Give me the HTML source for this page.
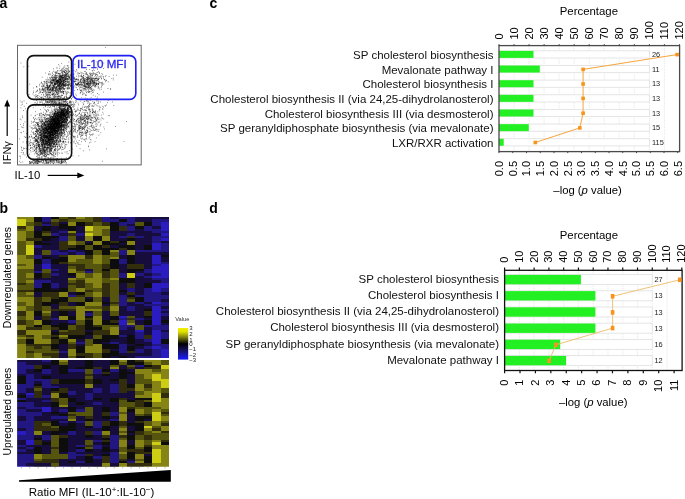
<!DOCTYPE html>
<html><head><meta charset="utf-8"><style>
html,body{margin:0;padding:0;background:#fff;width:685px;height:499px;overflow:hidden}
svg{display:block;font-family:"Liberation Sans",sans-serif;will-change:transform}
</style></head><body><svg width="685" height="499" viewBox="0 0 685 499" font-family="'Liberation Sans', sans-serif"><rect width="685" height="499" fill="#fff"/><text x="-0.60" y="7.70" font-size="14" text-anchor="start" font-weight="bold" fill="#000" >a</text><text x="-0.60" y="213.00" font-size="14" text-anchor="start" font-weight="bold" fill="#000" >b</text><text x="209.40" y="7.80" font-size="14" text-anchor="start" font-weight="bold" fill="#000" >c</text><text x="209.30" y="213.00" font-size="14" text-anchor="start" font-weight="bold" fill="#000" >d</text><path d="M53.4 119.5h.7M60.2 121.2h.7M47.7 118.3h.7M57.5 131.6h.7M52.9 123.8h.7M49.1 126.7h.7M58.6 122.5h.7M67.6 115.5h.7M55.9 126.4h.7M58.1 129.2h.7M59.9 119.0h.7M63.6 122.9h.7M62.4 124.7h.7M52.1 128.2h.7M62.5 126.2h.7M61.0 117.6h.7M50.8 131.6h.7M51.1 122.6h.7M46.6 134.4h.7M53.8 133.1h.7M42.9 131.2h.7M58.4 125.4h.7M52.2 131.8h.7M59.4 120.9h.7M49.1 114.8h.7M55.7 123.0h.7M47.3 141.3h.7M51.4 123.7h.7M57.1 122.6h.7M48.2 114.7h.7M52.2 134.5h.7M52.1 123.5h.7M55.7 131.2h.7M45.8 122.6h.7M64.9 116.5h.7M52.1 127.0h.7M60.0 124.4h.7M57.7 113.3h.7M51.7 124.4h.7M65.3 129.0h.7M54.3 118.9h.7M54.5 119.6h.7M49.9 129.8h.7M53.4 118.7h.7M68.3 115.8h.7M56.2 137.5h.7M58.4 114.1h.7M50.8 116.4h.7M58.5 129.7h.7M71.1 111.1h.7M63.9 119.0h.7M55.7 133.5h.7M54.0 119.1h.7M59.1 117.5h.7M50.6 119.5h.7M54.8 113.3h.7M60.5 125.2h.7M57.6 115.5h.7M73.0 118.3h.7M54.0 126.9h.7M55.5 118.8h.7M57.9 127.4h.7M64.7 126.1h.7M53.1 131.6h.7M49.4 122.7h.7M57.5 124.4h.7M66.8 119.5h.7M60.6 112.7h.7M47.5 129.1h.7M57.1 130.3h.7M60.7 117.9h.7M43.0 132.8h.7M53.2 124.2h.7M53.6 120.6h.7M64.3 114.1h.7M60.8 117.5h.7M59.9 127.4h.7M58.0 126.5h.7M49.6 119.4h.7M66.0 112.5h.7M58.4 127.4h.7M57.3 125.4h.7M62.8 122.4h.7M54.3 121.3h.7M52.3 120.8h.7M55.2 132.3h.7M52.8 119.1h.7M46.3 119.1h.7M66.7 116.7h.7M57.3 115.5h.7M55.7 121.3h.7M54.8 113.5h.7M50.1 120.7h.7M57.6 111.5h.7M55.6 121.0h.7M61.3 119.0h.7M41.7 124.7h.7M61.6 121.7h.7M44.1 130.5h.7M42.9 133.2h.7M58.2 126.0h.7M52.3 128.1h.7M51.8 116.6h.7M75.2 111.4h.7M49.6 125.4h.7M54.9 127.0h.7M58.8 121.1h.7M65.0 122.5h.7M54.3 122.0h.7M60.0 126.2h.7M57.5 115.1h.7M63.9 121.5h.7M49.0 127.1h.7M55.2 121.6h.7M64.6 127.0h.7M53.1 130.2h.7M58.7 120.5h.7M61.6 134.1h.7M63.2 116.2h.7M54.7 118.4h.7M60.3 123.4h.7M49.5 122.9h.7M60.9 125.9h.7M52.0 139.2h.7M49.2 128.3h.7M56.3 117.7h.7M47.3 137.3h.7M61.2 116.1h.7M44.6 131.5h.7M62.9 118.3h.7M44.8 122.3h.7M59.1 115.4h.7M56.1 120.0h.7M48.4 131.9h.7M64.3 114.1h.7M59.2 108.6h.7M59.0 124.1h.7M55.0 123.4h.7M53.7 121.3h.7M46.9 125.0h.7M57.7 111.1h.7M55.8 126.8h.7M53.0 119.7h.7M53.4 127.7h.7M58.1 129.3h.7M54.8 133.7h.7M69.3 117.5h.7M55.1 122.3h.7M57.4 112.3h.7M61.1 124.7h.7M54.8 127.7h.7M59.8 127.4h.7M54.3 125.9h.7M61.7 125.2h.7M58.5 126.9h.7M58.4 126.1h.7M52.3 133.0h.7M54.6 128.7h.7M66.0 111.1h.7M54.6 127.3h.7M55.8 132.1h.7M56.6 118.2h.7M70.7 117.0h.7M49.5 131.8h.7M59.9 126.2h.7M53.6 126.2h.7M47.4 133.6h.7M68.6 122.5h.7M55.7 121.3h.7M52.3 118.0h.7M50.5 125.3h.7M58.0 118.0h.7M62.8 131.7h.7M57.1 123.6h.7M55.3 132.3h.7M47.1 127.7h.7M64.9 113.7h.7M57.2 127.4h.7M65.5 124.9h.7M54.1 120.3h.7M57.2 126.7h.7M55.7 126.4h.7M56.1 114.8h.7M55.5 124.0h.7M55.2 122.3h.7M48.0 115.4h.7M65.1 115.5h.7M62.4 118.7h.7M57.1 118.1h.7M49.0 122.2h.7M56.1 135.7h.7M62.7 116.1h.7M65.7 118.1h.7M61.9 126.9h.7M57.6 116.8h.7M64.0 118.8h.7M60.1 115.5h.7M61.2 115.4h.7M54.4 124.9h.7M64.4 111.4h.7M55.3 133.7h.7M61.7 116.3h.7M58.8 118.1h.7M60.2 115.2h.7M67.5 109.9h.7M60.7 109.2h.7M49.4 128.6h.7M48.6 133.6h.7M58.8 114.8h.7M51.6 128.7h.7M54.5 120.4h.7M69.0 121.7h.7M54.2 137.1h.7M48.5 137.9h.7M58.1 120.0h.7M65.8 127.7h.7M57.1 124.6h.7M56.8 121.5h.7M54.0 128.8h.7M50.8 133.4h.7M61.7 127.0h.7M52.2 128.7h.7M57.2 139.2h.7M56.0 116.1h.7M59.4 124.3h.7M55.0 116.4h.7M59.3 133.9h.7M52.5 125.7h.7M51.9 128.8h.7M56.3 130.7h.7M62.9 124.1h.7M48.8 124.4h.7M57.4 118.6h.7M53.2 115.8h.7M67.4 108.3h.7M49.8 131.4h.7M60.0 114.9h.7M53.9 120.7h.7M55.4 121.0h.7M47.0 130.0h.7M56.8 126.7h.7M66.6 121.0h.7M49.0 117.3h.7M56.9 121.1h.7M53.9 122.9h.7M64.6 115.3h.7M53.2 119.5h.7M45.7 136.9h.7M49.5 124.0h.7M50.1 137.6h.7M41.5 144.9h.7M53.8 125.2h.7M65.0 113.7h.7M56.3 121.0h.7M45.2 125.9h.7M54.8 130.2h.7M63.6 114.9h.7M57.2 120.5h.7M61.1 124.4h.7M61.5 125.7h.7M52.9 118.7h.7M57.9 114.2h.7M65.8 122.4h.7M63.6 124.4h.7M49.0 127.2h.7M54.8 115.2h.7M51.2 125.0h.7M60.4 113.0h.7M44.6 126.5h.7M56.5 123.0h.7M51.9 118.5h.7M45.8 127.9h.7M69.0 112.5h.7M61.4 110.0h.7M54.5 125.0h.7M63.2 118.4h.7M62.0 121.6h.7M42.9 139.3h.7M58.4 120.4h.7M53.5 120.2h.7M64.3 126.2h.7M54.3 131.3h.7M51.3 120.8h.7M56.1 123.3h.7M65.6 115.7h.7M60.5 121.0h.7M64.2 127.1h.7M69.9 115.1h.7M52.2 124.4h.7M54.8 124.5h.7M43.1 131.1h.7M65.6 111.8h.7M62.3 115.7h.7M72.1 123.1h.7M60.6 117.6h.7M49.3 115.5h.7M55.4 118.6h.7M56.2 124.1h.7M51.1 120.0h.7M53.9 119.2h.7M62.9 110.5h.7M61.1 119.1h.7M56.1 122.0h.7M50.7 123.6h.7M57.0 128.6h.7M62.7 109.4h.7M57.5 117.1h.7M51.9 117.7h.7M52.2 122.2h.7M54.2 131.5h.7M50.3 118.0h.7M61.0 115.7h.7M57.9 126.7h.7M54.4 122.5h.7M56.9 124.2h.7M53.1 118.2h.7M54.4 136.7h.7M60.2 126.7h.7M53.8 128.6h.7M54.4 111.0h.7M49.1 124.5h.7M63.7 120.7h.7M71.2 116.1h.7M56.6 125.0h.7M59.0 129.6h.7M55.5 119.0h.7M56.2 121.5h.7M52.2 128.9h.7M60.9 120.0h.7M60.8 103.8h.7M59.4 126.4h.7M61.2 127.1h.7M47.4 126.1h.7M53.2 116.0h.7M52.3 131.6h.7M49.0 127.9h.7M53.9 106.6h.7M55.8 130.5h.7M62.9 114.9h.7M62.6 110.1h.7M66.6 126.0h.7M60.2 118.5h.7M63.6 106.3h.7M56.4 123.6h.7M50.0 123.3h.7M47.4 129.3h.7M58.7 122.8h.7M62.0 110.2h.7M59.9 114.1h.7M59.0 133.2h.7M56.2 130.3h.7M57.7 127.7h.7M60.5 121.4h.7M57.9 124.8h.7M63.8 124.5h.7M58.4 119.9h.7M62.8 129.2h.7M53.1 119.7h.7M57.0 119.9h.7M51.2 118.8h.7M58.1 117.5h.7M68.2 110.4h.7M65.6 121.9h.7M54.7 119.8h.7M48.8 133.8h.7M57.5 118.3h.7M44.6 133.5h.7M45.5 128.5h.7M61.4 116.2h.7M53.6 112.3h.7M56.7 123.3h.7M48.7 134.0h.7M52.6 122.8h.7M49.7 123.9h.7M54.7 113.8h.7M75.4 111.4h.7M52.8 116.8h.7M59.3 131.7h.7M53.7 131.8h.7M55.3 121.4h.7M51.6 120.0h.7M55.5 132.9h.7M64.4 126.0h.7M47.7 127.4h.7M61.2 113.4h.7M66.3 117.5h.7M63.6 115.4h.7M62.6 130.8h.7M57.3 116.8h.7M58.5 124.4h.7M50.2 121.3h.7M63.6 130.1h.7M47.8 129.0h.7M41.3 126.0h.7M60.4 116.1h.7M55.5 122.9h.7M65.6 125.8h.7M60.6 114.1h.7M48.5 134.0h.7M55.5 129.1h.7M64.1 125.1h.7M58.7 119.1h.7M59.2 127.5h.7M64.1 116.3h.7M56.9 119.7h.7M51.4 130.7h.7M52.6 128.6h.7M57.3 113.9h.7M64.0 122.1h.7M42.3 131.4h.7M68.2 115.8h.7M63.7 120.5h.7M63.2 112.4h.7M52.1 122.6h.7M54.7 123.4h.7M53.4 131.1h.7M72.3 106.4h.7M57.3 124.0h.7M68.6 113.7h.7M51.7 125.0h.7M58.7 121.5h.7M42.7 129.3h.7M58.1 126.8h.7M62.4 115.6h.7M49.3 129.6h.7M66.8 117.7h.7M61.4 121.6h.7M40.8 121.5h.7M54.7 125.6h.7M49.0 121.2h.7M61.0 125.3h.7M64.2 132.6h.7M50.9 126.3h.7M55.8 124.3h.7M51.0 128.5h.7M52.1 131.9h.7M59.3 124.1h.7M66.4 119.4h.7M45.7 129.9h.7M63.2 126.3h.7M50.2 124.0h.7M53.3 129.6h.7M65.7 119.2h.7M57.3 127.6h.7M60.6 109.0h.7M50.4 125.5h.7M57.1 118.0h.7M55.7 123.4h.7M57.8 130.4h.7M54.8 114.4h.7M58.1 124.4h.7M62.3 119.5h.7M59.0 123.9h.7M53.5 130.8h.7M62.5 126.9h.7M59.2 123.0h.7M65.0 117.7h.7M54.8 129.9h.7M63.9 127.2h.7M41.1 128.8h.7M65.2 121.0h.7M50.7 128.8h.7M47.1 133.8h.7M52.9 119.7h.7M55.0 109.2h.7M48.1 131.6h.7M49.0 127.7h.7M55.3 128.5h.7M45.7 125.8h.7M64.5 123.3h.7M54.1 128.4h.7M52.5 126.3h.7M57.1 116.0h.7M50.2 125.1h.7M54.7 115.9h.7M50.1 127.3h.7M51.1 130.5h.7M47.4 134.3h.7M60.5 105.1h.7M54.4 123.5h.7M54.7 117.8h.7M57.5 122.7h.7M65.1 126.0h.7M59.7 123.4h.7M65.1 107.9h.7M45.5 124.8h.7M43.8 128.9h.7M45.4 124.4h.7M53.3 133.3h.7M57.6 114.7h.7M61.2 116.5h.7M49.9 127.0h.7M50.6 131.9h.7M60.8 128.3h.7M61.1 110.4h.7M41.9 140.7h.7M56.4 116.1h.7M55.2 131.9h.7M58.0 111.9h.7M47.3 126.4h.7M50.2 120.2h.7M44.1 128.6h.7M54.1 130.1h.7M73.9 119.4h.7M57.1 113.5h.7M58.8 127.4h.7M53.7 128.8h.7M43.4 132.2h.7M54.0 124.0h.7M55.9 121.6h.7M53.9 120.7h.7M64.1 128.0h.7M44.0 124.6h.7M58.2 123.5h.7M58.1 123.2h.7M61.0 111.4h.7M66.7 109.4h.7M59.8 125.4h.7M53.9 127.8h.7M58.3 123.6h.7M56.8 128.1h.7M45.4 121.6h.7M62.5 126.5h.7M60.9 135.5h.7M63.8 120.5h.7M60.5 125.5h.7M52.7 116.4h.7M55.6 122.9h.7M50.3 124.8h.7M50.1 127.0h.7M59.6 126.3h.7M51.2 123.6h.7M57.6 120.0h.7M49.5 116.8h.7M49.7 131.0h.7M57.7 121.8h.7M47.7 129.4h.7M51.2 124.3h.7M63.0 129.2h.7M42.1 133.1h.7M53.3 118.5h.7M54.6 118.7h.7M60.9 126.4h.7M63.2 130.7h.7M56.5 125.5h.7M49.4 126.8h.7M54.0 122.7h.7M58.5 128.8h.7M53.9 118.9h.7M56.8 134.4h.7M63.7 124.3h.7M58.0 121.2h.7M58.9 124.8h.7M57.8 127.1h.7M65.8 122.4h.7M44.8 130.7h.7M63.9 122.0h.7M56.7 119.3h.7M55.4 117.9h.7M59.3 119.6h.7M53.0 126.0h.7M51.9 121.1h.7M53.8 113.2h.7M55.4 116.4h.7M63.7 124.6h.7M57.3 137.9h.7M62.2 120.0h.7M67.4 117.1h.7M59.9 113.5h.7M57.8 120.2h.7M50.5 133.6h.7M57.3 112.5h.7M52.4 120.3h.7M45.0 139.9h.7M57.6 118.5h.7M45.5 129.5h.7M52.2 132.1h.7M52.9 125.7h.7M67.2 116.0h.7M55.2 124.6h.7M57.1 119.3h.7M66.0 110.2h.7M64.1 110.4h.7M53.9 120.9h.7M54.2 122.6h.7M53.8 132.8h.7M56.2 128.6h.7M64.1 122.6h.7M52.3 114.6h.7M56.0 120.2h.7M60.2 113.9h.7M53.9 127.9h.7M54.9 121.1h.7M58.5 115.5h.7M62.9 120.1h.7M62.9 115.0h.7M54.3 116.0h.7M60.7 127.8h.7M62.7 122.2h.7M49.9 127.4h.7M52.3 135.7h.7M56.9 115.9h.7M61.2 125.5h.7M57.6 119.3h.7M45.6 131.6h.7M53.8 123.5h.7M51.1 124.1h.7M53.5 128.5h.7M46.7 138.2h.7M55.5 124.4h.7M59.2 114.2h.7M44.5 109.3h.7M54.4 126.4h.7M49.5 116.9h.7M61.6 117.4h.7M48.0 144.3h.7M57.5 123.6h.7M58.1 117.1h.7M59.6 116.8h.7M64.8 109.8h.7M60.4 112.6h.7M56.2 118.2h.7M54.8 117.4h.7M65.5 119.8h.7M54.3 125.7h.7M60.6 124.9h.7M60.4 115.0h.7M66.8 108.6h.7M55.6 122.6h.7M58.6 123.6h.7M61.2 122.9h.7M64.5 113.3h.7M54.2 120.4h.7M61.1 109.6h.7M58.8 133.3h.7M55.0 122.5h.7M54.9 122.6h.7M66.6 120.6h.7M66.4 117.7h.7M51.7 134.0h.7M51.0 127.3h.7M67.9 126.1h.7M55.3 127.7h.7M51.7 134.1h.7M61.4 114.3h.7M53.8 114.7h.7M54.2 114.9h.7M56.3 126.4h.7M63.6 115.9h.7M54.9 123.0h.7M57.7 111.1h.7M46.9 124.4h.7M51.5 127.0h.7M52.3 116.6h.7M57.1 129.4h.7M64.8 120.5h.7M69.4 128.0h.7M56.0 130.8h.7M55.0 119.9h.7M51.9 122.0h.7M47.9 106.1h.7M51.6 124.8h.7M54.2 124.6h.7M66.7 116.2h.7M70.3 108.1h.7M69.1 109.7h.7M58.1 122.1h.7M60.7 122.3h.7M70.2 115.3h.7M52.2 119.9h.7M50.4 127.5h.7M52.1 117.4h.7M65.6 123.3h.7M58.1 131.3h.7M51.9 135.5h.7M45.3 128.7h.7M60.9 117.8h.7M52.4 126.6h.7M56.6 123.2h.7M57.3 120.0h.7M62.1 119.1h.7M53.8 123.2h.7M62.8 120.9h.7M53.6 128.9h.7M54.1 123.7h.7M51.6 128.8h.7M60.8 112.9h.7M60.1 124.4h.7M52.3 126.4h.7M56.4 125.3h.7M54.4 122.5h.7M54.6 113.0h.7M52.8 135.6h.7M47.8 126.3h.7M57.8 126.5h.7M71.0 105.5h.7M55.1 110.8h.7M52.7 120.2h.7M58.4 115.6h.7M63.8 105.4h.7M51.2 120.4h.7M58.1 126.6h.7M62.0 112.9h.7M60.9 119.6h.7M58.6 116.1h.7M55.7 126.4h.7M63.4 106.5h.7M65.2 110.0h.7M62.0 119.7h.7M60.5 117.4h.7M45.3 134.9h.7M55.8 114.6h.7M56.7 123.8h.7M60.5 119.9h.7M59.3 116.5h.7M52.3 122.3h.7M50.9 135.3h.7M68.6 126.3h.7M52.2 126.3h.7M56.7 125.2h.7M55.5 127.2h.7M45.2 117.3h.7M46.2 138.4h.7M60.2 111.6h.7M63.7 124.0h.7M61.4 113.6h.7M63.6 106.1h.7M56.3 121.2h.7M48.9 135.0h.7M50.4 126.7h.7M50.9 130.3h.7M49.2 121.8h.7M56.5 120.8h.7M50.3 138.1h.7M66.4 125.0h.7M52.4 134.5h.7M59.5 120.7h.7M61.1 126.0h.7M59.5 127.0h.7M63.2 127.1h.7M58.6 128.7h.7M53.6 125.9h.7M49.8 134.4h.7M57.6 122.7h.7M67.2 110.0h.7M67.4 108.8h.7M60.4 110.6h.7M52.2 111.3h.7M51.1 124.9h.7M56.1 106.4h.7M57.0 122.6h.7M56.7 122.5h.7M49.0 119.4h.7M60.2 123.3h.7M58.3 127.4h.7M57.0 122.8h.7M58.3 134.1h.7M62.5 129.8h.7M63.4 102.8h.7M60.7 125.3h.7M57.6 124.9h.7M61.2 119.4h.7M64.1 119.6h.7M48.7 127.8h.7M53.7 121.8h.7M58.2 113.3h.7M55.3 118.0h.7M57.2 120.9h.7M58.9 107.2h.7M49.6 123.8h.7M59.7 123.0h.7M54.2 125.4h.7M65.8 112.7h.7M40.1 130.4h.7M50.7 124.5h.7M52.2 124.2h.7M60.4 117.5h.7M57.7 116.2h.7M67.5 114.9h.7M49.1 132.8h.7M60.7 116.8h.7M55.6 124.1h.7M56.5 128.6h.7M57.8 116.9h.7M56.9 131.5h.7M48.7 137.7h.7M55.8 125.0h.7M49.9 132.5h.7M55.9 128.0h.7M62.8 122.2h.7M62.2 122.4h.7M66.2 112.0h.7M59.5 125.8h.7M50.0 133.0h.7M58.2 130.7h.7M52.4 128.3h.7M42.9 124.8h.7M64.4 122.7h.7M54.3 126.8h.7M42.8 132.5h.7M59.6 116.6h.7M53.0 120.3h.7M67.0 125.3h.7M59.5 122.6h.7M53.9 113.3h.7M59.3 123.2h.7M61.5 112.3h.7M66.6 124.3h.7M54.8 116.4h.7M50.2 113.0h.7M50.2 132.3h.7M54.8 122.2h.7M54.1 122.7h.7M49.6 114.7h.7M52.1 132.6h.7M71.5 115.2h.7M50.0 116.0h.7M55.7 133.7h.7M46.4 132.3h.7M64.9 130.4h.7M58.3 123.8h.7M52.8 126.5h.7M61.8 124.4h.7M55.9 127.9h.7M57.4 116.5h.7M56.3 129.0h.7M54.8 120.9h.7M54.7 110.3h.7M77.5 109.7h.7M50.7 128.1h.7M52.3 123.6h.7M54.2 128.8h.7M54.7 112.2h.7M46.1 126.3h.7M52.7 124.0h.7M54.8 120.8h.7M52.5 129.0h.7M56.7 131.8h.7M52.8 124.0h.7M48.7 138.0h.7M52.3 133.7h.7M50.7 121.9h.7M58.6 121.6h.7M52.4 120.7h.7M52.5 137.3h.7M56.5 126.5h.7M61.0 116.5h.7M54.4 114.4h.7M57.1 122.9h.7M49.7 126.1h.7M62.9 119.5h.7M53.7 125.7h.7M48.1 127.9h.7M56.7 130.1h.7M66.9 113.9h.7M55.7 118.8h.7M67.2 117.1h.7M53.5 124.5h.7M60.4 114.6h.7M54.6 126.5h.7M53.3 121.0h.7M67.4 103.5h.7M60.1 116.2h.7M60.6 129.7h.7M62.5 126.7h.7M57.6 119.0h.7M69.2 118.0h.7M54.4 125.3h.7M50.0 135.2h.7M59.1 126.4h.7M58.2 122.7h.7M67.0 127.9h.7M64.4 113.5h.7M53.8 116.5h.7M66.1 119.9h.7M50.0 128.5h.7M60.0 115.1h.7M55.5 99.2h.7M64.7 119.4h.7M61.5 122.5h.7M60.9 123.1h.7M69.6 112.3h.7M59.1 133.1h.7M56.3 122.6h.7M62.9 121.4h.7M57.7 114.8h.7M53.5 124.1h.7M62.7 122.8h.7M57.2 125.0h.7M52.3 117.5h.7M57.8 123.9h.7M50.7 129.4h.7M53.7 119.9h.7M63.0 117.1h.7M50.7 127.6h.7M49.6 119.4h.7M55.9 114.3h.7M58.7 134.3h.7M51.9 116.6h.7M52.7 130.0h.7M64.9 115.8h.7M70.8 107.7h.7M62.0 104.5h.7M54.7 122.6h.7M61.2 117.2h.7M60.7 123.4h.7M55.0 119.5h.7M60.0 108.0h.7M54.5 133.9h.7M66.5 117.7h.7M58.2 123.4h.7M61.5 110.5h.7M59.5 121.8h.7M54.2 127.0h.7M61.6 122.4h.7M55.7 113.4h.7M57.6 122.1h.7M58.8 118.2h.7M50.1 122.6h.7M47.4 137.5h.7M61.5 115.8h.7M58.8 116.0h.7M59.3 122.1h.7M51.8 117.6h.7M61.8 114.6h.7M56.5 126.4h.7M54.7 127.7h.7M60.3 126.3h.7M58.1 110.4h.7M44.3 127.5h.7M63.8 114.4h.7M55.7 127.7h.7M60.0 135.5h.7M65.6 114.9h.7M53.1 120.3h.7M53.8 133.3h.7M51.9 122.2h.7M55.7 111.4h.7M73.1 120.9h.7M56.2 125.9h.7M61.8 121.1h.7M62.7 118.6h.7M61.0 131.5h.7M59.8 120.3h.7M61.6 125.6h.7M50.3 122.9h.7M49.1 121.6h.7M62.9 125.5h.7M62.9 125.9h.7M56.3 127.3h.7M55.8 125.6h.7M63.1 114.7h.7M55.3 118.6h.7M67.4 120.1h.7M65.5 115.4h.7M61.9 119.3h.7M69.6 107.2h.7M57.1 130.6h.7M62.9 117.8h.7M58.4 126.3h.7M61.5 105.9h.7M67.3 111.6h.7M56.1 141.6h.7M50.2 127.3h.7M59.7 117.0h.7M64.4 119.0h.7M64.4 119.5h.7M59.1 124.2h.7M52.9 114.4h.7M62.2 118.8h.7M52.0 119.3h.7M58.8 112.6h.7M48.1 139.2h.7M58.9 116.8h.7M55.1 131.4h.7M74.1 124.0h.7M58.9 125.7h.7M55.5 130.2h.7M55.3 116.9h.7M50.0 126.6h.7M48.4 125.4h.7M47.3 131.4h.7M52.6 119.2h.7M56.8 116.7h.7M61.2 114.3h.7M52.4 120.2h.7M56.5 110.8h.7M51.7 118.1h.7M58.3 123.9h.7M60.0 118.2h.7M66.2 117.5h.7M59.4 127.3h.7M54.5 122.8h.7M58.9 125.0h.7M51.7 117.5h.7M61.6 134.6h.7M66.7 118.1h.7M54.2 124.2h.7M54.7 115.6h.7M54.5 128.8h.7M51.4 114.4h.7M55.8 117.1h.7M57.9 127.0h.7M67.1 108.1h.7M56.9 118.1h.7M69.4 112.2h.7M57.6 112.5h.7M54.9 127.4h.7M53.2 123.3h.7M55.8 116.6h.7M59.1 122.8h.7M53.3 118.9h.7M63.1 129.2h.7M45.9 133.0h.7M63.7 129.0h.7M41.9 134.4h.7M61.2 121.1h.7M48.7 123.8h.7M48.2 123.3h.7M56.6 124.0h.7M61.0 122.0h.7M45.0 128.5h.7M53.1 137.4h.7M48.7 127.2h.7M47.6 136.6h.7M53.8 129.8h.7M67.1 112.6h.7M44.8 124.4h.7M66.5 121.9h.7M52.5 133.1h.7M56.8 118.7h.7M51.4 121.4h.7M50.0 117.8h.7M54.4 114.3h.7M67.7 111.3h.7M56.6 119.7h.7M53.2 118.0h.7M50.2 127.3h.7M66.0 122.2h.7M54.5 122.8h.7M58.8 114.6h.7M62.1 126.0h.7M67.3 111.2h.7M47.5 135.9h.7M53.2 122.4h.7M55.2 111.6h.7M50.7 121.2h.7M51.2 126.2h.7M54.8 123.2h.7M51.7 132.6h.7M59.7 122.7h.7M69.8 105.6h.7M63.4 114.6h.7M47.6 126.9h.7M44.3 122.1h.7M53.0 123.4h.7M58.1 112.4h.7M50.4 125.9h.7M52.6 126.1h.7M56.4 112.4h.7M56.8 112.9h.7M54.8 124.3h.7M52.0 130.1h.7M46.9 131.0h.7M55.6 128.2h.7M45.3 136.9h.7M56.6 114.0h.7M54.1 126.5h.7M66.7 123.8h.7M63.5 107.1h.7M67.3 117.0h.7M56.8 133.8h.7M67.1 120.1h.7M59.4 111.7h.7M61.3 132.7h.7M52.8 129.0h.7M55.5 122.1h.7M48.3 132.5h.7M66.5 113.4h.7M45.5 138.9h.7M50.9 129.2h.7M60.7 127.4h.7M53.1 121.6h.7M53.7 118.0h.7M61.4 122.3h.7M58.7 125.4h.7M66.8 117.1h.7M42.4 133.9h.7M61.3 125.0h.7M55.4 128.3h.7M64.6 125.9h.7M53.2 117.0h.7M53.4 128.9h.7M52.8 125.7h.7M54.6 112.1h.7M55.9 117.6h.7M58.1 129.8h.7M65.1 106.5h.7M65.4 103.9h.7M53.3 134.6h.7M62.4 122.6h.7M73.1 107.2h.7M57.7 114.4h.7M57.8 120.3h.7M60.0 126.3h.7M51.8 124.0h.7M53.0 121.4h.7M57.6 128.1h.7M66.8 121.1h.7M50.5 121.6h.7M44.6 117.9h.7M45.4 126.4h.7M52.8 119.6h.7M52.1 127.8h.7M58.5 125.0h.7M61.5 114.3h.7M56.0 117.5h.7M60.1 118.9h.7M55.0 116.9h.7M57.1 121.5h.7M53.9 121.1h.7M66.0 131.5h.7M63.9 119.0h.7M48.4 127.3h.7M59.6 109.9h.7M55.4 120.6h.7M46.9 122.7h.7M51.7 123.4h.7M50.8 124.7h.7M61.3 123.3h.7M51.8 125.8h.7M59.5 111.9h.7M47.9 123.8h.7M41.3 134.6h.7M53.2 126.9h.7M46.4 135.4h.7M61.3 125.4h.7M59.7 112.9h.7M64.3 120.4h.7M51.5 132.0h.7M53.3 127.3h.7M57.8 104.1h.7M53.5 116.2h.7M59.9 124.0h.7M67.6 118.5h.7M69.8 105.5h.7M66.3 115.1h.7M56.1 119.9h.7M57.3 118.5h.7M57.4 115.9h.7M57.8 128.9h.7M53.2 130.3h.7M56.3 121.0h.7M51.1 127.7h.7M58.9 124.0h.7M58.7 122.2h.7M65.1 103.4h.7M59.6 132.7h.7M57.4 123.6h.7M56.2 123.2h.7M64.9 123.0h.7M66.1 117.5h.7M54.3 125.2h.7M55.1 129.2h.7M44.8 130.5h.7M50.0 126.7h.7M50.7 112.0h.7M62.0 125.0h.7M44.6 123.8h.7M57.9 126.5h.7M53.9 119.5h.7M55.6 115.8h.7M53.3 125.6h.7M56.8 124.5h.7M50.5 136.3h.7M58.4 134.9h.7M66.3 111.7h.7M49.8 139.7h.7M53.0 122.7h.7M60.9 122.4h.7M55.8 125.0h.7M51.2 126.4h.7M56.3 122.2h.7M56.7 121.9h.7M57.4 123.1h.7M49.4 136.2h.7M54.3 121.6h.7M49.9 125.9h.7M57.3 127.9h.7M51.4 115.7h.7M57.7 115.8h.7M67.5 120.0h.7M43.9 118.0h.7M58.8 113.7h.7M65.4 115.7h.7M56.1 109.5h.7M74.0 119.5h.7M46.1 115.9h.7M61.8 127.2h.7M67.1 120.5h.7M53.9 134.0h.7M57.1 119.9h.7M55.8 126.7h.7M51.7 122.1h.7M51.7 136.4h.7M48.3 125.1h.7M55.8 121.4h.7M65.2 118.6h.7M57.4 112.0h.7M55.2 121.6h.7M56.7 123.8h.7M47.7 124.1h.7M63.5 122.4h.7M57.1 124.7h.7M54.0 113.6h.7M65.4 109.7h.7M53.8 120.1h.7M47.1 130.6h.7M53.1 128.2h.7M47.1 130.2h.7M55.0 133.0h.7M60.6 111.0h.7M62.0 123.1h.7M49.4 132.5h.7M63.6 119.8h.7M61.0 111.7h.7M53.3 123.1h.7M49.2 123.5h.7M57.6 125.9h.7M62.1 122.6h.7M68.5 123.4h.7M67.8 117.3h.7M63.9 114.2h.7M61.9 113.2h.7M65.2 113.6h.7M60.1 117.3h.7M55.3 136.7h.7M60.1 125.5h.7M55.2 117.5h.7M52.4 122.8h.7M66.8 119.4h.7M56.5 125.4h.7M51.6 127.8h.7M68.7 115.2h.7M58.7 116.3h.7M57.0 119.7h.7M59.7 114.3h.7M54.5 109.2h.7M62.1 122.0h.7M40.3 135.8h.7M51.5 125.1h.7M51.8 123.1h.7M55.1 130.9h.7M57.7 120.4h.7M62.9 113.7h.7M48.0 120.8h.7M51.1 129.7h.7M61.1 103.8h.7M56.0 126.0h.7M52.4 131.6h.7M58.1 120.3h.7M67.1 124.7h.7M55.6 128.4h.7M63.2 118.1h.7M55.2 125.8h.7M51.7 127.9h.7M61.7 123.4h.7M65.1 119.7h.7M48.8 122.8h.7M62.8 122.6h.7M58.6 124.1h.7M74.5 105.0h.7M55.4 128.2h.7M58.9 108.9h.7M52.1 119.1h.7M63.6 127.9h.7M61.5 117.7h.7M55.8 111.9h.7M64.5 114.1h.7M57.2 118.7h.7M46.8 121.1h.7M45.4 119.4h.7M53.2 114.0h.7M60.9 118.7h.7M63.6 112.1h.7M58.1 118.4h.7M63.3 115.4h.7M66.8 113.1h.7M49.5 115.1h.7M48.6 131.5h.7M48.0 127.9h.7M45.1 128.6h.7M62.6 109.4h.7M52.4 127.6h.7M62.0 112.7h.7M54.1 113.9h.7M63.5 108.7h.7M69.8 120.6h.7M52.4 119.8h.7M49.4 118.7h.7M58.5 122.2h.7M60.2 122.4h.7M56.2 127.0h.7M52.4 119.1h.7M68.8 113.5h.7M45.6 131.7h.7M53.8 117.1h.7M50.2 126.6h.7M57.5 120.4h.7M63.9 118.1h.7M59.2 124.1h.7M60.7 116.6h.7M52.9 135.6h.7M62.7 114.5h.7M57.6 128.7h.7M54.5 113.8h.7M51.7 116.4h.7M47.4 142.1h.7M47.8 123.4h.7M56.9 119.6h.7M64.2 110.9h.7M56.5 118.7h.7M56.5 119.0h.7M55.6 135.7h.7M54.0 105.1h.7M69.3 111.9h.7M66.2 128.1h.7M56.0 123.6h.7M49.0 133.2h.7M64.2 117.8h.7M77.4 108.2h.7M55.8 113.7h.7M63.5 113.4h.7M58.9 117.7h.7M54.4 130.4h.7M64.1 113.1h.7M53.6 132.4h.7M54.3 122.3h.7M58.6 120.2h.7M58.7 114.0h.7M56.4 117.3h.7M58.3 118.9h.7M52.7 126.9h.7M46.1 127.7h.7M63.5 125.9h.7M53.0 126.6h.7M45.2 127.3h.7M55.2 133.8h.7M51.7 123.4h.7M50.0 136.3h.7M50.4 131.3h.7M50.0 134.1h.7M58.6 121.2h.7M56.7 117.6h.7M66.9 108.1h.7M57.7 138.0h.7M44.9 120.6h.7M61.7 115.8h.7M57.7 124.7h.7M51.3 121.4h.7M59.9 106.3h.7M63.8 130.3h.7M49.9 129.0h.7M58.8 136.9h.7M60.7 121.1h.7M58.8 120.1h.7M52.2 132.9h.7M54.7 130.6h.7M64.2 121.5h.7M61.5 119.2h.7M54.4 126.9h.7M60.7 118.2h.7M65.1 121.7h.7M51.5 136.7h.7M51.5 121.4h.7M56.5 117.4h.7M55.5 126.9h.7M44.1 135.2h.7M54.1 122.9h.7M56.9 114.1h.7M63.7 110.3h.7M48.0 138.4h.7M73.7 106.5h.7M51.5 129.9h.7M69.8 121.0h.7M62.7 113.2h.7M74.3 123.9h.7M61.7 123.7h.7M53.3 131.5h.7M58.1 116.3h.7M42.4 119.2h.7M44.1 139.1h.7M71.5 102.8h.7M68.0 122.4h.7M60.4 105.5h.7M60.0 133.6h.7M63.2 111.1h.7M67.6 112.9h.7M54.6 104.2h.7M57.4 122.5h.7M49.8 129.4h.7M58.8 125.1h.7M46.6 137.6h.7M44.2 130.7h.7M61.2 124.0h.7M54.9 130.8h.7M58.5 124.8h.7M60.4 125.5h.7M70.7 111.6h.7M63.2 112.9h.7M51.4 118.6h.7M57.4 109.8h.7M58.5 131.1h.7M58.2 126.3h.7M61.8 115.9h.7M49.2 129.4h.7M55.8 124.0h.7M50.7 131.3h.7M56.2 120.3h.7M62.2 108.7h.7M61.8 133.2h.7M59.0 121.1h.7M50.2 126.6h.7M46.3 126.4h.7M48.1 128.6h.7M66.9 113.9h.7M71.5 107.6h.7M58.5 118.0h.7M53.7 127.1h.7M59.2 116.3h.7M51.0 121.3h.7M66.0 120.0h.7M59.9 121.0h.7M68.1 126.9h.7M57.0 115.7h.7M53.6 125.7h.7M58.5 127.2h.7M47.6 133.3h.7M49.4 121.3h.7M46.3 129.3h.7M56.7 123.3h.7M53.7 129.6h.7M57.1 121.0h.7M63.2 121.6h.7M54.0 134.6h.7M54.3 128.6h.7M52.5 128.6h.7M59.6 116.1h.7M67.5 111.6h.7M64.8 118.6h.7M55.5 124.6h.7M65.9 113.0h.7M48.3 131.6h.7M58.8 107.7h.7M49.9 123.8h.7M46.5 143.5h.7M71.7 104.8h.7M70.9 115.4h.7M52.2 129.3h.7M61.2 123.2h.7M61.2 127.1h.7M61.4 124.0h.7M47.4 130.7h.7M53.0 126.2h.7M59.8 119.1h.7M54.2 117.7h.7M64.7 115.0h.7M61.4 124.3h.7M66.6 104.3h.7M61.3 132.4h.7M57.1 119.4h.7M46.9 134.8h.7M50.0 130.1h.7M60.7 110.8h.7M54.0 129.7h.7M59.7 118.4h.7M63.2 127.0h.7M54.3 130.9h.7M57.4 125.9h.7M53.6 125.0h.7M49.1 121.5h.7M60.3 116.5h.7M56.8 115.1h.7M57.9 128.6h.7M52.5 128.2h.7M64.9 124.6h.7M59.4 124.7h.7M65.3 117.1h.7M70.9 104.1h.7M61.9 116.7h.7M59.4 124.0h.7M59.8 125.7h.7M50.0 126.0h.7M54.5 129.7h.7M62.4 136.2h.7M54.7 124.5h.7M53.9 124.3h.7M57.9 114.9h.7M49.4 120.8h.7M60.7 126.6h.7M51.3 130.7h.7M66.2 111.4h.7M66.7 123.5h.7M75.6 116.5h.7M57.4 114.0h.7M68.4 114.5h.7M58.2 125.4h.7M62.1 118.1h.7M72.1 104.5h.7M51.0 130.5h.7M69.0 118.2h.7M67.7 111.9h.7M60.4 120.0h.7M65.6 120.1h.7M66.8 115.6h.7M55.6 127.9h.7M60.3 120.0h.7M59.6 133.0h.7M55.6 128.2h.7M53.6 126.2h.7M52.9 120.7h.7M56.4 120.0h.7M55.1 115.9h.7M50.4 132.4h.7M67.9 108.6h.7M54.7 108.1h.7M60.7 116.9h.7M57.8 126.3h.7M57.2 123.1h.7M56.0 115.5h.7M64.1 122.6h.7M45.9 132.1h.7M55.9 113.3h.7M67.3 98.2h.7M47.7 135.1h.7M65.8 117.6h.7M63.4 122.6h.7M57.3 123.4h.7M59.2 108.9h.7M48.5 128.6h.7M54.3 118.4h.7M63.6 111.1h.7M49.0 118.5h.7M55.4 125.3h.7M60.1 123.0h.7M54.2 124.8h.7M66.6 112.2h.7M48.8 125.9h.7M55.7 111.8h.7M48.2 129.2h.7M64.9 120.4h.7M60.5 125.6h.7M42.3 139.2h.7M61.7 125.4h.7M50.4 128.7h.7M60.7 129.3h.7M66.6 112.3h.7M49.6 128.8h.7M54.8 131.8h.7M61.2 109.6h.7M53.9 118.6h.7M59.0 107.0h.7M59.6 120.4h.7M52.4 128.2h.7M56.4 122.3h.7M61.6 112.1h.7M67.4 119.2h.7M55.3 120.8h.7M54.4 119.7h.7M61.3 126.2h.7M59.7 130.1h.7M68.0 109.1h.7M50.2 117.2h.7M49.0 128.4h.7M57.0 127.1h.7M60.7 116.8h.7M66.3 121.7h.7M50.9 119.2h.7M56.3 128.7h.7M54.7 120.1h.7M53.8 137.6h.7M50.2 131.1h.7M65.1 119.1h.7M52.1 123.6h.7M53.3 115.4h.7M58.7 110.2h.7M57.9 115.7h.7M53.1 119.0h.7M72.4 110.1h.7M65.6 120.9h.7M56.3 125.3h.7M56.6 113.9h.7M58.6 118.8h.7M50.0 126.2h.7M63.1 125.5h.7M57.4 124.1h.7M49.1 137.4h.7M54.6 122.1h.7M47.7 118.5h.7M51.8 123.0h.7M44.4 130.7h.7M56.7 125.6h.7M57.2 122.5h.7M54.4 119.1h.7M49.8 129.1h.7M66.3 121.8h.7M47.1 128.1h.7M52.3 121.1h.7M62.6 112.0h.7M50.8 125.0h.7M52.8 124.5h.7M64.5 115.8h.7M61.9 129.5h.7M48.5 119.2h.7M58.0 120.4h.7M62.4 114.6h.7M45.6 137.5h.7M52.1 127.4h.7M50.6 128.3h.7M55.5 132.5h.7M50.9 126.8h.7M52.3 127.6h.7M58.5 119.8h.7M53.0 128.6h.7M56.9 120.7h.7M62.9 121.9h.7M53.3 127.2h.7M58.3 121.5h.7M65.0 110.2h.7M54.7 116.9h.7M50.6 124.3h.7M52.5 119.6h.7M53.2 129.1h.7M55.5 118.1h.7M57.1 112.9h.7M53.9 128.5h.7M58.0 124.9h.7M55.6 109.2h.7M61.2 130.2h.7M58.1 120.8h.7M51.5 129.0h.7M57.1 130.8h.7M54.7 125.8h.7M65.2 105.2h.7M63.6 130.9h.7M50.2 122.7h.7M53.9 125.7h.7M59.5 125.5h.7M56.0 114.5h.7M57.5 120.4h.7M68.6 108.7h.7M67.5 127.1h.7M60.5 109.5h.7M58.2 119.9h.7M62.5 119.6h.7M50.3 132.3h.7M51.7 119.6h.7M58.3 123.6h.7M56.2 124.0h.7M48.3 138.2h.7M65.7 119.0h.7M59.1 127.5h.7M56.5 126.2h.7M57.0 124.6h.7M51.6 120.6h.7M58.5 118.8h.7M51.7 131.5h.7M50.9 127.4h.7M58.8 120.2h.7M54.5 118.7h.7M61.2 128.8h.7M62.7 131.9h.7M51.4 126.7h.7M58.3 123.5h.7M61.8 113.1h.7M56.8 132.8h.7M66.1 112.6h.7M61.4 116.3h.7M53.9 124.5h.7M61.3 116.9h.7M45.9 129.5h.7M51.2 135.9h.7M47.9 129.0h.7M57.1 126.3h.7M55.9 124.6h.7M58.8 128.6h.7M57.4 121.3h.7M50.6 139.7h.7M55.8 116.0h.7M52.5 133.6h.7M52.9 126.0h.7M55.8 125.4h.7M51.6 130.2h.7M54.0 134.1h.7M44.2 123.4h.7M58.2 123.0h.7M54.0 113.8h.7M64.5 121.4h.7M44.4 123.5h.7M49.2 124.7h.7M50.4 151.4h.7M43.8 115.5h.7M44.5 145.4h.7M64.4 138.5h.7M57.8 142.6h.7M47.5 151.6h.7M27.0 129.4h.7M50.1 127.7h.7M51.5 136.8h.7M49.6 124.7h.7M47.3 137.0h.7M73.7 142.9h.7M46.0 136.8h.7M42.4 128.1h.7M57.1 117.8h.7M47.7 129.8h.7M47.2 131.4h.7M46.3 139.3h.7M52.7 143.0h.7M55.7 121.6h.7M35.8 140.4h.7M45.0 141.8h.7M52.5 136.2h.7M43.9 136.4h.7M64.5 119.9h.7M47.5 157.4h.7M42.3 127.9h.7M53.9 128.6h.7M61.2 149.8h.7M59.4 144.3h.7M50.0 130.0h.7M61.5 122.1h.7M40.6 140.3h.7M32.3 143.9h.7M56.6 126.9h.7M55.9 121.1h.7M52.0 138.5h.7M41.6 153.7h.7M56.3 122.0h.7M44.3 134.3h.7M56.4 125.3h.7M55.5 136.8h.7M47.3 137.2h.7M54.0 140.4h.7M39.6 115.7h.7M47.4 118.9h.7M53.6 157.3h.7M60.0 147.5h.7M56.8 118.9h.7M47.0 137.0h.7M34.5 142.5h.7M51.9 135.0h.7M54.9 137.2h.7M36.8 130.6h.7M51.9 139.9h.7M51.9 138.2h.7M51.0 139.4h.7M41.1 127.7h.7M50.7 142.8h.7M36.1 132.2h.7M60.4 139.6h.7M54.3 122.7h.7M40.9 127.3h.7M59.4 138.9h.7M60.0 132.6h.7M45.1 128.5h.7M70.1 130.7h.7M42.6 126.6h.7M57.3 118.9h.7M62.8 125.4h.7M30.7 127.8h.7M55.7 140.6h.7M51.4 125.9h.7M50.6 129.3h.7M40.1 131.7h.7M46.8 148.1h.7M34.2 147.1h.7M42.4 128.1h.7M47.9 125.8h.7M41.8 123.3h.7M57.4 150.1h.7M41.8 120.9h.7M41.2 136.6h.7M47.7 129.6h.7M50.4 130.3h.7M52.7 143.5h.7M53.6 141.7h.7M39.8 151.6h.7M43.0 141.1h.7M43.4 150.2h.7M57.0 132.5h.7M54.8 135.5h.7M47.8 124.3h.7M33.7 124.8h.7M64.1 145.9h.7M57.7 133.7h.7M49.8 138.3h.7M53.7 129.6h.7M45.9 129.7h.7M37.8 139.9h.7M46.4 133.0h.7M47.4 132.9h.7M43.0 134.9h.7M40.3 121.8h.7M52.1 117.8h.7M52.4 139.0h.7M43.9 135.7h.7M41.9 154.1h.7M32.0 129.1h.7M45.9 137.3h.7M41.0 152.9h.7M40.1 127.9h.7M37.1 123.7h.7M49.9 141.8h.7M41.3 135.0h.7M49.8 144.0h.7M48.1 126.0h.7M49.0 149.4h.7M45.3 135.8h.7M43.3 112.2h.7M48.5 133.3h.7M47.9 128.9h.7M53.8 137.2h.7M41.6 143.2h.7M45.8 133.1h.7M57.2 132.9h.7M55.0 146.5h.7M56.2 133.2h.7M61.3 125.9h.7M56.1 125.8h.7M50.0 150.4h.7M52.8 145.3h.7M47.0 149.6h.7M53.0 124.6h.7M52.1 129.0h.7M70.5 134.7h.7M46.3 141.9h.7M43.3 143.7h.7M46.3 132.3h.7M49.1 133.0h.7M48.2 142.3h.7M40.4 129.4h.7M35.3 122.5h.7M52.1 132.8h.7M32.8 138.6h.7M44.2 153.6h.7M49.3 136.7h.7M58.7 135.9h.7M61.5 141.2h.7M50.5 138.9h.7M42.3 138.6h.7M41.9 124.2h.7M42.5 132.2h.7M49.7 133.0h.7M29.3 136.7h.7M47.6 139.8h.7M49.4 132.5h.7M50.9 144.8h.7M42.2 144.3h.7M48.7 137.2h.7M47.0 121.1h.7M45.9 130.9h.7M39.6 115.8h.7M49.6 135.5h.7M60.4 141.3h.7M45.8 146.9h.7M50.0 140.2h.7M45.8 118.3h.7M61.5 135.2h.7M45.3 125.2h.7M57.7 130.0h.7M49.8 134.4h.7M40.7 133.0h.7M57.6 135.9h.7M51.3 128.1h.7M51.9 130.4h.7M54.2 130.9h.7M49.3 132.6h.7M43.5 139.8h.7M51.9 137.7h.7M42.7 141.2h.7M52.8 125.2h.7M36.8 150.8h.7M36.4 131.6h.7M51.4 110.7h.7M43.9 135.6h.7M45.4 144.2h.7M58.4 137.6h.7M39.7 117.6h.7M49.5 135.8h.7M33.3 122.1h.7M41.0 130.1h.7M43.7 135.9h.7M41.2 99.3h.7M34.4 128.0h.7M48.5 139.2h.7M48.0 138.6h.7M49.3 130.3h.7M43.9 128.0h.7M68.7 133.4h.7M48.2 132.3h.7M37.5 144.3h.7M64.1 134.1h.7M52.9 138.5h.7M45.1 135.5h.7M53.7 150.7h.7M48.4 139.6h.7M51.8 142.4h.7M50.8 135.0h.7M36.1 144.0h.7M56.9 136.4h.7M50.7 133.4h.7M37.3 141.1h.7M40.9 137.4h.7M53.8 144.4h.7M49.0 124.8h.7M41.2 156.7h.7M53.1 139.0h.7M44.6 149.2h.7M35.4 133.4h.7M56.8 128.3h.7M54.4 142.4h.7M56.4 135.3h.7M59.2 146.2h.7M58.2 117.7h.7M58.2 128.1h.7M65.4 128.6h.7M42.4 145.0h.7M59.3 148.9h.7M66.4 129.4h.7M54.6 138.0h.7M62.9 141.7h.7M56.9 133.5h.7M37.9 142.6h.7M60.6 130.4h.7M51.7 134.8h.7M53.9 130.9h.7M48.1 140.4h.7M61.5 133.4h.7M51.1 141.9h.7M46.5 123.5h.7M56.6 125.3h.7M57.8 128.0h.7M44.9 127.3h.7M47.6 127.1h.7M37.1 157.0h.7M46.9 124.8h.7M50.9 137.5h.7M57.4 136.1h.7M63.2 142.0h.7M54.0 149.9h.7M55.4 141.8h.7M60.3 131.4h.7M64.3 125.2h.7M44.0 138.5h.7M51.6 144.1h.7M56.3 122.0h.7M45.1 141.5h.7M52.1 114.2h.7M45.1 132.1h.7M44.0 141.1h.7M42.3 121.6h.7M58.7 120.4h.7M44.2 146.7h.7M54.9 120.4h.7M50.8 137.5h.7M59.6 122.8h.7M43.0 135.7h.7M43.0 147.8h.7M37.8 124.8h.7M34.3 119.3h.7M40.3 109.6h.7M66.9 123.1h.7M36.7 122.5h.7M52.0 137.5h.7M59.1 142.9h.7M44.4 135.3h.7M59.3 146.2h.7M62.9 141.8h.7M48.3 159.5h.7M68.5 139.3h.7M53.9 136.1h.7M51.5 109.0h.7M55.7 128.8h.7M43.9 137.0h.7M40.5 125.2h.7M34.9 141.2h.7M65.5 146.1h.7M38.6 149.1h.7M53.5 121.1h.7M45.7 126.8h.7M46.3 144.9h.7M47.0 133.9h.7M48.9 124.4h.7M41.0 126.1h.7M39.0 126.5h.7M40.4 139.5h.7M49.4 140.6h.7M66.0 139.2h.7M60.5 128.9h.7M61.0 146.7h.7M49.3 145.5h.7M52.1 123.6h.7M35.5 138.5h.7M52.6 124.4h.7M32.8 125.6h.7M49.6 125.3h.7M67.8 123.2h.7M54.0 128.9h.7M60.7 130.4h.7M43.1 141.1h.7M35.9 136.3h.7M47.4 126.9h.7M51.0 119.2h.7M63.3 125.1h.7M72.5 119.1h.7M44.3 129.1h.7M47.0 131.2h.7M51.3 124.7h.7M46.5 132.9h.7M39.0 131.0h.7M46.5 143.7h.7M55.3 126.3h.7M48.8 144.8h.7M41.2 126.0h.7M43.7 146.4h.7M38.9 119.2h.7M53.2 145.9h.7M43.8 123.6h.7M41.9 147.5h.7M44.2 136.7h.7M48.4 121.9h.7M38.1 138.2h.7M35.3 128.3h.7M61.5 143.4h.7M43.8 155.4h.7M52.4 132.1h.7M67.4 136.3h.7M44.8 143.7h.7M55.5 130.6h.7M46.8 141.3h.7M55.5 146.5h.7M53.3 135.5h.7M49.5 141.1h.7M54.7 112.9h.7M46.4 148.8h.7M60.9 130.9h.7M35.9 119.2h.7M41.8 151.4h.7M40.3 148.3h.7M48.7 128.2h.7M31.9 132.6h.7M56.3 132.8h.7M46.2 121.5h.7M46.2 136.8h.7M41.8 142.1h.7M27.1 153.6h.7M46.4 131.0h.7M31.5 137.0h.7M42.8 128.6h.7M47.5 131.1h.7M44.7 146.4h.7M55.3 118.9h.7M51.7 124.0h.7M69.1 132.7h.7M48.9 145.9h.7M38.2 134.2h.7M42.6 137.2h.7M42.7 135.9h.7M44.2 143.6h.7M45.9 128.5h.7M43.2 129.6h.7M63.6 135.6h.7M48.0 138.7h.7M50.8 121.6h.7M47.9 131.7h.7M38.6 157.9h.7M58.3 143.9h.7M52.9 136.0h.7M61.4 128.7h.7M23.4 127.7h.7M51.1 137.3h.7M55.6 143.1h.7M67.2 133.9h.7M48.1 138.2h.7M33.6 134.5h.7M51.6 142.4h.7M46.3 127.4h.7M33.2 133.7h.7M38.9 147.3h.7M59.7 131.6h.7M56.6 143.9h.7M56.2 133.0h.7M42.1 127.7h.7M73.3 130.7h.7M43.3 121.4h.7M46.8 139.0h.7M37.2 131.4h.7M55.6 149.5h.7M58.3 120.4h.7M57.8 132.7h.7M54.6 121.9h.7M47.7 136.8h.7M44.0 152.9h.7M39.2 114.9h.7M57.6 136.2h.7M57.0 135.6h.7M46.4 132.5h.7M51.3 128.3h.7M53.4 130.2h.7M56.7 152.9h.7M56.3 125.7h.7M47.9 139.0h.7M43.7 136.8h.7M42.9 114.3h.7M47.6 124.2h.7M48.8 137.3h.7M41.3 150.0h.7M50.5 132.9h.7M57.1 131.5h.7M52.6 136.1h.7M47.5 146.1h.7M52.0 143.1h.7M46.8 145.9h.7M49.8 132.1h.7M55.8 128.2h.7M38.9 120.0h.7M57.0 144.3h.7M39.8 128.3h.7M57.9 131.6h.7M47.8 138.7h.7M57.7 138.7h.7M56.6 115.3h.7M42.5 129.6h.7M60.8 129.4h.7M49.5 138.6h.7M50.5 134.1h.7M44.5 149.7h.7M57.3 137.3h.7M59.8 125.9h.7M58.1 116.1h.7M40.9 119.0h.7M48.4 126.8h.7M50.4 134.0h.7M61.8 144.7h.7M52.0 136.7h.7M50.7 128.4h.7M56.4 144.6h.7M51.6 125.5h.7M46.0 142.9h.7M44.9 150.5h.7M34.2 138.8h.7M51.7 151.8h.7M48.4 147.6h.7M50.9 123.2h.7M39.7 132.6h.7M51.9 132.8h.7M64.4 127.9h.7M48.4 121.1h.7M39.3 135.6h.7M57.1 123.5h.7M37.9 126.1h.7M31.7 127.7h.7M47.3 128.9h.7M39.3 144.9h.7M44.7 140.4h.7M44.7 133.5h.7M54.1 129.7h.7M46.5 136.8h.7M44.3 133.6h.7M48.9 124.2h.7M59.1 123.4h.7M59.6 130.1h.7M60.8 125.5h.7M53.7 139.8h.7M22.1 127.3h.7M42.5 128.4h.7M46.0 135.9h.7M49.5 139.3h.7M41.9 114.7h.7M60.2 140.1h.7M48.8 143.7h.7M46.1 128.0h.7M56.7 118.3h.7M47.0 132.4h.7M47.4 121.0h.7M52.1 139.6h.7M44.3 137.2h.7M36.0 136.2h.7M43.9 133.6h.7M54.5 117.4h.7M37.1 141.4h.7M64.9 123.2h.7M37.5 140.0h.7M62.8 141.4h.7M59.4 129.3h.7M44.0 125.8h.7M51.5 132.0h.7M53.6 152.3h.7M49.2 130.4h.7M36.7 139.8h.7M58.7 111.6h.7M64.7 141.9h.7M38.2 128.2h.7M50.2 146.0h.7M48.0 138.5h.7M44.4 145.4h.7M49.6 124.3h.7M46.1 135.6h.7M59.6 132.2h.7M52.1 142.0h.7M39.9 135.8h.7M66.2 127.2h.7M36.0 139.1h.7M49.0 152.2h.7M52.3 131.1h.7M55.4 147.9h.7M51.0 139.2h.7M61.0 129.1h.7M46.7 141.4h.7M60.2 129.2h.7M50.1 141.3h.7M71.6 127.1h.7M48.3 120.4h.7M57.6 141.9h.7M52.6 137.5h.7M48.3 142.1h.7M45.7 130.8h.7M56.9 125.3h.7M33.1 142.8h.7M41.6 122.0h.7M51.0 148.1h.7M34.4 137.4h.7M55.3 154.3h.7M54.2 114.6h.7M51.8 134.4h.7M51.0 132.2h.7M50.8 141.5h.7M50.8 123.9h.7M39.8 151.9h.7M48.7 133.6h.7M65.1 117.6h.7M57.4 140.9h.7M59.8 137.8h.7M54.7 129.3h.7M45.4 140.9h.7M36.3 129.1h.7M57.9 127.5h.7M57.0 134.9h.7M47.6 129.7h.7M54.9 139.7h.7M60.9 135.2h.7M50.5 134.0h.7M62.8 124.3h.7M54.4 128.6h.7M35.0 131.4h.7M37.9 154.7h.7M48.7 126.6h.7M56.3 129.0h.7M39.7 139.9h.7M39.6 150.8h.7M38.2 141.6h.7M52.3 125.8h.7M46.7 143.9h.7M55.9 141.2h.7M56.7 134.6h.7M54.9 123.8h.7M51.5 135.1h.7M50.2 135.4h.7M48.7 139.5h.7M67.3 124.2h.7M33.2 117.5h.7M47.9 134.6h.7M47.6 147.6h.7M56.1 144.6h.7M42.8 125.9h.7M50.0 141.7h.7M59.4 128.8h.7M47.2 129.7h.7M35.3 126.1h.7M48.9 127.3h.7M41.6 126.3h.7M52.0 143.8h.7M41.8 134.7h.7M71.4 118.5h.7M46.8 145.4h.7M41.6 136.1h.7M49.0 123.2h.7M40.4 132.5h.7M50.1 142.6h.7M57.2 150.4h.7M49.6 128.8h.7M60.3 127.8h.7M46.6 119.0h.7M52.3 134.6h.7M71.4 131.6h.7M35.0 139.4h.7M60.0 136.3h.7M56.8 143.7h.7M35.2 127.2h.7M40.6 123.4h.7M45.3 121.8h.7M54.1 145.9h.7M50.3 121.7h.7M46.7 138.0h.7M51.9 145.4h.7M50.0 136.1h.7M46.7 147.9h.7M47.1 133.2h.7M59.5 134.9h.7M42.7 133.7h.7M64.7 134.3h.7M45.9 136.0h.7M43.2 131.9h.7M50.1 149.0h.7M53.3 135.2h.7M31.0 136.1h.7M49.9 138.9h.7M38.5 131.1h.7M43.6 130.1h.7M50.5 151.2h.7M37.6 145.7h.7M51.4 137.9h.7M48.1 128.9h.7M66.2 136.6h.7M51.7 126.0h.7M44.4 119.2h.7M42.4 126.6h.7M42.3 131.8h.7M47.2 143.8h.7M46.5 142.6h.7M55.8 141.2h.7M51.8 132.3h.7M51.3 132.6h.7M52.1 135.1h.7M48.0 135.2h.7M53.9 129.4h.7M56.5 134.6h.7M56.8 133.8h.7M46.2 129.9h.7M33.6 133.9h.7M39.7 141.0h.7M53.4 130.6h.7M31.0 123.2h.7M45.0 134.8h.7M51.7 139.2h.7M52.4 112.2h.7M38.1 137.7h.7M62.8 141.2h.7M61.4 135.8h.7M43.7 143.7h.7M60.4 137.0h.7M65.7 121.9h.7M43.5 122.6h.7M72.9 136.3h.7M43.9 126.2h.7M47.7 132.4h.7M43.8 122.4h.7M49.6 135.8h.7M37.6 134.1h.7M49.7 133.2h.7M61.0 129.2h.7M52.2 131.8h.7M49.5 127.4h.7M55.2 156.7h.7M46.2 120.9h.7M64.8 116.1h.7M51.4 121.4h.7M50.1 137.6h.7M46.9 141.8h.7M51.3 132.0h.7M45.8 142.8h.7M45.5 125.4h.7M43.2 137.2h.7M56.0 126.9h.7M53.0 121.7h.7M33.5 148.9h.7M44.7 129.5h.7M41.6 138.4h.7M44.4 146.6h.7M48.8 140.2h.7M49.4 136.3h.7M47.5 123.0h.7M44.5 147.8h.7M41.8 120.8h.7M32.9 107.7h.7M50.8 128.6h.7M37.9 124.4h.7M41.7 131.5h.7M35.9 141.1h.7M56.1 131.2h.7M40.9 127.2h.7M53.9 128.4h.7M53.7 109.7h.7M41.8 124.0h.7M38.1 125.7h.7M58.0 121.5h.7M47.9 147.2h.7M51.7 146.5h.7M62.6 142.8h.7M49.3 140.7h.7M53.7 128.7h.7M47.2 136.5h.7M55.7 118.8h.7M51.3 119.5h.7M44.5 124.6h.7M63.8 143.3h.7M36.3 123.1h.7M53.8 127.6h.7M49.2 144.9h.7M51.5 131.4h.7M43.7 124.9h.7M48.3 131.6h.7M50.5 118.7h.7M44.5 120.1h.7M46.0 141.3h.7M46.2 131.7h.7M41.9 139.9h.7M56.4 130.8h.7M37.8 138.7h.7M55.6 127.1h.7M45.4 128.8h.7M55.6 126.6h.7M49.1 135.5h.7M46.2 147.7h.7M46.9 115.4h.7M42.3 133.3h.7M46.6 119.2h.7M51.8 130.7h.7M57.1 130.1h.7M63.5 120.8h.7M46.1 129.5h.7M54.2 121.7h.7M31.2 142.5h.7M34.1 119.8h.7M41.3 133.6h.7M43.2 133.2h.7M36.6 129.4h.7M35.9 125.7h.7M58.6 120.7h.7M36.5 148.2h.7M35.7 128.7h.7M65.1 147.1h.7M54.1 124.1h.7M45.0 136.8h.7M55.8 131.8h.7M41.5 135.3h.7M63.7 132.6h.7M39.9 120.4h.7M37.2 133.7h.7M47.9 133.1h.7M38.1 144.4h.7M61.1 135.3h.7M38.8 121.6h.7M41.2 136.8h.7M54.3 124.6h.7M46.5 154.1h.7M50.8 153.4h.7M47.0 147.3h.7M64.8 144.6h.7M45.1 132.4h.7M49.9 135.1h.7M55.4 137.0h.7M48.6 126.5h.7M44.9 137.3h.7M40.9 143.8h.7M39.6 143.1h.7M46.6 111.8h.7M36.7 153.3h.7M35.8 131.0h.7M56.5 122.0h.7M37.6 125.0h.7M62.4 147.3h.7M62.2 138.8h.7M60.3 129.4h.7M50.9 122.5h.7M41.1 140.2h.7M60.9 130.6h.7M50.9 132.1h.7M56.7 125.6h.7M47.4 119.4h.7M56.0 140.0h.7M37.6 144.5h.7M50.8 130.6h.7M40.6 113.0h.7M45.6 125.8h.7M53.4 133.3h.7M52.8 111.1h.7M41.7 141.9h.7M57.8 128.1h.7M46.2 138.7h.7M58.7 137.0h.7M29.7 126.1h.7M58.0 122.0h.7M49.6 143.7h.7M34.6 134.2h.7M33.1 144.3h.7M57.2 132.0h.7M38.6 134.9h.7M44.9 128.2h.7M49.9 145.2h.7M44.8 136.1h.7M55.8 126.0h.7M41.1 132.9h.7M53.0 129.1h.7M58.9 132.3h.7M50.0 137.9h.7M26.1 141.4h.7M57.0 126.9h.7M49.6 132.5h.7M44.6 122.4h.7M53.1 155.8h.7M29.3 143.6h.7M56.5 158.4h.7M40.7 139.8h.7M64.5 129.1h.7M50.1 128.7h.7M37.9 130.3h.7M49.8 132.9h.7M53.7 128.0h.7M51.9 138.1h.7M58.3 133.4h.7M41.9 130.0h.7M45.4 154.8h.7M53.2 139.4h.7M50.8 120.9h.7M39.8 134.7h.7M40.5 132.4h.7M52.6 141.4h.7M53.3 140.5h.7M45.6 121.4h.7M37.0 132.4h.7M55.1 146.6h.7M26.1 157.1h.7M48.0 139.4h.7M35.8 149.1h.7M28.7 145.0h.7M52.1 127.1h.7M49.3 127.0h.7M53.8 155.1h.7M69.4 132.8h.7M48.6 129.2h.7M54.2 143.8h.7M59.2 130.3h.7M39.1 146.8h.7M37.7 142.1h.7M56.7 151.4h.7M42.0 142.7h.7M51.2 125.9h.7M41.9 144.9h.7M43.8 143.7h.7M40.7 140.6h.7M55.1 134.3h.7M57.4 140.5h.7M48.4 125.1h.7M35.3 136.2h.7M44.8 145.5h.7M35.1 134.0h.7M43.6 131.7h.7M55.3 145.7h.7M67.9 138.1h.7M57.4 118.8h.7M38.2 136.0h.7M54.9 135.8h.7M35.1 115.3h.7M40.9 137.7h.7M57.9 145.9h.7M50.9 145.9h.7M38.8 126.4h.7M37.0 124.6h.7M54.8 137.8h.7M48.3 133.5h.7M47.9 120.9h.7M54.6 127.4h.7M39.4 144.9h.7M33.2 128.5h.7M55.3 135.4h.7M45.7 125.7h.7M39.8 133.1h.7M35.8 136.0h.7M49.0 138.9h.7M36.3 147.6h.7M53.3 136.1h.7M44.4 138.6h.7M58.6 133.1h.7M42.1 142.1h.7M41.8 136.1h.7M29.6 137.1h.7M36.3 140.5h.7M56.4 130.0h.7M71.2 147.1h.7M39.9 126.6h.7M36.6 141.1h.7M51.4 134.3h.7M46.7 150.6h.7M41.5 136.5h.7M47.4 138.9h.7M37.5 124.3h.7M46.6 131.7h.7M55.0 138.4h.7M64.1 131.5h.7M47.7 132.0h.7M48.1 128.7h.7M54.5 128.7h.7M57.0 138.0h.7M51.3 138.3h.7M43.5 129.1h.7M49.9 139.0h.7M57.4 133.6h.7M46.4 122.3h.7M40.6 122.8h.7M51.2 139.1h.7M47.2 146.8h.7M55.9 137.5h.7M48.7 135.6h.7M46.9 122.5h.7M43.7 136.4h.7M39.6 133.1h.7M43.3 125.0h.7M42.4 136.9h.7M44.1 134.3h.7M62.8 122.2h.7M43.5 117.4h.7M50.1 128.5h.7M44.6 130.2h.7M57.1 147.2h.7M52.3 130.1h.7M45.7 132.7h.7M55.6 134.7h.7M47.3 139.1h.7M44.6 133.0h.7M60.0 140.4h.7M55.1 133.5h.7M66.8 126.6h.7M58.8 134.4h.7M49.2 151.3h.7M46.4 143.3h.7M34.7 145.3h.7M51.5 143.4h.7M50.9 129.5h.7M55.1 132.7h.7M46.5 139.6h.7M43.9 129.9h.7M38.0 138.1h.7M49.4 149.0h.7M54.2 150.6h.7M43.4 141.1h.7M56.7 123.0h.7M55.1 150.2h.7M45.9 120.8h.7M50.1 121.5h.7M39.0 132.7h.7M57.7 138.2h.7M48.6 140.5h.7M44.8 133.2h.7M37.5 123.7h.7M47.1 133.7h.7M59.7 128.3h.7M50.0 122.9h.7M46.3 130.0h.7M54.7 133.3h.7M38.5 131.3h.7M50.0 131.4h.7M49.6 146.0h.7M43.6 128.5h.7M42.6 130.1h.7M47.7 142.7h.7M54.7 114.9h.7M43.5 142.3h.7M47.3 142.7h.7M51.2 132.5h.7M34.9 148.9h.7M40.7 139.5h.7M47.1 149.2h.7M54.3 146.2h.7M58.8 139.5h.7M42.9 129.1h.7M60.8 127.7h.7M57.2 129.4h.7M52.1 123.7h.7M54.3 130.5h.7M53.6 140.9h.7M66.3 129.6h.7M38.6 135.7h.7M51.3 141.6h.7M52.4 120.4h.7M49.5 126.8h.7M58.3 135.7h.7M57.5 130.0h.7M43.4 123.6h.7M41.9 145.7h.7M50.1 135.9h.7M33.5 140.8h.7M55.8 135.8h.7M45.8 140.2h.7M54.3 122.8h.7M52.9 130.7h.7M60.2 146.8h.7M48.8 134.7h.7M41.8 144.2h.7M62.5 139.0h.7M46.4 128.1h.7M45.3 130.5h.7M31.3 147.6h.7M56.0 140.5h.7M52.4 130.7h.7M53.3 133.0h.7M53.7 124.6h.7M43.3 145.5h.7M44.1 127.5h.7M40.3 138.0h.7M52.6 133.9h.7M50.9 131.2h.7M63.7 133.0h.7M40.7 137.4h.7M45.3 131.4h.7M36.7 141.9h.7M54.9 151.0h.7M40.6 125.9h.7M54.5 137.1h.7M54.7 153.0h.7M44.7 141.6h.7M54.4 136.3h.7M36.8 114.4h.7M48.9 124.0h.7M38.1 122.5h.7M44.2 150.9h.7M48.3 135.3h.7M44.1 128.0h.7M57.3 133.6h.7M52.8 131.8h.7M43.7 135.0h.7M50.3 117.3h.7M41.8 117.0h.7M46.8 134.7h.7M62.2 149.3h.7M49.7 114.1h.7M50.1 140.6h.7M48.2 122.2h.7M61.2 119.7h.7M49.0 144.1h.7M47.7 131.2h.7M33.4 132.4h.7M46.2 128.4h.7M59.1 135.0h.7M53.0 116.4h.7M55.5 131.0h.7M44.8 133.1h.7M37.5 119.0h.7M51.1 138.1h.7M50.0 138.6h.7M51.3 112.8h.7M43.0 140.7h.7M49.3 139.6h.7M44.1 132.4h.7M47.9 144.9h.7M40.2 152.7h.7M33.4 118.3h.7M44.9 141.0h.7M42.1 137.6h.7M40.8 135.4h.7M48.6 144.4h.7M41.3 142.6h.7M53.4 134.6h.7M65.0 116.2h.7M52.1 128.3h.7M38.8 123.3h.7M38.0 145.8h.7M55.8 137.3h.7M42.7 144.3h.7M44.8 125.2h.7M47.2 136.2h.7M52.7 135.6h.7M50.4 136.0h.7M51.8 141.5h.7M37.2 145.7h.7M48.4 128.5h.7M42.2 146.1h.7M44.6 144.9h.7M31.1 131.1h.7M44.5 140.1h.7M38.9 128.3h.7M62.9 129.4h.7M61.7 136.7h.7M62.6 137.5h.7M55.1 136.6h.7M47.6 125.4h.7M50.2 153.7h.7M48.3 130.6h.7M50.5 144.6h.7M37.5 142.9h.7M44.0 132.7h.7M51.1 139.3h.7M64.5 134.4h.7M52.0 124.6h.7M58.9 161.7h.7M70.2 143.0h.7M44.9 113.3h.7M51.3 126.7h.7M45.9 118.8h.7M47.9 133.2h.7M39.8 145.8h.7M44.5 144.3h.7M58.6 130.9h.7M59.2 128.6h.7M48.4 141.8h.7M47.8 136.9h.7M50.5 132.5h.7M44.0 150.5h.7M52.1 139.3h.7M54.0 120.0h.7M59.8 116.4h.7M38.0 131.7h.7M60.9 120.4h.7M60.8 144.2h.7M47.5 142.2h.7M30.3 150.4h.7M62.5 129.8h.7M44.9 136.9h.7M32.7 105.0h.7M48.0 130.9h.7M54.1 134.5h.7M45.9 151.7h.7M63.4 124.7h.7M52.4 139.5h.7M49.2 136.3h.7M25.9 148.5h.7M42.9 123.0h.7M53.3 126.2h.7M52.1 141.8h.7M40.9 130.7h.7M45.1 129.2h.7M55.6 127.2h.7M34.0 128.0h.7M38.9 113.5h.7M46.1 136.0h.7M48.7 140.6h.7M43.4 137.3h.7M22.3 150.5h.7M46.3 141.7h.7M41.5 121.7h.7M54.7 134.0h.7M45.3 141.5h.7M51.9 132.1h.7M47.2 154.3h.7M43.6 135.5h.7M57.0 132.1h.7M60.8 131.8h.7M49.3 142.5h.7M62.2 130.1h.7M49.8 116.0h.7M54.6 140.9h.7M53.3 128.6h.7M35.9 145.5h.7M41.7 151.7h.7M46.5 127.5h.7M44.5 132.5h.7M50.1 132.9h.7M55.2 142.7h.7M45.3 136.1h.7M52.4 127.6h.7M42.7 114.9h.7M48.9 136.7h.7M52.5 152.5h.7M59.3 125.4h.7M54.5 130.4h.7M46.8 126.8h.7M41.6 130.0h.7M55.6 113.4h.7M38.4 129.9h.7M40.7 126.3h.7M50.2 153.7h.7M39.6 137.0h.7M60.7 145.7h.7M37.3 130.6h.7M53.3 132.6h.7M37.0 137.7h.7M55.8 119.5h.7M37.1 140.9h.7M47.6 138.6h.7M48.3 131.8h.7M41.1 144.3h.7M54.6 130.8h.7M62.7 133.1h.7M43.1 135.3h.7M61.9 119.9h.7M49.7 133.9h.7M49.4 131.8h.7M63.0 149.3h.7M26.1 143.1h.7M41.3 138.1h.7M33.4 132.1h.7M44.8 137.6h.7M49.4 126.9h.7M47.8 145.6h.7M57.0 155.9h.7M63.4 126.2h.7M43.4 138.2h.7M50.9 140.4h.7M58.4 149.1h.7M53.0 126.9h.7M49.1 138.7h.7M53.4 133.9h.7M30.2 148.3h.7M46.1 121.6h.7M52.7 131.9h.7M54.9 131.1h.7M45.5 120.7h.7M45.6 135.2h.7M47.2 135.6h.7M49.9 127.6h.7M55.6 132.6h.7M48.8 136.9h.7M50.2 134.5h.7M35.9 134.8h.7M42.7 125.0h.7M54.3 127.0h.7M36.1 129.8h.7M57.0 118.4h.7M38.5 146.2h.7M41.5 134.1h.7M59.4 121.0h.7M42.0 136.2h.7M36.7 146.2h.7M47.9 120.0h.7M51.0 129.7h.7M66.6 153.0h.7M34.4 121.3h.7M45.2 143.5h.7M42.4 145.7h.7M55.8 138.5h.7M44.2 137.6h.7M25.5 137.1h.7M58.0 141.5h.7M36.8 140.2h.7M48.4 133.7h.7M37.8 130.6h.7M42.4 124.5h.7M43.3 137.0h.7M51.1 148.8h.7M51.1 148.6h.7M43.1 134.8h.7M57.7 122.1h.7M48.5 125.7h.7M47.5 140.4h.7M53.0 126.4h.7M49.8 146.5h.7M47.1 123.5h.7M46.4 137.4h.7M52.9 128.1h.7M51.4 129.0h.7M41.4 134.5h.7M63.4 136.4h.7M41.5 142.6h.7M54.4 137.2h.7M53.8 125.2h.7M71.7 101.2h.7M33.6 121.7h.7M65.2 139.5h.7M43.6 142.8h.7M42.3 121.3h.7M44.3 149.5h.7M63.9 148.0h.7M53.8 132.6h.7M34.9 141.6h.7M50.0 119.2h.7M62.8 128.4h.7M35.6 135.4h.7M45.4 138.8h.7M42.0 145.3h.7M61.2 153.1h.7M47.7 129.5h.7M61.1 132.5h.7M44.4 129.2h.7M43.1 129.6h.7M54.8 142.2h.7M54.7 132.9h.7M30.1 142.5h.7M53.7 136.1h.7M58.5 123.0h.7M48.0 120.7h.7M48.8 139.1h.7M49.7 138.1h.7M49.2 120.6h.7M49.8 116.6h.7M38.4 145.8h.7M45.1 137.4h.7M38.8 128.4h.7M52.2 123.3h.7M34.0 137.5h.7M51.3 128.8h.7M46.9 136.8h.7M48.1 110.0h.7M56.8 132.9h.7M63.5 141.1h.7M58.0 141.1h.7M41.2 120.9h.7M60.9 131.9h.7M46.8 144.6h.7M48.9 132.2h.7M39.5 144.6h.7M46.1 141.1h.7M55.4 149.9h.7M48.6 147.8h.7M43.1 139.3h.7M40.1 141.2h.7M47.0 128.4h.7M55.8 128.9h.7M62.6 141.8h.7M36.5 141.3h.7M51.2 127.1h.7M38.9 151.3h.7M36.3 149.4h.7M54.1 128.9h.7M55.1 130.0h.7M40.5 121.5h.7M39.7 133.2h.7M53.9 149.1h.7M49.4 139.8h.7M54.6 130.7h.7M42.1 139.7h.7M43.3 139.5h.7M47.7 148.1h.7M40.8 143.3h.7M42.5 123.5h.7M50.1 130.2h.7M52.0 147.3h.7M36.9 141.0h.7M55.1 142.4h.7M55.9 131.4h.7M37.9 142.3h.7M48.1 135.8h.7M41.3 153.4h.7M49.5 147.4h.7M55.2 132.4h.7M41.2 122.5h.7M34.1 140.8h.7M54.2 144.2h.7M52.1 127.5h.7M50.6 139.0h.7M49.5 140.1h.7M62.4 134.1h.7M39.7 129.1h.7M60.8 127.5h.7M44.7 124.8h.7M52.5 141.6h.7M58.8 139.2h.7M37.5 130.9h.7M47.3 147.6h.7M43.2 142.2h.7M49.5 124.7h.7M43.7 148.6h.7M43.5 122.3h.7M41.9 129.0h.7M53.3 137.4h.7M57.0 131.9h.7M45.7 128.4h.7M41.0 119.3h.7M65.6 144.5h.7M56.5 139.5h.7M50.6 137.5h.7M46.6 114.5h.7M47.1 124.1h.7M47.5 143.3h.7M39.9 134.5h.7M58.9 145.2h.7M49.7 134.5h.7M52.4 133.5h.7M48.0 110.8h.7M35.5 148.0h.7M45.7 122.8h.7M52.2 131.1h.7M44.2 139.8h.7M45.8 134.8h.7M49.5 139.6h.7M50.5 134.5h.7M63.6 129.5h.7M42.1 147.3h.7M44.9 119.6h.7M47.3 137.6h.7M65.0 125.0h.7M45.6 129.0h.7M53.0 123.3h.7M47.6 128.1h.7M55.3 125.7h.7M50.8 134.5h.7M39.5 139.4h.7M49.0 127.6h.7M58.3 130.6h.7M64.1 118.6h.7M49.3 154.8h.7M54.8 138.5h.7M49.5 123.8h.7M41.7 144.4h.7M55.2 138.9h.7M46.3 111.9h.7M52.8 121.4h.7M31.2 136.8h.7M50.3 120.4h.7M46.9 121.6h.7M41.7 123.8h.7M54.4 132.4h.7M43.6 130.0h.7M42.9 140.9h.7M44.9 138.1h.7M45.2 125.5h.7M60.3 137.0h.7M50.8 116.2h.7M49.1 137.7h.7M30.6 151.9h.7M43.8 135.8h.7M47.0 130.8h.7M47.5 129.9h.7M44.3 131.9h.7M47.1 141.9h.7M65.7 125.2h.7M45.4 139.7h.7M49.9 127.4h.7M44.7 135.6h.7M64.7 152.1h.7M65.9 126.1h.7M44.9 158.2h.7M51.4 143.8h.7M44.5 128.3h.7M46.3 136.9h.7M52.8 128.0h.7M49.3 135.4h.7M40.5 135.7h.7M49.6 112.6h.7M52.0 137.6h.7M50.6 136.4h.7M28.6 137.8h.7M47.0 141.1h.7M60.8 131.9h.7M45.5 127.2h.7M50.6 134.8h.7M35.0 136.2h.7M57.4 130.3h.7M34.4 146.1h.7M37.8 133.6h.7M45.4 135.4h.7M64.5 148.4h.7M44.4 131.0h.7M36.6 136.4h.7M49.7 142.6h.7M56.4 118.6h.7M64.1 132.2h.7M42.7 119.7h.7M36.4 129.0h.7M49.4 124.5h.7M54.2 128.1h.7M55.5 124.2h.7M64.9 116.0h.7M36.3 131.8h.7M43.1 129.4h.7M47.5 134.1h.7M47.9 147.8h.7M45.5 132.6h.7M42.8 125.4h.7M53.8 141.6h.7M59.9 126.6h.7M74.2 130.2h.7M46.0 137.2h.7M66.1 125.9h.7M45.0 114.9h.7M46.0 128.3h.7M40.3 140.8h.7M49.9 119.5h.7M41.4 132.9h.7M43.3 135.8h.7M48.7 132.7h.7M43.5 137.5h.7M57.4 126.2h.7M50.6 126.8h.7M52.7 123.0h.7M62.2 132.9h.7M48.6 141.9h.7M49.5 135.8h.7M51.5 126.0h.7M47.9 137.7h.7M62.7 109.5h.7M41.7 133.8h.7M55.8 142.4h.7M64.8 128.1h.7M60.2 130.5h.7M44.8 132.8h.7M35.6 131.4h.7M46.7 128.9h.7M52.7 126.9h.7M57.7 129.5h.7M46.4 136.1h.7M47.8 129.2h.7M63.4 130.7h.7M46.0 125.2h.7M53.0 144.4h.7M35.8 137.1h.7M50.2 136.8h.7M45.0 130.7h.7M44.3 123.0h.7M36.3 123.1h.7M36.1 130.6h.7M52.1 134.9h.7M51.4 117.1h.7M48.9 140.2h.7M41.4 128.2h.7M51.3 119.0h.7M47.8 130.1h.7M30.0 147.8h.7M37.0 125.8h.7M51.0 138.6h.7M49.6 135.3h.7M44.9 121.9h.7M49.5 129.4h.7M53.1 138.2h.7M66.0 131.2h.7M43.2 127.5h.7M53.9 134.7h.7M66.3 137.3h.7M50.1 131.8h.7M59.1 141.1h.7M27.0 130.6h.7M60.2 137.8h.7M45.6 142.4h.7M30.0 139.8h.7M59.1 124.5h.7M56.2 139.0h.7M58.1 137.6h.7M57.7 138.5h.7M48.6 133.6h.7M43.0 131.6h.7M45.4 132.0h.7M45.9 141.0h.7M55.0 126.8h.7M42.8 138.7h.7M52.5 124.8h.7M49.4 153.5h.7M47.9 144.3h.7M70.0 131.6h.7M65.2 141.4h.7M37.6 136.6h.7M45.5 128.9h.7M35.1 139.5h.7M39.9 129.9h.7M45.8 155.2h.7M39.5 135.1h.7M38.4 136.7h.7M48.4 128.3h.7M57.9 128.4h.7M43.2 140.5h.7M51.2 118.5h.7M54.0 141.8h.7M45.8 153.6h.7M44.6 156.5h.7M61.2 122.9h.7M40.5 131.8h.7M48.4 140.3h.7M41.4 138.8h.7M53.3 146.6h.7M59.6 124.2h.7M40.3 131.7h.7M65.1 121.8h.7M39.0 132.4h.7M50.3 158.2h.7M53.1 127.0h.7M40.7 134.7h.7M39.2 132.8h.7M51.5 119.1h.7M47.7 136.2h.7M47.0 121.5h.7M53.2 135.6h.7M35.3 136.6h.7M50.4 129.4h.7M46.8 139.3h.7M38.1 117.6h.7M54.3 126.2h.7M39.0 129.7h.7M31.1 121.3h.7M45.8 127.1h.7M46.1 135.7h.7M58.8 128.5h.7M44.2 134.6h.7M62.3 132.6h.7M57.0 146.5h.7M57.7 136.1h.7M60.5 134.0h.7M49.0 142.0h.7M43.0 136.0h.7M52.1 140.5h.7M58.7 130.2h.7M48.3 141.0h.7M48.3 129.3h.7M41.4 115.8h.7M55.3 132.6h.7M46.3 149.3h.7M38.9 129.0h.7M52.9 124.9h.7M53.5 138.5h.7M51.5 123.6h.7M57.0 130.6h.7M56.1 132.3h.7M36.3 131.9h.7M44.7 137.6h.7M51.8 137.5h.7M56.2 135.9h.7M61.6 133.2h.7M35.0 124.6h.7M47.3 136.3h.7M54.6 135.3h.7M59.7 133.9h.7M56.8 153.2h.7M38.9 138.0h.7M43.3 139.9h.7M39.8 132.6h.7M54.4 138.6h.7M37.5 132.3h.7M55.3 145.0h.7M58.4 130.5h.7M53.5 132.7h.7M26.3 142.2h.7M43.5 131.7h.7M51.1 146.0h.7M43.2 114.5h.7M45.4 137.2h.7M46.7 137.0h.7M56.1 135.6h.7M50.4 136.4h.7M50.8 135.1h.7M50.4 118.7h.7M49.6 131.8h.7M50.5 125.9h.7M58.2 125.8h.7M44.2 141.9h.7M62.5 121.6h.7M37.6 122.7h.7M61.4 128.7h.7M44.7 141.0h.7M60.4 129.7h.7M50.8 130.3h.7M53.8 141.0h.7M68.0 117.7h.7M46.3 127.1h.7M48.7 136.1h.7M48.1 131.5h.7M53.4 126.2h.7M39.7 119.0h.7M49.3 128.1h.7M50.8 122.2h.7M47.4 118.4h.7M43.3 144.2h.7M35.1 133.6h.7M56.8 146.1h.7M52.6 134.1h.7M68.4 126.3h.7M44.0 125.4h.7M36.2 139.7h.7M50.1 137.2h.7M39.0 119.8h.7M48.9 139.1h.7M42.9 132.6h.7M47.2 130.0h.7M44.9 150.7h.7M51.7 126.9h.7M64.6 136.0h.7M55.6 130.5h.7M35.4 138.7h.7M54.0 143.4h.7M36.3 135.2h.7M50.3 131.7h.7M39.2 129.5h.7M42.7 130.2h.7M65.0 121.5h.7M48.6 120.5h.7M41.4 138.3h.7M42.2 137.9h.7M51.9 117.5h.7M59.1 140.7h.7M44.0 118.0h.7M44.2 115.9h.7M51.6 140.2h.7M35.3 131.5h.7M46.1 131.9h.7M54.9 144.7h.7M45.6 142.4h.7M43.7 135.9h.7M45.9 124.1h.7M40.1 135.1h.7M43.4 133.9h.7M48.3 138.2h.7M54.1 149.5h.7M61.2 123.2h.7M36.7 153.0h.7M40.8 137.4h.7M56.0 130.7h.7M29.9 140.9h.7M47.2 127.0h.7M50.2 121.6h.7M37.1 138.2h.7M41.5 129.0h.7M47.8 144.6h.7M37.3 124.4h.7M41.7 130.3h.7M44.3 129.9h.7M53.7 121.7h.7M39.4 125.5h.7M61.6 124.8h.7M48.3 127.1h.7M42.7 143.6h.7M46.6 130.3h.7M44.9 127.4h.7M36.2 143.8h.7M62.0 125.0h.7M50.4 133.6h.7M48.9 130.1h.7M53.5 144.5h.7M43.2 131.0h.7M54.5 132.8h.7M47.7 136.6h.7M41.8 130.4h.7M47.6 154.7h.7M41.2 117.2h.7M50.0 145.5h.7M34.5 150.6h.7M48.6 143.4h.7M56.7 145.0h.7M54.8 130.4h.7M40.8 140.1h.7M49.2 131.0h.7M42.5 141.1h.7M46.4 110.6h.7M41.5 125.6h.7M55.2 116.3h.7M49.4 144.2h.7M36.7 122.6h.7M44.8 141.9h.7M54.3 129.9h.7M51.5 127.9h.7M35.4 145.0h.7M52.9 146.7h.7M35.1 140.5h.7M48.6 148.9h.7M58.6 144.7h.7M29.2 136.4h.7M45.7 147.3h.7M51.2 133.6h.7M51.9 129.4h.7M38.1 143.2h.7M44.1 137.7h.7M37.4 129.6h.7M48.6 136.1h.7M50.3 141.4h.7M45.7 124.5h.7M43.8 123.4h.7M46.8 126.2h.7M47.6 135.5h.7M55.2 116.1h.7M53.2 117.8h.7M47.5 137.4h.7M37.6 131.0h.7M30.7 115.2h.7M50.5 142.5h.7M60.7 134.1h.7M37.3 129.2h.7M40.8 138.0h.7M49.9 136.6h.7M50.6 150.4h.7M51.6 140.3h.7M51.8 155.1h.7M55.3 113.1h.7M56.4 121.4h.7M55.5 123.8h.7M45.9 129.7h.7M60.9 128.2h.7M57.3 124.1h.7M59.2 127.4h.7M48.2 124.3h.7M53.4 144.7h.7M41.4 126.8h.7M49.6 139.5h.7M23.9 136.7h.7M36.6 141.0h.7M55.4 131.9h.7M48.1 123.0h.7M45.1 146.4h.7M41.2 113.5h.7M65.1 125.0h.7M51.7 138.8h.7M46.5 137.7h.7M51.2 135.5h.7M54.0 125.9h.7M58.0 141.1h.7M46.3 144.2h.7M37.8 126.4h.7M39.5 151.4h.7M58.7 136.1h.7M56.4 125.0h.7M45.9 129.8h.7M55.5 128.5h.7M50.7 129.6h.7M55.3 128.9h.7M36.3 127.9h.7M38.5 138.6h.7M52.7 137.6h.7M46.2 133.7h.7M55.0 123.5h.7M68.8 124.8h.7M47.1 129.1h.7M47.6 141.1h.7M41.5 138.6h.7M42.7 133.6h.7M52.1 121.1h.7M37.9 126.6h.7M31.6 128.2h.7M56.4 144.4h.7M50.3 125.5h.7M57.9 134.3h.7M49.0 134.5h.7M49.7 133.2h.7M58.9 120.6h.7M53.3 137.2h.7M44.3 115.2h.7M61.7 126.1h.7M40.8 130.5h.7M52.7 126.4h.7M67.8 142.1h.7M46.1 141.3h.7M60.3 140.8h.7M42.5 140.8h.7M54.7 130.9h.7M48.7 133.7h.7M53.3 129.8h.7M44.2 123.9h.7M30.9 159.0h.7M51.8 131.9h.7M30.2 145.4h.7M42.2 129.8h.7M50.4 143.4h.7M43.8 131.0h.7M45.7 119.0h.7M34.0 145.8h.7M50.0 132.4h.7M45.1 133.4h.7M43.2 151.0h.7M48.9 127.4h.7M62.8 138.7h.7M43.2 137.0h.7M30.6 134.6h.7M59.6 105.4h.7M47.0 137.2h.7M43.6 150.2h.7M32.7 137.5h.7M55.8 140.2h.7M46.7 137.1h.7M47.6 134.3h.7M32.5 138.6h.7M53.7 130.2h.7M46.1 137.8h.7M54.3 149.7h.7M42.3 139.8h.7M37.3 133.6h.7M52.0 126.5h.7M42.7 126.8h.7M50.4 137.9h.7M39.9 130.5h.7M47.9 131.4h.7M53.1 114.9h.7M45.9 139.1h.7M45.7 128.1h.7M44.3 124.9h.7M44.7 142.1h.7M44.3 130.4h.7M49.9 132.7h.7M44.6 137.1h.7M32.6 122.3h.7M51.1 124.4h.7M62.7 127.6h.7M49.9 136.3h.7M53.5 133.7h.7M59.4 114.0h.7M41.0 142.2h.7M38.6 128.0h.7M57.4 128.1h.7M56.9 135.3h.7M54.7 129.5h.7M52.1 133.4h.7M53.7 128.1h.7M52.2 122.2h.7M49.6 136.5h.7M49.0 132.0h.7M50.6 135.1h.7M39.6 134.7h.7M43.3 132.1h.7M48.9 145.4h.7M48.0 126.1h.7M35.1 111.7h.7M54.7 118.9h.7M34.7 115.9h.7M59.8 147.7h.7M58.7 122.2h.7M51.1 142.0h.7M42.9 132.3h.7M45.5 114.1h.7M43.1 142.7h.7M51.1 126.3h.7M43.2 129.1h.7M49.0 135.5h.7M50.7 143.5h.7M54.2 131.6h.7M38.8 135.0h.7M35.0 118.3h.7M52.3 122.8h.7M38.7 144.2h.7M50.0 139.5h.7M59.8 141.2h.7M57.0 148.9h.7M46.8 144.5h.7M57.1 136.0h.7M60.2 140.2h.7M43.3 148.6h.7M48.6 139.3h.7M56.5 131.5h.7M44.1 144.4h.7M41.5 140.6h.7M47.7 117.5h.7M52.6 122.0h.7M38.3 146.5h.7M50.0 148.0h.7M47.0 129.5h.7M55.6 148.5h.7M56.8 139.4h.7M37.4 134.3h.7M58.4 131.8h.7M37.0 155.2h.7M51.7 157.2h.7M48.3 146.1h.7M51.3 124.6h.7M53.0 137.0h.7M38.6 147.5h.7M52.5 130.3h.7M53.6 128.5h.7M46.5 135.6h.7M50.3 137.8h.7M42.2 127.1h.7M56.6 124.5h.7M39.7 129.1h.7M54.9 130.8h.7M51.9 135.5h.7M52.6 139.2h.7M41.2 140.4h.7M72.4 139.9h.7M45.7 135.9h.7M48.8 136.4h.7M45.7 123.4h.7M60.9 133.4h.7M47.7 124.7h.7M50.9 150.6h.7M43.1 126.2h.7M48.9 139.9h.7M43.1 140.0h.7M52.8 144.0h.7M50.2 122.2h.7M44.7 124.1h.7M49.6 141.5h.7M35.8 140.7h.7M41.3 131.1h.7M52.9 140.1h.7M39.8 113.9h.7M49.6 149.0h.7M39.6 149.1h.7M40.8 133.6h.7M50.5 134.4h.7M53.8 134.4h.7M46.6 125.5h.7M54.0 114.9h.7M53.6 139.1h.7M52.5 140.8h.7M42.5 149.4h.7M43.6 129.6h.7M44.2 123.6h.7M43.3 134.6h.7M57.6 125.2h.7M53.1 135.2h.7M55.9 121.2h.7M60.3 134.7h.7M43.0 142.5h.7M43.7 138.5h.7M40.8 146.5h.7M57.5 154.6h.7M34.0 125.9h.7M53.7 126.9h.7M58.4 117.7h.7M49.0 134.6h.7M65.6 142.4h.7M54.0 147.0h.7M57.8 127.2h.7M43.2 128.0h.7M50.6 140.6h.7M48.2 126.7h.7M50.9 129.0h.7M44.2 151.2h.7M47.6 126.0h.7M54.0 134.4h.7M59.8 141.9h.7M55.2 140.5h.7M56.1 118.9h.7M39.3 114.9h.7M62.9 120.6h.7M53.2 147.1h.7M45.3 139.3h.7M48.2 124.6h.7M49.9 146.5h.7M40.4 138.2h.7M49.0 152.2h.7M46.8 114.5h.7M45.4 121.9h.7M50.5 129.9h.7M38.6 128.0h.7M47.5 137.7h.7M51.6 139.0h.7M41.0 124.9h.7M53.5 142.8h.7M48.7 121.5h.7M51.4 139.9h.7M47.7 142.3h.7M49.7 121.1h.7M44.5 133.8h.7M37.9 124.4h.7M42.3 135.8h.7M35.8 152.0h.7M63.0 133.6h.7M52.2 148.8h.7M42.2 120.6h.7M49.9 150.0h.7M44.5 151.2h.7M47.1 130.2h.7M53.8 131.4h.7M55.2 135.2h.7M40.7 143.3h.7M49.8 125.3h.7M45.4 147.5h.7M40.1 135.4h.7M47.8 141.5h.7M47.1 137.1h.7M46.6 124.5h.7M40.6 137.4h.7M53.1 129.8h.7M57.8 130.2h.7M45.9 150.2h.7M38.8 142.1h.7M53.3 139.4h.7M48.3 139.7h.7M54.4 132.9h.7M51.4 154.4h.7M44.6 125.1h.7M50.3 127.0h.7M44.0 133.9h.7M37.9 144.0h.7M64.0 139.4h.7M54.2 141.3h.7M37.6 124.1h.7M51.9 135.9h.7M47.2 126.0h.7M56.2 141.0h.7M54.3 121.3h.7M40.2 154.1h.7M46.7 143.5h.7M53.4 130.7h.7M44.3 147.6h.7M49.7 126.8h.7M44.0 144.5h.7M53.1 134.6h.7M37.6 139.1h.7M47.5 137.9h.7M48.7 132.1h.7M45.0 133.6h.7M53.2 139.4h.7M46.4 111.3h.7M46.3 132.9h.7M39.5 140.3h.7M56.1 127.2h.7M48.2 125.4h.7M53.3 123.2h.7M57.7 119.1h.7M34.0 138.0h.7M55.8 125.8h.7M47.1 121.8h.7M47.1 133.3h.7M49.0 131.5h.7M45.3 163.0h.7M52.6 141.1h.7M68.0 122.8h.7M44.5 150.4h.7M43.7 137.5h.7M46.2 130.1h.7M55.7 130.6h.7M66.3 123.8h.7M45.8 150.7h.7M44.8 132.1h.7M38.8 146.0h.7M53.4 147.4h.7M36.3 147.1h.7M43.4 152.1h.7M38.3 161.8h.7M34.5 150.2h.7M56.2 143.1h.7M29.9 145.6h.7M53.1 161.2h.7M34.6 147.1h.7M44.0 158.4h.7M60.7 138.3h.7M29.8 145.7h.7M34.3 153.9h.7M53.6 144.4h.7M45.0 152.5h.7M40.8 144.6h.7M44.0 147.9h.7M37.1 154.0h.7M45.4 144.4h.7M53.8 156.4h.7M42.3 140.3h.7M45.2 147.8h.7M52.0 154.5h.7M57.0 159.3h.7M41.0 138.6h.7M47.0 140.1h.7M39.8 154.7h.7M40.6 138.4h.7M41.6 146.8h.7M39.8 148.9h.7M32.4 147.5h.7M30.5 148.3h.7M40.0 139.6h.7M45.2 147.3h.7M51.6 159.0h.7M41.6 136.0h.7M43.5 143.0h.7M48.2 154.5h.7M49.1 150.5h.7M43.0 153.0h.7M43.9 147.7h.7M57.2 146.9h.7M42.1 146.5h.7M40.6 151.1h.7M32.7 151.5h.7M47.6 143.6h.7M42.4 148.4h.7M58.4 136.6h.7M41.6 152.3h.7M50.2 144.1h.7M50.6 148.3h.7M55.1 153.2h.7M36.0 139.6h.7M55.0 148.3h.7M43.9 153.0h.7M43.4 149.7h.7M42.6 142.2h.7M41.0 154.6h.7M42.6 140.1h.7M28.7 142.8h.7M47.6 149.9h.7M45.3 140.5h.7M38.6 137.7h.7M44.1 144.6h.7M60.0 148.4h.7M47.7 137.9h.7M42.3 139.4h.7M55.5 154.2h.7M38.7 148.7h.7M43.1 149.1h.7M40.3 150.0h.7M41.9 156.3h.7M49.7 143.4h.7M48.2 147.9h.7M39.3 147.0h.7M44.0 140.1h.7M44.5 151.2h.7M41.4 148.1h.7M44.1 146.5h.7M39.1 150.0h.7M39.2 148.2h.7M44.9 143.8h.7M37.2 147.5h.7M47.7 140.8h.7M42.5 152.1h.7M38.1 146.3h.7M39.4 155.7h.7M40.9 148.4h.7M42.8 151.9h.7M45.7 140.4h.7M43.2 143.7h.7M38.6 144.6h.7M54.8 138.5h.7M51.1 140.4h.7M45.3 144.0h.7M50.3 152.5h.7M45.7 156.3h.7M42.4 148.0h.7M44.6 150.1h.7M62.0 153.2h.7M50.8 150.2h.7M50.5 157.9h.7M42.3 139.4h.7M47.7 154.8h.7M59.2 153.1h.7M47.4 145.1h.7M50.7 157.8h.7M53.2 143.6h.7M49.0 143.1h.7M54.7 150.7h.7M45.2 154.2h.7M47.3 151.0h.7M39.0 158.1h.7M62.7 141.8h.7M46.3 147.9h.7M44.6 152.2h.7M53.2 154.0h.7M41.2 144.5h.7M44.9 139.5h.7M38.3 154.7h.7M44.1 151.3h.7M40.7 157.7h.7M48.2 144.5h.7M43.4 147.1h.7M41.3 134.9h.7M42.1 148.5h.7M43.2 150.4h.7M40.4 151.7h.7M50.9 143.7h.7M47.9 157.6h.7M45.5 143.9h.7M36.3 145.9h.7M47.4 151.2h.7M35.1 152.4h.7M46.0 142.2h.7M45.4 137.5h.7M40.0 150.2h.7M38.9 144.5h.7M40.4 137.7h.7M57.7 152.7h.7M42.3 149.3h.7M42.2 154.8h.7M50.6 149.4h.7M47.0 148.7h.7M51.1 151.0h.7M35.6 151.5h.7M36.1 156.4h.7M65.9 157.6h.7M43.4 153.5h.7M42.6 144.2h.7M45.0 151.0h.7M50.4 153.4h.7M36.5 143.6h.7M46.4 145.0h.7M43.6 152.3h.7M48.4 152.0h.7M45.7 144.4h.7M40.8 145.6h.7M37.9 152.3h.7M27.9 145.2h.7M50.8 148.8h.7M34.9 140.8h.7M41.0 152.7h.7M55.8 144.0h.7M41.6 145.3h.7M47.8 154.1h.7M43.3 141.9h.7M49.3 143.3h.7M43.7 155.5h.7M41.8 136.4h.7M52.7 155.3h.7M41.9 153.1h.7M35.0 149.1h.7M42.4 143.4h.7M48.1 145.0h.7M36.7 147.9h.7M50.1 140.7h.7M49.5 146.2h.7M59.1 141.3h.7M41.3 131.5h.7M48.7 147.3h.7M31.7 161.8h.7M41.1 150.4h.7M44.3 154.2h.7M47.0 147.7h.7M43.9 147.4h.7M43.0 155.0h.7M39.5 154.3h.7M41.1 149.3h.7M46.1 149.3h.7M46.6 163.3h.7M49.0 142.8h.7M50.9 148.4h.7M52.1 148.8h.7M32.3 145.3h.7M40.2 153.6h.7M43.1 148.2h.7M40.4 141.7h.7M51.7 142.4h.7M49.4 145.8h.7M43.3 149.6h.7M44.6 152.8h.7M53.3 141.1h.7M42.1 144.8h.7M41.9 150.3h.7M49.1 161.1h.7M46.9 153.3h.7M52.7 160.0h.7M47.3 141.0h.7M49.3 147.4h.7M40.2 152.0h.7M37.8 149.1h.7M45.4 132.9h.7M27.1 139.4h.7M46.2 156.1h.7M50.6 149.3h.7M44.1 155.2h.7M41.8 157.9h.7M51.5 147.6h.7M45.1 133.9h.7M51.5 139.5h.7M58.9 149.0h.7M48.8 150.6h.7M50.6 147.4h.7M48.0 142.3h.7M45.1 156.7h.7M45.1 159.1h.7M45.6 137.0h.7M51.6 147.0h.7M34.2 137.7h.7M42.5 146.5h.7M49.3 139.7h.7M38.2 151.1h.7M43.7 145.0h.7M40.4 138.5h.7M47.6 142.3h.7M49.7 151.2h.7M54.3 143.6h.7M47.2 152.2h.7M38.7 156.0h.7M46.1 145.1h.7M48.7 140.1h.7M54.0 143.8h.7M29.2 154.2h.7M47.1 143.1h.7M32.4 142.9h.7M48.7 151.2h.7M45.9 163.0h.7M48.0 142.3h.7M50.5 143.3h.7M47.0 145.3h.7M39.0 157.9h.7M45.8 157.0h.7M52.7 142.7h.7M43.8 143.2h.7M44.6 145.1h.7M36.0 148.8h.7M52.1 146.4h.7M40.5 150.9h.7M39.1 149.4h.7M40.8 152.9h.7M38.6 146.0h.7M42.3 150.4h.7M53.2 143.1h.7M49.8 144.2h.7M53.3 153.7h.7M55.0 138.0h.7M37.6 154.2h.7M47.6 145.6h.7M54.7 142.4h.7M60.1 141.7h.7M33.6 160.3h.7M35.2 141.2h.7M47.9 141.0h.7M42.7 139.3h.7M36.4 160.7h.7M46.4 152.3h.7M38.9 148.1h.7M28.8 149.4h.7M44.7 140.0h.7M44.7 152.1h.7M49.1 141.1h.7M50.7 145.2h.7M44.6 156.8h.7M42.1 153.8h.7M39.5 150.4h.7M33.2 146.5h.7M41.8 141.8h.7M50.7 149.7h.7M49.0 143.0h.7M57.0 158.6h.7M32.1 149.0h.7M49.9 145.8h.7M50.9 150.8h.7M35.8 153.4h.7M33.6 144.5h.7M46.2 136.5h.7M48.8 149.0h.7M36.3 151.7h.7M41.4 152.9h.7M40.0 135.8h.7M36.3 147.6h.7M35.7 143.6h.7M45.7 140.8h.7M42.2 141.4h.7M39.2 153.1h.7M27.3 140.8h.7M56.2 144.0h.7M38.1 144.5h.7M43.7 141.9h.7M36.3 150.7h.7M46.6 148.7h.7M33.8 150.3h.7M45.1 143.5h.7M42.5 151.8h.7M50.4 146.2h.7M36.2 153.9h.7M39.7 148.4h.7M42.4 150.0h.7M58.0 149.9h.7M34.4 146.4h.7M45.9 149.3h.7M39.6 148.9h.7M45.1 160.6h.7M49.0 141.8h.7M44.7 151.8h.7M45.7 149.6h.7M45.5 153.1h.7M40.7 141.7h.7M42.2 153.3h.7M33.3 144.0h.7M42.3 140.8h.7M39.8 137.7h.7M43.0 140.8h.7M49.3 144.7h.7M46.0 155.4h.7M47.9 140.6h.7M52.0 141.5h.7M28.6 141.6h.7M47.3 143.4h.7M43.9 147.5h.7M43.1 151.0h.7M35.9 140.8h.7M48.4 140.7h.7M51.2 154.8h.7M51.4 143.1h.7M43.6 146.4h.7M48.8 143.0h.7M50.3 146.9h.7M56.8 142.4h.7M52.7 142.6h.7M45.5 142.7h.7M44.0 156.2h.7M45.6 143.1h.7M45.6 147.8h.7M40.2 154.3h.7M49.5 144.2h.7M38.7 155.7h.7M39.2 142.1h.7M47.3 138.0h.7M40.0 150.6h.7M42.9 142.3h.7M30.5 144.0h.7M49.7 144.5h.7M43.3 155.9h.7M43.5 144.2h.7M47.2 147.4h.7M45.8 143.6h.7M39.4 147.4h.7M57.9 142.5h.7M41.2 146.0h.7M50.9 144.4h.7M56.9 140.8h.7M40.0 146.4h.7M45.2 142.0h.7M38.7 146.0h.7M51.3 145.4h.7M41.5 150.8h.7M37.1 142.6h.7M53.4 141.3h.7M50.1 148.9h.7M38.5 142.6h.7M52.1 146.0h.7M44.8 154.5h.7M62.3 147.3h.7M56.1 141.0h.7M40.1 150.4h.7M41.3 158.2h.7M38.3 146.1h.7M44.6 151.7h.7M45.3 136.6h.7M48.9 148.5h.7M44.6 147.9h.7M33.9 150.7h.7M38.8 145.9h.7M53.1 151.9h.7M51.2 153.8h.7M42.9 148.1h.7M62.8 113.7h.7M60.7 111.8h.7M71.1 120.9h.7M56.6 117.9h.7M67.5 111.5h.7M64.5 119.0h.7M59.5 108.5h.7M52.0 119.1h.7M62.6 111.0h.7M64.6 105.6h.7M51.8 116.9h.7M66.6 106.3h.7M68.2 115.0h.7M62.5 117.4h.7M57.7 118.4h.7M66.9 109.1h.7M59.1 107.3h.7M66.9 112.9h.7M63.2 115.0h.7M57.2 112.5h.7M66.4 110.6h.7M59.1 115.6h.7M64.5 108.4h.7M54.5 115.8h.7M57.9 114.1h.7M55.3 115.1h.7M68.6 109.8h.7M58.0 119.9h.7M60.0 117.7h.7M64.6 110.2h.7M62.5 111.0h.7M76.1 111.3h.7M63.9 101.4h.7M68.4 114.2h.7M66.2 111.6h.7M56.9 119.3h.7M58.5 114.5h.7M61.2 113.4h.7M59.0 110.2h.7M54.3 113.6h.7M59.5 115.7h.7M55.4 111.1h.7M68.9 111.7h.7M67.5 114.6h.7M52.1 104.3h.7M57.6 109.5h.7M64.7 112.7h.7M61.2 115.9h.7M62.3 114.1h.7M58.3 119.9h.7M67.3 112.8h.7M68.6 112.1h.7M69.2 116.8h.7M64.6 111.4h.7M66.6 114.1h.7M65.2 101.4h.7M63.2 111.9h.7M55.0 113.9h.7M63.3 120.4h.7M71.9 117.1h.7M68.1 110.9h.7M61.9 106.6h.7M65.4 109.8h.7M63.6 112.4h.7M58.4 118.5h.7M63.6 118.4h.7M59.5 121.8h.7M54.1 106.8h.7M62.2 121.4h.7M61.8 111.2h.7M60.8 111.9h.7M60.3 123.5h.7M64.6 109.7h.7M61.6 106.5h.7M54.5 113.9h.7M63.6 112.6h.7M67.9 113.1h.7M66.2 118.2h.7M65.3 109.6h.7M62.2 111.0h.7M71.1 113.9h.7M62.2 111.0h.7M66.5 117.6h.7M65.3 111.9h.7M66.2 111.0h.7M63.1 111.4h.7M62.2 115.3h.7M58.9 114.3h.7M59.7 112.3h.7M60.6 114.5h.7M61.8 110.4h.7M64.3 113.3h.7M62.8 113.5h.7M62.1 112.2h.7M62.9 111.8h.7M67.6 107.0h.7M71.9 113.8h.7M60.9 114.9h.7M62.6 109.9h.7M60.9 113.3h.7M64.4 115.2h.7M61.5 113.2h.7M60.3 114.7h.7M57.5 116.9h.7M55.0 121.8h.7M64.7 113.4h.7M68.2 110.2h.7M55.2 111.4h.7M61.6 108.2h.7M54.1 106.9h.7M66.1 114.3h.7M63.3 118.9h.7M65.8 117.5h.7M62.9 113.8h.7M58.0 124.3h.7M63.5 112.2h.7M62.1 113.1h.7M50.1 117.1h.7M62.9 108.6h.7M61.1 111.4h.7M66.2 114.9h.7M68.8 116.5h.7M60.1 113.1h.7M60.2 117.7h.7M62.1 115.3h.7M59.2 112.3h.7M65.6 100.6h.7M67.0 104.6h.7M57.1 110.6h.7M60.5 113.5h.7M63.6 111.5h.7M64.3 110.6h.7M60.0 114.9h.7M60.8 117.8h.7M66.8 103.8h.7M69.0 111.9h.7M52.8 113.6h.7M57.0 119.2h.7M61.1 116.9h.7M61.4 110.0h.7M60.2 106.6h.7M63.5 116.0h.7M55.4 116.6h.7M65.8 114.5h.7M67.1 113.1h.7M62.8 113.0h.7M61.1 114.7h.7M67.6 113.8h.7M63.7 114.3h.7M56.3 114.2h.7M63.6 113.2h.7M59.9 119.0h.7M66.7 110.3h.7M65.0 112.0h.7M59.0 116.0h.7M63.2 112.0h.7M64.5 106.1h.7M51.4 116.4h.7M65.5 116.7h.7M66.7 105.6h.7M58.1 119.0h.7M58.0 109.4h.7M58.4 118.4h.7M60.3 110.9h.7M62.9 129.7h.7M54.4 115.7h.7M58.2 112.2h.7M65.9 115.2h.7M67.3 114.9h.7M58.4 105.6h.7M67.5 109.8h.7M67.7 113.1h.7M61.9 107.0h.7M61.4 118.3h.7M60.8 112.1h.7M71.0 99.2h.7M69.7 104.2h.7M64.4 108.9h.7M61.5 106.6h.7M72.5 115.9h.7M60.1 113.1h.7M67.5 104.1h.7M63.9 116.7h.7M62.3 113.1h.7M74.1 109.2h.7M54.9 119.5h.7M65.1 112.8h.7M57.1 119.3h.7M61.0 115.8h.7M61.9 112.8h.7M61.3 114.0h.7M68.1 117.1h.7M58.2 113.8h.7M60.9 111.8h.7M57.7 116.2h.7M63.1 116.0h.7M59.1 119.0h.7M67.7 113.4h.7M54.5 113.8h.7M66.0 111.3h.7M60.9 114.0h.7M61.0 113.3h.7M67.4 109.4h.7M57.7 107.1h.7M57.0 120.4h.7M65.0 111.7h.7M48.7 119.1h.7M63.5 111.8h.7M65.8 118.8h.7M56.8 116.8h.7M64.8 114.4h.7M61.1 113.5h.7M67.5 103.7h.7M58.7 112.0h.7M68.5 105.1h.7M71.3 111.8h.7M63.0 117.4h.7M58.0 113.9h.7M70.2 111.2h.7M62.0 113.1h.7M61.4 110.5h.7M63.1 115.1h.7M56.0 114.7h.7M57.1 109.9h.7M63.1 120.0h.7M52.3 113.3h.7M63.3 115.6h.7M64.8 102.5h.7M68.4 107.3h.7M62.0 112.7h.7M62.1 111.3h.7M58.5 105.1h.7M67.3 108.0h.7M63.8 111.8h.7M58.6 112.2h.7M61.3 114.2h.7M69.6 111.8h.7M70.0 101.9h.7M61.3 115.9h.7M52.4 117.0h.7M66.7 111.2h.7M64.3 115.1h.7M70.2 119.5h.7M69.7 111.2h.7M64.3 114.0h.7M62.1 121.6h.7M53.1 117.2h.7M65.7 116.2h.7M57.2 115.6h.7M62.1 110.3h.7M61.4 120.6h.7M62.2 114.9h.7M61.4 121.9h.7M57.5 110.3h.7M62.0 115.4h.7M63.5 109.5h.7M66.8 107.6h.7M56.9 108.4h.7M62.4 118.7h.7M70.3 106.7h.7M61.4 109.0h.7M61.2 107.1h.7M62.6 108.5h.7M71.9 111.8h.7M66.1 109.2h.7M64.3 109.7h.7M66.9 111.7h.7M59.9 116.1h.7M61.4 115.8h.7M64.5 115.5h.7M64.1 113.6h.7M65.4 115.4h.7M60.6 108.6h.7M63.1 113.1h.7M60.4 113.6h.7M57.4 119.1h.7M65.7 110.0h.7M63.2 109.2h.7M58.8 115.2h.7M67.3 113.9h.7M62.7 110.1h.7M59.7 109.3h.7M58.0 121.2h.7M61.3 120.0h.7M60.0 114.4h.7M68.9 107.7h.7M57.5 113.8h.7M61.1 113.7h.7M62.0 120.1h.7M63.4 117.0h.7M64.5 112.3h.7M54.8 119.6h.7M48.4 118.6h.7M66.1 111.6h.7M64.3 114.2h.7M63.7 118.1h.7M71.9 115.2h.7M67.4 110.7h.7M58.2 123.1h.7M59.2 110.6h.7M70.2 112.5h.7M62.9 117.9h.7M65.6 118.0h.7M68.1 111.6h.7M63.2 115.3h.7M62.8 121.4h.7M58.6 113.7h.7M60.0 119.6h.7M67.9 114.1h.7M54.7 117.0h.7M63.3 106.4h.7M58.3 120.1h.7M63.4 113.3h.7M59.4 120.0h.7M63.6 116.0h.7M64.4 107.4h.7M67.8 110.1h.7M70.6 111.6h.7M61.6 112.4h.7M62.5 112.0h.7M60.6 109.2h.7M67.4 113.2h.7M66.9 119.9h.7M63.0 105.5h.7M66.2 114.1h.7M69.5 111.6h.7M63.1 109.9h.7M64.3 109.7h.7M57.5 112.8h.7M59.3 112.4h.7M58.8 118.2h.7M63.7 116.0h.7M62.6 114.1h.7M68.3 112.5h.7M59.1 118.1h.7M71.2 98.5h.7M66.5 117.6h.7M70.7 112.0h.7M64.7 107.5h.7M58.9 126.9h.7M63.3 115.4h.7M68.5 108.3h.7M59.7 127.0h.7M58.8 103.5h.7M55.3 112.0h.7M63.3 116.8h.7M63.1 111.7h.7M53.8 117.1h.7M67.8 116.6h.7M62.0 116.8h.7M56.8 112.3h.7M63.6 108.9h.7M77.7 103.1h.7M69.1 116.9h.7M59.4 105.7h.7M63.5 114.0h.7M59.4 114.7h.7M59.1 107.4h.7M67.9 107.3h.7M59.2 108.1h.7M64.6 108.5h.7M66.6 118.4h.7M73.3 105.7h.7M59.3 121.2h.7M66.7 112.8h.7M65.9 112.2h.7M66.6 114.9h.7M55.8 113.9h.7M58.0 116.2h.7M64.5 116.4h.7M61.3 110.8h.7M57.5 116.3h.7M62.5 120.3h.7M69.2 115.5h.7M65.0 107.9h.7M58.7 112.9h.7M62.1 117.3h.7M61.2 116.5h.7M69.9 102.6h.7M66.4 113.1h.7M64.3 115.0h.7M66.8 109.9h.7M79.2 113.2h.7M70.9 112.8h.7M60.2 120.5h.7M65.5 116.4h.7M69.7 122.8h.7M64.8 117.5h.7M56.7 115.6h.7M62.5 115.5h.7M59.3 117.3h.7M62.6 110.5h.7M63.9 113.8h.7M58.7 118.9h.7M56.8 119.1h.7M59.9 113.6h.7M67.6 113.2h.7M60.3 107.1h.7M65.0 115.8h.7M51.3 125.0h.7M62.0 115.8h.7M53.8 109.3h.7M66.4 119.1h.7M53.9 112.8h.7M59.1 112.4h.7M62.4 117.4h.7M70.9 102.0h.7M64.3 109.6h.7M56.1 107.8h.7M61.6 112.2h.7M63.1 114.3h.7M65.5 114.5h.7M60.7 113.9h.7M63.5 113.9h.7M67.8 110.8h.7M64.1 108.5h.7M62.0 110.1h.7M73.1 114.0h.7M61.4 110.1h.7M62.9 120.2h.7M57.0 119.7h.7M64.6 119.8h.7M61.0 111.7h.7M65.8 113.3h.7M67.7 110.4h.7M60.3 114.7h.7M61.0 117.0h.7M63.6 108.4h.7M66.9 108.9h.7M60.2 113.9h.7M66.3 114.2h.7M67.6 108.1h.7M60.3 108.3h.7M61.8 112.4h.7M55.3 120.4h.7M65.2 106.1h.7M69.0 114.7h.7M64.6 113.9h.7M63.7 117.3h.7M56.4 115.6h.7M61.5 112.5h.7M65.4 116.4h.7M62.9 105.4h.7M59.7 118.6h.7M68.3 108.4h.7M61.7 111.8h.7M67.4 109.3h.7M56.6 113.7h.7M64.8 112.7h.7M63.9 105.6h.7M59.9 109.3h.7M61.7 122.4h.7M59.9 112.5h.7M59.0 105.5h.7M60.7 120.9h.7M55.7 116.2h.7M54.0 102.7h.7M59.5 116.5h.7M68.0 113.4h.7M59.8 118.4h.7M61.3 124.6h.7M59.9 115.7h.7M69.9 109.6h.7M57.1 113.5h.7M63.4 113.7h.7M68.1 116.7h.7M61.0 118.0h.7M67.3 109.9h.7M58.1 107.1h.7M63.5 110.6h.7M53.4 115.6h.7M59.0 121.6h.7M51.2 121.0h.7M63.3 114.9h.7M59.4 111.3h.7M70.8 116.0h.7M65.0 104.7h.7M62.5 114.5h.7M69.4 121.5h.7M65.2 112.3h.7M66.0 105.4h.7M61.8 117.9h.7M68.0 113.8h.7M64.5 116.6h.7M56.3 109.0h.7M66.5 111.0h.7M54.3 110.1h.7M64.5 122.3h.7M65.6 111.1h.7M61.6 112.1h.7M63.9 116.1h.7M63.9 115.1h.7M61.5 108.2h.7M66.2 119.1h.7M65.0 109.9h.7M59.6 106.9h.7M72.2 111.9h.7M71.8 113.1h.7M69.5 113.7h.7M63.8 115.5h.7M37.2 161.9h.7M31.6 162.7h.7M61.2 162.1h.7M50.3 160.8h.7M58.3 161.6h.7M32.5 160.0h.7M32.6 160.9h.7M55.4 159.3h.7M60.3 161.7h.7M35.7 163.3h.7M61.8 159.7h.7M30.0 163.3h.7M52.2 162.2h.7M43.2 159.9h.7M43.1 160.4h.7M40.4 161.1h.7M46.6 159.7h.7M47.5 159.8h.7M35.1 161.3h.7M29.5 161.4h.7M48.5 162.6h.7M36.0 159.8h.7M38.3 163.2h.7M34.3 163.0h.7M61.0 160.7h.7M53.0 161.1h.7M53.5 163.3h.7M64.3 160.3h.7M56.9 161.0h.7M44.5 163.1h.7M46.7 161.4h.7M62.4 161.9h.7M37.8 161.9h.7M47.7 160.5h.7M56.0 161.3h.7M41.5 160.7h.7M46.5 161.0h.7M30.3 162.3h.7M54.2 160.2h.7M35.2 162.7h.7M38.6 161.8h.7M37.3 162.8h.7M55.6 163.0h.7M43.8 163.5h.7M65.8 162.6h.7M58.6 162.7h.7M63.2 161.4h.7M54.4 162.5h.7M37.5 160.3h.7M41.0 161.3h.7M42.5 162.8h.7M36.5 161.6h.7M46.3 162.3h.7M58.3 160.1h.7M48.3 163.7h.7M35.2 160.8h.7M56.1 162.2h.7M64.7 161.6h.7M46.6 163.0h.7M34.2 161.1h.7M56.0 160.1h.7M48.9 158.8h.7M58.9 161.2h.7M51.4 159.8h.7M61.3 162.4h.7M29.5 163.8h.7M53.1 158.3h.7M51.3 159.7h.7M57.8 162.1h.7M37.1 163.5h.7M50.7 162.1h.7M38.9 162.1h.7M56.9 162.4h.7M31.9 162.5h.7M64.0 162.6h.7M56.3 159.8h.7M38.3 160.9h.7M40.6 162.0h.7M45.1 160.4h.7M37.6 161.2h.7M34.2 160.9h.7M64.9 160.6h.7M36.8 162.7h.7M56.7 161.1h.7M55.6 160.0h.7M56.2 160.6h.7M40.2 161.7h.7M51.8 162.0h.7M65.8 163.9h.7M43.4 162.4h.7M37.1 158.4h.7M47.8 162.2h.7M36.0 160.4h.7M41.8 159.6h.7M56.2 160.0h.7M45.6 159.3h.7M52.8 160.7h.7M34.9 163.4h.7M34.3 162.6h.7M64.7 159.1h.7M61.1 161.5h.7M61.7 160.9h.7M50.2 161.3h.7M47.7 162.8h.7M33.0 160.8h.7M37.9 161.2h.7M33.2 163.8h.7M48.7 158.9h.7M45.1 161.1h.7M35.4 162.3h.7M32.7 159.8h.7M50.3 160.7h.7M34.2 159.7h.7M29.5 161.9h.7M37.3 160.7h.7M58.7 162.8h.7M53.3 163.2h.7M48.1 161.7h.7M37.3 161.1h.7M46.3 162.0h.7M29.4 161.7h.7M41.0 159.8h.7M46.7 163.3h.7M32.4 162.0h.7M50.5 162.8h.7M45.4 159.6h.7M31.0 163.0h.7M47.1 162.6h.7M62.2 159.4h.7M31.1 161.7h.7M49.8 161.5h.7M39.5 162.0h.7M43.4 161.3h.7M63.1 162.4h.7M52.3 160.9h.7M39.5 162.0h.7M45.7 160.6h.7M65.3 161.8h.7M61.1 163.1h.7M44.8 160.9h.7M48.6 162.6h.7M46.0 160.3h.7M34.6 161.1h.7M64.8 161.3h.7M37.5 163.5h.7M37.1 160.5h.7M33.1 163.5h.7M63.8 159.4h.7M62.8 161.4h.7M52.6 163.0h.7M48.6 162.7h.7M50.5 160.1h.7M42.7 159.8h.7M61.9 163.0h.7M49.6 159.7h.7M60.7 162.5h.7M54.7 160.8h.7M54.1 161.6h.7M57.7 164.0h.7M59.1 162.9h.7M54.3 159.5h.7M40.9 162.1h.7M38.7 161.7h.7M36.2 161.5h.7M60.7 163.7h.7M47.0 159.0h.7M29.0 162.1h.7M51.2 161.8h.7M61.0 160.5h.7M63.7 159.7h.7M61.1 161.7h.7M35.5 161.7h.7M48.1 158.3h.7M55.2 159.5h.7M52.8 160.2h.7M42.3 162.8h.7M30.4 163.1h.7M62.0 162.5h.7M57.8 162.0h.7M61.0 158.3h.7M43.3 161.9h.7M38.2 160.8h.7M60.2 163.4h.7M53.2 163.7h.7M30.3 162.7h.7M33.0 162.9h.7M57.5 160.1h.7M61.7 161.7h.7M42.1 159.7h.7M61.3 163.0h.7M35.6 159.8h.7M50.5 161.3h.7M41.9 160.4h.7M48.8 160.9h.7M36.3 162.3h.7M43.2 160.8h.7M46.1 162.0h.7M50.4 160.1h.7M36.6 163.7h.7M51.4 160.6h.7M36.8 163.2h.7M37.9 157.9h.7M33.1 160.1h.7M39.0 161.3h.7M50.0 163.4h.7M45.5 160.9h.7M22.7 154.3h.7M19.8 100.8h.7M23.1 131.4h.7M18.6 129.5h.7M23.8 106.3h.7M26.3 103.3h.7M22.1 116.0h.7M19.4 138.9h.7M27.3 134.8h.7M24.4 148.6h.7M24.6 121.9h.7M20.6 107.9h.7M23.3 123.7h.7M23.0 153.1h.7M23.2 125.4h.7M21.2 150.0h.7M25.0 137.5h.7M25.0 108.8h.7M20.0 124.4h.7M20.1 158.2h.7M22.2 101.9h.7M23.3 148.8h.7M20.6 119.7h.7M21.4 147.9h.7M23.2 110.5h.7M22.8 142.0h.7M24.6 155.0h.7M22.3 104.2h.7M19.4 161.3h.7M23.7 100.9h.7M20.8 152.6h.7M20.8 132.8h.7M20.9 102.2h.7M20.7 132.5h.7M20.6 162.5h.7M19.4 156.2h.7M26.4 133.5h.7M22.8 152.4h.7M21.1 147.1h.7M22.1 117.4h.7M23.5 147.9h.7M19.7 118.9h.7M21.1 126.9h.7M20.8 105.1h.7M59.9 84.1h.7M62.7 85.4h.7M42.0 87.8h.7M65.0 79.2h.7M63.5 80.3h.7M60.2 78.7h.7M55.0 88.2h.7M51.0 79.2h.7M59.8 88.8h.7M67.8 84.8h.7M50.0 81.3h.7M69.6 75.1h.7M68.1 86.4h.7M48.9 94.5h.7M66.8 69.1h.7M57.9 76.9h.7M60.1 88.2h.7M67.4 89.0h.7M45.7 86.4h.7M61.6 81.0h.7M43.0 90.9h.7M53.3 85.8h.7M69.5 76.4h.7M67.7 75.4h.7M55.9 80.7h.7M62.0 95.5h.7M65.4 76.5h.7M59.4 81.3h.7M65.5 85.4h.7M64.1 78.8h.7M53.2 86.4h.7M68.4 81.9h.7M44.1 88.1h.7M71.7 77.7h.7M54.6 94.0h.7M58.9 87.8h.7M55.7 84.5h.7M64.7 78.2h.7M58.8 70.9h.7M62.0 79.5h.7M64.6 80.4h.7M66.2 83.1h.7M60.4 82.8h.7M47.5 89.8h.7M43.6 89.9h.7M46.4 93.2h.7M60.5 82.7h.7M63.2 88.1h.7M59.5 82.6h.7M59.9 78.7h.7M58.5 82.6h.7M52.6 84.9h.7M50.5 88.5h.7M41.2 82.2h.7M62.0 69.1h.7M61.5 72.3h.7M53.8 90.6h.7M58.4 82.9h.7M63.4 80.3h.7M73.9 78.7h.7M53.0 80.6h.7M65.3 85.8h.7M68.6 77.7h.7M47.4 87.7h.7M61.1 91.8h.7M55.0 76.2h.7M52.0 80.8h.7M72.2 70.4h.7M66.9 79.2h.7M60.8 80.1h.7M47.0 77.9h.7M64.4 76.3h.7M63.8 78.4h.7M66.1 95.1h.7M62.4 89.8h.7M51.9 89.8h.7M56.0 77.8h.7M66.6 79.0h.7M62.2 72.0h.7M64.4 79.8h.7M66.5 79.3h.7M55.3 83.2h.7M58.3 85.3h.7M66.3 74.5h.7M60.9 77.3h.7M60.8 92.3h.7M65.3 81.8h.7M64.1 76.5h.7M61.8 75.2h.7M61.5 82.1h.7M59.1 86.9h.7M65.6 83.5h.7M75.5 79.5h.7M62.7 83.1h.7M52.3 80.6h.7M69.3 88.7h.7M56.9 93.0h.7M64.5 84.2h.7M63.1 89.0h.7M60.8 70.9h.7M59.5 79.9h.7M64.7 74.5h.7M78.1 75.3h.7M54.8 78.1h.7M54.1 84.8h.7M68.2 85.9h.7M61.9 85.1h.7M59.7 79.6h.7M63.1 92.8h.7M58.9 73.6h.7M62.2 83.5h.7M46.5 91.8h.7M60.6 85.3h.7M61.2 79.1h.7M64.3 72.6h.7M57.5 85.7h.7M50.8 80.5h.7M68.9 78.4h.7M55.4 83.7h.7M64.0 85.3h.7M61.4 77.7h.7M62.2 75.5h.7M61.6 83.6h.7M57.8 92.7h.7M59.0 68.3h.7M58.0 84.6h.7M59.2 87.2h.7M67.2 66.0h.7M62.3 73.9h.7M56.1 89.9h.7M54.4 80.9h.7M56.5 80.5h.7M61.7 92.8h.7M45.4 87.6h.7M61.9 74.3h.7M56.7 68.4h.7M57.8 76.2h.7M53.5 78.8h.7M67.4 88.0h.7M68.2 83.8h.7M49.5 81.9h.7M65.0 91.8h.7M59.5 87.9h.7M63.7 77.7h.7M64.5 84.0h.7M53.7 90.0h.7M53.8 81.9h.7M64.5 65.8h.7M51.2 83.0h.7M61.0 81.2h.7M55.1 83.6h.7M65.0 72.6h.7M63.2 86.3h.7M53.8 79.7h.7M56.2 91.5h.7M57.0 81.2h.7M65.4 78.3h.7M60.2 73.9h.7M52.2 88.5h.7M66.7 70.9h.7M52.6 75.9h.7M53.8 87.1h.7M60.7 81.1h.7M59.3 88.5h.7M57.7 86.0h.7M52.8 80.9h.7M57.4 79.9h.7M48.5 74.1h.7M46.0 85.8h.7M67.7 84.7h.7M62.3 90.9h.7M69.9 79.2h.7M64.3 80.6h.7M65.8 81.3h.7M62.9 83.1h.7M61.8 68.3h.7M55.1 80.0h.7M58.3 91.8h.7M66.3 85.2h.7M44.8 96.5h.7M56.8 82.5h.7M60.0 79.3h.7M55.7 81.8h.7M64.3 71.9h.7M57.5 70.5h.7M61.3 82.0h.7M56.1 82.1h.7M65.8 75.6h.7M62.0 92.5h.7M59.7 86.5h.7M62.1 75.3h.7M65.6 81.4h.7M66.9 65.6h.7M62.5 87.4h.7M49.8 92.4h.7M63.3 77.9h.7M69.5 78.1h.7M64.2 88.9h.7M67.7 72.3h.7M67.2 69.0h.7M63.5 94.1h.7M57.3 84.4h.7M57.8 94.4h.7M60.9 76.5h.7M65.6 80.0h.7M61.4 76.3h.7M55.0 90.8h.7M54.6 84.6h.7M49.2 86.3h.7M55.9 96.5h.7M53.2 90.1h.7M43.6 81.4h.7M58.1 81.9h.7M59.3 76.1h.7M59.5 73.8h.7M57.9 79.7h.7M54.4 83.3h.7M60.1 82.2h.7M60.6 75.9h.7M51.8 75.7h.7M58.5 79.5h.7M61.3 87.2h.7M52.1 78.9h.7M62.4 84.4h.7M55.0 89.5h.7M64.7 74.9h.7M51.9 91.1h.7M60.1 76.6h.7M50.5 87.1h.7M65.4 70.2h.7M66.8 79.6h.7M60.0 91.8h.7M55.0 81.4h.7M57.5 92.6h.7M52.2 73.4h.7M59.3 76.3h.7M71.6 65.1h.7M58.0 96.0h.7M65.3 73.4h.7M59.3 88.2h.7M54.4 72.1h.7M65.6 78.1h.7M65.2 81.7h.7M62.4 79.8h.7M49.3 71.6h.7M60.6 82.8h.7M63.8 84.6h.7M71.7 81.6h.7M52.7 91.0h.7M51.2 77.4h.7M51.9 87.3h.7M57.5 90.6h.7M52.4 82.5h.7M68.5 78.9h.7M71.0 69.4h.7M68.3 75.7h.7M55.7 91.1h.7M57.9 78.7h.7M63.4 99.7h.7M63.2 80.4h.7M68.7 77.1h.7M60.9 76.0h.7M65.4 77.9h.7M58.2 81.6h.7M43.2 85.6h.7M42.9 85.4h.7M60.4 83.7h.7M63.1 78.8h.7M58.2 64.6h.7M50.4 74.7h.7M59.4 80.3h.7M61.3 80.4h.7M68.4 79.3h.7M55.2 77.1h.7M55.6 89.9h.7M65.3 75.3h.7M60.6 77.8h.7M61.8 79.5h.7M56.0 92.5h.7M61.9 84.4h.7M53.0 94.3h.7M45.7 89.0h.7M57.6 82.0h.7M53.3 79.3h.7M61.4 76.9h.7M67.1 73.2h.7M58.1 80.2h.7M73.1 76.2h.7M58.0 86.7h.7M67.2 81.4h.7M53.0 88.8h.7M64.5 85.9h.7M58.5 84.0h.7M62.2 87.1h.7M65.3 81.2h.7M51.5 94.4h.7M60.4 81.1h.7M50.8 80.8h.7M55.6 75.3h.7M69.2 88.3h.7M59.2 85.5h.7M59.4 85.7h.7M52.6 87.0h.7M61.6 77.4h.7M66.2 97.4h.7M58.7 75.1h.7M51.4 88.8h.7M67.9 75.0h.7M50.0 82.3h.7M62.3 70.9h.7M54.9 81.3h.7M62.0 77.9h.7M57.4 80.7h.7M66.9 82.1h.7M55.9 77.0h.7M68.9 77.4h.7M69.2 84.9h.7M67.2 82.4h.7M65.8 68.9h.7M45.4 73.0h.7M70.7 79.1h.7M62.2 83.7h.7M49.2 86.8h.7M67.3 85.0h.7M57.4 81.3h.7M70.3 74.1h.7M53.4 80.1h.7M61.4 83.1h.7M59.9 79.0h.7M47.0 89.3h.7M66.8 84.0h.7M54.9 87.8h.7M63.0 68.7h.7M72.3 76.7h.7M62.9 85.6h.7M47.7 86.3h.7M59.7 79.4h.7M61.2 81.4h.7M63.4 77.4h.7M58.7 84.0h.7M55.3 90.6h.7M57.4 80.6h.7M61.9 95.3h.7M67.9 70.2h.7M53.9 83.2h.7M63.1 93.5h.7M68.2 92.3h.7M52.8 88.3h.7M56.7 83.4h.7M55.4 78.1h.7M61.2 89.2h.7M59.1 84.0h.7M64.3 72.3h.7M64.0 81.6h.7M57.0 94.4h.7M59.9 87.0h.7M72.2 87.6h.7M60.3 90.1h.7M62.0 83.5h.7M59.7 82.0h.7M65.1 81.7h.7M63.2 88.0h.7M62.2 86.3h.7M58.7 90.7h.7M62.9 81.2h.7M57.2 89.8h.7M74.5 78.6h.7M59.3 81.4h.7M54.1 77.6h.7M70.7 85.4h.7M61.6 84.9h.7M59.0 79.7h.7M60.5 83.2h.7M54.9 84.5h.7M48.5 79.4h.7M55.2 84.7h.7M61.6 70.4h.7M57.0 86.0h.7M57.2 83.5h.7M61.4 89.0h.7M63.7 78.0h.7M73.0 73.8h.7M53.5 85.3h.7M61.9 77.7h.7M55.8 75.5h.7M61.7 87.7h.7M63.6 80.2h.7M50.5 85.8h.7M65.6 78.8h.7M59.8 79.2h.7M51.6 83.9h.7M70.3 75.2h.7M69.3 82.9h.7M65.9 75.1h.7M46.4 83.2h.7M56.2 80.8h.7M63.3 92.2h.7M60.8 75.5h.7M72.2 80.3h.7M47.9 90.4h.7M62.7 85.0h.7M58.9 82.2h.7M60.3 70.4h.7M58.3 80.5h.7M60.0 97.2h.7M58.4 82.4h.7M55.9 89.5h.7M54.2 84.4h.7M59.8 81.2h.7M58.3 85.7h.7M63.3 82.6h.7M58.9 98.8h.7M73.6 70.5h.7M66.8 75.0h.7M61.9 75.7h.7M47.8 82.8h.7M41.6 85.9h.7M57.3 89.1h.7M52.1 75.3h.7M78.1 76.9h.7M70.7 79.2h.7M55.9 83.4h.7M63.0 71.2h.7M67.3 76.1h.7M60.2 82.0h.7M71.1 80.8h.7M59.3 77.3h.7M54.8 83.6h.7M52.9 87.6h.7M58.3 81.4h.7M63.7 74.5h.7M46.0 81.5h.7M44.7 83.0h.7M60.9 76.5h.7M43.3 94.5h.7M74.2 77.2h.7M65.6 93.9h.7M70.4 85.6h.7M72.3 74.5h.7M58.1 97.1h.7M53.4 86.7h.7M71.3 68.7h.7M66.5 93.2h.7M55.5 78.1h.7M59.9 79.1h.7M65.3 75.7h.7M73.0 81.6h.7M58.6 79.0h.7M60.8 87.0h.7M58.4 80.5h.7M57.5 75.4h.7M68.5 76.6h.7M61.4 82.1h.7M66.6 68.2h.7M51.9 82.6h.7M60.3 76.1h.7M73.7 77.4h.7M69.2 77.6h.7M62.8 81.4h.7M56.6 88.4h.7M54.1 83.5h.7M60.8 84.8h.7M59.7 77.9h.7M53.8 77.6h.7M49.0 86.2h.7M56.4 86.5h.7M63.4 79.8h.7M68.7 82.4h.7M45.8 81.8h.7M57.1 82.9h.7M51.6 91.9h.7M53.3 80.8h.7M81.7 65.6h.7M58.9 80.0h.7M54.0 79.0h.7M60.5 89.7h.7M48.0 82.1h.7M52.6 95.4h.7M58.3 80.5h.7M55.1 79.4h.7M65.6 71.0h.7M47.8 87.0h.7M59.6 76.3h.7M68.9 76.6h.7M41.9 83.8h.7M68.3 84.0h.7M53.5 93.5h.7M68.0 85.3h.7M65.2 70.6h.7M51.8 72.3h.7M59.5 78.0h.7M55.4 84.7h.7M62.8 81.9h.7M64.8 74.3h.7M58.7 82.6h.7M59.7 83.4h.7M56.8 73.6h.7M71.2 85.6h.7M46.5 85.4h.7M61.3 82.8h.7M59.8 90.0h.7M60.2 76.3h.7M66.1 76.9h.7M67.6 87.4h.7M66.6 74.5h.7M57.9 91.3h.7M58.7 85.3h.7M55.0 87.9h.7M62.9 84.8h.7M59.8 80.6h.7M58.1 82.1h.7M56.3 92.1h.7M60.5 83.5h.7M59.2 86.3h.7M59.4 74.0h.7M58.5 83.4h.7M71.2 81.4h.7M64.6 84.7h.7M50.3 92.7h.7M57.2 80.7h.7M49.5 86.5h.7M67.3 79.1h.7M73.5 81.0h.7M60.1 82.4h.7M67.3 85.4h.7M50.5 87.9h.7M51.1 98.2h.7M53.3 80.6h.7M59.2 84.1h.7M47.4 85.0h.7M62.9 84.4h.7M63.9 82.9h.7M60.5 74.9h.7M66.5 71.3h.7M63.3 76.2h.7M52.7 77.6h.7M57.4 77.6h.7M60.5 75.5h.7M56.7 90.5h.7M72.8 81.3h.7M63.8 75.7h.7M57.7 82.0h.7M57.1 86.1h.7M80.6 61.1h.7M64.0 76.7h.7M68.6 80.9h.7M71.5 74.1h.7M65.5 76.9h.7M59.3 78.6h.7M69.4 84.8h.7M52.5 84.0h.7M64.7 79.0h.7M47.4 85.3h.7M60.5 77.5h.7M63.7 79.7h.7M49.5 88.1h.7M73.3 74.8h.7M53.6 88.0h.7M61.4 71.1h.7M48.8 74.9h.7M65.4 84.7h.7M54.2 82.8h.7M80.0 75.9h.7M66.2 77.0h.7M68.1 69.9h.7M66.7 80.5h.7M63.3 77.4h.7M61.1 81.3h.7M55.4 79.3h.7M66.0 81.7h.7M65.0 85.8h.7M57.4 80.5h.7M58.3 96.3h.7M56.3 81.1h.7M64.6 80.0h.7M51.6 77.4h.7M55.4 72.2h.7M66.7 91.5h.7M59.1 93.0h.7M58.9 91.3h.7M49.8 78.5h.7M59.3 84.3h.7M60.1 85.0h.7M67.0 76.8h.7M54.8 88.6h.7M44.9 88.2h.7M63.7 77.9h.7M53.5 79.4h.7M58.2 81.1h.7M76.5 70.9h.7M66.0 71.4h.7M62.7 77.9h.7M64.2 75.4h.7M60.9 81.4h.7M69.1 81.1h.7M57.4 85.9h.7M57.4 87.1h.7M52.4 78.2h.7M68.2 72.6h.7M72.3 77.7h.7M53.6 81.3h.7M65.5 74.3h.7M55.8 78.6h.7M71.2 82.2h.7M56.7 81.6h.7M63.3 74.1h.7M61.7 85.0h.7M62.4 87.9h.7M61.8 84.1h.7M64.6 85.2h.7M57.5 85.7h.7M51.7 88.1h.7M68.7 71.6h.7M56.1 81.7h.7M47.4 88.4h.7M48.1 94.6h.7M43.3 95.3h.7M56.9 85.3h.7M70.4 77.7h.7M50.4 89.7h.7M53.5 77.7h.7M46.6 87.6h.7M62.8 71.7h.7M55.7 72.0h.7M62.5 80.7h.7M64.0 70.1h.7M65.4 68.3h.7M62.5 72.2h.7M59.9 88.4h.7M51.3 87.1h.7M57.6 91.2h.7M49.6 90.1h.7M69.4 71.1h.7M61.1 85.2h.7M63.1 83.7h.7M61.8 81.3h.7M68.5 67.5h.7M55.3 82.7h.7M63.1 71.0h.7M61.1 79.2h.7M59.7 83.0h.7M54.2 97.6h.7M70.7 83.2h.7M58.2 88.4h.7M60.9 88.1h.7M62.4 81.7h.7M70.6 93.0h.7M72.3 82.7h.7M65.6 96.3h.7M62.6 82.6h.7M63.4 82.2h.7M64.1 86.1h.7M64.9 79.2h.7M59.8 84.4h.7M63.9 71.7h.7M59.4 89.3h.7M52.2 89.5h.7M62.9 85.4h.7M66.5 75.0h.7M50.9 76.9h.7M58.3 87.0h.7M62.3 88.4h.7M56.7 75.6h.7M55.8 78.6h.7M61.0 79.0h.7M49.2 89.3h.7M63.1 67.2h.7M69.9 86.3h.7M58.7 90.3h.7M66.2 72.4h.7M56.5 71.9h.7M70.2 76.0h.7M60.3 96.0h.7M73.0 77.1h.7M64.6 86.4h.7M44.8 88.0h.7M65.5 79.0h.7M53.2 77.0h.7M61.2 95.2h.7M61.0 85.3h.7M41.3 82.6h.7M57.2 71.1h.7M60.7 84.9h.7M59.1 83.7h.7M67.5 73.5h.7M62.6 84.2h.7M63.4 93.5h.7M55.9 88.1h.7M53.5 74.5h.7M66.0 75.8h.7M52.2 79.2h.7M51.3 83.6h.7M66.9 78.6h.7M60.0 80.8h.7M56.3 77.4h.7M72.5 71.3h.7M50.2 84.4h.7M63.3 83.0h.7M48.9 89.6h.7M59.8 84.9h.7M62.8 77.7h.7M69.5 79.3h.7M52.2 87.5h.7M65.1 77.6h.7M62.9 75.5h.7M60.0 83.0h.7M68.5 62.1h.7M69.6 93.0h.7M52.6 83.3h.7M63.1 80.1h.7M47.5 89.0h.7M67.7 72.0h.7M67.5 78.5h.7M56.0 81.6h.7M62.3 76.9h.7M58.5 73.3h.7M68.4 68.3h.7M52.4 79.9h.7M58.9 95.7h.7M43.4 86.2h.7M54.7 78.7h.7M51.6 90.3h.7M64.2 88.6h.7M56.6 72.6h.7M52.1 77.4h.7M55.0 87.0h.7M68.4 77.2h.7M54.0 76.8h.7M55.2 73.0h.7M62.4 73.0h.7M55.1 91.4h.7M54.6 86.1h.7M77.6 72.5h.7M58.9 82.1h.7M53.9 86.8h.7M60.8 85.6h.7M56.4 84.1h.7M53.7 88.8h.7M54.5 79.9h.7M57.9 79.3h.7M61.7 83.8h.7M62.5 78.0h.7M47.3 87.2h.7M53.6 91.9h.7M66.8 80.1h.7M57.5 83.9h.7M64.7 72.5h.7M65.1 84.0h.7M60.7 99.2h.7M60.4 75.6h.7M48.7 80.2h.7M58.9 77.1h.7M64.1 71.7h.7M68.2 65.9h.7M55.6 77.1h.7M67.3 81.8h.7M65.0 83.8h.7M70.1 84.0h.7M47.7 97.5h.7M56.2 81.6h.7M65.7 84.8h.7M60.8 76.8h.7M54.5 84.0h.7M60.9 72.7h.7M71.0 81.4h.7M64.1 85.6h.7M57.2 80.9h.7M56.9 82.2h.7M61.1 81.2h.7M67.8 76.7h.7M72.0 77.8h.7M57.6 84.3h.7M56.1 88.0h.7M50.2 79.3h.7M64.9 75.5h.7M55.1 73.0h.7M68.2 87.7h.7M67.9 85.2h.7M64.9 82.8h.7M63.3 87.0h.7M61.1 95.3h.7M59.8 88.7h.7M55.2 74.4h.7M61.7 78.9h.7M49.6 73.6h.7M54.8 80.3h.7M63.8 69.7h.7M57.4 83.9h.7M62.8 82.2h.7M55.0 79.3h.7M54.1 84.7h.7M52.2 90.3h.7M56.4 83.7h.7M54.7 85.0h.7M56.6 67.3h.7M51.8 85.5h.7M60.5 87.0h.7M64.9 79.5h.7M54.2 76.0h.7M62.1 78.1h.7M66.0 78.7h.7M46.9 85.7h.7M60.1 86.5h.7M51.6 83.0h.7M66.9 73.6h.7M59.0 81.8h.7M70.9 88.6h.7M69.0 71.9h.7M56.0 81.0h.7M63.1 84.3h.7M60.8 77.7h.7M59.2 83.8h.7M59.5 66.0h.7M66.0 78.9h.7M65.9 76.6h.7M55.8 76.0h.7M62.9 89.0h.7M57.2 82.4h.7M57.3 82.6h.7M45.8 84.2h.7M56.5 73.0h.7M62.9 75.3h.7M54.7 75.3h.7M58.9 86.1h.7M63.4 85.1h.7M59.2 77.9h.7M56.3 73.3h.7M69.2 71.2h.7M51.3 81.4h.7M62.8 80.6h.7M64.8 79.0h.7M59.0 79.5h.7M59.0 83.1h.7M57.8 91.1h.7M62.6 91.7h.7M62.4 76.0h.7M71.1 77.6h.7M55.4 83.9h.7M59.1 74.9h.7M67.6 84.5h.7M67.4 78.4h.7M62.0 81.0h.7M63.9 81.0h.7M64.7 76.6h.7M49.6 82.9h.7M66.6 88.9h.7M53.0 94.1h.7M49.5 92.4h.7M58.7 89.7h.7M55.7 94.6h.7M62.3 78.3h.7M67.9 79.3h.7M57.1 81.8h.7M61.5 85.0h.7M57.8 81.7h.7M67.2 93.2h.7M59.6 79.5h.7M63.9 82.1h.7M59.0 85.9h.7M54.3 84.1h.7M60.4 88.1h.7M64.4 77.4h.7M56.2 82.0h.7M68.5 74.6h.7M56.0 79.7h.7M72.2 80.0h.7M55.3 90.1h.7M59.5 89.2h.7M58.1 73.6h.7M63.8 80.4h.7M56.4 79.2h.7M72.2 72.1h.7M65.0 86.7h.7M62.6 81.3h.7M56.1 83.7h.7M73.6 78.3h.7M68.6 81.8h.7M69.0 87.4h.7M44.0 81.8h.7M63.3 81.3h.7M55.9 82.2h.7M59.2 76.1h.7M65.7 77.7h.7M51.6 80.4h.7M53.4 71.2h.7M61.9 73.6h.7M60.1 79.8h.7M64.7 91.1h.7M51.4 83.8h.7M52.1 80.0h.7M45.7 79.5h.7M64.5 75.4h.7M59.8 80.1h.7M53.6 88.2h.7M54.9 75.6h.7M49.9 84.7h.7M33.1 88.0h.7M67.6 76.5h.7M61.3 69.4h.7M41.8 77.2h.7M60.0 90.0h.7M63.0 82.8h.7M59.1 85.0h.7M56.3 87.3h.7M53.4 79.8h.7M62.4 87.4h.7M53.1 79.9h.7M68.0 88.7h.7M59.5 83.7h.7M49.1 77.6h.7M63.2 85.2h.7M57.4 98.0h.7M67.5 73.6h.7M53.8 94.6h.7M58.8 81.2h.7M59.8 77.4h.7M53.3 68.8h.7M65.9 85.6h.7M65.7 73.7h.7M54.9 88.7h.7M55.6 77.2h.7M57.7 77.2h.7M61.1 88.8h.7M55.2 82.9h.7M66.0 73.8h.7M51.5 79.8h.7M58.0 84.9h.7M61.2 86.3h.7M57.2 80.8h.7M60.3 80.1h.7M54.5 77.6h.7M67.1 85.8h.7M58.6 78.4h.7M62.2 78.7h.7M73.9 82.2h.7M54.4 84.8h.7M64.0 67.2h.7M54.2 80.0h.7M62.6 77.0h.7M67.3 88.5h.7M59.1 84.1h.7M48.0 90.2h.7M72.2 77.5h.7M60.3 90.9h.7M52.8 82.3h.7M71.2 82.7h.7M63.5 85.0h.7M72.5 74.5h.7M61.3 63.6h.7M64.8 79.2h.7M59.0 88.8h.7M45.5 87.5h.7M64.5 85.3h.7M47.8 86.7h.7M40.5 89.2h.7M52.8 88.8h.7M50.8 89.5h.7M57.3 94.5h.7M43.9 83.2h.7M58.2 88.6h.7M48.8 99.2h.7M52.6 96.0h.7M40.0 92.0h.7M42.2 89.3h.7M49.1 87.2h.7M45.3 93.4h.7M46.4 92.3h.7M48.3 92.3h.7M51.8 92.1h.7M51.4 82.8h.7M51.3 82.5h.7M52.7 81.3h.7M47.2 83.2h.7M45.1 91.2h.7M39.4 96.3h.7M52.1 102.9h.7M44.9 94.9h.7M37.3 95.6h.7M62.5 91.7h.7M35.5 92.1h.7M51.9 90.6h.7M54.5 92.9h.7M49.1 94.4h.7M66.3 84.2h.7M48.2 88.4h.7M41.3 86.6h.7M59.8 84.1h.7M42.4 89.7h.7M41.1 97.6h.7M42.1 92.4h.7M46.0 94.6h.7M45.7 82.5h.7M53.1 93.6h.7M37.2 90.7h.7M47.7 81.8h.7M60.2 77.0h.7M42.9 89.3h.7M50.4 95.7h.7M54.9 91.3h.7M54.1 81.0h.7M44.8 92.5h.7M42.4 92.5h.7M39.0 85.8h.7M53.8 82.2h.7M50.2 77.9h.7M33.1 92.5h.7M29.4 84.2h.7M39.2 90.1h.7M37.2 90.2h.7M49.8 85.1h.7M48.5 85.6h.7M64.0 89.6h.7M53.2 86.1h.7M50.2 90.8h.7M58.1 90.0h.7M45.1 96.9h.7M41.3 97.4h.7M47.9 87.4h.7M52.5 82.2h.7M36.7 91.3h.7M53.6 85.2h.7M54.4 87.5h.7M45.4 91.2h.7M52.3 94.6h.7M46.9 90.4h.7M53.3 98.1h.7M56.3 92.4h.7M42.6 90.2h.7M57.4 90.9h.7M48.2 74.1h.7M57.7 93.7h.7M37.1 97.9h.7M37.7 97.5h.7M49.7 80.2h.7M50.5 103.5h.7M43.9 91.0h.7M43.6 91.7h.7M42.6 99.3h.7M46.6 90.0h.7M42.4 88.3h.7M46.1 95.1h.7M49.8 83.9h.7M42.8 97.1h.7M56.4 87.3h.7M37.0 102.0h.7M62.4 76.9h.7M42.8 99.9h.7M53.3 89.7h.7M59.0 96.5h.7M47.4 87.1h.7M57.7 96.4h.7M49.7 93.7h.7M39.2 99.0h.7M49.5 85.7h.7M57.4 89.2h.7M46.7 94.8h.7M36.1 91.3h.7M42.5 86.5h.7M49.3 85.5h.7M54.0 95.9h.7M56.3 87.5h.7M54.5 92.7h.7M52.8 89.9h.7M36.2 96.6h.7M63.7 84.4h.7M48.3 88.0h.7M57.1 93.1h.7M47.0 91.9h.7M48.4 91.6h.7M46.3 83.5h.7M59.7 86.8h.7M57.2 82.4h.7M51.8 85.9h.7M63.9 88.9h.7M44.0 86.2h.7M51.8 87.6h.7M47.3 94.3h.7M59.7 91.5h.7M48.0 87.5h.7M55.9 88.6h.7M60.7 86.2h.7M33.0 91.1h.7M58.3 73.6h.7M46.8 80.2h.7M48.1 93.8h.7M36.7 96.3h.7M44.0 84.8h.7M32.6 94.0h.7M48.6 87.9h.7M47.0 88.9h.7M60.7 84.4h.7M51.6 101.3h.7M54.2 83.2h.7M56.8 87.2h.7M60.6 80.2h.7M46.0 87.9h.7M52.0 83.7h.7M38.6 93.6h.7M40.5 90.8h.7M47.9 92.5h.7M49.2 91.1h.7M39.1 89.6h.7M50.4 100.2h.7M51.0 82.5h.7M46.7 93.1h.7M52.6 100.5h.7M41.6 89.4h.7M60.8 92.0h.7M63.6 91.2h.7M51.0 91.0h.7M44.2 81.8h.7M62.8 91.6h.7M52.3 89.0h.7M43.4 89.5h.7M42.9 100.0h.7M43.6 88.4h.7M65.5 88.3h.7M43.9 89.3h.7M68.9 83.7h.7M46.6 85.0h.7M46.7 88.8h.7M55.6 81.8h.7M45.8 87.5h.7M51.8 89.7h.7M41.8 92.4h.7M41.3 94.7h.7M46.9 98.2h.7M50.2 88.8h.7M40.6 83.4h.7M35.6 94.6h.7M52.2 88.9h.7M50.1 95.2h.7M49.4 95.6h.7M47.0 96.3h.7M33.8 95.8h.7M60.7 88.2h.7M42.7 84.8h.7M55.2 94.4h.7M59.0 87.8h.7M57.4 88.9h.7M49.5 87.6h.7M49.2 90.2h.7M49.5 86.0h.7M56.1 89.9h.7M49.9 82.1h.7M48.2 95.9h.7M53.1 91.2h.7M55.8 98.2h.7M53.4 87.7h.7M50.1 89.0h.7M58.3 86.7h.7M50.4 89.6h.7M54.5 86.8h.7M46.9 84.8h.7M42.9 86.6h.7M41.6 90.3h.7M47.3 89.1h.7M49.9 82.9h.7M54.7 80.8h.7M47.8 89.0h.7M47.2 95.0h.7M45.3 90.7h.7M58.9 89.2h.7M51.8 94.2h.7M47.4 95.1h.7M52.9 85.8h.7M39.5 92.1h.7M45.7 81.0h.7M47.2 87.0h.7M49.1 92.6h.7M39.1 88.5h.7M58.3 93.3h.7M63.0 91.5h.7M39.6 92.3h.7M51.8 93.9h.7M50.1 81.5h.7M61.4 78.3h.7M45.5 89.5h.7M42.8 92.9h.7M48.6 89.2h.7M60.2 79.9h.7M53.7 98.9h.7M51.3 90.5h.7M61.2 85.9h.7M36.6 99.6h.7M35.3 97.4h.7M54.4 86.2h.7M52.8 85.1h.7M36.4 86.6h.7M55.6 95.3h.7M47.3 85.6h.7M46.8 81.6h.7M42.0 88.7h.7M42.6 84.0h.7M47.6 101.9h.7M50.1 91.5h.7M50.5 97.2h.7M63.1 91.6h.7M54.3 90.7h.7M40.0 97.4h.7M50.1 85.4h.7M58.1 85.3h.7M49.5 86.4h.7M56.2 86.9h.7M47.3 86.9h.7M56.3 93.7h.7M44.6 96.4h.7M53.9 87.1h.7M36.4 86.5h.7M58.9 89.2h.7M41.1 98.7h.7M35.1 96.1h.7M49.7 82.6h.7M48.8 92.5h.7M52.0 94.5h.7M47.6 79.8h.7M50.0 92.7h.7M39.3 84.3h.7M50.5 89.7h.7M55.0 97.0h.7M52.4 88.9h.7M63.0 86.2h.7M43.5 90.7h.7M49.4 89.8h.7M57.7 99.2h.7M49.0 97.5h.7M40.5 92.2h.7M44.5 90.0h.7M56.0 86.9h.7M52.0 101.0h.7M57.4 104.1h.7M66.5 101.8h.7M51.2 100.7h.7M42.2 103.7h.7M68.7 103.0h.7M54.3 102.3h.7M47.5 107.3h.7M48.1 102.9h.7M47.9 98.5h.7M48.6 99.2h.7M39.3 102.0h.7M67.1 99.3h.7M59.0 102.6h.7M65.0 101.2h.7M52.0 106.5h.7M58.7 103.2h.7M57.1 105.3h.7M66.7 97.7h.7M63.2 99.0h.7M58.8 102.8h.7M48.4 101.9h.7M43.0 104.0h.7M47.0 102.5h.7M48.4 99.7h.7M50.0 106.6h.7M42.8 105.6h.7M71.4 94.9h.7M57.6 99.0h.7M34.6 102.9h.7M44.1 104.0h.7M41.4 102.0h.7M57.1 96.8h.7M66.0 102.6h.7M45.0 101.3h.7M61.6 104.1h.7M52.3 102.2h.7M66.9 103.0h.7M69.1 102.3h.7M58.4 103.4h.7M62.1 98.9h.7M55.2 104.1h.7M51.3 102.0h.7M42.9 98.4h.7M58.2 99.6h.7M54.2 100.1h.7M51.2 102.8h.7M54.4 103.2h.7M52.8 97.9h.7M44.7 104.1h.7M49.6 101.3h.7M66.3 96.9h.7M52.9 103.8h.7M68.9 97.6h.7M43.0 98.5h.7M41.5 104.5h.7M56.5 103.6h.7M62.7 98.4h.7M48.7 104.8h.7M61.6 103.5h.7M64.3 98.7h.7M66.4 106.1h.7M53.9 101.0h.7M54.5 101.8h.7M37.7 95.4h.7M55.4 103.0h.7M57.7 99.0h.7M69.4 101.1h.7M41.7 97.1h.7M46.8 105.3h.7M45.3 106.3h.7M64.6 105.9h.7M28.7 94.5h.7M44.2 103.8h.7M75.9 100.3h.7M60.8 91.5h.7M41.4 100.1h.7M54.4 100.9h.7M63.9 104.6h.7M60.3 98.1h.7M52.8 101.9h.7M47.0 101.6h.7M63.5 101.5h.7M54.8 99.9h.7M63.4 103.1h.7M59.3 103.7h.7M50.0 97.5h.7M69.8 103.2h.7M49.8 99.3h.7M59.3 99.9h.7M48.9 105.0h.7M52.7 101.6h.7M52.6 103.1h.7M48.6 104.1h.7M57.6 102.7h.7M68.1 98.4h.7M73.5 96.6h.7M69.6 101.9h.7M53.5 103.5h.7M69.8 100.9h.7M59.2 100.2h.7M73.3 102.1h.7M42.3 102.2h.7M69.6 95.8h.7M49.1 102.5h.7M66.8 101.6h.7M50.5 103.9h.7M64.0 97.7h.7M52.0 99.2h.7M36.2 103.8h.7M45.2 100.7h.7M52.6 101.2h.7M55.5 103.9h.7M32.6 104.3h.7M43.5 107.7h.7M47.7 102.7h.7M53.3 106.5h.7M57.5 104.2h.7M47.4 109.5h.7M39.8 102.6h.7M58.0 100.7h.7M52.0 105.4h.7M63.8 98.9h.7M49.6 100.3h.7M61.6 101.4h.7M46.2 103.1h.7M57.3 96.8h.7M56.0 101.9h.7M59.5 99.9h.7M45.6 102.0h.7M53.8 101.9h.7M46.5 101.4h.7M53.7 104.6h.7M61.4 102.1h.7M84.9 98.1h.7M55.4 101.4h.7M62.5 103.7h.7M56.4 103.5h.7M66.7 104.0h.7M59.6 100.5h.7M65.5 100.8h.7M59.1 106.9h.7M79.1 99.1h.7M69.3 105.1h.7M38.2 105.3h.7M57.9 99.7h.7M55.5 97.1h.7M33.1 105.1h.7M46.2 100.0h.7M50.2 99.6h.7M47.2 96.8h.7M56.7 104.7h.7M37.1 103.2h.7M62.5 100.7h.7M62.9 101.8h.7M58.7 101.7h.7M51.8 101.9h.7M55.2 102.8h.7M50.3 100.9h.7M65.9 92.6h.7M60.3 103.1h.7M75.1 100.8h.7M51.4 101.7h.7M70.0 104.8h.7M48.9 97.7h.7M52.6 92.9h.7M45.0 106.6h.7M60.4 102.1h.7M54.1 96.5h.7M61.2 99.6h.7M70.2 101.8h.7M54.2 97.8h.7M59.0 102.6h.7M64.6 106.8h.7M54.9 105.5h.7M49.6 101.7h.7M58.7 102.0h.7M59.9 98.1h.7M62.9 101.0h.7M63.3 99.6h.7M48.1 98.9h.7M59.2 96.9h.7M67.9 106.0h.7M50.5 102.0h.7M58.5 98.0h.7M48.8 100.6h.7M57.2 105.6h.7M72.9 104.6h.7M56.7 99.3h.7M45.5 102.7h.7M58.8 103.6h.7M57.2 100.1h.7M65.9 96.8h.7M41.1 99.6h.7M45.9 102.1h.7M54.1 99.1h.7M39.2 98.8h.7M66.4 99.6h.7M35.1 105.8h.7M47.0 104.1h.7M40.3 101.9h.7M49.0 107.5h.7M62.9 98.3h.7M61.1 100.5h.7M64.0 96.4h.7M61.3 103.1h.7M34.8 102.7h.7M57.7 96.0h.7M36.4 100.5h.7M50.5 107.1h.7M51.4 103.8h.7M49.7 102.1h.7M60.2 103.4h.7M46.6 97.3h.7M72.2 97.3h.7M60.7 96.8h.7M66.7 97.8h.7M62.6 99.5h.7M64.2 102.1h.7M54.9 104.3h.7M75.0 102.5h.7M45.3 110.2h.7M59.6 99.4h.7M55.1 101.2h.7M53.0 103.0h.7M58.1 98.5h.7M47.5 101.1h.7M63.9 101.7h.7M62.7 98.0h.7M56.2 102.6h.7M62.8 104.3h.7M44.4 98.9h.7M36.5 96.1h.7M49.3 102.0h.7M52.5 98.4h.7M80.0 99.6h.7M52.7 100.1h.7M65.5 101.3h.7M63.8 103.9h.7M76.4 101.8h.7M56.2 100.1h.7M61.3 97.2h.7M52.5 94.1h.7M45.9 95.6h.7M44.9 99.8h.7M47.3 102.2h.7M69.2 98.0h.7M57.8 99.2h.7M53.2 96.6h.7M54.9 96.3h.7M49.0 96.6h.7M54.9 103.1h.7M54.2 95.3h.7M61.8 102.6h.7M64.0 97.7h.7M38.9 104.2h.7M57.5 101.7h.7M69.0 102.2h.7M45.2 105.5h.7M52.4 99.0h.7M56.5 98.1h.7M84.0 81.0h.7M80.4 79.1h.7M95.2 85.0h.7M87.5 83.1h.7M88.4 82.7h.7M92.4 83.4h.7M85.0 86.6h.7M97.6 79.2h.7M71.1 82.0h.7M92.5 90.3h.7M92.5 81.1h.7M80.4 79.8h.7M82.4 84.5h.7M97.5 86.0h.7M83.4 75.5h.7M73.3 93.1h.7M76.2 84.4h.7M99.5 89.8h.7M81.3 87.4h.7M99.2 78.4h.7M101.6 85.2h.7M88.0 88.9h.7M92.2 79.0h.7M81.2 85.1h.7M83.8 80.3h.7M83.2 88.3h.7M91.2 73.5h.7M76.7 84.1h.7M84.0 71.5h.7M89.2 84.9h.7M89.4 69.5h.7M68.2 81.6h.7M72.9 87.5h.7M79.9 82.3h.7M85.4 80.3h.7M87.9 76.8h.7M89.0 79.2h.7M103.0 68.5h.7M94.0 82.2h.7M94.1 84.8h.7M84.8 87.0h.7M94.7 80.0h.7M95.6 86.6h.7M94.3 82.8h.7M88.2 87.2h.7M93.8 82.6h.7M101.1 78.7h.7M80.0 80.0h.7M65.7 73.7h.7M95.9 83.4h.7M94.1 79.8h.7M88.6 92.6h.7M81.4 73.0h.7M112.9 79.9h.7M82.6 78.3h.7M77.4 84.9h.7M82.6 78.7h.7M92.7 82.7h.7M82.6 83.3h.7M85.7 87.4h.7M90.7 82.1h.7M84.8 85.5h.7M90.7 88.2h.7M88.2 84.8h.7M78.5 83.8h.7M90.2 88.2h.7M77.7 84.2h.7M96.5 82.0h.7M79.4 82.6h.7M84.9 79.3h.7M68.1 71.1h.7M84.9 86.6h.7M75.5 79.1h.7M101.7 82.3h.7M89.3 91.5h.7M90.6 74.2h.7M73.9 90.6h.7M77.0 84.5h.7M87.0 84.8h.7M74.5 79.2h.7M97.7 79.6h.7M84.6 83.8h.7M91.1 89.0h.7M93.3 92.2h.7M87.0 84.0h.7M94.0 78.5h.7M85.0 94.9h.7M90.8 80.7h.7M98.1 79.1h.7M89.8 82.1h.7M89.5 84.2h.7M85.9 86.5h.7M87.5 79.1h.7M93.5 80.0h.7M88.2 92.2h.7M75.5 94.1h.7M89.8 84.0h.7M86.9 83.8h.7M91.5 79.9h.7M89.5 87.2h.7M100.6 75.9h.7M77.6 85.5h.7M78.9 82.1h.7M92.6 77.5h.7M79.0 84.7h.7M90.6 81.4h.7M86.9 79.2h.7M70.9 86.3h.7M93.6 81.0h.7M98.9 76.6h.7M88.7 78.4h.7M75.6 84.7h.7M95.5 83.9h.7M80.4 90.1h.7M87.0 83.4h.7M91.0 79.8h.7M81.1 83.8h.7M75.9 95.7h.7M87.8 87.1h.7M86.1 77.4h.7M80.4 83.8h.7M80.4 81.3h.7M93.6 78.6h.7M84.7 73.9h.7M83.8 83.4h.7M80.8 76.7h.7M88.4 78.8h.7M90.6 89.6h.7M87.6 87.6h.7M74.7 80.9h.7M83.2 77.8h.7M81.2 79.0h.7M85.8 72.5h.7M96.2 74.6h.7M95.5 78.6h.7M91.8 75.4h.7M89.7 85.7h.7M84.9 82.6h.7M89.9 78.7h.7M86.1 92.1h.7M85.8 86.5h.7M80.7 84.4h.7M89.8 91.6h.7M88.9 89.0h.7M102.4 74.4h.7M92.9 82.6h.7M83.9 80.8h.7M92.3 73.2h.7M86.3 92.9h.7M98.3 87.5h.7M92.6 74.0h.7M112.9 78.1h.7M76.3 76.3h.7M88.6 87.8h.7M86.7 82.2h.7M89.8 80.0h.7M95.4 86.9h.7M79.5 84.4h.7M81.3 82.5h.7M91.5 86.1h.7M95.5 78.5h.7M79.4 89.1h.7M74.6 85.7h.7M98.5 83.8h.7M95.7 83.5h.7M98.0 83.7h.7M78.2 79.3h.7M88.6 92.2h.7M89.4 80.8h.7M93.8 90.1h.7M85.9 79.4h.7M86.9 80.9h.7M95.9 78.6h.7M85.7 89.0h.7M82.5 81.2h.7M84.7 85.3h.7M81.3 75.4h.7M88.2 79.4h.7M86.3 83.8h.7M83.9 82.6h.7M97.1 69.4h.7M90.9 84.1h.7M83.6 78.0h.7M101.0 89.2h.7M82.9 82.4h.7M90.8 93.7h.7M87.9 85.8h.7M83.6 85.8h.7M83.9 80.6h.7M88.3 81.4h.7M76.4 87.7h.7M81.8 73.1h.7M91.2 86.7h.7M88.4 75.6h.7M89.9 80.2h.7M103.5 63.0h.7M93.9 83.0h.7M87.6 86.3h.7M87.1 83.9h.7M88.1 83.8h.7M90.8 79.3h.7M85.5 83.6h.7M101.9 85.0h.7M78.0 82.5h.7M93.7 83.3h.7M92.9 84.8h.7M77.9 83.5h.7M93.3 82.0h.7M92.6 82.1h.7M81.7 81.1h.7M110.3 89.5h.7M93.0 78.4h.7M87.3 91.7h.7M85.2 88.7h.7M78.8 73.4h.7M90.2 82.9h.7M89.6 87.3h.7M77.1 89.5h.7M77.9 79.8h.7M82.2 85.1h.7M82.7 76.9h.7M83.3 77.6h.7M81.9 82.4h.7M93.3 81.7h.7M97.8 88.3h.7M88.8 83.9h.7M71.0 92.5h.7M84.8 76.4h.7M90.7 75.0h.7M86.4 79.9h.7M92.4 90.6h.7M86.7 75.1h.7M73.2 77.3h.7M66.7 87.4h.7M94.5 86.9h.7M81.1 74.9h.7M90.8 80.0h.7M83.3 75.9h.7M88.3 90.0h.7M100.0 82.7h.7M78.2 86.2h.7M87.5 81.9h.7M78.3 83.4h.7M88.5 82.7h.7M90.7 77.8h.7M91.8 76.2h.7M87.4 76.1h.7M76.3 85.3h.7M88.6 77.5h.7M96.3 84.7h.7M93.0 69.1h.7M106.1 80.4h.7M93.1 83.7h.7M81.0 90.7h.7M83.0 82.0h.7M86.3 74.2h.7M95.0 75.1h.7M79.8 90.5h.7M94.8 78.6h.7M92.5 78.6h.7M79.7 81.1h.7M92.6 80.5h.7M81.1 82.7h.7M85.5 74.1h.7M84.4 79.7h.7M91.0 86.8h.7M80.0 92.2h.7M91.9 80.4h.7M69.0 84.3h.7M86.2 90.1h.7M82.8 82.5h.7M99.1 72.6h.7M91.9 80.3h.7M84.6 86.8h.7M82.5 92.2h.7M87.3 79.6h.7M83.2 86.3h.7M105.7 75.5h.7M66.4 94.2h.7M88.6 83.3h.7M67.8 88.9h.7M94.9 74.8h.7M80.6 82.3h.7M100.5 76.9h.7M78.2 64.7h.7M97.8 84.2h.7M89.3 81.6h.7M97.1 78.4h.7M87.4 80.2h.7M63.2 88.8h.7M82.0 85.0h.7M73.0 78.8h.7M95.7 80.7h.7M92.3 81.5h.7M87.8 82.3h.7M89.4 73.4h.7M89.1 81.0h.7M81.2 76.8h.7M104.3 79.6h.7M91.5 88.4h.7M87.3 87.1h.7M75.1 83.6h.7M81.8 80.7h.7M87.0 79.2h.7M86.7 84.3h.7M82.8 79.7h.7M86.5 79.5h.7M74.9 71.7h.7M86.6 77.7h.7M73.8 81.5h.7M79.8 81.2h.7M83.3 90.0h.7M93.0 73.2h.7M89.9 74.2h.7M89.1 85.1h.7M76.8 79.6h.7M84.2 82.2h.7M94.5 81.3h.7M98.1 79.4h.7M74.4 81.4h.7M85.4 87.8h.7M90.7 89.6h.7M89.2 76.2h.7M87.4 80.7h.7M94.5 85.5h.7M75.5 84.2h.7M99.2 73.5h.7M77.6 82.4h.7M89.3 86.3h.7M90.6 75.8h.7M97.7 80.8h.7M95.7 82.1h.7M94.0 76.8h.7M99.1 82.2h.7M87.4 85.9h.7M95.3 85.6h.7M101.8 83.5h.7M79.4 76.1h.7M77.4 89.8h.7M80.2 87.3h.7M100.8 84.0h.7M96.9 75.0h.7M86.1 87.6h.7M90.3 83.5h.7M90.1 75.1h.7M98.2 86.3h.7M71.1 82.2h.7M81.8 78.1h.7M86.2 84.7h.7M89.6 78.3h.7M88.9 83.8h.7M84.8 81.5h.7M90.6 82.9h.7M67.6 92.0h.7M113.2 75.1h.7M95.8 84.7h.7M96.3 84.5h.7M81.2 79.2h.7M92.4 85.6h.7M105.7 80.7h.7M103.1 78.7h.7M90.0 87.7h.7M79.8 93.4h.7M90.2 85.7h.7M83.3 75.2h.7M95.5 82.5h.7M77.0 84.3h.7M85.9 81.1h.7M90.6 83.3h.7M83.5 81.5h.7M98.9 88.2h.7M78.8 86.1h.7M77.6 85.0h.7M86.0 86.9h.7M95.9 84.4h.7M87.0 88.9h.7M83.8 86.7h.7M94.5 80.1h.7M89.9 82.3h.7M80.5 72.2h.7M86.9 74.3h.7M87.3 88.0h.7M92.5 79.1h.7M91.6 91.1h.7M83.7 93.2h.7M82.2 76.7h.7M84.9 84.6h.7M94.9 96.2h.7M89.9 77.2h.7M81.5 86.0h.7M86.0 81.4h.7M90.1 80.2h.7M96.6 78.2h.7M89.9 81.5h.7M105.2 81.7h.7M87.0 77.9h.7M94.7 83.1h.7M84.2 79.2h.7M80.3 87.0h.7M89.2 83.5h.7M90.8 77.0h.7M90.8 82.1h.7M88.1 78.0h.7M83.9 78.5h.7M82.7 90.0h.7M82.9 73.4h.7M92.5 84.0h.7M96.8 83.6h.7M59.7 86.4h.7M94.4 86.4h.7M98.1 84.4h.7M96.6 72.6h.7M91.8 84.0h.7M94.1 83.0h.7M83.1 79.3h.7M87.9 85.3h.7M93.3 84.8h.7M77.7 80.9h.7M78.5 73.6h.7M90.1 83.8h.7M75.7 81.3h.7M85.9 73.2h.7M75.0 83.5h.7M86.2 69.4h.7M87.6 80.3h.7M85.3 91.1h.7M76.1 69.5h.7M84.3 85.6h.7M67.9 82.4h.7M84.0 80.9h.7M87.6 77.2h.7M98.8 82.7h.7M83.6 83.2h.7M85.3 78.5h.7M97.6 72.3h.7M101.7 76.1h.7M85.4 89.2h.7M94.9 73.5h.7M98.2 81.7h.7M92.6 82.7h.7M76.9 74.0h.7M81.5 89.9h.7M92.6 80.6h.7M110.4 88.5h.7M88.8 91.5h.7M100.6 77.3h.7M103.4 77.1h.7M76.1 79.7h.7M81.0 76.4h.7M101.6 82.9h.7M95.6 78.7h.7M91.9 78.8h.7M87.5 81.3h.7M94.1 84.3h.7M83.9 88.4h.7M108.7 76.5h.7M78.0 83.7h.7M73.0 86.7h.7M92.0 92.5h.7M97.0 68.1h.7M82.1 77.2h.7M88.1 84.7h.7M79.5 85.2h.7M89.0 88.7h.7M81.2 91.2h.7M82.2 94.7h.7M74.5 81.3h.7M84.1 86.6h.7M103.1 76.8h.7M88.7 87.3h.7M89.7 82.7h.7M107.8 81.8h.7M81.5 79.7h.7M79.8 85.2h.7M91.5 78.3h.7M77.2 83.6h.7M90.0 79.1h.7M96.1 74.2h.7M80.4 90.4h.7M83.9 84.9h.7M103.6 84.0h.7M77.6 79.4h.7M79.5 73.5h.7M89.0 78.3h.7M85.0 82.1h.7M81.8 88.2h.7M102.7 84.1h.7M84.7 89.8h.7M92.8 89.4h.7M85.4 86.9h.7M86.1 83.3h.7M75.3 81.3h.7M96.6 83.7h.7M83.6 80.5h.7M97.4 75.1h.7M79.0 87.8h.7M84.1 84.4h.7M93.1 85.6h.7M87.8 78.2h.7M84.0 89.8h.7M87.2 84.4h.7M76.8 84.2h.7M87.3 78.1h.7M64.2 82.5h.7M87.4 74.7h.7M101.2 86.4h.7M93.4 72.8h.7M95.9 83.6h.7M84.0 81.8h.7M91.2 78.1h.7M83.8 80.6h.7M87.0 81.9h.7M88.3 87.1h.7M60.5 92.7h.7M95.6 80.1h.7M89.8 74.0h.7M92.4 71.0h.7M82.5 94.0h.7M92.3 75.4h.7M89.7 72.9h.7M70.7 93.0h.7M71.0 78.3h.7M89.3 85.9h.7M83.6 88.5h.7M88.1 83.5h.7M83.9 88.6h.7M98.4 71.6h.7M70.3 80.1h.7M76.2 84.2h.7M79.7 84.3h.7M76.3 84.8h.7M83.7 85.9h.7M86.6 78.4h.7M73.7 74.1h.7M91.5 83.5h.7M98.5 78.0h.7M98.2 84.0h.7M107.6 88.5h.7M97.5 80.0h.7M88.4 85.3h.7M101.5 73.5h.7M95.1 85.3h.7M104.1 79.7h.7M86.6 83.9h.7M71.6 91.6h.7M76.5 78.9h.7M90.2 84.7h.7M93.1 83.3h.7M88.4 90.9h.7M93.8 70.5h.7M78.2 84.3h.7M85.1 95.2h.7M95.6 77.8h.7M87.8 79.7h.7M91.2 91.2h.7M103.2 92.1h.7M97.3 80.3h.7M80.3 80.2h.7M88.8 78.6h.7M73.2 83.9h.7M86.7 77.8h.7M90.1 77.0h.7M73.7 86.9h.7M101.1 78.8h.7M105.4 80.1h.7M92.2 81.1h.7M94.0 73.7h.7M101.6 82.6h.7M86.9 83.8h.7M95.9 76.7h.7M90.8 79.8h.7M75.6 87.2h.7M80.6 84.5h.7M83.1 82.7h.7M98.1 83.7h.7M90.3 87.4h.7M95.8 78.3h.7M84.0 83.1h.7M75.8 79.2h.7M105.1 76.6h.7M111.5 78.5h.7M92.5 85.8h.7M86.6 83.4h.7M97.9 79.0h.7M77.8 80.8h.7M86.6 83.7h.7M74.5 79.6h.7M92.3 81.7h.7M90.1 81.6h.7M83.4 78.3h.7M83.1 85.3h.7M75.0 84.4h.7M82.0 87.1h.7M97.7 76.8h.7M85.8 85.4h.7M100.8 87.4h.7M81.0 85.0h.7M88.5 86.4h.7M83.3 79.8h.7M85.4 80.8h.7M91.9 70.5h.7M70.6 85.9h.7M92.7 74.5h.7M94.0 81.1h.7M85.2 71.3h.7M87.5 77.4h.7M86.3 83.0h.7M94.4 82.6h.7M86.2 73.3h.7M80.4 81.8h.7M92.9 95.1h.7M97.1 84.0h.7M91.4 82.1h.7M84.4 67.7h.7M88.5 76.8h.7M84.6 85.9h.7M84.5 84.3h.7M72.9 88.7h.7M87.8 87.5h.7M96.4 80.4h.7M82.0 107.8h.7M67.4 135.3h.7M112.1 101.9h.7M78.4 121.3h.7M89.4 131.7h.7M88.6 102.8h.7M97.0 119.1h.7M95.0 113.2h.7M80.3 126.5h.7M99.9 125.0h.7M82.8 110.2h.7M77.2 131.8h.7M78.2 120.1h.7M78.6 120.7h.7M81.1 122.6h.7M74.9 124.8h.7M76.0 132.8h.7M97.8 121.9h.7M75.0 112.2h.7M83.2 104.5h.7M78.4 118.2h.7M78.3 126.2h.7M83.7 139.4h.7M90.3 122.5h.7M86.5 125.8h.7M97.5 100.7h.7M113.5 105.5h.7M86.3 100.6h.7M72.5 126.2h.7M77.2 135.3h.7M85.1 124.0h.7M78.6 129.3h.7M87.4 103.2h.7M77.1 115.1h.7M81.0 124.1h.7M80.3 118.6h.7M88.8 106.2h.7M72.7 126.9h.7M96.5 120.5h.7M80.7 136.2h.7M96.1 129.5h.7M78.0 125.9h.7M87.2 117.8h.7M84.3 118.4h.7M91.8 108.5h.7M87.1 112.9h.7M80.6 126.6h.7M64.8 127.7h.7M78.8 128.4h.7M87.2 127.8h.7M71.0 116.5h.7M78.6 127.6h.7M94.8 111.7h.7M98.5 115.7h.7M83.0 123.4h.7M85.3 127.7h.7M95.3 129.5h.7M93.3 125.9h.7M81.9 119.6h.7M72.1 135.6h.7M89.4 128.9h.7M76.2 141.1h.7M81.7 118.7h.7M87.2 113.1h.7M81.3 133.1h.7M84.6 118.5h.7M80.0 126.4h.7M79.6 127.3h.7M86.0 95.4h.7M101.4 117.8h.7M95.7 120.2h.7M92.6 130.7h.7M86.4 116.2h.7M84.8 123.4h.7M91.3 118.2h.7M85.5 133.1h.7M72.6 115.3h.7M85.2 126.3h.7M70.7 132.1h.7M93.9 103.2h.7M85.2 110.2h.7M91.9 135.1h.7M80.5 138.1h.7M80.8 128.4h.7M89.6 134.5h.7M81.2 127.0h.7M71.9 134.1h.7M79.2 128.9h.7M83.0 119.0h.7M87.6 116.8h.7M79.6 144.4h.7M84.2 120.6h.7M79.1 131.0h.7M85.9 135.3h.7M85.1 125.3h.7M87.5 131.4h.7M89.8 114.2h.7M80.3 109.1h.7M76.0 120.2h.7M70.6 121.9h.7M102.4 106.3h.7M98.1 103.0h.7M84.0 115.3h.7M77.7 119.1h.7M93.0 111.7h.7M92.2 105.4h.7M84.2 127.6h.7M89.5 99.2h.7M76.9 118.7h.7M101.4 115.1h.7M75.9 123.0h.7M85.2 120.2h.7M91.3 130.4h.7M73.1 114.3h.7M95.3 112.8h.7M80.5 130.6h.7M82.4 123.6h.7M89.8 116.2h.7M74.6 121.7h.7M81.7 92.0h.7M89.3 142.8h.7M97.2 93.5h.7M87.2 131.0h.7M97.7 114.7h.7M95.9 105.1h.7M91.0 117.0h.7M81.9 138.2h.7M93.5 130.0h.7M88.6 122.0h.7M96.4 119.5h.7M88.6 109.7h.7M88.5 107.7h.7M93.8 105.8h.7M82.3 132.3h.7M94.1 112.5h.7M88.1 146.0h.7M91.3 122.3h.7M79.5 132.4h.7M88.1 146.6h.7M92.3 112.5h.7M87.2 122.5h.7M93.8 112.3h.7M74.0 136.4h.7M71.1 130.0h.7M85.3 122.5h.7M79.3 126.9h.7M79.8 117.2h.7M82.3 127.9h.7M81.8 123.9h.7M74.8 130.9h.7M80.5 101.3h.7M82.1 123.8h.7M89.9 139.5h.7M94.6 116.9h.7M94.8 119.7h.7M86.1 118.6h.7M93.2 122.3h.7M78.4 122.8h.7M81.3 120.8h.7M76.1 146.1h.7M67.0 132.4h.7M78.5 134.1h.7M88.6 119.0h.7M102.9 114.0h.7M79.5 120.3h.7M86.3 125.3h.7M87.1 106.9h.7M79.4 122.9h.7M71.0 104.7h.7M81.3 113.2h.7M85.1 139.0h.7M90.2 119.5h.7M87.2 119.4h.7M94.7 141.7h.7M82.8 133.8h.7M69.8 130.1h.7M91.4 105.9h.7M96.5 98.6h.7M99.5 119.1h.7M87.9 101.3h.7M80.3 136.7h.7M99.3 109.6h.7M90.8 97.4h.7M94.7 104.3h.7M66.6 123.9h.7M91.8 109.9h.7M70.0 114.5h.7M88.5 108.3h.7M92.7 133.7h.7M87.8 122.3h.7M82.2 127.2h.7M88.7 116.5h.7M98.6 129.6h.7M94.9 111.2h.7M96.5 115.9h.7M84.5 115.1h.7M82.0 119.9h.7M76.5 120.5h.7M83.9 120.3h.7M84.7 110.6h.7M92.2 123.1h.7M90.9 120.2h.7M84.1 121.0h.7M81.1 119.9h.7M62.4 117.9h.7M70.6 138.7h.7M90.3 116.0h.7M92.5 117.4h.7M59.4 120.5h.7M80.1 92.5h.7M79.5 133.9h.7M83.9 106.9h.7M85.0 117.6h.7M83.7 116.0h.7M95.3 111.0h.7M78.1 104.8h.7M81.5 118.7h.7M85.3 135.4h.7M79.6 134.6h.7M80.7 116.1h.7M96.9 105.9h.7M91.9 112.7h.7M79.1 118.2h.7M91.4 119.9h.7M93.3 116.1h.7M93.8 102.4h.7M86.9 132.3h.7M81.5 109.2h.7M91.6 120.7h.7M79.5 128.3h.7M73.2 128.5h.7M88.3 105.5h.7M94.6 121.5h.7M80.2 121.3h.7M83.4 118.7h.7M86.3 108.3h.7M80.4 117.2h.7M100.4 107.3h.7M98.1 131.4h.7M89.4 133.9h.7M87.8 123.9h.7M84.7 133.5h.7M80.8 123.5h.7M88.7 106.3h.7M87.0 98.8h.7M98.0 119.3h.7M84.0 117.7h.7M75.3 128.1h.7M75.3 129.3h.7M88.4 117.7h.7M82.4 117.3h.7M81.9 127.2h.7M83.7 126.3h.7M102.6 109.1h.7M82.5 106.2h.7M87.3 121.4h.7M81.8 116.1h.7M89.4 106.0h.7M97.7 122.8h.7M90.5 120.6h.7M73.7 136.3h.7M78.8 140.5h.7M74.2 141.1h.7M79.7 148.7h.7M81.8 119.4h.7M90.1 119.2h.7M78.8 129.5h.7M87.6 116.3h.7M86.6 115.8h.7M80.6 119.6h.7M77.5 136.9h.7M99.6 109.1h.7M88.9 104.3h.7M79.3 125.7h.7M98.4 101.7h.7M80.4 117.9h.7M86.4 132.3h.7M87.4 127.8h.7M59.6 132.6h.7M78.8 122.4h.7M69.0 134.2h.7M96.9 111.9h.7M93.0 120.9h.7M69.4 131.5h.7M83.8 112.5h.7M74.9 138.9h.7M83.6 118.0h.7M92.5 118.4h.7M91.9 123.7h.7M82.6 134.9h.7M91.6 125.9h.7M90.2 126.2h.7M85.0 120.1h.7M90.6 103.7h.7M89.8 100.5h.7M99.3 107.1h.7M87.3 130.8h.7M87.5 132.4h.7M83.1 119.6h.7M85.0 115.0h.7M75.2 143.7h.7M89.8 131.8h.7M97.5 103.3h.7M79.6 134.9h.7M75.6 126.0h.7M84.0 130.0h.7M91.4 117.7h.7M78.5 118.4h.7M94.7 130.5h.7M70.5 133.9h.7M94.6 117.8h.7M83.8 120.3h.7M82.4 128.6h.7M80.1 118.0h.7M85.9 110.7h.7M81.4 139.1h.7M75.1 136.8h.7M77.1 130.7h.7M86.0 133.4h.7M72.6 155.8h.7M82.8 128.0h.7M92.9 110.0h.7M94.5 130.5h.7M89.7 109.7h.7M71.4 152.9h.7M87.2 123.7h.7M83.8 101.5h.7M81.4 97.7h.7M83.1 126.8h.7M86.1 132.8h.7M88.6 117.7h.7M74.8 132.1h.7M78.8 122.6h.7M81.0 141.6h.7M83.6 119.1h.7M74.6 115.4h.7M98.7 106.1h.7M88.7 118.1h.7M83.9 129.4h.7M91.4 125.6h.7M86.5 139.3h.7M88.9 122.6h.7M82.8 122.7h.7M73.7 109.2h.7M92.3 112.2h.7M72.8 141.8h.7M95.5 122.1h.7M97.6 117.6h.7M81.4 135.4h.7M104.7 105.6h.7M80.5 128.4h.7M98.7 94.8h.7M84.0 109.8h.7M88.5 109.7h.7M88.0 118.9h.7M97.7 114.0h.7M74.5 129.5h.7M85.8 132.4h.7M89.3 150.0h.7M79.4 110.6h.7M79.4 127.7h.7M89.5 113.1h.7M95.0 118.2h.7M90.5 142.2h.7M97.1 117.9h.7M86.3 118.2h.7M80.7 116.0h.7M87.3 116.0h.7M84.7 121.2h.7M86.7 121.8h.7M85.2 106.7h.7M89.4 136.9h.7M73.6 131.3h.7M85.2 131.5h.7M92.3 110.8h.7M76.1 120.7h.7M96.3 100.9h.7M67.8 153.8h.7M79.8 128.0h.7M87.8 128.6h.7M83.5 116.5h.7M109.2 115.7h.7M91.4 126.9h.7M73.4 128.7h.7M73.6 103.5h.7M102.0 108.9h.7M72.3 149.1h.7M88.9 115.2h.7M80.4 114.5h.7M71.0 124.9h.7M70.2 119.6h.7M103.5 126.9h.7M95.7 126.3h.7M80.1 121.8h.7M90.7 140.0h.7M74.6 111.6h.7M85.9 130.5h.7M90.2 122.6h.7M76.1 124.3h.7M83.2 117.3h.7M82.4 109.5h.7M86.7 118.7h.7M97.4 118.6h.7M83.7 139.2h.7M90.4 117.6h.7M94.0 121.8h.7M69.8 121.5h.7M97.4 129.8h.7M68.9 150.6h.7M76.9 115.6h.7M80.2 124.1h.7M68.0 142.8h.7M88.5 116.0h.7M83.5 128.9h.7M71.3 110.0h.7M91.9 128.0h.7M99.1 122.0h.7M78.7 116.5h.7M93.1 129.3h.7M96.1 120.2h.7M96.4 115.8h.7M82.9 150.8h.7M76.0 115.9h.7M86.4 129.9h.7M72.1 129.3h.7M107.9 115.5h.7M84.0 107.5h.7M71.1 127.8h.7M86.1 136.8h.7M93.7 114.6h.7M81.6 127.8h.7M84.1 125.0h.7M77.9 144.1h.7M95.6 128.6h.7M86.7 106.5h.7M78.7 124.0h.7M80.5 120.3h.7M94.3 102.3h.7M90.0 111.8h.7M84.5 101.5h.7M90.5 115.5h.7M83.4 103.9h.7M73.5 137.6h.7M78.7 128.9h.7M74.0 137.8h.7M107.3 102.7h.7M96.8 124.9h.7M91.4 126.2h.7M91.2 134.6h.7M77.4 130.8h.7M78.5 155.8h.7M97.3 97.1h.7M86.0 122.8h.7M87.1 121.4h.7M68.2 131.3h.7M80.6 119.6h.7M86.0 116.5h.7M86.9 123.2h.7M87.6 114.1h.7M74.6 127.0h.7M79.1 113.6h.7M90.1 111.6h.7M80.3 111.0h.7M79.3 112.9h.7M83.7 121.8h.7M80.6 132.2h.7M82.6 112.3h.7M71.0 119.0h.7M81.5 132.1h.7M94.7 115.9h.7M73.2 136.7h.7M79.3 125.7h.7M74.0 104.7h.7M96.3 114.2h.7M75.6 121.2h.7M90.1 122.9h.7M84.1 113.3h.7M83.6 121.3h.7M79.4 128.6h.7M75.5 110.2h.7M104.1 129.0h.7M75.2 114.5h.7M92.0 109.7h.7M81.3 115.0h.7M80.8 125.1h.7M95.0 124.2h.7M83.6 94.0h.7M80.0 128.2h.7M86.7 125.6h.7M81.2 130.0h.7M89.6 118.7h.7M72.9 131.8h.7M76.6 110.6h.7M80.6 108.4h.7M77.9 127.8h.7M85.1 132.7h.7M77.1 137.1h.7M95.8 126.3h.7M79.3 133.3h.7M82.7 128.4h.7M83.9 126.2h.7M69.6 122.3h.7M93.5 114.3h.7M86.6 100.3h.7M70.4 142.3h.7M95.9 137.9h.7M78.2 114.1h.7M79.8 132.6h.7M83.9 127.8h.7M87.0 119.3h.7M92.8 106.3h.7M87.9 106.7h.7M96.5 131.2h.7M72.4 112.6h.7M76.1 121.3h.7M93.8 128.2h.7M82.0 135.4h.7M69.9 137.1h.7M76.9 121.8h.7M88.8 109.8h.7M106.7 122.3h.7M77.7 142.6h.7M77.1 119.5h.7M83.0 128.6h.7M82.4 115.8h.7M88.7 138.0h.7M92.1 112.4h.7M92.2 127.7h.7M89.3 115.5h.7M103.4 119.0h.7M76.8 143.1h.7M85.6 124.4h.7M86.7 101.4h.7M82.3 119.4h.7M93.4 111.4h.7M84.1 114.8h.7M98.6 135.1h.7M86.5 118.0h.7M85.9 107.2h.7M98.8 110.9h.7M89.6 103.8h.7M81.4 134.2h.7M89.0 111.9h.7M72.5 133.1h.7M93.4 127.3h.7M84.4 123.6h.7M95.7 118.2h.7M84.5 116.5h.7M82.6 102.8h.7M73.3 123.2h.7M86.3 110.3h.7M86.0 116.3h.7M85.4 121.2h.7M81.6 135.5h.7M80.0 110.6h.7M88.3 118.5h.7M81.3 108.4h.7M80.2 119.0h.7M100.5 132.8h.7M95.6 121.4h.7M85.2 114.9h.7M100.7 120.1h.7M105.0 106.0h.7M87.4 130.7h.7M106.0 105.0h.7M66.7 151.5h.7M89.5 110.4h.7M74.7 126.7h.7M100.1 101.9h.7M71.7 126.0h.7M87.6 108.0h.7M82.5 133.1h.7M75.3 131.2h.7M91.8 113.8h.7M102.0 118.3h.7M74.5 125.0h.7M107.8 100.6h.7M78.7 122.0h.7M87.6 101.2h.7M80.8 132.5h.7M86.4 134.8h.7M80.8 117.6h.7M74.5 129.2h.7M84.6 114.7h.7M68.1 141.2h.7M87.2 119.8h.7M77.1 124.5h.7M77.9 130.3h.7M88.5 120.0h.7M81.0 121.9h.7M90.1 129.8h.7M85.1 110.1h.7M81.5 115.2h.7M100.6 124.2h.7M102.4 112.3h.7M85.0 122.0h.7M95.2 115.1h.7M84.9 126.6h.7M85.0 112.8h.7M92.4 117.8h.7M83.9 127.9h.7M85.0 141.5h.7M65.6 128.1h.7M85.0 133.8h.7M89.2 115.8h.7M79.7 120.0h.7M80.5 122.7h.7M85.0 114.6h.7M80.3 108.7h.7M89.0 104.3h.7M86.8 130.1h.7M78.0 109.9h.7M86.5 112.2h.7M64.0 122.7h.7M81.9 117.7h.7M82.4 132.1h.7M83.4 123.2h.7M87.6 116.7h.7M68.0 135.0h.7M83.9 132.2h.7M74.5 126.4h.7M91.5 123.2h.7M82.3 129.5h.7M84.5 115.7h.7M90.0 135.3h.7M79.5 125.1h.7M95.2 118.3h.7M87.5 118.0h.7M85.8 119.4h.7M91.4 125.0h.7M93.5 112.0h.7M92.6 106.5h.7M82.1 124.5h.7M82.3 129.4h.7M79.7 132.3h.7M92.5 101.6h.7M73.1 126.8h.7M60.4 125.8h.7M85.7 117.8h.7M89.3 109.1h.7M86.1 138.3h.7M87.3 123.9h.7M84.5 140.2h.7M92.6 134.5h.7M93.4 103.5h.7M80.4 116.3h.7M88.9 126.6h.7M81.4 118.2h.7M84.9 117.2h.7M93.9 127.2h.7M23.5 66.8h.7M73.5 120.0h.7M58.0 82.3h.7M95.1 75.2h.7M106.0 148.9h.7M105.2 47.6h.7M37.5 142.9h.7M36.5 87.3h.7M123.7 141.4h.7M56.5 80.4h.7M103.3 107.1h.7M20.6 63.0h.7M91.2 79.0h.7M46.8 122.3h.7M99.8 126.1h.7M28.5 66.3h.7M126.0 121.5h.7M102.1 161.3h.7M94.3 117.4h.7M76.1 79.2h.7M115.2 126.5h.7M71.9 115.1h.7M96.3 123.8h.7M66.5 144.7h.7M20.1 156.3h.7M74.6 64.3h.7M116.1 75.2h.7M96.6 61.9h.7M29.2 163.4h.7M22.5 161.9h.7" stroke="#000" stroke-width="0.65" fill="none" opacity="0.9"/><rect x="17.5" y="45.3" width="123.7" height="119.6" fill="none" stroke="#666" stroke-width="1"/><rect x="27.4" y="55.6" width="44.2" height="43.8" rx="6" fill="none" stroke="#111" stroke-width="1.6"/><rect x="27.4" y="104.9" width="44.2" height="54.5" rx="6" fill="none" stroke="#111" stroke-width="1.6"/><rect x="72.9" y="55.6" width="62.9" height="43.8" rx="6" fill="none" stroke="#1f1ff2" stroke-width="1.6"/><text x="77.00" y="68.10" font-size="11.6" text-anchor="start" font-weight="normal" fill="#2626ee" stroke="#2626ee" stroke-width="0.3">IL-10 MFI</text><text transform="translate(10.60,164.40) rotate(-90)" font-size="11" text-anchor="start" fill="#000">IFNγ</text><line x1="7.2" y1="136" x2="7.2" y2="104" stroke="#000" stroke-width="1.2"/><path d="M7.2 99.5 L4.3 106.5 L10.1 106.5 Z" fill="#000"/><text x="14.50" y="178.60" font-size="11.3" text-anchor="start" font-weight="normal" fill="#000" >IL-10</text><line x1="47.7" y1="175.4" x2="79" y2="175.4" stroke="#000" stroke-width="1.2"/><path d="M84.3 175.4 L77.3 172.5 L77.3 178.3 Z" fill="#000"/><defs><filter id="hb" x="-2%" y="-2%" width="104%" height="104%"><feGaussianBlur stdDeviation="0.45"/></filter><clipPath id="hc"><rect x="17.1" y="217" width="152.1" height="141"/><rect x="17.1" y="360" width="152.1" height="106.8"/></clipPath></defs><g clip-path="url(#hc)"><g filter="url(#hb)" shape-rendering="crispEdges"><rect x="17.10" y="217.00" width="8.50" height="2.40" fill="rgb(135,132,22)"/><rect x="17.10" y="219.35" width="8.50" height="2.40" fill="rgb(205,205,22)"/><rect x="17.10" y="221.70" width="8.50" height="2.40" fill="rgb(205,205,22)"/><rect x="17.10" y="224.05" width="8.50" height="2.40" fill="rgb(205,205,22)"/><rect x="17.10" y="226.40" width="8.50" height="2.40" fill="rgb(48,46,9)"/><rect x="17.10" y="228.75" width="8.50" height="2.40" fill="rgb(86,84,13)"/><rect x="17.10" y="231.10" width="8.50" height="2.40" fill="rgb(135,132,22)"/><rect x="17.10" y="233.45" width="8.50" height="2.40" fill="rgb(135,132,22)"/><rect x="17.10" y="235.80" width="8.50" height="2.40" fill="rgb(135,132,22)"/><rect x="17.10" y="238.15" width="8.50" height="2.40" fill="rgb(135,132,22)"/><rect x="17.10" y="240.50" width="8.50" height="2.40" fill="rgb(86,84,13)"/><rect x="17.10" y="242.85" width="8.50" height="2.40" fill="rgb(86,84,13)"/><rect x="17.10" y="245.20" width="8.50" height="2.40" fill="rgb(86,84,13)"/><rect x="17.10" y="247.55" width="8.50" height="2.40" fill="rgb(86,84,13)"/><rect x="17.10" y="249.90" width="8.50" height="2.40" fill="rgb(86,84,13)"/><rect x="17.10" y="252.25" width="8.50" height="2.40" fill="rgb(86,84,13)"/><rect x="17.10" y="254.60" width="8.50" height="2.40" fill="rgb(135,132,22)"/><rect x="17.10" y="256.95" width="8.50" height="2.40" fill="rgb(135,132,22)"/><rect x="17.10" y="259.30" width="8.50" height="2.40" fill="rgb(135,132,22)"/><rect x="17.10" y="261.65" width="8.50" height="2.40" fill="rgb(135,132,22)"/><rect x="17.10" y="264.00" width="8.50" height="2.40" fill="rgb(86,84,13)"/><rect x="17.10" y="266.35" width="8.50" height="2.40" fill="rgb(135,132,22)"/><rect x="17.10" y="268.70" width="8.50" height="2.40" fill="rgb(86,84,13)"/><rect x="17.10" y="271.05" width="8.50" height="2.40" fill="rgb(86,84,13)"/><rect x="17.10" y="273.40" width="8.50" height="2.40" fill="rgb(86,84,13)"/><rect x="17.10" y="275.75" width="8.50" height="2.40" fill="rgb(86,84,13)"/><rect x="17.10" y="278.10" width="8.50" height="2.40" fill="rgb(86,84,13)"/><rect x="17.10" y="280.45" width="8.50" height="2.40" fill="rgb(86,84,13)"/><rect x="17.10" y="282.80" width="8.50" height="2.40" fill="rgb(48,46,9)"/><rect x="17.10" y="285.15" width="8.50" height="2.40" fill="rgb(86,84,13)"/><rect x="17.10" y="287.50" width="8.50" height="2.40" fill="rgb(86,84,13)"/><rect x="17.10" y="289.85" width="8.50" height="2.40" fill="rgb(48,46,9)"/><rect x="17.10" y="292.20" width="8.50" height="2.40" fill="rgb(86,84,13)"/><rect x="17.10" y="294.55" width="8.50" height="2.40" fill="rgb(86,84,13)"/><rect x="17.10" y="296.90" width="8.50" height="2.40" fill="rgb(135,132,22)"/><rect x="17.10" y="299.25" width="8.50" height="2.40" fill="rgb(135,132,22)"/><rect x="17.10" y="301.60" width="8.50" height="2.40" fill="rgb(86,84,13)"/><rect x="17.10" y="303.95" width="8.50" height="2.40" fill="rgb(86,84,13)"/><rect x="17.10" y="306.30" width="8.50" height="2.40" fill="rgb(135,132,22)"/><rect x="17.10" y="308.65" width="8.50" height="2.40" fill="rgb(135,132,22)"/><rect x="17.10" y="311.00" width="8.50" height="2.40" fill="rgb(48,46,9)"/><rect x="17.10" y="313.35" width="8.50" height="2.40" fill="rgb(48,46,9)"/><rect x="17.10" y="315.70" width="8.50" height="2.40" fill="rgb(86,84,13)"/><rect x="17.10" y="318.05" width="8.50" height="2.40" fill="rgb(86,84,13)"/><rect x="17.10" y="320.40" width="8.50" height="2.40" fill="rgb(48,46,9)"/><rect x="17.10" y="322.75" width="8.50" height="2.40" fill="rgb(48,46,9)"/><rect x="17.10" y="325.10" width="8.50" height="2.40" fill="rgb(135,132,22)"/><rect x="17.10" y="327.45" width="8.50" height="2.40" fill="rgb(135,132,22)"/><rect x="17.10" y="329.80" width="8.50" height="2.40" fill="rgb(48,46,9)"/><rect x="17.10" y="332.15" width="8.50" height="2.40" fill="rgb(48,46,9)"/><rect x="17.10" y="334.50" width="8.50" height="2.40" fill="rgb(86,84,13)"/><rect x="17.10" y="336.85" width="8.50" height="2.40" fill="rgb(135,132,22)"/><rect x="17.10" y="339.20" width="8.50" height="2.40" fill="rgb(86,84,13)"/><rect x="17.10" y="341.55" width="8.50" height="2.40" fill="rgb(86,84,13)"/><rect x="17.10" y="343.90" width="8.50" height="2.40" fill="rgb(135,132,22)"/><rect x="17.10" y="346.25" width="8.50" height="2.40" fill="rgb(135,132,22)"/><rect x="17.10" y="348.60" width="8.50" height="2.40" fill="rgb(135,132,22)"/><rect x="17.10" y="350.95" width="8.50" height="2.40" fill="rgb(135,132,22)"/><rect x="17.10" y="353.30" width="8.50" height="2.40" fill="rgb(135,132,22)"/><rect x="17.10" y="355.65" width="8.50" height="2.40" fill="rgb(135,132,22)"/><rect x="17.10" y="360.00" width="8.50" height="2.40" fill="rgb(24,14,60)"/><rect x="17.10" y="362.35" width="8.50" height="2.40" fill="rgb(35,23,128)"/><rect x="17.10" y="364.70" width="8.50" height="2.40" fill="rgb(35,23,128)"/><rect x="17.10" y="367.05" width="8.50" height="2.40" fill="rgb(35,23,128)"/><rect x="17.10" y="369.40" width="8.50" height="2.40" fill="rgb(35,23,128)"/><rect x="17.10" y="371.75" width="8.50" height="2.40" fill="rgb(35,23,128)"/><rect x="17.10" y="374.10" width="8.50" height="2.40" fill="rgb(24,14,60)"/><rect x="17.10" y="376.45" width="8.50" height="2.40" fill="rgb(10,8,12)"/><rect x="17.10" y="378.80" width="8.50" height="2.40" fill="rgb(10,8,12)"/><rect x="17.10" y="381.15" width="8.50" height="2.40" fill="rgb(10,8,12)"/><rect x="17.10" y="383.50" width="8.50" height="2.40" fill="rgb(35,23,128)"/><rect x="17.10" y="385.85" width="8.50" height="2.40" fill="rgb(35,23,128)"/><rect x="17.10" y="388.20" width="8.50" height="2.40" fill="rgb(35,23,128)"/><rect x="17.10" y="390.55" width="8.50" height="2.40" fill="rgb(35,23,128)"/><rect x="17.10" y="392.90" width="8.50" height="2.40" fill="rgb(24,14,60)"/><rect x="17.10" y="395.25" width="8.50" height="2.40" fill="rgb(10,8,12)"/><rect x="17.10" y="397.60" width="8.50" height="2.40" fill="rgb(35,23,128)"/><rect x="17.10" y="399.95" width="8.50" height="2.40" fill="rgb(10,8,12)"/><rect x="17.10" y="402.30" width="8.50" height="2.40" fill="rgb(35,23,128)"/><rect x="17.10" y="404.65" width="8.50" height="2.40" fill="rgb(35,23,128)"/><rect x="17.10" y="407.00" width="8.50" height="2.40" fill="rgb(24,14,60)"/><rect x="17.10" y="409.35" width="8.50" height="2.40" fill="rgb(35,23,128)"/><rect x="17.10" y="411.70" width="8.50" height="2.40" fill="rgb(35,23,128)"/><rect x="17.10" y="414.05" width="8.50" height="2.40" fill="rgb(35,23,128)"/><rect x="17.10" y="416.40" width="8.50" height="2.40" fill="rgb(24,14,60)"/><rect x="17.10" y="418.75" width="8.50" height="2.40" fill="rgb(24,14,60)"/><rect x="17.10" y="421.10" width="8.50" height="2.40" fill="rgb(35,23,128)"/><rect x="17.10" y="423.45" width="8.50" height="2.40" fill="rgb(35,23,128)"/><rect x="17.10" y="425.80" width="8.50" height="2.40" fill="rgb(35,23,128)"/><rect x="17.10" y="428.15" width="8.50" height="2.40" fill="rgb(24,14,60)"/><rect x="17.10" y="430.50" width="8.50" height="2.40" fill="rgb(42,30,192)"/><rect x="17.10" y="432.85" width="8.50" height="2.40" fill="rgb(42,30,192)"/><rect x="17.10" y="435.20" width="8.50" height="2.40" fill="rgb(35,23,128)"/><rect x="17.10" y="437.55" width="8.50" height="2.40" fill="rgb(35,23,128)"/><rect x="17.10" y="439.90" width="8.50" height="2.40" fill="rgb(24,14,60)"/><rect x="17.10" y="442.25" width="8.50" height="2.40" fill="rgb(24,14,60)"/><rect x="17.10" y="444.60" width="8.50" height="2.40" fill="rgb(35,23,128)"/><rect x="17.10" y="446.95" width="8.50" height="2.40" fill="rgb(24,14,60)"/><rect x="17.10" y="449.30" width="8.50" height="2.40" fill="rgb(35,23,128)"/><rect x="17.10" y="451.65" width="8.50" height="2.40" fill="rgb(24,14,60)"/><rect x="17.10" y="454.00" width="8.50" height="2.40" fill="rgb(35,23,128)"/><rect x="17.10" y="456.35" width="8.50" height="2.40" fill="rgb(35,23,128)"/><rect x="17.10" y="458.70" width="8.50" height="2.40" fill="rgb(35,23,128)"/><rect x="17.10" y="461.05" width="8.50" height="2.40" fill="rgb(35,23,128)"/><rect x="17.10" y="463.40" width="8.50" height="2.40" fill="rgb(35,23,128)"/><rect x="17.10" y="465.75" width="8.50" height="1.10" fill="rgb(42,30,192)"/><rect x="25.55" y="217.00" width="8.50" height="2.40" fill="rgb(135,132,22)"/><rect x="25.55" y="219.35" width="8.50" height="2.40" fill="rgb(135,132,22)"/><rect x="25.55" y="221.70" width="8.50" height="2.40" fill="rgb(86,84,13)"/><rect x="25.55" y="224.05" width="8.50" height="2.40" fill="rgb(86,84,13)"/><rect x="25.55" y="226.40" width="8.50" height="2.40" fill="rgb(135,132,22)"/><rect x="25.55" y="228.75" width="8.50" height="2.40" fill="rgb(135,132,22)"/><rect x="25.55" y="231.10" width="8.50" height="2.40" fill="rgb(86,84,13)"/><rect x="25.55" y="233.45" width="8.50" height="2.40" fill="rgb(86,84,13)"/><rect x="25.55" y="235.80" width="8.50" height="2.40" fill="rgb(86,84,13)"/><rect x="25.55" y="238.15" width="8.50" height="2.40" fill="rgb(48,46,9)"/><rect x="25.55" y="240.50" width="8.50" height="2.40" fill="rgb(135,132,22)"/><rect x="25.55" y="242.85" width="8.50" height="2.40" fill="rgb(135,132,22)"/><rect x="25.55" y="245.20" width="8.50" height="2.40" fill="rgb(205,205,22)"/><rect x="25.55" y="247.55" width="8.50" height="2.40" fill="rgb(205,205,22)"/><rect x="25.55" y="249.90" width="8.50" height="2.40" fill="rgb(205,205,22)"/><rect x="25.55" y="252.25" width="8.50" height="2.40" fill="rgb(205,205,22)"/><rect x="25.55" y="254.60" width="8.50" height="2.40" fill="rgb(86,84,13)"/><rect x="25.55" y="256.95" width="8.50" height="2.40" fill="rgb(86,84,13)"/><rect x="25.55" y="259.30" width="8.50" height="2.40" fill="rgb(135,132,22)"/><rect x="25.55" y="261.65" width="8.50" height="2.40" fill="rgb(135,132,22)"/><rect x="25.55" y="264.00" width="8.50" height="2.40" fill="rgb(135,132,22)"/><rect x="25.55" y="266.35" width="8.50" height="2.40" fill="rgb(135,132,22)"/><rect x="25.55" y="268.70" width="8.50" height="2.40" fill="rgb(86,84,13)"/><rect x="25.55" y="271.05" width="8.50" height="2.40" fill="rgb(86,84,13)"/><rect x="25.55" y="273.40" width="8.50" height="2.40" fill="rgb(135,132,22)"/><rect x="25.55" y="275.75" width="8.50" height="2.40" fill="rgb(135,132,22)"/><rect x="25.55" y="278.10" width="8.50" height="2.40" fill="rgb(86,84,13)"/><rect x="25.55" y="280.45" width="8.50" height="2.40" fill="rgb(135,132,22)"/><rect x="25.55" y="282.80" width="8.50" height="2.40" fill="rgb(86,84,13)"/><rect x="25.55" y="285.15" width="8.50" height="2.40" fill="rgb(86,84,13)"/><rect x="25.55" y="287.50" width="8.50" height="2.40" fill="rgb(86,84,13)"/><rect x="25.55" y="289.85" width="8.50" height="2.40" fill="rgb(48,46,9)"/><rect x="25.55" y="292.20" width="8.50" height="2.40" fill="rgb(135,132,22)"/><rect x="25.55" y="294.55" width="8.50" height="2.40" fill="rgb(86,84,13)"/><rect x="25.55" y="296.90" width="8.50" height="2.40" fill="rgb(135,132,22)"/><rect x="25.55" y="299.25" width="8.50" height="2.40" fill="rgb(135,132,22)"/><rect x="25.55" y="301.60" width="8.50" height="2.40" fill="rgb(135,132,22)"/><rect x="25.55" y="303.95" width="8.50" height="2.40" fill="rgb(135,132,22)"/><rect x="25.55" y="306.30" width="8.50" height="2.40" fill="rgb(86,84,13)"/><rect x="25.55" y="308.65" width="8.50" height="2.40" fill="rgb(86,84,13)"/><rect x="25.55" y="311.00" width="8.50" height="2.40" fill="rgb(135,132,22)"/><rect x="25.55" y="313.35" width="8.50" height="2.40" fill="rgb(135,132,22)"/><rect x="25.55" y="315.70" width="8.50" height="2.40" fill="rgb(135,132,22)"/><rect x="25.55" y="318.05" width="8.50" height="2.40" fill="rgb(135,132,22)"/><rect x="25.55" y="320.40" width="8.50" height="2.40" fill="rgb(86,84,13)"/><rect x="25.55" y="322.75" width="8.50" height="2.40" fill="rgb(86,84,13)"/><rect x="25.55" y="325.10" width="8.50" height="2.40" fill="rgb(86,84,13)"/><rect x="25.55" y="327.45" width="8.50" height="2.40" fill="rgb(48,46,9)"/><rect x="25.55" y="329.80" width="8.50" height="2.40" fill="rgb(135,132,22)"/><rect x="25.55" y="332.15" width="8.50" height="2.40" fill="rgb(135,132,22)"/><rect x="25.55" y="334.50" width="8.50" height="2.40" fill="rgb(48,46,9)"/><rect x="25.55" y="336.85" width="8.50" height="2.40" fill="rgb(86,84,13)"/><rect x="25.55" y="339.20" width="8.50" height="2.40" fill="rgb(10,8,12)"/><rect x="25.55" y="341.55" width="8.50" height="2.40" fill="rgb(10,8,12)"/><rect x="25.55" y="343.90" width="8.50" height="2.40" fill="rgb(48,46,9)"/><rect x="25.55" y="346.25" width="8.50" height="2.40" fill="rgb(86,84,13)"/><rect x="25.55" y="348.60" width="8.50" height="2.40" fill="rgb(86,84,13)"/><rect x="25.55" y="350.95" width="8.50" height="2.40" fill="rgb(48,46,9)"/><rect x="25.55" y="353.30" width="8.50" height="2.40" fill="rgb(86,84,13)"/><rect x="25.55" y="355.65" width="8.50" height="2.40" fill="rgb(86,84,13)"/><rect x="25.55" y="360.00" width="8.50" height="2.40" fill="rgb(24,14,60)"/><rect x="25.55" y="362.35" width="8.50" height="2.40" fill="rgb(24,14,60)"/><rect x="25.55" y="364.70" width="8.50" height="2.40" fill="rgb(35,23,128)"/><rect x="25.55" y="367.05" width="8.50" height="2.40" fill="rgb(35,23,128)"/><rect x="25.55" y="369.40" width="8.50" height="2.40" fill="rgb(24,14,60)"/><rect x="25.55" y="371.75" width="8.50" height="2.40" fill="rgb(24,14,60)"/><rect x="25.55" y="374.10" width="8.50" height="2.40" fill="rgb(35,23,128)"/><rect x="25.55" y="376.45" width="8.50" height="2.40" fill="rgb(35,23,128)"/><rect x="25.55" y="378.80" width="8.50" height="2.40" fill="rgb(35,23,128)"/><rect x="25.55" y="381.15" width="8.50" height="2.40" fill="rgb(35,23,128)"/><rect x="25.55" y="383.50" width="8.50" height="2.40" fill="rgb(35,23,128)"/><rect x="25.55" y="385.85" width="8.50" height="2.40" fill="rgb(35,23,128)"/><rect x="25.55" y="388.20" width="8.50" height="2.40" fill="rgb(24,14,60)"/><rect x="25.55" y="390.55" width="8.50" height="2.40" fill="rgb(24,14,60)"/><rect x="25.55" y="392.90" width="8.50" height="2.40" fill="rgb(42,30,192)"/><rect x="25.55" y="395.25" width="8.50" height="2.40" fill="rgb(35,23,128)"/><rect x="25.55" y="397.60" width="8.50" height="2.40" fill="rgb(24,14,60)"/><rect x="25.55" y="399.95" width="8.50" height="2.40" fill="rgb(24,14,60)"/><rect x="25.55" y="402.30" width="8.50" height="2.40" fill="rgb(35,23,128)"/><rect x="25.55" y="404.65" width="8.50" height="2.40" fill="rgb(35,23,128)"/><rect x="25.55" y="407.00" width="8.50" height="2.40" fill="rgb(35,23,128)"/><rect x="25.55" y="409.35" width="8.50" height="2.40" fill="rgb(24,14,60)"/><rect x="25.55" y="411.70" width="8.50" height="2.40" fill="rgb(35,23,128)"/><rect x="25.55" y="414.05" width="8.50" height="2.40" fill="rgb(35,23,128)"/><rect x="25.55" y="416.40" width="8.50" height="2.40" fill="rgb(35,23,128)"/><rect x="25.55" y="418.75" width="8.50" height="2.40" fill="rgb(35,23,128)"/><rect x="25.55" y="421.10" width="8.50" height="2.40" fill="rgb(35,23,128)"/><rect x="25.55" y="423.45" width="8.50" height="2.40" fill="rgb(35,23,128)"/><rect x="25.55" y="425.80" width="8.50" height="2.40" fill="rgb(35,23,128)"/><rect x="25.55" y="428.15" width="8.50" height="2.40" fill="rgb(35,23,128)"/><rect x="25.55" y="430.50" width="8.50" height="2.40" fill="rgb(35,23,128)"/><rect x="25.55" y="432.85" width="8.50" height="2.40" fill="rgb(35,23,128)"/><rect x="25.55" y="435.20" width="8.50" height="2.40" fill="rgb(35,23,128)"/><rect x="25.55" y="437.55" width="8.50" height="2.40" fill="rgb(35,23,128)"/><rect x="25.55" y="439.90" width="8.50" height="2.40" fill="rgb(42,30,192)"/><rect x="25.55" y="442.25" width="8.50" height="2.40" fill="rgb(42,30,192)"/><rect x="25.55" y="444.60" width="8.50" height="2.40" fill="rgb(24,14,60)"/><rect x="25.55" y="446.95" width="8.50" height="2.40" fill="rgb(35,23,128)"/><rect x="25.55" y="449.30" width="8.50" height="2.40" fill="rgb(24,14,60)"/><rect x="25.55" y="451.65" width="8.50" height="2.40" fill="rgb(24,14,60)"/><rect x="25.55" y="454.00" width="8.50" height="2.40" fill="rgb(35,23,128)"/><rect x="25.55" y="456.35" width="8.50" height="2.40" fill="rgb(35,23,128)"/><rect x="25.55" y="458.70" width="8.50" height="2.40" fill="rgb(35,23,128)"/><rect x="25.55" y="461.05" width="8.50" height="2.40" fill="rgb(35,23,128)"/><rect x="25.55" y="463.40" width="8.50" height="2.40" fill="rgb(24,14,60)"/><rect x="25.55" y="465.75" width="8.50" height="1.10" fill="rgb(35,23,128)"/><rect x="34.00" y="217.00" width="8.50" height="2.40" fill="rgb(10,8,12)"/><rect x="34.00" y="219.35" width="8.50" height="2.40" fill="rgb(10,8,12)"/><rect x="34.00" y="221.70" width="8.50" height="2.40" fill="rgb(48,46,9)"/><rect x="34.00" y="224.05" width="8.50" height="2.40" fill="rgb(48,46,9)"/><rect x="34.00" y="226.40" width="8.50" height="2.40" fill="rgb(24,14,60)"/><rect x="34.00" y="228.75" width="8.50" height="2.40" fill="rgb(24,14,60)"/><rect x="34.00" y="231.10" width="8.50" height="2.40" fill="rgb(10,8,12)"/><rect x="34.00" y="233.45" width="8.50" height="2.40" fill="rgb(10,8,12)"/><rect x="34.00" y="235.80" width="8.50" height="2.40" fill="rgb(10,8,12)"/><rect x="34.00" y="238.15" width="8.50" height="2.40" fill="rgb(48,46,9)"/><rect x="34.00" y="240.50" width="8.50" height="2.40" fill="rgb(10,8,12)"/><rect x="34.00" y="242.85" width="8.50" height="2.40" fill="rgb(10,8,12)"/><rect x="34.00" y="245.20" width="8.50" height="2.40" fill="rgb(35,23,128)"/><rect x="34.00" y="247.55" width="8.50" height="2.40" fill="rgb(24,14,60)"/><rect x="34.00" y="249.90" width="8.50" height="2.40" fill="rgb(24,14,60)"/><rect x="34.00" y="252.25" width="8.50" height="2.40" fill="rgb(24,14,60)"/><rect x="34.00" y="254.60" width="8.50" height="2.40" fill="rgb(35,23,128)"/><rect x="34.00" y="256.95" width="8.50" height="2.40" fill="rgb(35,23,128)"/><rect x="34.00" y="259.30" width="8.50" height="2.40" fill="rgb(10,8,12)"/><rect x="34.00" y="261.65" width="8.50" height="2.40" fill="rgb(10,8,12)"/><rect x="34.00" y="264.00" width="8.50" height="2.40" fill="rgb(24,14,60)"/><rect x="34.00" y="266.35" width="8.50" height="2.40" fill="rgb(24,14,60)"/><rect x="34.00" y="268.70" width="8.50" height="2.40" fill="rgb(24,14,60)"/><rect x="34.00" y="271.05" width="8.50" height="2.40" fill="rgb(35,23,128)"/><rect x="34.00" y="273.40" width="8.50" height="2.40" fill="rgb(10,8,12)"/><rect x="34.00" y="275.75" width="8.50" height="2.40" fill="rgb(10,8,12)"/><rect x="34.00" y="278.10" width="8.50" height="2.40" fill="rgb(24,14,60)"/><rect x="34.00" y="280.45" width="8.50" height="2.40" fill="rgb(35,23,128)"/><rect x="34.00" y="282.80" width="8.50" height="2.40" fill="rgb(35,23,128)"/><rect x="34.00" y="285.15" width="8.50" height="2.40" fill="rgb(35,23,128)"/><rect x="34.00" y="287.50" width="8.50" height="2.40" fill="rgb(10,8,12)"/><rect x="34.00" y="289.85" width="8.50" height="2.40" fill="rgb(10,8,12)"/><rect x="34.00" y="292.20" width="8.50" height="2.40" fill="rgb(24,14,60)"/><rect x="34.00" y="294.55" width="8.50" height="2.40" fill="rgb(24,14,60)"/><rect x="34.00" y="296.90" width="8.50" height="2.40" fill="rgb(48,46,9)"/><rect x="34.00" y="299.25" width="8.50" height="2.40" fill="rgb(48,46,9)"/><rect x="34.00" y="301.60" width="8.50" height="2.40" fill="rgb(48,46,9)"/><rect x="34.00" y="303.95" width="8.50" height="2.40" fill="rgb(48,46,9)"/><rect x="34.00" y="306.30" width="8.50" height="2.40" fill="rgb(48,46,9)"/><rect x="34.00" y="308.65" width="8.50" height="2.40" fill="rgb(48,46,9)"/><rect x="34.00" y="311.00" width="8.50" height="2.40" fill="rgb(10,8,12)"/><rect x="34.00" y="313.35" width="8.50" height="2.40" fill="rgb(10,8,12)"/><rect x="34.00" y="315.70" width="8.50" height="2.40" fill="rgb(24,14,60)"/><rect x="34.00" y="318.05" width="8.50" height="2.40" fill="rgb(24,14,60)"/><rect x="34.00" y="320.40" width="8.50" height="2.40" fill="rgb(135,132,22)"/><rect x="34.00" y="322.75" width="8.50" height="2.40" fill="rgb(135,132,22)"/><rect x="34.00" y="325.10" width="8.50" height="2.40" fill="rgb(10,8,12)"/><rect x="34.00" y="327.45" width="8.50" height="2.40" fill="rgb(48,46,9)"/><rect x="34.00" y="329.80" width="8.50" height="2.40" fill="rgb(135,132,22)"/><rect x="34.00" y="332.15" width="8.50" height="2.40" fill="rgb(135,132,22)"/><rect x="34.00" y="334.50" width="8.50" height="2.40" fill="rgb(135,132,22)"/><rect x="34.00" y="336.85" width="8.50" height="2.40" fill="rgb(135,132,22)"/><rect x="34.00" y="339.20" width="8.50" height="2.40" fill="rgb(135,132,22)"/><rect x="34.00" y="341.55" width="8.50" height="2.40" fill="rgb(135,132,22)"/><rect x="34.00" y="343.90" width="8.50" height="2.40" fill="rgb(48,46,9)"/><rect x="34.00" y="346.25" width="8.50" height="2.40" fill="rgb(48,46,9)"/><rect x="34.00" y="348.60" width="8.50" height="2.40" fill="rgb(86,84,13)"/><rect x="34.00" y="350.95" width="8.50" height="2.40" fill="rgb(86,84,13)"/><rect x="34.00" y="353.30" width="8.50" height="2.40" fill="rgb(135,132,22)"/><rect x="34.00" y="355.65" width="8.50" height="2.40" fill="rgb(135,132,22)"/><rect x="34.00" y="360.00" width="8.50" height="2.40" fill="rgb(24,14,60)"/><rect x="34.00" y="362.35" width="8.50" height="2.40" fill="rgb(24,14,60)"/><rect x="34.00" y="364.70" width="8.50" height="2.40" fill="rgb(48,46,9)"/><rect x="34.00" y="367.05" width="8.50" height="2.40" fill="rgb(48,46,9)"/><rect x="34.00" y="369.40" width="8.50" height="2.40" fill="rgb(10,8,12)"/><rect x="34.00" y="371.75" width="8.50" height="2.40" fill="rgb(24,14,60)"/><rect x="34.00" y="374.10" width="8.50" height="2.40" fill="rgb(24,14,60)"/><rect x="34.00" y="376.45" width="8.50" height="2.40" fill="rgb(24,14,60)"/><rect x="34.00" y="378.80" width="8.50" height="2.40" fill="rgb(35,23,128)"/><rect x="34.00" y="381.15" width="8.50" height="2.40" fill="rgb(24,14,60)"/><rect x="34.00" y="383.50" width="8.50" height="2.40" fill="rgb(10,8,12)"/><rect x="34.00" y="385.85" width="8.50" height="2.40" fill="rgb(48,46,9)"/><rect x="34.00" y="388.20" width="8.50" height="2.40" fill="rgb(86,84,13)"/><rect x="34.00" y="390.55" width="8.50" height="2.40" fill="rgb(48,46,9)"/><rect x="34.00" y="392.90" width="8.50" height="2.40" fill="rgb(48,46,9)"/><rect x="34.00" y="395.25" width="8.50" height="2.40" fill="rgb(48,46,9)"/><rect x="34.00" y="397.60" width="8.50" height="2.40" fill="rgb(24,14,60)"/><rect x="34.00" y="399.95" width="8.50" height="2.40" fill="rgb(24,14,60)"/><rect x="34.00" y="402.30" width="8.50" height="2.40" fill="rgb(24,14,60)"/><rect x="34.00" y="404.65" width="8.50" height="2.40" fill="rgb(24,14,60)"/><rect x="34.00" y="407.00" width="8.50" height="2.40" fill="rgb(35,23,128)"/><rect x="34.00" y="409.35" width="8.50" height="2.40" fill="rgb(24,14,60)"/><rect x="34.00" y="411.70" width="8.50" height="2.40" fill="rgb(35,23,128)"/><rect x="34.00" y="414.05" width="8.50" height="2.40" fill="rgb(35,23,128)"/><rect x="34.00" y="416.40" width="8.50" height="2.40" fill="rgb(24,14,60)"/><rect x="34.00" y="418.75" width="8.50" height="2.40" fill="rgb(24,14,60)"/><rect x="34.00" y="421.10" width="8.50" height="2.40" fill="rgb(48,46,9)"/><rect x="34.00" y="423.45" width="8.50" height="2.40" fill="rgb(48,46,9)"/><rect x="34.00" y="425.80" width="8.50" height="2.40" fill="rgb(48,46,9)"/><rect x="34.00" y="428.15" width="8.50" height="2.40" fill="rgb(48,46,9)"/><rect x="34.00" y="430.50" width="8.50" height="2.40" fill="rgb(135,132,22)"/><rect x="34.00" y="432.85" width="8.50" height="2.40" fill="rgb(135,132,22)"/><rect x="34.00" y="435.20" width="8.50" height="2.40" fill="rgb(24,14,60)"/><rect x="34.00" y="437.55" width="8.50" height="2.40" fill="rgb(10,8,12)"/><rect x="34.00" y="439.90" width="8.50" height="2.40" fill="rgb(48,46,9)"/><rect x="34.00" y="442.25" width="8.50" height="2.40" fill="rgb(48,46,9)"/><rect x="34.00" y="444.60" width="8.50" height="2.40" fill="rgb(24,14,60)"/><rect x="34.00" y="446.95" width="8.50" height="2.40" fill="rgb(10,8,12)"/><rect x="34.00" y="449.30" width="8.50" height="2.40" fill="rgb(10,8,12)"/><rect x="34.00" y="451.65" width="8.50" height="2.40" fill="rgb(10,8,12)"/><rect x="34.00" y="454.00" width="8.50" height="2.40" fill="rgb(135,132,22)"/><rect x="34.00" y="456.35" width="8.50" height="2.40" fill="rgb(135,132,22)"/><rect x="34.00" y="458.70" width="8.50" height="2.40" fill="rgb(86,84,13)"/><rect x="34.00" y="461.05" width="8.50" height="2.40" fill="rgb(48,46,9)"/><rect x="34.00" y="463.40" width="8.50" height="2.40" fill="rgb(24,14,60)"/><rect x="34.00" y="465.75" width="8.50" height="1.10" fill="rgb(10,8,12)"/><rect x="42.45" y="217.00" width="8.50" height="2.40" fill="rgb(35,23,128)"/><rect x="42.45" y="219.35" width="8.50" height="2.40" fill="rgb(35,23,128)"/><rect x="42.45" y="221.70" width="8.50" height="2.40" fill="rgb(24,14,60)"/><rect x="42.45" y="224.05" width="8.50" height="2.40" fill="rgb(35,23,128)"/><rect x="42.45" y="226.40" width="8.50" height="2.40" fill="rgb(10,8,12)"/><rect x="42.45" y="228.75" width="8.50" height="2.40" fill="rgb(10,8,12)"/><rect x="42.45" y="231.10" width="8.50" height="2.40" fill="rgb(48,46,9)"/><rect x="42.45" y="233.45" width="8.50" height="2.40" fill="rgb(86,84,13)"/><rect x="42.45" y="235.80" width="8.50" height="2.40" fill="rgb(10,8,12)"/><rect x="42.45" y="238.15" width="8.50" height="2.40" fill="rgb(10,8,12)"/><rect x="42.45" y="240.50" width="8.50" height="2.40" fill="rgb(24,14,60)"/><rect x="42.45" y="242.85" width="8.50" height="2.40" fill="rgb(10,8,12)"/><rect x="42.45" y="245.20" width="8.50" height="2.40" fill="rgb(24,14,60)"/><rect x="42.45" y="247.55" width="8.50" height="2.40" fill="rgb(24,14,60)"/><rect x="42.45" y="249.90" width="8.50" height="2.40" fill="rgb(86,84,13)"/><rect x="42.45" y="252.25" width="8.50" height="2.40" fill="rgb(86,84,13)"/><rect x="42.45" y="254.60" width="8.50" height="2.40" fill="rgb(24,14,60)"/><rect x="42.45" y="256.95" width="8.50" height="2.40" fill="rgb(10,8,12)"/><rect x="42.45" y="259.30" width="8.50" height="2.40" fill="rgb(35,23,128)"/><rect x="42.45" y="261.65" width="8.50" height="2.40" fill="rgb(35,23,128)"/><rect x="42.45" y="264.00" width="8.50" height="2.40" fill="rgb(42,30,192)"/><rect x="42.45" y="266.35" width="8.50" height="2.40" fill="rgb(42,30,192)"/><rect x="42.45" y="268.70" width="8.50" height="2.40" fill="rgb(86,84,13)"/><rect x="42.45" y="271.05" width="8.50" height="2.40" fill="rgb(86,84,13)"/><rect x="42.45" y="273.40" width="8.50" height="2.40" fill="rgb(48,46,9)"/><rect x="42.45" y="275.75" width="8.50" height="2.40" fill="rgb(48,46,9)"/><rect x="42.45" y="278.10" width="8.50" height="2.40" fill="rgb(24,14,60)"/><rect x="42.45" y="280.45" width="8.50" height="2.40" fill="rgb(35,23,128)"/><rect x="42.45" y="282.80" width="8.50" height="2.40" fill="rgb(10,8,12)"/><rect x="42.45" y="285.15" width="8.50" height="2.40" fill="rgb(10,8,12)"/><rect x="42.45" y="287.50" width="8.50" height="2.40" fill="rgb(10,8,12)"/><rect x="42.45" y="289.85" width="8.50" height="2.40" fill="rgb(10,8,12)"/><rect x="42.45" y="292.20" width="8.50" height="2.40" fill="rgb(48,46,9)"/><rect x="42.45" y="294.55" width="8.50" height="2.40" fill="rgb(48,46,9)"/><rect x="42.45" y="296.90" width="8.50" height="2.40" fill="rgb(86,84,13)"/><rect x="42.45" y="299.25" width="8.50" height="2.40" fill="rgb(86,84,13)"/><rect x="42.45" y="301.60" width="8.50" height="2.40" fill="rgb(10,8,12)"/><rect x="42.45" y="303.95" width="8.50" height="2.40" fill="rgb(10,8,12)"/><rect x="42.45" y="306.30" width="8.50" height="2.40" fill="rgb(86,84,13)"/><rect x="42.45" y="308.65" width="8.50" height="2.40" fill="rgb(86,84,13)"/><rect x="42.45" y="311.00" width="8.50" height="2.40" fill="rgb(135,132,22)"/><rect x="42.45" y="313.35" width="8.50" height="2.40" fill="rgb(86,84,13)"/><rect x="42.45" y="315.70" width="8.50" height="2.40" fill="rgb(48,46,9)"/><rect x="42.45" y="318.05" width="8.50" height="2.40" fill="rgb(48,46,9)"/><rect x="42.45" y="320.40" width="8.50" height="2.40" fill="rgb(10,8,12)"/><rect x="42.45" y="322.75" width="8.50" height="2.40" fill="rgb(10,8,12)"/><rect x="42.45" y="325.10" width="8.50" height="2.40" fill="rgb(86,84,13)"/><rect x="42.45" y="327.45" width="8.50" height="2.40" fill="rgb(86,84,13)"/><rect x="42.45" y="329.80" width="8.50" height="2.40" fill="rgb(135,132,22)"/><rect x="42.45" y="332.15" width="8.50" height="2.40" fill="rgb(135,132,22)"/><rect x="42.45" y="334.50" width="8.50" height="2.40" fill="rgb(86,84,13)"/><rect x="42.45" y="336.85" width="8.50" height="2.40" fill="rgb(86,84,13)"/><rect x="42.45" y="339.20" width="8.50" height="2.40" fill="rgb(135,132,22)"/><rect x="42.45" y="341.55" width="8.50" height="2.40" fill="rgb(135,132,22)"/><rect x="42.45" y="343.90" width="8.50" height="2.40" fill="rgb(48,46,9)"/><rect x="42.45" y="346.25" width="8.50" height="2.40" fill="rgb(86,84,13)"/><rect x="42.45" y="348.60" width="8.50" height="2.40" fill="rgb(86,84,13)"/><rect x="42.45" y="350.95" width="8.50" height="2.40" fill="rgb(86,84,13)"/><rect x="42.45" y="353.30" width="8.50" height="2.40" fill="rgb(48,46,9)"/><rect x="42.45" y="355.65" width="8.50" height="2.40" fill="rgb(86,84,13)"/><rect x="42.45" y="360.00" width="8.50" height="2.40" fill="rgb(35,23,128)"/><rect x="42.45" y="362.35" width="8.50" height="2.40" fill="rgb(24,14,60)"/><rect x="42.45" y="364.70" width="8.50" height="2.40" fill="rgb(10,8,12)"/><rect x="42.45" y="367.05" width="8.50" height="2.40" fill="rgb(10,8,12)"/><rect x="42.45" y="369.40" width="8.50" height="2.40" fill="rgb(35,23,128)"/><rect x="42.45" y="371.75" width="8.50" height="2.40" fill="rgb(35,23,128)"/><rect x="42.45" y="374.10" width="8.50" height="2.40" fill="rgb(24,14,60)"/><rect x="42.45" y="376.45" width="8.50" height="2.40" fill="rgb(10,8,12)"/><rect x="42.45" y="378.80" width="8.50" height="2.40" fill="rgb(35,23,128)"/><rect x="42.45" y="381.15" width="8.50" height="2.40" fill="rgb(35,23,128)"/><rect x="42.45" y="383.50" width="8.50" height="2.40" fill="rgb(35,23,128)"/><rect x="42.45" y="385.85" width="8.50" height="2.40" fill="rgb(35,23,128)"/><rect x="42.45" y="388.20" width="8.50" height="2.40" fill="rgb(24,14,60)"/><rect x="42.45" y="390.55" width="8.50" height="2.40" fill="rgb(24,14,60)"/><rect x="42.45" y="392.90" width="8.50" height="2.40" fill="rgb(24,14,60)"/><rect x="42.45" y="395.25" width="8.50" height="2.40" fill="rgb(35,23,128)"/><rect x="42.45" y="397.60" width="8.50" height="2.40" fill="rgb(24,14,60)"/><rect x="42.45" y="399.95" width="8.50" height="2.40" fill="rgb(35,23,128)"/><rect x="42.45" y="402.30" width="8.50" height="2.40" fill="rgb(24,14,60)"/><rect x="42.45" y="404.65" width="8.50" height="2.40" fill="rgb(24,14,60)"/><rect x="42.45" y="407.00" width="8.50" height="2.40" fill="rgb(42,30,192)"/><rect x="42.45" y="409.35" width="8.50" height="2.40" fill="rgb(42,30,192)"/><rect x="42.45" y="411.70" width="8.50" height="2.40" fill="rgb(24,14,60)"/><rect x="42.45" y="414.05" width="8.50" height="2.40" fill="rgb(24,14,60)"/><rect x="42.45" y="416.40" width="8.50" height="2.40" fill="rgb(24,14,60)"/><rect x="42.45" y="418.75" width="8.50" height="2.40" fill="rgb(24,14,60)"/><rect x="42.45" y="421.10" width="8.50" height="2.40" fill="rgb(48,46,9)"/><rect x="42.45" y="423.45" width="8.50" height="2.40" fill="rgb(86,84,13)"/><rect x="42.45" y="425.80" width="8.50" height="2.40" fill="rgb(48,46,9)"/><rect x="42.45" y="428.15" width="8.50" height="2.40" fill="rgb(48,46,9)"/><rect x="42.45" y="430.50" width="8.50" height="2.40" fill="rgb(24,14,60)"/><rect x="42.45" y="432.85" width="8.50" height="2.40" fill="rgb(24,14,60)"/><rect x="42.45" y="435.20" width="8.50" height="2.40" fill="rgb(35,23,128)"/><rect x="42.45" y="437.55" width="8.50" height="2.40" fill="rgb(35,23,128)"/><rect x="42.45" y="439.90" width="8.50" height="2.40" fill="rgb(24,14,60)"/><rect x="42.45" y="442.25" width="8.50" height="2.40" fill="rgb(10,8,12)"/><rect x="42.45" y="444.60" width="8.50" height="2.40" fill="rgb(24,14,60)"/><rect x="42.45" y="446.95" width="8.50" height="2.40" fill="rgb(24,14,60)"/><rect x="42.45" y="449.30" width="8.50" height="2.40" fill="rgb(24,14,60)"/><rect x="42.45" y="451.65" width="8.50" height="2.40" fill="rgb(24,14,60)"/><rect x="42.45" y="454.00" width="8.50" height="2.40" fill="rgb(86,84,13)"/><rect x="42.45" y="456.35" width="8.50" height="2.40" fill="rgb(86,84,13)"/><rect x="42.45" y="458.70" width="8.50" height="2.40" fill="rgb(48,46,9)"/><rect x="42.45" y="461.05" width="8.50" height="2.40" fill="rgb(48,46,9)"/><rect x="42.45" y="463.40" width="8.50" height="2.40" fill="rgb(24,14,60)"/><rect x="42.45" y="465.75" width="8.50" height="1.10" fill="rgb(24,14,60)"/><rect x="50.90" y="217.00" width="8.50" height="2.40" fill="rgb(10,8,12)"/><rect x="50.90" y="219.35" width="8.50" height="2.40" fill="rgb(86,84,13)"/><rect x="50.90" y="221.70" width="8.50" height="2.40" fill="rgb(48,46,9)"/><rect x="50.90" y="224.05" width="8.50" height="2.40" fill="rgb(48,46,9)"/><rect x="50.90" y="226.40" width="8.50" height="2.40" fill="rgb(24,14,60)"/><rect x="50.90" y="228.75" width="8.50" height="2.40" fill="rgb(24,14,60)"/><rect x="50.90" y="231.10" width="8.50" height="2.40" fill="rgb(24,14,60)"/><rect x="50.90" y="233.45" width="8.50" height="2.40" fill="rgb(35,23,128)"/><rect x="50.90" y="235.80" width="8.50" height="2.40" fill="rgb(10,8,12)"/><rect x="50.90" y="238.15" width="8.50" height="2.40" fill="rgb(24,14,60)"/><rect x="50.90" y="240.50" width="8.50" height="2.40" fill="rgb(24,14,60)"/><rect x="50.90" y="242.85" width="8.50" height="2.40" fill="rgb(24,14,60)"/><rect x="50.90" y="245.20" width="8.50" height="2.40" fill="rgb(24,14,60)"/><rect x="50.90" y="247.55" width="8.50" height="2.40" fill="rgb(24,14,60)"/><rect x="50.90" y="249.90" width="8.50" height="2.40" fill="rgb(35,23,128)"/><rect x="50.90" y="252.25" width="8.50" height="2.40" fill="rgb(35,23,128)"/><rect x="50.90" y="254.60" width="8.50" height="2.40" fill="rgb(24,14,60)"/><rect x="50.90" y="256.95" width="8.50" height="2.40" fill="rgb(24,14,60)"/><rect x="50.90" y="259.30" width="8.50" height="2.40" fill="rgb(10,8,12)"/><rect x="50.90" y="261.65" width="8.50" height="2.40" fill="rgb(10,8,12)"/><rect x="50.90" y="264.00" width="8.50" height="2.40" fill="rgb(24,14,60)"/><rect x="50.90" y="266.35" width="8.50" height="2.40" fill="rgb(24,14,60)"/><rect x="50.90" y="268.70" width="8.50" height="2.40" fill="rgb(35,23,128)"/><rect x="50.90" y="271.05" width="8.50" height="2.40" fill="rgb(24,14,60)"/><rect x="50.90" y="273.40" width="8.50" height="2.40" fill="rgb(35,23,128)"/><rect x="50.90" y="275.75" width="8.50" height="2.40" fill="rgb(24,14,60)"/><rect x="50.90" y="278.10" width="8.50" height="2.40" fill="rgb(24,14,60)"/><rect x="50.90" y="280.45" width="8.50" height="2.40" fill="rgb(24,14,60)"/><rect x="50.90" y="282.80" width="8.50" height="2.40" fill="rgb(35,23,128)"/><rect x="50.90" y="285.15" width="8.50" height="2.40" fill="rgb(35,23,128)"/><rect x="50.90" y="287.50" width="8.50" height="2.40" fill="rgb(24,14,60)"/><rect x="50.90" y="289.85" width="8.50" height="2.40" fill="rgb(10,8,12)"/><rect x="50.90" y="292.20" width="8.50" height="2.40" fill="rgb(48,46,9)"/><rect x="50.90" y="294.55" width="8.50" height="2.40" fill="rgb(48,46,9)"/><rect x="50.90" y="296.90" width="8.50" height="2.40" fill="rgb(48,46,9)"/><rect x="50.90" y="299.25" width="8.50" height="2.40" fill="rgb(10,8,12)"/><rect x="50.90" y="301.60" width="8.50" height="2.40" fill="rgb(10,8,12)"/><rect x="50.90" y="303.95" width="8.50" height="2.40" fill="rgb(24,14,60)"/><rect x="50.90" y="306.30" width="8.50" height="2.40" fill="rgb(24,14,60)"/><rect x="50.90" y="308.65" width="8.50" height="2.40" fill="rgb(48,46,9)"/><rect x="50.90" y="311.00" width="8.50" height="2.40" fill="rgb(24,14,60)"/><rect x="50.90" y="313.35" width="8.50" height="2.40" fill="rgb(24,14,60)"/><rect x="50.90" y="315.70" width="8.50" height="2.40" fill="rgb(24,14,60)"/><rect x="50.90" y="318.05" width="8.50" height="2.40" fill="rgb(35,23,128)"/><rect x="50.90" y="320.40" width="8.50" height="2.40" fill="rgb(24,14,60)"/><rect x="50.90" y="322.75" width="8.50" height="2.40" fill="rgb(24,14,60)"/><rect x="50.90" y="325.10" width="8.50" height="2.40" fill="rgb(10,8,12)"/><rect x="50.90" y="327.45" width="8.50" height="2.40" fill="rgb(48,46,9)"/><rect x="50.90" y="329.80" width="8.50" height="2.40" fill="rgb(24,14,60)"/><rect x="50.90" y="332.15" width="8.50" height="2.40" fill="rgb(10,8,12)"/><rect x="50.90" y="334.50" width="8.50" height="2.40" fill="rgb(48,46,9)"/><rect x="50.90" y="336.85" width="8.50" height="2.40" fill="rgb(10,8,12)"/><rect x="50.90" y="339.20" width="8.50" height="2.40" fill="rgb(48,46,9)"/><rect x="50.90" y="341.55" width="8.50" height="2.40" fill="rgb(48,46,9)"/><rect x="50.90" y="343.90" width="8.50" height="2.40" fill="rgb(10,8,12)"/><rect x="50.90" y="346.25" width="8.50" height="2.40" fill="rgb(10,8,12)"/><rect x="50.90" y="348.60" width="8.50" height="2.40" fill="rgb(48,46,9)"/><rect x="50.90" y="350.95" width="8.50" height="2.40" fill="rgb(86,84,13)"/><rect x="50.90" y="353.30" width="8.50" height="2.40" fill="rgb(48,46,9)"/><rect x="50.90" y="355.65" width="8.50" height="2.40" fill="rgb(48,46,9)"/><rect x="50.90" y="360.00" width="8.50" height="2.40" fill="rgb(10,8,12)"/><rect x="50.90" y="362.35" width="8.50" height="2.40" fill="rgb(10,8,12)"/><rect x="50.90" y="364.70" width="8.50" height="2.40" fill="rgb(24,14,60)"/><rect x="50.90" y="367.05" width="8.50" height="2.40" fill="rgb(24,14,60)"/><rect x="50.90" y="369.40" width="8.50" height="2.40" fill="rgb(24,14,60)"/><rect x="50.90" y="371.75" width="8.50" height="2.40" fill="rgb(24,14,60)"/><rect x="50.90" y="374.10" width="8.50" height="2.40" fill="rgb(24,14,60)"/><rect x="50.90" y="376.45" width="8.50" height="2.40" fill="rgb(24,14,60)"/><rect x="50.90" y="378.80" width="8.50" height="2.40" fill="rgb(48,46,9)"/><rect x="50.90" y="381.15" width="8.50" height="2.40" fill="rgb(48,46,9)"/><rect x="50.90" y="383.50" width="8.50" height="2.40" fill="rgb(24,14,60)"/><rect x="50.90" y="385.85" width="8.50" height="2.40" fill="rgb(35,23,128)"/><rect x="50.90" y="388.20" width="8.50" height="2.40" fill="rgb(10,8,12)"/><rect x="50.90" y="390.55" width="8.50" height="2.40" fill="rgb(48,46,9)"/><rect x="50.90" y="392.90" width="8.50" height="2.40" fill="rgb(135,132,22)"/><rect x="50.90" y="395.25" width="8.50" height="2.40" fill="rgb(135,132,22)"/><rect x="50.90" y="397.60" width="8.50" height="2.40" fill="rgb(48,46,9)"/><rect x="50.90" y="399.95" width="8.50" height="2.40" fill="rgb(48,46,9)"/><rect x="50.90" y="402.30" width="8.50" height="2.40" fill="rgb(10,8,12)"/><rect x="50.90" y="404.65" width="8.50" height="2.40" fill="rgb(10,8,12)"/><rect x="50.90" y="407.00" width="8.50" height="2.40" fill="rgb(24,14,60)"/><rect x="50.90" y="409.35" width="8.50" height="2.40" fill="rgb(24,14,60)"/><rect x="50.90" y="411.70" width="8.50" height="2.40" fill="rgb(10,8,12)"/><rect x="50.90" y="414.05" width="8.50" height="2.40" fill="rgb(24,14,60)"/><rect x="50.90" y="416.40" width="8.50" height="2.40" fill="rgb(35,23,128)"/><rect x="50.90" y="418.75" width="8.50" height="2.40" fill="rgb(24,14,60)"/><rect x="50.90" y="421.10" width="8.50" height="2.40" fill="rgb(10,8,12)"/><rect x="50.90" y="423.45" width="8.50" height="2.40" fill="rgb(10,8,12)"/><rect x="50.90" y="425.80" width="8.50" height="2.40" fill="rgb(86,84,13)"/><rect x="50.90" y="428.15" width="8.50" height="2.40" fill="rgb(48,46,9)"/><rect x="50.90" y="430.50" width="8.50" height="2.40" fill="rgb(10,8,12)"/><rect x="50.90" y="432.85" width="8.50" height="2.40" fill="rgb(10,8,12)"/><rect x="50.90" y="435.20" width="8.50" height="2.40" fill="rgb(86,84,13)"/><rect x="50.90" y="437.55" width="8.50" height="2.40" fill="rgb(86,84,13)"/><rect x="50.90" y="439.90" width="8.50" height="2.40" fill="rgb(86,84,13)"/><rect x="50.90" y="442.25" width="8.50" height="2.40" fill="rgb(86,84,13)"/><rect x="50.90" y="444.60" width="8.50" height="2.40" fill="rgb(86,84,13)"/><rect x="50.90" y="446.95" width="8.50" height="2.40" fill="rgb(48,46,9)"/><rect x="50.90" y="449.30" width="8.50" height="2.40" fill="rgb(86,84,13)"/><rect x="50.90" y="451.65" width="8.50" height="2.40" fill="rgb(86,84,13)"/><rect x="50.90" y="454.00" width="8.50" height="2.40" fill="rgb(86,84,13)"/><rect x="50.90" y="456.35" width="8.50" height="2.40" fill="rgb(86,84,13)"/><rect x="50.90" y="458.70" width="8.50" height="2.40" fill="rgb(48,46,9)"/><rect x="50.90" y="461.05" width="8.50" height="2.40" fill="rgb(48,46,9)"/><rect x="50.90" y="463.40" width="8.50" height="2.40" fill="rgb(86,84,13)"/><rect x="50.90" y="465.75" width="8.50" height="1.10" fill="rgb(48,46,9)"/><rect x="59.35" y="217.00" width="8.50" height="2.40" fill="rgb(86,84,13)"/><rect x="59.35" y="219.35" width="8.50" height="2.40" fill="rgb(48,46,9)"/><rect x="59.35" y="221.70" width="8.50" height="2.40" fill="rgb(24,14,60)"/><rect x="59.35" y="224.05" width="8.50" height="2.40" fill="rgb(10,8,12)"/><rect x="59.35" y="226.40" width="8.50" height="2.40" fill="rgb(10,8,12)"/><rect x="59.35" y="228.75" width="8.50" height="2.40" fill="rgb(24,14,60)"/><rect x="59.35" y="231.10" width="8.50" height="2.40" fill="rgb(35,23,128)"/><rect x="59.35" y="233.45" width="8.50" height="2.40" fill="rgb(24,14,60)"/><rect x="59.35" y="235.80" width="8.50" height="2.40" fill="rgb(35,23,128)"/><rect x="59.35" y="238.15" width="8.50" height="2.40" fill="rgb(35,23,128)"/><rect x="59.35" y="240.50" width="8.50" height="2.40" fill="rgb(48,46,9)"/><rect x="59.35" y="242.85" width="8.50" height="2.40" fill="rgb(48,46,9)"/><rect x="59.35" y="245.20" width="8.50" height="2.40" fill="rgb(48,46,9)"/><rect x="59.35" y="247.55" width="8.50" height="2.40" fill="rgb(48,46,9)"/><rect x="59.35" y="249.90" width="8.50" height="2.40" fill="rgb(24,14,60)"/><rect x="59.35" y="252.25" width="8.50" height="2.40" fill="rgb(35,23,128)"/><rect x="59.35" y="254.60" width="8.50" height="2.40" fill="rgb(48,46,9)"/><rect x="59.35" y="256.95" width="8.50" height="2.40" fill="rgb(10,8,12)"/><rect x="59.35" y="259.30" width="8.50" height="2.40" fill="rgb(10,8,12)"/><rect x="59.35" y="261.65" width="8.50" height="2.40" fill="rgb(48,46,9)"/><rect x="59.35" y="264.00" width="8.50" height="2.40" fill="rgb(24,14,60)"/><rect x="59.35" y="266.35" width="8.50" height="2.40" fill="rgb(24,14,60)"/><rect x="59.35" y="268.70" width="8.50" height="2.40" fill="rgb(24,14,60)"/><rect x="59.35" y="271.05" width="8.50" height="2.40" fill="rgb(24,14,60)"/><rect x="59.35" y="273.40" width="8.50" height="2.40" fill="rgb(24,14,60)"/><rect x="59.35" y="275.75" width="8.50" height="2.40" fill="rgb(24,14,60)"/><rect x="59.35" y="278.10" width="8.50" height="2.40" fill="rgb(24,14,60)"/><rect x="59.35" y="280.45" width="8.50" height="2.40" fill="rgb(24,14,60)"/><rect x="59.35" y="282.80" width="8.50" height="2.40" fill="rgb(24,14,60)"/><rect x="59.35" y="285.15" width="8.50" height="2.40" fill="rgb(24,14,60)"/><rect x="59.35" y="287.50" width="8.50" height="2.40" fill="rgb(10,8,12)"/><rect x="59.35" y="289.85" width="8.50" height="2.40" fill="rgb(10,8,12)"/><rect x="59.35" y="292.20" width="8.50" height="2.40" fill="rgb(135,132,22)"/><rect x="59.35" y="294.55" width="8.50" height="2.40" fill="rgb(135,132,22)"/><rect x="59.35" y="296.90" width="8.50" height="2.40" fill="rgb(10,8,12)"/><rect x="59.35" y="299.25" width="8.50" height="2.40" fill="rgb(10,8,12)"/><rect x="59.35" y="301.60" width="8.50" height="2.40" fill="rgb(48,46,9)"/><rect x="59.35" y="303.95" width="8.50" height="2.40" fill="rgb(48,46,9)"/><rect x="59.35" y="306.30" width="8.50" height="2.40" fill="rgb(86,84,13)"/><rect x="59.35" y="308.65" width="8.50" height="2.40" fill="rgb(48,46,9)"/><rect x="59.35" y="311.00" width="8.50" height="2.40" fill="rgb(10,8,12)"/><rect x="59.35" y="313.35" width="8.50" height="2.40" fill="rgb(10,8,12)"/><rect x="59.35" y="315.70" width="8.50" height="2.40" fill="rgb(135,132,22)"/><rect x="59.35" y="318.05" width="8.50" height="2.40" fill="rgb(135,132,22)"/><rect x="59.35" y="320.40" width="8.50" height="2.40" fill="rgb(24,14,60)"/><rect x="59.35" y="322.75" width="8.50" height="2.40" fill="rgb(10,8,12)"/><rect x="59.35" y="325.10" width="8.50" height="2.40" fill="rgb(10,8,12)"/><rect x="59.35" y="327.45" width="8.50" height="2.40" fill="rgb(10,8,12)"/><rect x="59.35" y="329.80" width="8.50" height="2.40" fill="rgb(86,84,13)"/><rect x="59.35" y="332.15" width="8.50" height="2.40" fill="rgb(48,46,9)"/><rect x="59.35" y="334.50" width="8.50" height="2.40" fill="rgb(135,132,22)"/><rect x="59.35" y="336.85" width="8.50" height="2.40" fill="rgb(86,84,13)"/><rect x="59.35" y="339.20" width="8.50" height="2.40" fill="rgb(10,8,12)"/><rect x="59.35" y="341.55" width="8.50" height="2.40" fill="rgb(10,8,12)"/><rect x="59.35" y="343.90" width="8.50" height="2.40" fill="rgb(24,14,60)"/><rect x="59.35" y="346.25" width="8.50" height="2.40" fill="rgb(24,14,60)"/><rect x="59.35" y="348.60" width="8.50" height="2.40" fill="rgb(24,14,60)"/><rect x="59.35" y="350.95" width="8.50" height="2.40" fill="rgb(35,23,128)"/><rect x="59.35" y="353.30" width="8.50" height="2.40" fill="rgb(24,14,60)"/><rect x="59.35" y="355.65" width="8.50" height="2.40" fill="rgb(24,14,60)"/><rect x="59.35" y="360.00" width="8.50" height="2.40" fill="rgb(135,132,22)"/><rect x="59.35" y="362.35" width="8.50" height="2.40" fill="rgb(86,84,13)"/><rect x="59.35" y="364.70" width="8.50" height="2.40" fill="rgb(10,8,12)"/><rect x="59.35" y="367.05" width="8.50" height="2.40" fill="rgb(10,8,12)"/><rect x="59.35" y="369.40" width="8.50" height="2.40" fill="rgb(10,8,12)"/><rect x="59.35" y="371.75" width="8.50" height="2.40" fill="rgb(10,8,12)"/><rect x="59.35" y="374.10" width="8.50" height="2.40" fill="rgb(24,14,60)"/><rect x="59.35" y="376.45" width="8.50" height="2.40" fill="rgb(24,14,60)"/><rect x="59.35" y="378.80" width="8.50" height="2.40" fill="rgb(10,8,12)"/><rect x="59.35" y="381.15" width="8.50" height="2.40" fill="rgb(10,8,12)"/><rect x="59.35" y="383.50" width="8.50" height="2.40" fill="rgb(24,14,60)"/><rect x="59.35" y="385.85" width="8.50" height="2.40" fill="rgb(24,14,60)"/><rect x="59.35" y="388.20" width="8.50" height="2.40" fill="rgb(48,46,9)"/><rect x="59.35" y="390.55" width="8.50" height="2.40" fill="rgb(48,46,9)"/><rect x="59.35" y="392.90" width="8.50" height="2.40" fill="rgb(10,8,12)"/><rect x="59.35" y="395.25" width="8.50" height="2.40" fill="rgb(10,8,12)"/><rect x="59.35" y="397.60" width="8.50" height="2.40" fill="rgb(86,84,13)"/><rect x="59.35" y="399.95" width="8.50" height="2.40" fill="rgb(86,84,13)"/><rect x="59.35" y="402.30" width="8.50" height="2.40" fill="rgb(86,84,13)"/><rect x="59.35" y="404.65" width="8.50" height="2.40" fill="rgb(135,132,22)"/><rect x="59.35" y="407.00" width="8.50" height="2.40" fill="rgb(24,14,60)"/><rect x="59.35" y="409.35" width="8.50" height="2.40" fill="rgb(35,23,128)"/><rect x="59.35" y="411.70" width="8.50" height="2.40" fill="rgb(24,14,60)"/><rect x="59.35" y="414.05" width="8.50" height="2.40" fill="rgb(10,8,12)"/><rect x="59.35" y="416.40" width="8.50" height="2.40" fill="rgb(35,23,128)"/><rect x="59.35" y="418.75" width="8.50" height="2.40" fill="rgb(24,14,60)"/><rect x="59.35" y="421.10" width="8.50" height="2.40" fill="rgb(35,23,128)"/><rect x="59.35" y="423.45" width="8.50" height="2.40" fill="rgb(24,14,60)"/><rect x="59.35" y="425.80" width="8.50" height="2.40" fill="rgb(10,8,12)"/><rect x="59.35" y="428.15" width="8.50" height="2.40" fill="rgb(10,8,12)"/><rect x="59.35" y="430.50" width="8.50" height="2.40" fill="rgb(10,8,12)"/><rect x="59.35" y="432.85" width="8.50" height="2.40" fill="rgb(24,14,60)"/><rect x="59.35" y="435.20" width="8.50" height="2.40" fill="rgb(48,46,9)"/><rect x="59.35" y="437.55" width="8.50" height="2.40" fill="rgb(10,8,12)"/><rect x="59.35" y="439.90" width="8.50" height="2.40" fill="rgb(10,8,12)"/><rect x="59.35" y="442.25" width="8.50" height="2.40" fill="rgb(10,8,12)"/><rect x="59.35" y="444.60" width="8.50" height="2.40" fill="rgb(10,8,12)"/><rect x="59.35" y="446.95" width="8.50" height="2.40" fill="rgb(10,8,12)"/><rect x="59.35" y="449.30" width="8.50" height="2.40" fill="rgb(10,8,12)"/><rect x="59.35" y="451.65" width="8.50" height="2.40" fill="rgb(24,14,60)"/><rect x="59.35" y="454.00" width="8.50" height="2.40" fill="rgb(86,84,13)"/><rect x="59.35" y="456.35" width="8.50" height="2.40" fill="rgb(86,84,13)"/><rect x="59.35" y="458.70" width="8.50" height="2.40" fill="rgb(24,14,60)"/><rect x="59.35" y="461.05" width="8.50" height="2.40" fill="rgb(24,14,60)"/><rect x="59.35" y="463.40" width="8.50" height="2.40" fill="rgb(24,14,60)"/><rect x="59.35" y="465.75" width="8.50" height="1.10" fill="rgb(35,23,128)"/><rect x="67.80" y="217.00" width="8.50" height="2.40" fill="rgb(48,46,9)"/><rect x="67.80" y="219.35" width="8.50" height="2.40" fill="rgb(86,84,13)"/><rect x="67.80" y="221.70" width="8.50" height="2.40" fill="rgb(135,132,22)"/><rect x="67.80" y="224.05" width="8.50" height="2.40" fill="rgb(135,132,22)"/><rect x="67.80" y="226.40" width="8.50" height="2.40" fill="rgb(10,8,12)"/><rect x="67.80" y="228.75" width="8.50" height="2.40" fill="rgb(10,8,12)"/><rect x="67.80" y="231.10" width="8.50" height="2.40" fill="rgb(135,132,22)"/><rect x="67.80" y="233.45" width="8.50" height="2.40" fill="rgb(48,46,9)"/><rect x="67.80" y="235.80" width="8.50" height="2.40" fill="rgb(86,84,13)"/><rect x="67.80" y="238.15" width="8.50" height="2.40" fill="rgb(86,84,13)"/><rect x="67.80" y="240.50" width="8.50" height="2.40" fill="rgb(135,132,22)"/><rect x="67.80" y="242.85" width="8.50" height="2.40" fill="rgb(135,132,22)"/><rect x="67.80" y="245.20" width="8.50" height="2.40" fill="rgb(48,46,9)"/><rect x="67.80" y="247.55" width="8.50" height="2.40" fill="rgb(10,8,12)"/><rect x="67.80" y="249.90" width="8.50" height="2.40" fill="rgb(35,23,128)"/><rect x="67.80" y="252.25" width="8.50" height="2.40" fill="rgb(24,14,60)"/><rect x="67.80" y="254.60" width="8.50" height="2.40" fill="rgb(135,132,22)"/><rect x="67.80" y="256.95" width="8.50" height="2.40" fill="rgb(135,132,22)"/><rect x="67.80" y="259.30" width="8.50" height="2.40" fill="rgb(135,132,22)"/><rect x="67.80" y="261.65" width="8.50" height="2.40" fill="rgb(86,84,13)"/><rect x="67.80" y="264.00" width="8.50" height="2.40" fill="rgb(48,46,9)"/><rect x="67.80" y="266.35" width="8.50" height="2.40" fill="rgb(86,84,13)"/><rect x="67.80" y="268.70" width="8.50" height="2.40" fill="rgb(135,132,22)"/><rect x="67.80" y="271.05" width="8.50" height="2.40" fill="rgb(135,132,22)"/><rect x="67.80" y="273.40" width="8.50" height="2.40" fill="rgb(10,8,12)"/><rect x="67.80" y="275.75" width="8.50" height="2.40" fill="rgb(24,14,60)"/><rect x="67.80" y="278.10" width="8.50" height="2.40" fill="rgb(135,132,22)"/><rect x="67.80" y="280.45" width="8.50" height="2.40" fill="rgb(86,84,13)"/><rect x="67.80" y="282.80" width="8.50" height="2.40" fill="rgb(48,46,9)"/><rect x="67.80" y="285.15" width="8.50" height="2.40" fill="rgb(86,84,13)"/><rect x="67.80" y="287.50" width="8.50" height="2.40" fill="rgb(86,84,13)"/><rect x="67.80" y="289.85" width="8.50" height="2.40" fill="rgb(86,84,13)"/><rect x="67.80" y="292.20" width="8.50" height="2.40" fill="rgb(24,14,60)"/><rect x="67.80" y="294.55" width="8.50" height="2.40" fill="rgb(35,23,128)"/><rect x="67.80" y="296.90" width="8.50" height="2.40" fill="rgb(86,84,13)"/><rect x="67.80" y="299.25" width="8.50" height="2.40" fill="rgb(86,84,13)"/><rect x="67.80" y="301.60" width="8.50" height="2.40" fill="rgb(24,14,60)"/><rect x="67.80" y="303.95" width="8.50" height="2.40" fill="rgb(24,14,60)"/><rect x="67.80" y="306.30" width="8.50" height="2.40" fill="rgb(86,84,13)"/><rect x="67.80" y="308.65" width="8.50" height="2.40" fill="rgb(48,46,9)"/><rect x="67.80" y="311.00" width="8.50" height="2.40" fill="rgb(24,14,60)"/><rect x="67.80" y="313.35" width="8.50" height="2.40" fill="rgb(24,14,60)"/><rect x="67.80" y="315.70" width="8.50" height="2.40" fill="rgb(10,8,12)"/><rect x="67.80" y="318.05" width="8.50" height="2.40" fill="rgb(10,8,12)"/><rect x="67.80" y="320.40" width="8.50" height="2.40" fill="rgb(35,23,128)"/><rect x="67.80" y="322.75" width="8.50" height="2.40" fill="rgb(24,14,60)"/><rect x="67.80" y="325.10" width="8.50" height="2.40" fill="rgb(86,84,13)"/><rect x="67.80" y="327.45" width="8.50" height="2.40" fill="rgb(86,84,13)"/><rect x="67.80" y="329.80" width="8.50" height="2.40" fill="rgb(48,46,9)"/><rect x="67.80" y="332.15" width="8.50" height="2.40" fill="rgb(48,46,9)"/><rect x="67.80" y="334.50" width="8.50" height="2.40" fill="rgb(10,8,12)"/><rect x="67.80" y="336.85" width="8.50" height="2.40" fill="rgb(10,8,12)"/><rect x="67.80" y="339.20" width="8.50" height="2.40" fill="rgb(135,132,22)"/><rect x="67.80" y="341.55" width="8.50" height="2.40" fill="rgb(86,84,13)"/><rect x="67.80" y="343.90" width="8.50" height="2.40" fill="rgb(48,46,9)"/><rect x="67.80" y="346.25" width="8.50" height="2.40" fill="rgb(48,46,9)"/><rect x="67.80" y="348.60" width="8.50" height="2.40" fill="rgb(135,132,22)"/><rect x="67.80" y="350.95" width="8.50" height="2.40" fill="rgb(135,132,22)"/><rect x="67.80" y="353.30" width="8.50" height="2.40" fill="rgb(135,132,22)"/><rect x="67.80" y="355.65" width="8.50" height="2.40" fill="rgb(86,84,13)"/><rect x="67.80" y="360.00" width="8.50" height="2.40" fill="rgb(24,14,60)"/><rect x="67.80" y="362.35" width="8.50" height="2.40" fill="rgb(24,14,60)"/><rect x="67.80" y="364.70" width="8.50" height="2.40" fill="rgb(24,14,60)"/><rect x="67.80" y="367.05" width="8.50" height="2.40" fill="rgb(24,14,60)"/><rect x="67.80" y="369.40" width="8.50" height="2.40" fill="rgb(35,23,128)"/><rect x="67.80" y="371.75" width="8.50" height="2.40" fill="rgb(24,14,60)"/><rect x="67.80" y="374.10" width="8.50" height="2.40" fill="rgb(24,14,60)"/><rect x="67.80" y="376.45" width="8.50" height="2.40" fill="rgb(24,14,60)"/><rect x="67.80" y="378.80" width="8.50" height="2.40" fill="rgb(10,8,12)"/><rect x="67.80" y="381.15" width="8.50" height="2.40" fill="rgb(10,8,12)"/><rect x="67.80" y="383.50" width="8.50" height="2.40" fill="rgb(24,14,60)"/><rect x="67.80" y="385.85" width="8.50" height="2.40" fill="rgb(24,14,60)"/><rect x="67.80" y="388.20" width="8.50" height="2.40" fill="rgb(24,14,60)"/><rect x="67.80" y="390.55" width="8.50" height="2.40" fill="rgb(35,23,128)"/><rect x="67.80" y="392.90" width="8.50" height="2.40" fill="rgb(35,23,128)"/><rect x="67.80" y="395.25" width="8.50" height="2.40" fill="rgb(24,14,60)"/><rect x="67.80" y="397.60" width="8.50" height="2.40" fill="rgb(10,8,12)"/><rect x="67.80" y="399.95" width="8.50" height="2.40" fill="rgb(10,8,12)"/><rect x="67.80" y="402.30" width="8.50" height="2.40" fill="rgb(24,14,60)"/><rect x="67.80" y="404.65" width="8.50" height="2.40" fill="rgb(24,14,60)"/><rect x="67.80" y="407.00" width="8.50" height="2.40" fill="rgb(10,8,12)"/><rect x="67.80" y="409.35" width="8.50" height="2.40" fill="rgb(10,8,12)"/><rect x="67.80" y="411.70" width="8.50" height="2.40" fill="rgb(86,84,13)"/><rect x="67.80" y="414.05" width="8.50" height="2.40" fill="rgb(48,46,9)"/><rect x="67.80" y="416.40" width="8.50" height="2.40" fill="rgb(86,84,13)"/><rect x="67.80" y="418.75" width="8.50" height="2.40" fill="rgb(135,132,22)"/><rect x="67.80" y="421.10" width="8.50" height="2.40" fill="rgb(24,14,60)"/><rect x="67.80" y="423.45" width="8.50" height="2.40" fill="rgb(10,8,12)"/><rect x="67.80" y="425.80" width="8.50" height="2.40" fill="rgb(10,8,12)"/><rect x="67.80" y="428.15" width="8.50" height="2.40" fill="rgb(10,8,12)"/><rect x="67.80" y="430.50" width="8.50" height="2.40" fill="rgb(35,23,128)"/><rect x="67.80" y="432.85" width="8.50" height="2.40" fill="rgb(35,23,128)"/><rect x="67.80" y="435.20" width="8.50" height="2.40" fill="rgb(24,14,60)"/><rect x="67.80" y="437.55" width="8.50" height="2.40" fill="rgb(24,14,60)"/><rect x="67.80" y="439.90" width="8.50" height="2.40" fill="rgb(24,14,60)"/><rect x="67.80" y="442.25" width="8.50" height="2.40" fill="rgb(24,14,60)"/><rect x="67.80" y="444.60" width="8.50" height="2.40" fill="rgb(24,14,60)"/><rect x="67.80" y="446.95" width="8.50" height="2.40" fill="rgb(24,14,60)"/><rect x="67.80" y="449.30" width="8.50" height="2.40" fill="rgb(24,14,60)"/><rect x="67.80" y="451.65" width="8.50" height="2.40" fill="rgb(35,23,128)"/><rect x="67.80" y="454.00" width="8.50" height="2.40" fill="rgb(35,23,128)"/><rect x="67.80" y="456.35" width="8.50" height="2.40" fill="rgb(35,23,128)"/><rect x="67.80" y="458.70" width="8.50" height="2.40" fill="rgb(24,14,60)"/><rect x="67.80" y="461.05" width="8.50" height="2.40" fill="rgb(10,8,12)"/><rect x="67.80" y="463.40" width="8.50" height="2.40" fill="rgb(24,14,60)"/><rect x="67.80" y="465.75" width="8.50" height="1.10" fill="rgb(24,14,60)"/><rect x="76.25" y="217.00" width="8.50" height="2.40" fill="rgb(135,132,22)"/><rect x="76.25" y="219.35" width="8.50" height="2.40" fill="rgb(86,84,13)"/><rect x="76.25" y="221.70" width="8.50" height="2.40" fill="rgb(10,8,12)"/><rect x="76.25" y="224.05" width="8.50" height="2.40" fill="rgb(10,8,12)"/><rect x="76.25" y="226.40" width="8.50" height="2.40" fill="rgb(24,14,60)"/><rect x="76.25" y="228.75" width="8.50" height="2.40" fill="rgb(24,14,60)"/><rect x="76.25" y="231.10" width="8.50" height="2.40" fill="rgb(24,14,60)"/><rect x="76.25" y="233.45" width="8.50" height="2.40" fill="rgb(35,23,128)"/><rect x="76.25" y="235.80" width="8.50" height="2.40" fill="rgb(24,14,60)"/><rect x="76.25" y="238.15" width="8.50" height="2.40" fill="rgb(24,14,60)"/><rect x="76.25" y="240.50" width="8.50" height="2.40" fill="rgb(86,84,13)"/><rect x="76.25" y="242.85" width="8.50" height="2.40" fill="rgb(86,84,13)"/><rect x="76.25" y="245.20" width="8.50" height="2.40" fill="rgb(10,8,12)"/><rect x="76.25" y="247.55" width="8.50" height="2.40" fill="rgb(10,8,12)"/><rect x="76.25" y="249.90" width="8.50" height="2.40" fill="rgb(24,14,60)"/><rect x="76.25" y="252.25" width="8.50" height="2.40" fill="rgb(35,23,128)"/><rect x="76.25" y="254.60" width="8.50" height="2.40" fill="rgb(135,132,22)"/><rect x="76.25" y="256.95" width="8.50" height="2.40" fill="rgb(135,132,22)"/><rect x="76.25" y="259.30" width="8.50" height="2.40" fill="rgb(86,84,13)"/><rect x="76.25" y="261.65" width="8.50" height="2.40" fill="rgb(86,84,13)"/><rect x="76.25" y="264.00" width="8.50" height="2.40" fill="rgb(48,46,9)"/><rect x="76.25" y="266.35" width="8.50" height="2.40" fill="rgb(48,46,9)"/><rect x="76.25" y="268.70" width="8.50" height="2.40" fill="rgb(48,46,9)"/><rect x="76.25" y="271.05" width="8.50" height="2.40" fill="rgb(86,84,13)"/><rect x="76.25" y="273.40" width="8.50" height="2.40" fill="rgb(135,132,22)"/><rect x="76.25" y="275.75" width="8.50" height="2.40" fill="rgb(135,132,22)"/><rect x="76.25" y="278.10" width="8.50" height="2.40" fill="rgb(86,84,13)"/><rect x="76.25" y="280.45" width="8.50" height="2.40" fill="rgb(48,46,9)"/><rect x="76.25" y="282.80" width="8.50" height="2.40" fill="rgb(48,46,9)"/><rect x="76.25" y="285.15" width="8.50" height="2.40" fill="rgb(48,46,9)"/><rect x="76.25" y="287.50" width="8.50" height="2.40" fill="rgb(135,132,22)"/><rect x="76.25" y="289.85" width="8.50" height="2.40" fill="rgb(135,132,22)"/><rect x="76.25" y="292.20" width="8.50" height="2.40" fill="rgb(10,8,12)"/><rect x="76.25" y="294.55" width="8.50" height="2.40" fill="rgb(48,46,9)"/><rect x="76.25" y="296.90" width="8.50" height="2.40" fill="rgb(86,84,13)"/><rect x="76.25" y="299.25" width="8.50" height="2.40" fill="rgb(86,84,13)"/><rect x="76.25" y="301.60" width="8.50" height="2.40" fill="rgb(10,8,12)"/><rect x="76.25" y="303.95" width="8.50" height="2.40" fill="rgb(10,8,12)"/><rect x="76.25" y="306.30" width="8.50" height="2.40" fill="rgb(135,132,22)"/><rect x="76.25" y="308.65" width="8.50" height="2.40" fill="rgb(135,132,22)"/><rect x="76.25" y="311.00" width="8.50" height="2.40" fill="rgb(135,132,22)"/><rect x="76.25" y="313.35" width="8.50" height="2.40" fill="rgb(135,132,22)"/><rect x="76.25" y="315.70" width="8.50" height="2.40" fill="rgb(135,132,22)"/><rect x="76.25" y="318.05" width="8.50" height="2.40" fill="rgb(135,132,22)"/><rect x="76.25" y="320.40" width="8.50" height="2.40" fill="rgb(86,84,13)"/><rect x="76.25" y="322.75" width="8.50" height="2.40" fill="rgb(86,84,13)"/><rect x="76.25" y="325.10" width="8.50" height="2.40" fill="rgb(48,46,9)"/><rect x="76.25" y="327.45" width="8.50" height="2.40" fill="rgb(48,46,9)"/><rect x="76.25" y="329.80" width="8.50" height="2.40" fill="rgb(48,46,9)"/><rect x="76.25" y="332.15" width="8.50" height="2.40" fill="rgb(48,46,9)"/><rect x="76.25" y="334.50" width="8.50" height="2.40" fill="rgb(10,8,12)"/><rect x="76.25" y="336.85" width="8.50" height="2.40" fill="rgb(10,8,12)"/><rect x="76.25" y="339.20" width="8.50" height="2.40" fill="rgb(24,14,60)"/><rect x="76.25" y="341.55" width="8.50" height="2.40" fill="rgb(35,23,128)"/><rect x="76.25" y="343.90" width="8.50" height="2.40" fill="rgb(24,14,60)"/><rect x="76.25" y="346.25" width="8.50" height="2.40" fill="rgb(10,8,12)"/><rect x="76.25" y="348.60" width="8.50" height="2.40" fill="rgb(10,8,12)"/><rect x="76.25" y="350.95" width="8.50" height="2.40" fill="rgb(10,8,12)"/><rect x="76.25" y="353.30" width="8.50" height="2.40" fill="rgb(48,46,9)"/><rect x="76.25" y="355.65" width="8.50" height="2.40" fill="rgb(10,8,12)"/><rect x="76.25" y="360.00" width="8.50" height="2.40" fill="rgb(24,14,60)"/><rect x="76.25" y="362.35" width="8.50" height="2.40" fill="rgb(24,14,60)"/><rect x="76.25" y="364.70" width="8.50" height="2.40" fill="rgb(24,14,60)"/><rect x="76.25" y="367.05" width="8.50" height="2.40" fill="rgb(10,8,12)"/><rect x="76.25" y="369.40" width="8.50" height="2.40" fill="rgb(35,23,128)"/><rect x="76.25" y="371.75" width="8.50" height="2.40" fill="rgb(24,14,60)"/><rect x="76.25" y="374.10" width="8.50" height="2.40" fill="rgb(24,14,60)"/><rect x="76.25" y="376.45" width="8.50" height="2.40" fill="rgb(24,14,60)"/><rect x="76.25" y="378.80" width="8.50" height="2.40" fill="rgb(10,8,12)"/><rect x="76.25" y="381.15" width="8.50" height="2.40" fill="rgb(10,8,12)"/><rect x="76.25" y="383.50" width="8.50" height="2.40" fill="rgb(24,14,60)"/><rect x="76.25" y="385.85" width="8.50" height="2.40" fill="rgb(24,14,60)"/><rect x="76.25" y="388.20" width="8.50" height="2.40" fill="rgb(24,14,60)"/><rect x="76.25" y="390.55" width="8.50" height="2.40" fill="rgb(24,14,60)"/><rect x="76.25" y="392.90" width="8.50" height="2.40" fill="rgb(24,14,60)"/><rect x="76.25" y="395.25" width="8.50" height="2.40" fill="rgb(24,14,60)"/><rect x="76.25" y="397.60" width="8.50" height="2.40" fill="rgb(24,14,60)"/><rect x="76.25" y="399.95" width="8.50" height="2.40" fill="rgb(24,14,60)"/><rect x="76.25" y="402.30" width="8.50" height="2.40" fill="rgb(10,8,12)"/><rect x="76.25" y="404.65" width="8.50" height="2.40" fill="rgb(24,14,60)"/><rect x="76.25" y="407.00" width="8.50" height="2.40" fill="rgb(24,14,60)"/><rect x="76.25" y="409.35" width="8.50" height="2.40" fill="rgb(35,23,128)"/><rect x="76.25" y="411.70" width="8.50" height="2.40" fill="rgb(86,84,13)"/><rect x="76.25" y="414.05" width="8.50" height="2.40" fill="rgb(86,84,13)"/><rect x="76.25" y="416.40" width="8.50" height="2.40" fill="rgb(24,14,60)"/><rect x="76.25" y="418.75" width="8.50" height="2.40" fill="rgb(24,14,60)"/><rect x="76.25" y="421.10" width="8.50" height="2.40" fill="rgb(35,23,128)"/><rect x="76.25" y="423.45" width="8.50" height="2.40" fill="rgb(24,14,60)"/><rect x="76.25" y="425.80" width="8.50" height="2.40" fill="rgb(24,14,60)"/><rect x="76.25" y="428.15" width="8.50" height="2.40" fill="rgb(24,14,60)"/><rect x="76.25" y="430.50" width="8.50" height="2.40" fill="rgb(24,14,60)"/><rect x="76.25" y="432.85" width="8.50" height="2.40" fill="rgb(24,14,60)"/><rect x="76.25" y="435.20" width="8.50" height="2.40" fill="rgb(24,14,60)"/><rect x="76.25" y="437.55" width="8.50" height="2.40" fill="rgb(24,14,60)"/><rect x="76.25" y="439.90" width="8.50" height="2.40" fill="rgb(24,14,60)"/><rect x="76.25" y="442.25" width="8.50" height="2.40" fill="rgb(24,14,60)"/><rect x="76.25" y="444.60" width="8.50" height="2.40" fill="rgb(35,23,128)"/><rect x="76.25" y="446.95" width="8.50" height="2.40" fill="rgb(10,8,12)"/><rect x="76.25" y="449.30" width="8.50" height="2.40" fill="rgb(35,23,128)"/><rect x="76.25" y="451.65" width="8.50" height="2.40" fill="rgb(24,14,60)"/><rect x="76.25" y="454.00" width="8.50" height="2.40" fill="rgb(35,23,128)"/><rect x="76.25" y="456.35" width="8.50" height="2.40" fill="rgb(24,14,60)"/><rect x="76.25" y="458.70" width="8.50" height="2.40" fill="rgb(24,14,60)"/><rect x="76.25" y="461.05" width="8.50" height="2.40" fill="rgb(35,23,128)"/><rect x="76.25" y="463.40" width="8.50" height="2.40" fill="rgb(24,14,60)"/><rect x="76.25" y="465.75" width="8.50" height="1.10" fill="rgb(24,14,60)"/><rect x="84.70" y="217.00" width="8.50" height="2.40" fill="rgb(86,84,13)"/><rect x="84.70" y="219.35" width="8.50" height="2.40" fill="rgb(86,84,13)"/><rect x="84.70" y="221.70" width="8.50" height="2.40" fill="rgb(48,46,9)"/><rect x="84.70" y="224.05" width="8.50" height="2.40" fill="rgb(48,46,9)"/><rect x="84.70" y="226.40" width="8.50" height="2.40" fill="rgb(205,205,22)"/><rect x="84.70" y="228.75" width="8.50" height="2.40" fill="rgb(205,205,22)"/><rect x="84.70" y="231.10" width="8.50" height="2.40" fill="rgb(135,132,22)"/><rect x="84.70" y="233.45" width="8.50" height="2.40" fill="rgb(205,205,22)"/><rect x="84.70" y="235.80" width="8.50" height="2.40" fill="rgb(135,132,22)"/><rect x="84.70" y="238.15" width="8.50" height="2.40" fill="rgb(135,132,22)"/><rect x="84.70" y="240.50" width="8.50" height="2.40" fill="rgb(24,14,60)"/><rect x="84.70" y="242.85" width="8.50" height="2.40" fill="rgb(10,8,12)"/><rect x="84.70" y="245.20" width="8.50" height="2.40" fill="rgb(86,84,13)"/><rect x="84.70" y="247.55" width="8.50" height="2.40" fill="rgb(86,84,13)"/><rect x="84.70" y="249.90" width="8.50" height="2.40" fill="rgb(10,8,12)"/><rect x="84.70" y="252.25" width="8.50" height="2.40" fill="rgb(10,8,12)"/><rect x="84.70" y="254.60" width="8.50" height="2.40" fill="rgb(48,46,9)"/><rect x="84.70" y="256.95" width="8.50" height="2.40" fill="rgb(48,46,9)"/><rect x="84.70" y="259.30" width="8.50" height="2.40" fill="rgb(86,84,13)"/><rect x="84.70" y="261.65" width="8.50" height="2.40" fill="rgb(86,84,13)"/><rect x="84.70" y="264.00" width="8.50" height="2.40" fill="rgb(86,84,13)"/><rect x="84.70" y="266.35" width="8.50" height="2.40" fill="rgb(86,84,13)"/><rect x="84.70" y="268.70" width="8.50" height="2.40" fill="rgb(24,14,60)"/><rect x="84.70" y="271.05" width="8.50" height="2.40" fill="rgb(35,23,128)"/><rect x="84.70" y="273.40" width="8.50" height="2.40" fill="rgb(86,84,13)"/><rect x="84.70" y="275.75" width="8.50" height="2.40" fill="rgb(86,84,13)"/><rect x="84.70" y="278.10" width="8.50" height="2.40" fill="rgb(135,132,22)"/><rect x="84.70" y="280.45" width="8.50" height="2.40" fill="rgb(135,132,22)"/><rect x="84.70" y="282.80" width="8.50" height="2.40" fill="rgb(86,84,13)"/><rect x="84.70" y="285.15" width="8.50" height="2.40" fill="rgb(86,84,13)"/><rect x="84.70" y="287.50" width="8.50" height="2.40" fill="rgb(86,84,13)"/><rect x="84.70" y="289.85" width="8.50" height="2.40" fill="rgb(48,46,9)"/><rect x="84.70" y="292.20" width="8.50" height="2.40" fill="rgb(86,84,13)"/><rect x="84.70" y="294.55" width="8.50" height="2.40" fill="rgb(86,84,13)"/><rect x="84.70" y="296.90" width="8.50" height="2.40" fill="rgb(24,14,60)"/><rect x="84.70" y="299.25" width="8.50" height="2.40" fill="rgb(10,8,12)"/><rect x="84.70" y="301.60" width="8.50" height="2.40" fill="rgb(135,132,22)"/><rect x="84.70" y="303.95" width="8.50" height="2.40" fill="rgb(135,132,22)"/><rect x="84.70" y="306.30" width="8.50" height="2.40" fill="rgb(86,84,13)"/><rect x="84.70" y="308.65" width="8.50" height="2.40" fill="rgb(135,132,22)"/><rect x="84.70" y="311.00" width="8.50" height="2.40" fill="rgb(24,14,60)"/><rect x="84.70" y="313.35" width="8.50" height="2.40" fill="rgb(35,23,128)"/><rect x="84.70" y="315.70" width="8.50" height="2.40" fill="rgb(10,8,12)"/><rect x="84.70" y="318.05" width="8.50" height="2.40" fill="rgb(48,46,9)"/><rect x="84.70" y="320.40" width="8.50" height="2.40" fill="rgb(10,8,12)"/><rect x="84.70" y="322.75" width="8.50" height="2.40" fill="rgb(10,8,12)"/><rect x="84.70" y="325.10" width="8.50" height="2.40" fill="rgb(10,8,12)"/><rect x="84.70" y="327.45" width="8.50" height="2.40" fill="rgb(10,8,12)"/><rect x="84.70" y="329.80" width="8.50" height="2.40" fill="rgb(24,14,60)"/><rect x="84.70" y="332.15" width="8.50" height="2.40" fill="rgb(10,8,12)"/><rect x="84.70" y="334.50" width="8.50" height="2.40" fill="rgb(24,14,60)"/><rect x="84.70" y="336.85" width="8.50" height="2.40" fill="rgb(24,14,60)"/><rect x="84.70" y="339.20" width="8.50" height="2.40" fill="rgb(86,84,13)"/><rect x="84.70" y="341.55" width="8.50" height="2.40" fill="rgb(86,84,13)"/><rect x="84.70" y="343.90" width="8.50" height="2.40" fill="rgb(86,84,13)"/><rect x="84.70" y="346.25" width="8.50" height="2.40" fill="rgb(135,132,22)"/><rect x="84.70" y="348.60" width="8.50" height="2.40" fill="rgb(135,132,22)"/><rect x="84.70" y="350.95" width="8.50" height="2.40" fill="rgb(135,132,22)"/><rect x="84.70" y="353.30" width="8.50" height="2.40" fill="rgb(48,46,9)"/><rect x="84.70" y="355.65" width="8.50" height="2.40" fill="rgb(48,46,9)"/><rect x="84.70" y="360.00" width="8.50" height="2.40" fill="rgb(10,8,12)"/><rect x="84.70" y="362.35" width="8.50" height="2.40" fill="rgb(10,8,12)"/><rect x="84.70" y="364.70" width="8.50" height="2.40" fill="rgb(10,8,12)"/><rect x="84.70" y="367.05" width="8.50" height="2.40" fill="rgb(10,8,12)"/><rect x="84.70" y="369.40" width="8.50" height="2.40" fill="rgb(86,84,13)"/><rect x="84.70" y="371.75" width="8.50" height="2.40" fill="rgb(86,84,13)"/><rect x="84.70" y="374.10" width="8.50" height="2.40" fill="rgb(48,46,9)"/><rect x="84.70" y="376.45" width="8.50" height="2.40" fill="rgb(86,84,13)"/><rect x="84.70" y="378.80" width="8.50" height="2.40" fill="rgb(48,46,9)"/><rect x="84.70" y="381.15" width="8.50" height="2.40" fill="rgb(48,46,9)"/><rect x="84.70" y="383.50" width="8.50" height="2.40" fill="rgb(135,132,22)"/><rect x="84.70" y="385.85" width="8.50" height="2.40" fill="rgb(135,132,22)"/><rect x="84.70" y="388.20" width="8.50" height="2.40" fill="rgb(24,14,60)"/><rect x="84.70" y="390.55" width="8.50" height="2.40" fill="rgb(24,14,60)"/><rect x="84.70" y="392.90" width="8.50" height="2.40" fill="rgb(35,23,128)"/><rect x="84.70" y="395.25" width="8.50" height="2.40" fill="rgb(35,23,128)"/><rect x="84.70" y="397.60" width="8.50" height="2.40" fill="rgb(35,23,128)"/><rect x="84.70" y="399.95" width="8.50" height="2.40" fill="rgb(24,14,60)"/><rect x="84.70" y="402.30" width="8.50" height="2.40" fill="rgb(24,14,60)"/><rect x="84.70" y="404.65" width="8.50" height="2.40" fill="rgb(24,14,60)"/><rect x="84.70" y="407.00" width="8.50" height="2.40" fill="rgb(86,84,13)"/><rect x="84.70" y="409.35" width="8.50" height="2.40" fill="rgb(86,84,13)"/><rect x="84.70" y="411.70" width="8.50" height="2.40" fill="rgb(86,84,13)"/><rect x="84.70" y="414.05" width="8.50" height="2.40" fill="rgb(86,84,13)"/><rect x="84.70" y="416.40" width="8.50" height="2.40" fill="rgb(48,46,9)"/><rect x="84.70" y="418.75" width="8.50" height="2.40" fill="rgb(10,8,12)"/><rect x="84.70" y="421.10" width="8.50" height="2.40" fill="rgb(86,84,13)"/><rect x="84.70" y="423.45" width="8.50" height="2.40" fill="rgb(86,84,13)"/><rect x="84.70" y="425.80" width="8.50" height="2.40" fill="rgb(10,8,12)"/><rect x="84.70" y="428.15" width="8.50" height="2.40" fill="rgb(24,14,60)"/><rect x="84.70" y="430.50" width="8.50" height="2.40" fill="rgb(48,46,9)"/><rect x="84.70" y="432.85" width="8.50" height="2.40" fill="rgb(48,46,9)"/><rect x="84.70" y="435.20" width="8.50" height="2.40" fill="rgb(10,8,12)"/><rect x="84.70" y="437.55" width="8.50" height="2.40" fill="rgb(24,14,60)"/><rect x="84.70" y="439.90" width="8.50" height="2.40" fill="rgb(86,84,13)"/><rect x="84.70" y="442.25" width="8.50" height="2.40" fill="rgb(86,84,13)"/><rect x="84.70" y="444.60" width="8.50" height="2.40" fill="rgb(48,46,9)"/><rect x="84.70" y="446.95" width="8.50" height="2.40" fill="rgb(86,84,13)"/><rect x="84.70" y="449.30" width="8.50" height="2.40" fill="rgb(10,8,12)"/><rect x="84.70" y="451.65" width="8.50" height="2.40" fill="rgb(24,14,60)"/><rect x="84.70" y="454.00" width="8.50" height="2.40" fill="rgb(48,46,9)"/><rect x="84.70" y="456.35" width="8.50" height="2.40" fill="rgb(10,8,12)"/><rect x="84.70" y="458.70" width="8.50" height="2.40" fill="rgb(10,8,12)"/><rect x="84.70" y="461.05" width="8.50" height="2.40" fill="rgb(10,8,12)"/><rect x="84.70" y="463.40" width="8.50" height="2.40" fill="rgb(24,14,60)"/><rect x="84.70" y="465.75" width="8.50" height="1.10" fill="rgb(24,14,60)"/><rect x="93.15" y="217.00" width="8.50" height="2.40" fill="rgb(48,46,9)"/><rect x="93.15" y="219.35" width="8.50" height="2.40" fill="rgb(48,46,9)"/><rect x="93.15" y="221.70" width="8.50" height="2.40" fill="rgb(86,84,13)"/><rect x="93.15" y="224.05" width="8.50" height="2.40" fill="rgb(86,84,13)"/><rect x="93.15" y="226.40" width="8.50" height="2.40" fill="rgb(135,132,22)"/><rect x="93.15" y="228.75" width="8.50" height="2.40" fill="rgb(135,132,22)"/><rect x="93.15" y="231.10" width="8.50" height="2.40" fill="rgb(135,132,22)"/><rect x="93.15" y="233.45" width="8.50" height="2.40" fill="rgb(135,132,22)"/><rect x="93.15" y="235.80" width="8.50" height="2.40" fill="rgb(10,8,12)"/><rect x="93.15" y="238.15" width="8.50" height="2.40" fill="rgb(10,8,12)"/><rect x="93.15" y="240.50" width="8.50" height="2.40" fill="rgb(135,132,22)"/><rect x="93.15" y="242.85" width="8.50" height="2.40" fill="rgb(135,132,22)"/><rect x="93.15" y="245.20" width="8.50" height="2.40" fill="rgb(10,8,12)"/><rect x="93.15" y="247.55" width="8.50" height="2.40" fill="rgb(10,8,12)"/><rect x="93.15" y="249.90" width="8.50" height="2.40" fill="rgb(86,84,13)"/><rect x="93.15" y="252.25" width="8.50" height="2.40" fill="rgb(86,84,13)"/><rect x="93.15" y="254.60" width="8.50" height="2.40" fill="rgb(135,132,22)"/><rect x="93.15" y="256.95" width="8.50" height="2.40" fill="rgb(135,132,22)"/><rect x="93.15" y="259.30" width="8.50" height="2.40" fill="rgb(135,132,22)"/><rect x="93.15" y="261.65" width="8.50" height="2.40" fill="rgb(135,132,22)"/><rect x="93.15" y="264.00" width="8.50" height="2.40" fill="rgb(86,84,13)"/><rect x="93.15" y="266.35" width="8.50" height="2.40" fill="rgb(86,84,13)"/><rect x="93.15" y="268.70" width="8.50" height="2.40" fill="rgb(86,84,13)"/><rect x="93.15" y="271.05" width="8.50" height="2.40" fill="rgb(86,84,13)"/><rect x="93.15" y="273.40" width="8.50" height="2.40" fill="rgb(135,132,22)"/><rect x="93.15" y="275.75" width="8.50" height="2.40" fill="rgb(135,132,22)"/><rect x="93.15" y="278.10" width="8.50" height="2.40" fill="rgb(135,132,22)"/><rect x="93.15" y="280.45" width="8.50" height="2.40" fill="rgb(135,132,22)"/><rect x="93.15" y="282.80" width="8.50" height="2.40" fill="rgb(135,132,22)"/><rect x="93.15" y="285.15" width="8.50" height="2.40" fill="rgb(135,132,22)"/><rect x="93.15" y="287.50" width="8.50" height="2.40" fill="rgb(86,84,13)"/><rect x="93.15" y="289.85" width="8.50" height="2.40" fill="rgb(86,84,13)"/><rect x="93.15" y="292.20" width="8.50" height="2.40" fill="rgb(135,132,22)"/><rect x="93.15" y="294.55" width="8.50" height="2.40" fill="rgb(135,132,22)"/><rect x="93.15" y="296.90" width="8.50" height="2.40" fill="rgb(86,84,13)"/><rect x="93.15" y="299.25" width="8.50" height="2.40" fill="rgb(86,84,13)"/><rect x="93.15" y="301.60" width="8.50" height="2.40" fill="rgb(135,132,22)"/><rect x="93.15" y="303.95" width="8.50" height="2.40" fill="rgb(135,132,22)"/><rect x="93.15" y="306.30" width="8.50" height="2.40" fill="rgb(86,84,13)"/><rect x="93.15" y="308.65" width="8.50" height="2.40" fill="rgb(135,132,22)"/><rect x="93.15" y="311.00" width="8.50" height="2.40" fill="rgb(86,84,13)"/><rect x="93.15" y="313.35" width="8.50" height="2.40" fill="rgb(86,84,13)"/><rect x="93.15" y="315.70" width="8.50" height="2.40" fill="rgb(135,132,22)"/><rect x="93.15" y="318.05" width="8.50" height="2.40" fill="rgb(135,132,22)"/><rect x="93.15" y="320.40" width="8.50" height="2.40" fill="rgb(135,132,22)"/><rect x="93.15" y="322.75" width="8.50" height="2.40" fill="rgb(135,132,22)"/><rect x="93.15" y="325.10" width="8.50" height="2.40" fill="rgb(48,46,9)"/><rect x="93.15" y="327.45" width="8.50" height="2.40" fill="rgb(10,8,12)"/><rect x="93.15" y="329.80" width="8.50" height="2.40" fill="rgb(48,46,9)"/><rect x="93.15" y="332.15" width="8.50" height="2.40" fill="rgb(48,46,9)"/><rect x="93.15" y="334.50" width="8.50" height="2.40" fill="rgb(86,84,13)"/><rect x="93.15" y="336.85" width="8.50" height="2.40" fill="rgb(86,84,13)"/><rect x="93.15" y="339.20" width="8.50" height="2.40" fill="rgb(10,8,12)"/><rect x="93.15" y="341.55" width="8.50" height="2.40" fill="rgb(10,8,12)"/><rect x="93.15" y="343.90" width="8.50" height="2.40" fill="rgb(135,132,22)"/><rect x="93.15" y="346.25" width="8.50" height="2.40" fill="rgb(135,132,22)"/><rect x="93.15" y="348.60" width="8.50" height="2.40" fill="rgb(135,132,22)"/><rect x="93.15" y="350.95" width="8.50" height="2.40" fill="rgb(135,132,22)"/><rect x="93.15" y="353.30" width="8.50" height="2.40" fill="rgb(86,84,13)"/><rect x="93.15" y="355.65" width="8.50" height="2.40" fill="rgb(86,84,13)"/><rect x="93.15" y="360.00" width="8.50" height="2.40" fill="rgb(24,14,60)"/><rect x="93.15" y="362.35" width="8.50" height="2.40" fill="rgb(24,14,60)"/><rect x="93.15" y="364.70" width="8.50" height="2.40" fill="rgb(24,14,60)"/><rect x="93.15" y="367.05" width="8.50" height="2.40" fill="rgb(48,46,9)"/><rect x="93.15" y="369.40" width="8.50" height="2.40" fill="rgb(35,23,128)"/><rect x="93.15" y="371.75" width="8.50" height="2.40" fill="rgb(35,23,128)"/><rect x="93.15" y="374.10" width="8.50" height="2.40" fill="rgb(24,14,60)"/><rect x="93.15" y="376.45" width="8.50" height="2.40" fill="rgb(24,14,60)"/><rect x="93.15" y="378.80" width="8.50" height="2.40" fill="rgb(10,8,12)"/><rect x="93.15" y="381.15" width="8.50" height="2.40" fill="rgb(10,8,12)"/><rect x="93.15" y="383.50" width="8.50" height="2.40" fill="rgb(24,14,60)"/><rect x="93.15" y="385.85" width="8.50" height="2.40" fill="rgb(24,14,60)"/><rect x="93.15" y="388.20" width="8.50" height="2.40" fill="rgb(35,23,128)"/><rect x="93.15" y="390.55" width="8.50" height="2.40" fill="rgb(35,23,128)"/><rect x="93.15" y="392.90" width="8.50" height="2.40" fill="rgb(24,14,60)"/><rect x="93.15" y="395.25" width="8.50" height="2.40" fill="rgb(24,14,60)"/><rect x="93.15" y="397.60" width="8.50" height="2.40" fill="rgb(10,8,12)"/><rect x="93.15" y="399.95" width="8.50" height="2.40" fill="rgb(24,14,60)"/><rect x="93.15" y="402.30" width="8.50" height="2.40" fill="rgb(35,23,128)"/><rect x="93.15" y="404.65" width="8.50" height="2.40" fill="rgb(24,14,60)"/><rect x="93.15" y="407.00" width="8.50" height="2.40" fill="rgb(24,14,60)"/><rect x="93.15" y="409.35" width="8.50" height="2.40" fill="rgb(24,14,60)"/><rect x="93.15" y="411.70" width="8.50" height="2.40" fill="rgb(24,14,60)"/><rect x="93.15" y="414.05" width="8.50" height="2.40" fill="rgb(24,14,60)"/><rect x="93.15" y="416.40" width="8.50" height="2.40" fill="rgb(24,14,60)"/><rect x="93.15" y="418.75" width="8.50" height="2.40" fill="rgb(24,14,60)"/><rect x="93.15" y="421.10" width="8.50" height="2.40" fill="rgb(35,23,128)"/><rect x="93.15" y="423.45" width="8.50" height="2.40" fill="rgb(35,23,128)"/><rect x="93.15" y="425.80" width="8.50" height="2.40" fill="rgb(35,23,128)"/><rect x="93.15" y="428.15" width="8.50" height="2.40" fill="rgb(24,14,60)"/><rect x="93.15" y="430.50" width="8.50" height="2.40" fill="rgb(35,23,128)"/><rect x="93.15" y="432.85" width="8.50" height="2.40" fill="rgb(35,23,128)"/><rect x="93.15" y="435.20" width="8.50" height="2.40" fill="rgb(24,14,60)"/><rect x="93.15" y="437.55" width="8.50" height="2.40" fill="rgb(24,14,60)"/><rect x="93.15" y="439.90" width="8.50" height="2.40" fill="rgb(35,23,128)"/><rect x="93.15" y="442.25" width="8.50" height="2.40" fill="rgb(24,14,60)"/><rect x="93.15" y="444.60" width="8.50" height="2.40" fill="rgb(35,23,128)"/><rect x="93.15" y="446.95" width="8.50" height="2.40" fill="rgb(35,23,128)"/><rect x="93.15" y="449.30" width="8.50" height="2.40" fill="rgb(24,14,60)"/><rect x="93.15" y="451.65" width="8.50" height="2.40" fill="rgb(24,14,60)"/><rect x="93.15" y="454.00" width="8.50" height="2.40" fill="rgb(24,14,60)"/><rect x="93.15" y="456.35" width="8.50" height="2.40" fill="rgb(35,23,128)"/><rect x="93.15" y="458.70" width="8.50" height="2.40" fill="rgb(24,14,60)"/><rect x="93.15" y="461.05" width="8.50" height="2.40" fill="rgb(24,14,60)"/><rect x="93.15" y="463.40" width="8.50" height="2.40" fill="rgb(24,14,60)"/><rect x="93.15" y="465.75" width="8.50" height="1.10" fill="rgb(10,8,12)"/><rect x="101.60" y="217.00" width="8.50" height="2.40" fill="rgb(35,23,128)"/><rect x="101.60" y="219.35" width="8.50" height="2.40" fill="rgb(35,23,128)"/><rect x="101.60" y="221.70" width="8.50" height="2.40" fill="rgb(48,46,9)"/><rect x="101.60" y="224.05" width="8.50" height="2.40" fill="rgb(48,46,9)"/><rect x="101.60" y="226.40" width="8.50" height="2.40" fill="rgb(135,132,22)"/><rect x="101.60" y="228.75" width="8.50" height="2.40" fill="rgb(86,84,13)"/><rect x="101.60" y="231.10" width="8.50" height="2.40" fill="rgb(86,84,13)"/><rect x="101.60" y="233.45" width="8.50" height="2.40" fill="rgb(86,84,13)"/><rect x="101.60" y="235.80" width="8.50" height="2.40" fill="rgb(135,132,22)"/><rect x="101.60" y="238.15" width="8.50" height="2.40" fill="rgb(135,132,22)"/><rect x="101.60" y="240.50" width="8.50" height="2.40" fill="rgb(10,8,12)"/><rect x="101.60" y="242.85" width="8.50" height="2.40" fill="rgb(10,8,12)"/><rect x="101.60" y="245.20" width="8.50" height="2.40" fill="rgb(48,46,9)"/><rect x="101.60" y="247.55" width="8.50" height="2.40" fill="rgb(10,8,12)"/><rect x="101.60" y="249.90" width="8.50" height="2.40" fill="rgb(10,8,12)"/><rect x="101.60" y="252.25" width="8.50" height="2.40" fill="rgb(10,8,12)"/><rect x="101.60" y="254.60" width="8.50" height="2.40" fill="rgb(86,84,13)"/><rect x="101.60" y="256.95" width="8.50" height="2.40" fill="rgb(86,84,13)"/><rect x="101.60" y="259.30" width="8.50" height="2.40" fill="rgb(86,84,13)"/><rect x="101.60" y="261.65" width="8.50" height="2.40" fill="rgb(86,84,13)"/><rect x="101.60" y="264.00" width="8.50" height="2.40" fill="rgb(48,46,9)"/><rect x="101.60" y="266.35" width="8.50" height="2.40" fill="rgb(48,46,9)"/><rect x="101.60" y="268.70" width="8.50" height="2.40" fill="rgb(10,8,12)"/><rect x="101.60" y="271.05" width="8.50" height="2.40" fill="rgb(48,46,9)"/><rect x="101.60" y="273.40" width="8.50" height="2.40" fill="rgb(48,46,9)"/><rect x="101.60" y="275.75" width="8.50" height="2.40" fill="rgb(48,46,9)"/><rect x="101.60" y="278.10" width="8.50" height="2.40" fill="rgb(86,84,13)"/><rect x="101.60" y="280.45" width="8.50" height="2.40" fill="rgb(86,84,13)"/><rect x="101.60" y="282.80" width="8.50" height="2.40" fill="rgb(48,46,9)"/><rect x="101.60" y="285.15" width="8.50" height="2.40" fill="rgb(48,46,9)"/><rect x="101.60" y="287.50" width="8.50" height="2.40" fill="rgb(48,46,9)"/><rect x="101.60" y="289.85" width="8.50" height="2.40" fill="rgb(48,46,9)"/><rect x="101.60" y="292.20" width="8.50" height="2.40" fill="rgb(48,46,9)"/><rect x="101.60" y="294.55" width="8.50" height="2.40" fill="rgb(48,46,9)"/><rect x="101.60" y="296.90" width="8.50" height="2.40" fill="rgb(24,14,60)"/><rect x="101.60" y="299.25" width="8.50" height="2.40" fill="rgb(24,14,60)"/><rect x="101.60" y="301.60" width="8.50" height="2.40" fill="rgb(10,8,12)"/><rect x="101.60" y="303.95" width="8.50" height="2.40" fill="rgb(24,14,60)"/><rect x="101.60" y="306.30" width="8.50" height="2.40" fill="rgb(48,46,9)"/><rect x="101.60" y="308.65" width="8.50" height="2.40" fill="rgb(48,46,9)"/><rect x="101.60" y="311.00" width="8.50" height="2.40" fill="rgb(24,14,60)"/><rect x="101.60" y="313.35" width="8.50" height="2.40" fill="rgb(24,14,60)"/><rect x="101.60" y="315.70" width="8.50" height="2.40" fill="rgb(24,14,60)"/><rect x="101.60" y="318.05" width="8.50" height="2.40" fill="rgb(24,14,60)"/><rect x="101.60" y="320.40" width="8.50" height="2.40" fill="rgb(10,8,12)"/><rect x="101.60" y="322.75" width="8.50" height="2.40" fill="rgb(10,8,12)"/><rect x="101.60" y="325.10" width="8.50" height="2.40" fill="rgb(86,84,13)"/><rect x="101.60" y="327.45" width="8.50" height="2.40" fill="rgb(86,84,13)"/><rect x="101.60" y="329.80" width="8.50" height="2.40" fill="rgb(48,46,9)"/><rect x="101.60" y="332.15" width="8.50" height="2.40" fill="rgb(48,46,9)"/><rect x="101.60" y="334.50" width="8.50" height="2.40" fill="rgb(10,8,12)"/><rect x="101.60" y="336.85" width="8.50" height="2.40" fill="rgb(10,8,12)"/><rect x="101.60" y="339.20" width="8.50" height="2.40" fill="rgb(10,8,12)"/><rect x="101.60" y="341.55" width="8.50" height="2.40" fill="rgb(24,14,60)"/><rect x="101.60" y="343.90" width="8.50" height="2.40" fill="rgb(10,8,12)"/><rect x="101.60" y="346.25" width="8.50" height="2.40" fill="rgb(10,8,12)"/><rect x="101.60" y="348.60" width="8.50" height="2.40" fill="rgb(48,46,9)"/><rect x="101.60" y="350.95" width="8.50" height="2.40" fill="rgb(48,46,9)"/><rect x="101.60" y="353.30" width="8.50" height="2.40" fill="rgb(10,8,12)"/><rect x="101.60" y="355.65" width="8.50" height="2.40" fill="rgb(10,8,12)"/><rect x="101.60" y="360.00" width="8.50" height="2.40" fill="rgb(24,14,60)"/><rect x="101.60" y="362.35" width="8.50" height="2.40" fill="rgb(24,14,60)"/><rect x="101.60" y="364.70" width="8.50" height="2.40" fill="rgb(24,14,60)"/><rect x="101.60" y="367.05" width="8.50" height="2.40" fill="rgb(24,14,60)"/><rect x="101.60" y="369.40" width="8.50" height="2.40" fill="rgb(10,8,12)"/><rect x="101.60" y="371.75" width="8.50" height="2.40" fill="rgb(48,46,9)"/><rect x="101.60" y="374.10" width="8.50" height="2.40" fill="rgb(10,8,12)"/><rect x="101.60" y="376.45" width="8.50" height="2.40" fill="rgb(24,14,60)"/><rect x="101.60" y="378.80" width="8.50" height="2.40" fill="rgb(24,14,60)"/><rect x="101.60" y="381.15" width="8.50" height="2.40" fill="rgb(24,14,60)"/><rect x="101.60" y="383.50" width="8.50" height="2.40" fill="rgb(24,14,60)"/><rect x="101.60" y="385.85" width="8.50" height="2.40" fill="rgb(24,14,60)"/><rect x="101.60" y="388.20" width="8.50" height="2.40" fill="rgb(24,14,60)"/><rect x="101.60" y="390.55" width="8.50" height="2.40" fill="rgb(24,14,60)"/><rect x="101.60" y="392.90" width="8.50" height="2.40" fill="rgb(24,14,60)"/><rect x="101.60" y="395.25" width="8.50" height="2.40" fill="rgb(24,14,60)"/><rect x="101.60" y="397.60" width="8.50" height="2.40" fill="rgb(24,14,60)"/><rect x="101.60" y="399.95" width="8.50" height="2.40" fill="rgb(24,14,60)"/><rect x="101.60" y="402.30" width="8.50" height="2.40" fill="rgb(24,14,60)"/><rect x="101.60" y="404.65" width="8.50" height="2.40" fill="rgb(24,14,60)"/><rect x="101.60" y="407.00" width="8.50" height="2.40" fill="rgb(10,8,12)"/><rect x="101.60" y="409.35" width="8.50" height="2.40" fill="rgb(10,8,12)"/><rect x="101.60" y="411.70" width="8.50" height="2.40" fill="rgb(48,46,9)"/><rect x="101.60" y="414.05" width="8.50" height="2.40" fill="rgb(48,46,9)"/><rect x="101.60" y="416.40" width="8.50" height="2.40" fill="rgb(10,8,12)"/><rect x="101.60" y="418.75" width="8.50" height="2.40" fill="rgb(24,14,60)"/><rect x="101.60" y="421.10" width="8.50" height="2.40" fill="rgb(48,46,9)"/><rect x="101.60" y="423.45" width="8.50" height="2.40" fill="rgb(48,46,9)"/><rect x="101.60" y="425.80" width="8.50" height="2.40" fill="rgb(10,8,12)"/><rect x="101.60" y="428.15" width="8.50" height="2.40" fill="rgb(10,8,12)"/><rect x="101.60" y="430.50" width="8.50" height="2.40" fill="rgb(135,132,22)"/><rect x="101.60" y="432.85" width="8.50" height="2.40" fill="rgb(135,132,22)"/><rect x="101.60" y="435.20" width="8.50" height="2.40" fill="rgb(48,46,9)"/><rect x="101.60" y="437.55" width="8.50" height="2.40" fill="rgb(10,8,12)"/><rect x="101.60" y="439.90" width="8.50" height="2.40" fill="rgb(48,46,9)"/><rect x="101.60" y="442.25" width="8.50" height="2.40" fill="rgb(10,8,12)"/><rect x="101.60" y="444.60" width="8.50" height="2.40" fill="rgb(24,14,60)"/><rect x="101.60" y="446.95" width="8.50" height="2.40" fill="rgb(10,8,12)"/><rect x="101.60" y="449.30" width="8.50" height="2.40" fill="rgb(10,8,12)"/><rect x="101.60" y="451.65" width="8.50" height="2.40" fill="rgb(24,14,60)"/><rect x="101.60" y="454.00" width="8.50" height="2.40" fill="rgb(10,8,12)"/><rect x="101.60" y="456.35" width="8.50" height="2.40" fill="rgb(48,46,9)"/><rect x="101.60" y="458.70" width="8.50" height="2.40" fill="rgb(48,46,9)"/><rect x="101.60" y="461.05" width="8.50" height="2.40" fill="rgb(48,46,9)"/><rect x="101.60" y="463.40" width="8.50" height="2.40" fill="rgb(135,132,22)"/><rect x="101.60" y="465.75" width="8.50" height="1.10" fill="rgb(86,84,13)"/><rect x="110.05" y="217.00" width="8.50" height="2.40" fill="rgb(24,14,60)"/><rect x="110.05" y="219.35" width="8.50" height="2.40" fill="rgb(35,23,128)"/><rect x="110.05" y="221.70" width="8.50" height="2.40" fill="rgb(10,8,12)"/><rect x="110.05" y="224.05" width="8.50" height="2.40" fill="rgb(10,8,12)"/><rect x="110.05" y="226.40" width="8.50" height="2.40" fill="rgb(10,8,12)"/><rect x="110.05" y="228.75" width="8.50" height="2.40" fill="rgb(10,8,12)"/><rect x="110.05" y="231.10" width="8.50" height="2.40" fill="rgb(24,14,60)"/><rect x="110.05" y="233.45" width="8.50" height="2.40" fill="rgb(24,14,60)"/><rect x="110.05" y="235.80" width="8.50" height="2.40" fill="rgb(24,14,60)"/><rect x="110.05" y="238.15" width="8.50" height="2.40" fill="rgb(24,14,60)"/><rect x="110.05" y="240.50" width="8.50" height="2.40" fill="rgb(48,46,9)"/><rect x="110.05" y="242.85" width="8.50" height="2.40" fill="rgb(10,8,12)"/><rect x="110.05" y="245.20" width="8.50" height="2.40" fill="rgb(24,14,60)"/><rect x="110.05" y="247.55" width="8.50" height="2.40" fill="rgb(10,8,12)"/><rect x="110.05" y="249.90" width="8.50" height="2.40" fill="rgb(135,132,22)"/><rect x="110.05" y="252.25" width="8.50" height="2.40" fill="rgb(86,84,13)"/><rect x="110.05" y="254.60" width="8.50" height="2.40" fill="rgb(86,84,13)"/><rect x="110.05" y="256.95" width="8.50" height="2.40" fill="rgb(135,132,22)"/><rect x="110.05" y="259.30" width="8.50" height="2.40" fill="rgb(10,8,12)"/><rect x="110.05" y="261.65" width="8.50" height="2.40" fill="rgb(10,8,12)"/><rect x="110.05" y="264.00" width="8.50" height="2.40" fill="rgb(10,8,12)"/><rect x="110.05" y="266.35" width="8.50" height="2.40" fill="rgb(10,8,12)"/><rect x="110.05" y="268.70" width="8.50" height="2.40" fill="rgb(86,84,13)"/><rect x="110.05" y="271.05" width="8.50" height="2.40" fill="rgb(86,84,13)"/><rect x="110.05" y="273.40" width="8.50" height="2.40" fill="rgb(86,84,13)"/><rect x="110.05" y="275.75" width="8.50" height="2.40" fill="rgb(86,84,13)"/><rect x="110.05" y="278.10" width="8.50" height="2.40" fill="rgb(135,132,22)"/><rect x="110.05" y="280.45" width="8.50" height="2.40" fill="rgb(86,84,13)"/><rect x="110.05" y="282.80" width="8.50" height="2.40" fill="rgb(86,84,13)"/><rect x="110.05" y="285.15" width="8.50" height="2.40" fill="rgb(86,84,13)"/><rect x="110.05" y="287.50" width="8.50" height="2.40" fill="rgb(86,84,13)"/><rect x="110.05" y="289.85" width="8.50" height="2.40" fill="rgb(86,84,13)"/><rect x="110.05" y="292.20" width="8.50" height="2.40" fill="rgb(86,84,13)"/><rect x="110.05" y="294.55" width="8.50" height="2.40" fill="rgb(86,84,13)"/><rect x="110.05" y="296.90" width="8.50" height="2.40" fill="rgb(86,84,13)"/><rect x="110.05" y="299.25" width="8.50" height="2.40" fill="rgb(86,84,13)"/><rect x="110.05" y="301.60" width="8.50" height="2.40" fill="rgb(48,46,9)"/><rect x="110.05" y="303.95" width="8.50" height="2.40" fill="rgb(86,84,13)"/><rect x="110.05" y="306.30" width="8.50" height="2.40" fill="rgb(135,132,22)"/><rect x="110.05" y="308.65" width="8.50" height="2.40" fill="rgb(135,132,22)"/><rect x="110.05" y="311.00" width="8.50" height="2.40" fill="rgb(86,84,13)"/><rect x="110.05" y="313.35" width="8.50" height="2.40" fill="rgb(86,84,13)"/><rect x="110.05" y="315.70" width="8.50" height="2.40" fill="rgb(10,8,12)"/><rect x="110.05" y="318.05" width="8.50" height="2.40" fill="rgb(10,8,12)"/><rect x="110.05" y="320.40" width="8.50" height="2.40" fill="rgb(48,46,9)"/><rect x="110.05" y="322.75" width="8.50" height="2.40" fill="rgb(10,8,12)"/><rect x="110.05" y="325.10" width="8.50" height="2.40" fill="rgb(86,84,13)"/><rect x="110.05" y="327.45" width="8.50" height="2.40" fill="rgb(135,132,22)"/><rect x="110.05" y="329.80" width="8.50" height="2.40" fill="rgb(135,132,22)"/><rect x="110.05" y="332.15" width="8.50" height="2.40" fill="rgb(135,132,22)"/><rect x="110.05" y="334.50" width="8.50" height="2.40" fill="rgb(10,8,12)"/><rect x="110.05" y="336.85" width="8.50" height="2.40" fill="rgb(10,8,12)"/><rect x="110.05" y="339.20" width="8.50" height="2.40" fill="rgb(24,14,60)"/><rect x="110.05" y="341.55" width="8.50" height="2.40" fill="rgb(35,23,128)"/><rect x="110.05" y="343.90" width="8.50" height="2.40" fill="rgb(10,8,12)"/><rect x="110.05" y="346.25" width="8.50" height="2.40" fill="rgb(10,8,12)"/><rect x="110.05" y="348.60" width="8.50" height="2.40" fill="rgb(24,14,60)"/><rect x="110.05" y="350.95" width="8.50" height="2.40" fill="rgb(10,8,12)"/><rect x="110.05" y="353.30" width="8.50" height="2.40" fill="rgb(10,8,12)"/><rect x="110.05" y="355.65" width="8.50" height="2.40" fill="rgb(24,14,60)"/><rect x="110.05" y="360.00" width="8.50" height="2.40" fill="rgb(10,8,12)"/><rect x="110.05" y="362.35" width="8.50" height="2.40" fill="rgb(10,8,12)"/><rect x="110.05" y="364.70" width="8.50" height="2.40" fill="rgb(86,84,13)"/><rect x="110.05" y="367.05" width="8.50" height="2.40" fill="rgb(135,132,22)"/><rect x="110.05" y="369.40" width="8.50" height="2.40" fill="rgb(35,23,128)"/><rect x="110.05" y="371.75" width="8.50" height="2.40" fill="rgb(24,14,60)"/><rect x="110.05" y="374.10" width="8.50" height="2.40" fill="rgb(24,14,60)"/><rect x="110.05" y="376.45" width="8.50" height="2.40" fill="rgb(24,14,60)"/><rect x="110.05" y="378.80" width="8.50" height="2.40" fill="rgb(10,8,12)"/><rect x="110.05" y="381.15" width="8.50" height="2.40" fill="rgb(24,14,60)"/><rect x="110.05" y="383.50" width="8.50" height="2.40" fill="rgb(35,23,128)"/><rect x="110.05" y="385.85" width="8.50" height="2.40" fill="rgb(35,23,128)"/><rect x="110.05" y="388.20" width="8.50" height="2.40" fill="rgb(35,23,128)"/><rect x="110.05" y="390.55" width="8.50" height="2.40" fill="rgb(35,23,128)"/><rect x="110.05" y="392.90" width="8.50" height="2.40" fill="rgb(24,14,60)"/><rect x="110.05" y="395.25" width="8.50" height="2.40" fill="rgb(24,14,60)"/><rect x="110.05" y="397.60" width="8.50" height="2.40" fill="rgb(10,8,12)"/><rect x="110.05" y="399.95" width="8.50" height="2.40" fill="rgb(10,8,12)"/><rect x="110.05" y="402.30" width="8.50" height="2.40" fill="rgb(24,14,60)"/><rect x="110.05" y="404.65" width="8.50" height="2.40" fill="rgb(24,14,60)"/><rect x="110.05" y="407.00" width="8.50" height="2.40" fill="rgb(24,14,60)"/><rect x="110.05" y="409.35" width="8.50" height="2.40" fill="rgb(24,14,60)"/><rect x="110.05" y="411.70" width="8.50" height="2.40" fill="rgb(35,23,128)"/><rect x="110.05" y="414.05" width="8.50" height="2.40" fill="rgb(35,23,128)"/><rect x="110.05" y="416.40" width="8.50" height="2.40" fill="rgb(24,14,60)"/><rect x="110.05" y="418.75" width="8.50" height="2.40" fill="rgb(35,23,128)"/><rect x="110.05" y="421.10" width="8.50" height="2.40" fill="rgb(10,8,12)"/><rect x="110.05" y="423.45" width="8.50" height="2.40" fill="rgb(10,8,12)"/><rect x="110.05" y="425.80" width="8.50" height="2.40" fill="rgb(24,14,60)"/><rect x="110.05" y="428.15" width="8.50" height="2.40" fill="rgb(24,14,60)"/><rect x="110.05" y="430.50" width="8.50" height="2.40" fill="rgb(24,14,60)"/><rect x="110.05" y="432.85" width="8.50" height="2.40" fill="rgb(24,14,60)"/><rect x="110.05" y="435.20" width="8.50" height="2.40" fill="rgb(35,23,128)"/><rect x="110.05" y="437.55" width="8.50" height="2.40" fill="rgb(35,23,128)"/><rect x="110.05" y="439.90" width="8.50" height="2.40" fill="rgb(35,23,128)"/><rect x="110.05" y="442.25" width="8.50" height="2.40" fill="rgb(35,23,128)"/><rect x="110.05" y="444.60" width="8.50" height="2.40" fill="rgb(35,23,128)"/><rect x="110.05" y="446.95" width="8.50" height="2.40" fill="rgb(35,23,128)"/><rect x="110.05" y="449.30" width="8.50" height="2.40" fill="rgb(24,14,60)"/><rect x="110.05" y="451.65" width="8.50" height="2.40" fill="rgb(35,23,128)"/><rect x="110.05" y="454.00" width="8.50" height="2.40" fill="rgb(35,23,128)"/><rect x="110.05" y="456.35" width="8.50" height="2.40" fill="rgb(35,23,128)"/><rect x="110.05" y="458.70" width="8.50" height="2.40" fill="rgb(35,23,128)"/><rect x="110.05" y="461.05" width="8.50" height="2.40" fill="rgb(35,23,128)"/><rect x="110.05" y="463.40" width="8.50" height="2.40" fill="rgb(24,14,60)"/><rect x="110.05" y="465.75" width="8.50" height="1.10" fill="rgb(10,8,12)"/><rect x="118.50" y="217.00" width="8.50" height="2.40" fill="rgb(35,23,128)"/><rect x="118.50" y="219.35" width="8.50" height="2.40" fill="rgb(10,8,12)"/><rect x="118.50" y="221.70" width="8.50" height="2.40" fill="rgb(35,23,128)"/><rect x="118.50" y="224.05" width="8.50" height="2.40" fill="rgb(35,23,128)"/><rect x="118.50" y="226.40" width="8.50" height="2.40" fill="rgb(48,46,9)"/><rect x="118.50" y="228.75" width="8.50" height="2.40" fill="rgb(48,46,9)"/><rect x="118.50" y="231.10" width="8.50" height="2.40" fill="rgb(24,14,60)"/><rect x="118.50" y="233.45" width="8.50" height="2.40" fill="rgb(24,14,60)"/><rect x="118.50" y="235.80" width="8.50" height="2.40" fill="rgb(35,23,128)"/><rect x="118.50" y="238.15" width="8.50" height="2.40" fill="rgb(24,14,60)"/><rect x="118.50" y="240.50" width="8.50" height="2.40" fill="rgb(10,8,12)"/><rect x="118.50" y="242.85" width="8.50" height="2.40" fill="rgb(24,14,60)"/><rect x="118.50" y="245.20" width="8.50" height="2.40" fill="rgb(10,8,12)"/><rect x="118.50" y="247.55" width="8.50" height="2.40" fill="rgb(48,46,9)"/><rect x="118.50" y="249.90" width="8.50" height="2.40" fill="rgb(35,23,128)"/><rect x="118.50" y="252.25" width="8.50" height="2.40" fill="rgb(35,23,128)"/><rect x="118.50" y="254.60" width="8.50" height="2.40" fill="rgb(24,14,60)"/><rect x="118.50" y="256.95" width="8.50" height="2.40" fill="rgb(24,14,60)"/><rect x="118.50" y="259.30" width="8.50" height="2.40" fill="rgb(35,23,128)"/><rect x="118.50" y="261.65" width="8.50" height="2.40" fill="rgb(35,23,128)"/><rect x="118.50" y="264.00" width="8.50" height="2.40" fill="rgb(24,14,60)"/><rect x="118.50" y="266.35" width="8.50" height="2.40" fill="rgb(24,14,60)"/><rect x="118.50" y="268.70" width="8.50" height="2.40" fill="rgb(24,14,60)"/><rect x="118.50" y="271.05" width="8.50" height="2.40" fill="rgb(24,14,60)"/><rect x="118.50" y="273.40" width="8.50" height="2.40" fill="rgb(35,23,128)"/><rect x="118.50" y="275.75" width="8.50" height="2.40" fill="rgb(35,23,128)"/><rect x="118.50" y="278.10" width="8.50" height="2.40" fill="rgb(10,8,12)"/><rect x="118.50" y="280.45" width="8.50" height="2.40" fill="rgb(10,8,12)"/><rect x="118.50" y="282.80" width="8.50" height="2.40" fill="rgb(24,14,60)"/><rect x="118.50" y="285.15" width="8.50" height="2.40" fill="rgb(24,14,60)"/><rect x="118.50" y="287.50" width="8.50" height="2.40" fill="rgb(24,14,60)"/><rect x="118.50" y="289.85" width="8.50" height="2.40" fill="rgb(10,8,12)"/><rect x="118.50" y="292.20" width="8.50" height="2.40" fill="rgb(24,14,60)"/><rect x="118.50" y="294.55" width="8.50" height="2.40" fill="rgb(35,23,128)"/><rect x="118.50" y="296.90" width="8.50" height="2.40" fill="rgb(35,23,128)"/><rect x="118.50" y="299.25" width="8.50" height="2.40" fill="rgb(35,23,128)"/><rect x="118.50" y="301.60" width="8.50" height="2.40" fill="rgb(35,23,128)"/><rect x="118.50" y="303.95" width="8.50" height="2.40" fill="rgb(35,23,128)"/><rect x="118.50" y="306.30" width="8.50" height="2.40" fill="rgb(24,14,60)"/><rect x="118.50" y="308.65" width="8.50" height="2.40" fill="rgb(24,14,60)"/><rect x="118.50" y="311.00" width="8.50" height="2.40" fill="rgb(24,14,60)"/><rect x="118.50" y="313.35" width="8.50" height="2.40" fill="rgb(24,14,60)"/><rect x="118.50" y="315.70" width="8.50" height="2.40" fill="rgb(42,30,192)"/><rect x="118.50" y="318.05" width="8.50" height="2.40" fill="rgb(35,23,128)"/><rect x="118.50" y="320.40" width="8.50" height="2.40" fill="rgb(42,30,192)"/><rect x="118.50" y="322.75" width="8.50" height="2.40" fill="rgb(42,30,192)"/><rect x="118.50" y="325.10" width="8.50" height="2.40" fill="rgb(35,23,128)"/><rect x="118.50" y="327.45" width="8.50" height="2.40" fill="rgb(35,23,128)"/><rect x="118.50" y="329.80" width="8.50" height="2.40" fill="rgb(24,14,60)"/><rect x="118.50" y="332.15" width="8.50" height="2.40" fill="rgb(24,14,60)"/><rect x="118.50" y="334.50" width="8.50" height="2.40" fill="rgb(35,23,128)"/><rect x="118.50" y="336.85" width="8.50" height="2.40" fill="rgb(24,14,60)"/><rect x="118.50" y="339.20" width="8.50" height="2.40" fill="rgb(24,14,60)"/><rect x="118.50" y="341.55" width="8.50" height="2.40" fill="rgb(24,14,60)"/><rect x="118.50" y="343.90" width="8.50" height="2.40" fill="rgb(35,23,128)"/><rect x="118.50" y="346.25" width="8.50" height="2.40" fill="rgb(35,23,128)"/><rect x="118.50" y="348.60" width="8.50" height="2.40" fill="rgb(35,23,128)"/><rect x="118.50" y="350.95" width="8.50" height="2.40" fill="rgb(35,23,128)"/><rect x="118.50" y="353.30" width="8.50" height="2.40" fill="rgb(24,14,60)"/><rect x="118.50" y="355.65" width="8.50" height="2.40" fill="rgb(10,8,12)"/><rect x="118.50" y="360.00" width="8.50" height="2.40" fill="rgb(135,132,22)"/><rect x="118.50" y="362.35" width="8.50" height="2.40" fill="rgb(86,84,13)"/><rect x="118.50" y="364.70" width="8.50" height="2.40" fill="rgb(24,14,60)"/><rect x="118.50" y="367.05" width="8.50" height="2.40" fill="rgb(24,14,60)"/><rect x="118.50" y="369.40" width="8.50" height="2.40" fill="rgb(10,8,12)"/><rect x="118.50" y="371.75" width="8.50" height="2.40" fill="rgb(10,8,12)"/><rect x="118.50" y="374.10" width="8.50" height="2.40" fill="rgb(10,8,12)"/><rect x="118.50" y="376.45" width="8.50" height="2.40" fill="rgb(10,8,12)"/><rect x="118.50" y="378.80" width="8.50" height="2.40" fill="rgb(48,46,9)"/><rect x="118.50" y="381.15" width="8.50" height="2.40" fill="rgb(48,46,9)"/><rect x="118.50" y="383.50" width="8.50" height="2.40" fill="rgb(48,46,9)"/><rect x="118.50" y="385.85" width="8.50" height="2.40" fill="rgb(48,46,9)"/><rect x="118.50" y="388.20" width="8.50" height="2.40" fill="rgb(48,46,9)"/><rect x="118.50" y="390.55" width="8.50" height="2.40" fill="rgb(48,46,9)"/><rect x="118.50" y="392.90" width="8.50" height="2.40" fill="rgb(24,14,60)"/><rect x="118.50" y="395.25" width="8.50" height="2.40" fill="rgb(24,14,60)"/><rect x="118.50" y="397.60" width="8.50" height="2.40" fill="rgb(48,46,9)"/><rect x="118.50" y="399.95" width="8.50" height="2.40" fill="rgb(86,84,13)"/><rect x="118.50" y="402.30" width="8.50" height="2.40" fill="rgb(86,84,13)"/><rect x="118.50" y="404.65" width="8.50" height="2.40" fill="rgb(86,84,13)"/><rect x="118.50" y="407.00" width="8.50" height="2.40" fill="rgb(135,132,22)"/><rect x="118.50" y="409.35" width="8.50" height="2.40" fill="rgb(135,132,22)"/><rect x="118.50" y="411.70" width="8.50" height="2.40" fill="rgb(86,84,13)"/><rect x="118.50" y="414.05" width="8.50" height="2.40" fill="rgb(135,132,22)"/><rect x="118.50" y="416.40" width="8.50" height="2.40" fill="rgb(135,132,22)"/><rect x="118.50" y="418.75" width="8.50" height="2.40" fill="rgb(135,132,22)"/><rect x="118.50" y="421.10" width="8.50" height="2.40" fill="rgb(48,46,9)"/><rect x="118.50" y="423.45" width="8.50" height="2.40" fill="rgb(48,46,9)"/><rect x="118.50" y="425.80" width="8.50" height="2.40" fill="rgb(86,84,13)"/><rect x="118.50" y="428.15" width="8.50" height="2.40" fill="rgb(135,132,22)"/><rect x="118.50" y="430.50" width="8.50" height="2.40" fill="rgb(86,84,13)"/><rect x="118.50" y="432.85" width="8.50" height="2.40" fill="rgb(135,132,22)"/><rect x="118.50" y="435.20" width="8.50" height="2.40" fill="rgb(48,46,9)"/><rect x="118.50" y="437.55" width="8.50" height="2.40" fill="rgb(86,84,13)"/><rect x="118.50" y="439.90" width="8.50" height="2.40" fill="rgb(135,132,22)"/><rect x="118.50" y="442.25" width="8.50" height="2.40" fill="rgb(135,132,22)"/><rect x="118.50" y="444.60" width="8.50" height="2.40" fill="rgb(135,132,22)"/><rect x="118.50" y="446.95" width="8.50" height="2.40" fill="rgb(86,84,13)"/><rect x="118.50" y="449.30" width="8.50" height="2.40" fill="rgb(86,84,13)"/><rect x="118.50" y="451.65" width="8.50" height="2.40" fill="rgb(135,132,22)"/><rect x="118.50" y="454.00" width="8.50" height="2.40" fill="rgb(86,84,13)"/><rect x="118.50" y="456.35" width="8.50" height="2.40" fill="rgb(86,84,13)"/><rect x="118.50" y="458.70" width="8.50" height="2.40" fill="rgb(48,46,9)"/><rect x="118.50" y="461.05" width="8.50" height="2.40" fill="rgb(10,8,12)"/><rect x="118.50" y="463.40" width="8.50" height="2.40" fill="rgb(135,132,22)"/><rect x="118.50" y="465.75" width="8.50" height="1.10" fill="rgb(135,132,22)"/><rect x="126.95" y="217.00" width="8.50" height="2.40" fill="rgb(35,23,128)"/><rect x="126.95" y="219.35" width="8.50" height="2.40" fill="rgb(35,23,128)"/><rect x="126.95" y="221.70" width="8.50" height="2.40" fill="rgb(35,23,128)"/><rect x="126.95" y="224.05" width="8.50" height="2.40" fill="rgb(24,14,60)"/><rect x="126.95" y="226.40" width="8.50" height="2.40" fill="rgb(35,23,128)"/><rect x="126.95" y="228.75" width="8.50" height="2.40" fill="rgb(35,23,128)"/><rect x="126.95" y="231.10" width="8.50" height="2.40" fill="rgb(24,14,60)"/><rect x="126.95" y="233.45" width="8.50" height="2.40" fill="rgb(35,23,128)"/><rect x="126.95" y="235.80" width="8.50" height="2.40" fill="rgb(48,46,9)"/><rect x="126.95" y="238.15" width="8.50" height="2.40" fill="rgb(10,8,12)"/><rect x="126.95" y="240.50" width="8.50" height="2.40" fill="rgb(135,132,22)"/><rect x="126.95" y="242.85" width="8.50" height="2.40" fill="rgb(135,132,22)"/><rect x="126.95" y="245.20" width="8.50" height="2.40" fill="rgb(10,8,12)"/><rect x="126.95" y="247.55" width="8.50" height="2.40" fill="rgb(10,8,12)"/><rect x="126.95" y="249.90" width="8.50" height="2.40" fill="rgb(135,132,22)"/><rect x="126.95" y="252.25" width="8.50" height="2.40" fill="rgb(135,132,22)"/><rect x="126.95" y="254.60" width="8.50" height="2.40" fill="rgb(10,8,12)"/><rect x="126.95" y="256.95" width="8.50" height="2.40" fill="rgb(10,8,12)"/><rect x="126.95" y="259.30" width="8.50" height="2.40" fill="rgb(10,8,12)"/><rect x="126.95" y="261.65" width="8.50" height="2.40" fill="rgb(10,8,12)"/><rect x="126.95" y="264.00" width="8.50" height="2.40" fill="rgb(48,46,9)"/><rect x="126.95" y="266.35" width="8.50" height="2.40" fill="rgb(48,46,9)"/><rect x="126.95" y="268.70" width="8.50" height="2.40" fill="rgb(10,8,12)"/><rect x="126.95" y="271.05" width="8.50" height="2.40" fill="rgb(10,8,12)"/><rect x="126.95" y="273.40" width="8.50" height="2.40" fill="rgb(205,205,22)"/><rect x="126.95" y="275.75" width="8.50" height="2.40" fill="rgb(205,205,22)"/><rect x="126.95" y="278.10" width="8.50" height="2.40" fill="rgb(10,8,12)"/><rect x="126.95" y="280.45" width="8.50" height="2.40" fill="rgb(10,8,12)"/><rect x="126.95" y="282.80" width="8.50" height="2.40" fill="rgb(48,46,9)"/><rect x="126.95" y="285.15" width="8.50" height="2.40" fill="rgb(48,46,9)"/><rect x="126.95" y="287.50" width="8.50" height="2.40" fill="rgb(35,23,128)"/><rect x="126.95" y="289.85" width="8.50" height="2.40" fill="rgb(35,23,128)"/><rect x="126.95" y="292.20" width="8.50" height="2.40" fill="rgb(48,46,9)"/><rect x="126.95" y="294.55" width="8.50" height="2.40" fill="rgb(10,8,12)"/><rect x="126.95" y="296.90" width="8.50" height="2.40" fill="rgb(48,46,9)"/><rect x="126.95" y="299.25" width="8.50" height="2.40" fill="rgb(86,84,13)"/><rect x="126.95" y="301.60" width="8.50" height="2.40" fill="rgb(24,14,60)"/><rect x="126.95" y="303.95" width="8.50" height="2.40" fill="rgb(24,14,60)"/><rect x="126.95" y="306.30" width="8.50" height="2.40" fill="rgb(35,23,128)"/><rect x="126.95" y="308.65" width="8.50" height="2.40" fill="rgb(35,23,128)"/><rect x="126.95" y="311.00" width="8.50" height="2.40" fill="rgb(24,14,60)"/><rect x="126.95" y="313.35" width="8.50" height="2.40" fill="rgb(24,14,60)"/><rect x="126.95" y="315.70" width="8.50" height="2.40" fill="rgb(86,84,13)"/><rect x="126.95" y="318.05" width="8.50" height="2.40" fill="rgb(48,46,9)"/><rect x="126.95" y="320.40" width="8.50" height="2.40" fill="rgb(86,84,13)"/><rect x="126.95" y="322.75" width="8.50" height="2.40" fill="rgb(135,132,22)"/><rect x="126.95" y="325.10" width="8.50" height="2.40" fill="rgb(35,23,128)"/><rect x="126.95" y="327.45" width="8.50" height="2.40" fill="rgb(24,14,60)"/><rect x="126.95" y="329.80" width="8.50" height="2.40" fill="rgb(24,14,60)"/><rect x="126.95" y="332.15" width="8.50" height="2.40" fill="rgb(24,14,60)"/><rect x="126.95" y="334.50" width="8.50" height="2.40" fill="rgb(10,8,12)"/><rect x="126.95" y="336.85" width="8.50" height="2.40" fill="rgb(10,8,12)"/><rect x="126.95" y="339.20" width="8.50" height="2.40" fill="rgb(10,8,12)"/><rect x="126.95" y="341.55" width="8.50" height="2.40" fill="rgb(10,8,12)"/><rect x="126.95" y="343.90" width="8.50" height="2.40" fill="rgb(24,14,60)"/><rect x="126.95" y="346.25" width="8.50" height="2.40" fill="rgb(10,8,12)"/><rect x="126.95" y="348.60" width="8.50" height="2.40" fill="rgb(10,8,12)"/><rect x="126.95" y="350.95" width="8.50" height="2.40" fill="rgb(48,46,9)"/><rect x="126.95" y="353.30" width="8.50" height="2.40" fill="rgb(24,14,60)"/><rect x="126.95" y="355.65" width="8.50" height="2.40" fill="rgb(24,14,60)"/><rect x="126.95" y="360.00" width="8.50" height="2.40" fill="rgb(10,8,12)"/><rect x="126.95" y="362.35" width="8.50" height="2.40" fill="rgb(10,8,12)"/><rect x="126.95" y="364.70" width="8.50" height="2.40" fill="rgb(86,84,13)"/><rect x="126.95" y="367.05" width="8.50" height="2.40" fill="rgb(48,46,9)"/><rect x="126.95" y="369.40" width="8.50" height="2.40" fill="rgb(24,14,60)"/><rect x="126.95" y="371.75" width="8.50" height="2.40" fill="rgb(10,8,12)"/><rect x="126.95" y="374.10" width="8.50" height="2.40" fill="rgb(24,14,60)"/><rect x="126.95" y="376.45" width="8.50" height="2.40" fill="rgb(24,14,60)"/><rect x="126.95" y="378.80" width="8.50" height="2.40" fill="rgb(24,14,60)"/><rect x="126.95" y="381.15" width="8.50" height="2.40" fill="rgb(24,14,60)"/><rect x="126.95" y="383.50" width="8.50" height="2.40" fill="rgb(10,8,12)"/><rect x="126.95" y="385.85" width="8.50" height="2.40" fill="rgb(10,8,12)"/><rect x="126.95" y="388.20" width="8.50" height="2.40" fill="rgb(48,46,9)"/><rect x="126.95" y="390.55" width="8.50" height="2.40" fill="rgb(24,14,60)"/><rect x="126.95" y="392.90" width="8.50" height="2.40" fill="rgb(24,14,60)"/><rect x="126.95" y="395.25" width="8.50" height="2.40" fill="rgb(24,14,60)"/><rect x="126.95" y="397.60" width="8.50" height="2.40" fill="rgb(24,14,60)"/><rect x="126.95" y="399.95" width="8.50" height="2.40" fill="rgb(10,8,12)"/><rect x="126.95" y="402.30" width="8.50" height="2.40" fill="rgb(86,84,13)"/><rect x="126.95" y="404.65" width="8.50" height="2.40" fill="rgb(86,84,13)"/><rect x="126.95" y="407.00" width="8.50" height="2.40" fill="rgb(48,46,9)"/><rect x="126.95" y="409.35" width="8.50" height="2.40" fill="rgb(10,8,12)"/><rect x="126.95" y="411.70" width="8.50" height="2.40" fill="rgb(24,14,60)"/><rect x="126.95" y="414.05" width="8.50" height="2.40" fill="rgb(24,14,60)"/><rect x="126.95" y="416.40" width="8.50" height="2.40" fill="rgb(24,14,60)"/><rect x="126.95" y="418.75" width="8.50" height="2.40" fill="rgb(24,14,60)"/><rect x="126.95" y="421.10" width="8.50" height="2.40" fill="rgb(24,14,60)"/><rect x="126.95" y="423.45" width="8.50" height="2.40" fill="rgb(10,8,12)"/><rect x="126.95" y="425.80" width="8.50" height="2.40" fill="rgb(24,14,60)"/><rect x="126.95" y="428.15" width="8.50" height="2.40" fill="rgb(24,14,60)"/><rect x="126.95" y="430.50" width="8.50" height="2.40" fill="rgb(10,8,12)"/><rect x="126.95" y="432.85" width="8.50" height="2.40" fill="rgb(24,14,60)"/><rect x="126.95" y="435.20" width="8.50" height="2.40" fill="rgb(10,8,12)"/><rect x="126.95" y="437.55" width="8.50" height="2.40" fill="rgb(10,8,12)"/><rect x="126.95" y="439.90" width="8.50" height="2.40" fill="rgb(24,14,60)"/><rect x="126.95" y="442.25" width="8.50" height="2.40" fill="rgb(24,14,60)"/><rect x="126.95" y="444.60" width="8.50" height="2.40" fill="rgb(10,8,12)"/><rect x="126.95" y="446.95" width="8.50" height="2.40" fill="rgb(10,8,12)"/><rect x="126.95" y="449.30" width="8.50" height="2.40" fill="rgb(48,46,9)"/><rect x="126.95" y="451.65" width="8.50" height="2.40" fill="rgb(10,8,12)"/><rect x="126.95" y="454.00" width="8.50" height="2.40" fill="rgb(10,8,12)"/><rect x="126.95" y="456.35" width="8.50" height="2.40" fill="rgb(10,8,12)"/><rect x="126.95" y="458.70" width="8.50" height="2.40" fill="rgb(24,14,60)"/><rect x="126.95" y="461.05" width="8.50" height="2.40" fill="rgb(35,23,128)"/><rect x="126.95" y="463.40" width="8.50" height="2.40" fill="rgb(48,46,9)"/><rect x="126.95" y="465.75" width="8.50" height="1.10" fill="rgb(48,46,9)"/><rect x="135.40" y="217.00" width="8.50" height="2.40" fill="rgb(24,14,60)"/><rect x="135.40" y="219.35" width="8.50" height="2.40" fill="rgb(24,14,60)"/><rect x="135.40" y="221.70" width="8.50" height="2.40" fill="rgb(86,84,13)"/><rect x="135.40" y="224.05" width="8.50" height="2.40" fill="rgb(86,84,13)"/><rect x="135.40" y="226.40" width="8.50" height="2.40" fill="rgb(10,8,12)"/><rect x="135.40" y="228.75" width="8.50" height="2.40" fill="rgb(24,14,60)"/><rect x="135.40" y="231.10" width="8.50" height="2.40" fill="rgb(24,14,60)"/><rect x="135.40" y="233.45" width="8.50" height="2.40" fill="rgb(24,14,60)"/><rect x="135.40" y="235.80" width="8.50" height="2.40" fill="rgb(35,23,128)"/><rect x="135.40" y="238.15" width="8.50" height="2.40" fill="rgb(24,14,60)"/><rect x="135.40" y="240.50" width="8.50" height="2.40" fill="rgb(24,14,60)"/><rect x="135.40" y="242.85" width="8.50" height="2.40" fill="rgb(24,14,60)"/><rect x="135.40" y="245.20" width="8.50" height="2.40" fill="rgb(24,14,60)"/><rect x="135.40" y="247.55" width="8.50" height="2.40" fill="rgb(24,14,60)"/><rect x="135.40" y="249.90" width="8.50" height="2.40" fill="rgb(35,23,128)"/><rect x="135.40" y="252.25" width="8.50" height="2.40" fill="rgb(24,14,60)"/><rect x="135.40" y="254.60" width="8.50" height="2.40" fill="rgb(24,14,60)"/><rect x="135.40" y="256.95" width="8.50" height="2.40" fill="rgb(24,14,60)"/><rect x="135.40" y="259.30" width="8.50" height="2.40" fill="rgb(24,14,60)"/><rect x="135.40" y="261.65" width="8.50" height="2.40" fill="rgb(24,14,60)"/><rect x="135.40" y="264.00" width="8.50" height="2.40" fill="rgb(48,46,9)"/><rect x="135.40" y="266.35" width="8.50" height="2.40" fill="rgb(48,46,9)"/><rect x="135.40" y="268.70" width="8.50" height="2.40" fill="rgb(10,8,12)"/><rect x="135.40" y="271.05" width="8.50" height="2.40" fill="rgb(24,14,60)"/><rect x="135.40" y="273.40" width="8.50" height="2.40" fill="rgb(35,23,128)"/><rect x="135.40" y="275.75" width="8.50" height="2.40" fill="rgb(24,14,60)"/><rect x="135.40" y="278.10" width="8.50" height="2.40" fill="rgb(24,14,60)"/><rect x="135.40" y="280.45" width="8.50" height="2.40" fill="rgb(24,14,60)"/><rect x="135.40" y="282.80" width="8.50" height="2.40" fill="rgb(24,14,60)"/><rect x="135.40" y="285.15" width="8.50" height="2.40" fill="rgb(24,14,60)"/><rect x="135.40" y="287.50" width="8.50" height="2.40" fill="rgb(24,14,60)"/><rect x="135.40" y="289.85" width="8.50" height="2.40" fill="rgb(24,14,60)"/><rect x="135.40" y="292.20" width="8.50" height="2.40" fill="rgb(24,14,60)"/><rect x="135.40" y="294.55" width="8.50" height="2.40" fill="rgb(35,23,128)"/><rect x="135.40" y="296.90" width="8.50" height="2.40" fill="rgb(10,8,12)"/><rect x="135.40" y="299.25" width="8.50" height="2.40" fill="rgb(10,8,12)"/><rect x="135.40" y="301.60" width="8.50" height="2.40" fill="rgb(35,23,128)"/><rect x="135.40" y="303.95" width="8.50" height="2.40" fill="rgb(24,14,60)"/><rect x="135.40" y="306.30" width="8.50" height="2.40" fill="rgb(24,14,60)"/><rect x="135.40" y="308.65" width="8.50" height="2.40" fill="rgb(24,14,60)"/><rect x="135.40" y="311.00" width="8.50" height="2.40" fill="rgb(24,14,60)"/><rect x="135.40" y="313.35" width="8.50" height="2.40" fill="rgb(24,14,60)"/><rect x="135.40" y="315.70" width="8.50" height="2.40" fill="rgb(24,14,60)"/><rect x="135.40" y="318.05" width="8.50" height="2.40" fill="rgb(35,23,128)"/><rect x="135.40" y="320.40" width="8.50" height="2.40" fill="rgb(24,14,60)"/><rect x="135.40" y="322.75" width="8.50" height="2.40" fill="rgb(24,14,60)"/><rect x="135.40" y="325.10" width="8.50" height="2.40" fill="rgb(86,84,13)"/><rect x="135.40" y="327.45" width="8.50" height="2.40" fill="rgb(86,84,13)"/><rect x="135.40" y="329.80" width="8.50" height="2.40" fill="rgb(42,30,192)"/><rect x="135.40" y="332.15" width="8.50" height="2.40" fill="rgb(35,23,128)"/><rect x="135.40" y="334.50" width="8.50" height="2.40" fill="rgb(35,23,128)"/><rect x="135.40" y="336.85" width="8.50" height="2.40" fill="rgb(35,23,128)"/><rect x="135.40" y="339.20" width="8.50" height="2.40" fill="rgb(24,14,60)"/><rect x="135.40" y="341.55" width="8.50" height="2.40" fill="rgb(24,14,60)"/><rect x="135.40" y="343.90" width="8.50" height="2.40" fill="rgb(10,8,12)"/><rect x="135.40" y="346.25" width="8.50" height="2.40" fill="rgb(24,14,60)"/><rect x="135.40" y="348.60" width="8.50" height="2.40" fill="rgb(35,23,128)"/><rect x="135.40" y="350.95" width="8.50" height="2.40" fill="rgb(35,23,128)"/><rect x="135.40" y="353.30" width="8.50" height="2.40" fill="rgb(24,14,60)"/><rect x="135.40" y="355.65" width="8.50" height="2.40" fill="rgb(35,23,128)"/><rect x="135.40" y="360.00" width="8.50" height="2.40" fill="rgb(48,46,9)"/><rect x="135.40" y="362.35" width="8.50" height="2.40" fill="rgb(10,8,12)"/><rect x="135.40" y="364.70" width="8.50" height="2.40" fill="rgb(35,23,128)"/><rect x="135.40" y="367.05" width="8.50" height="2.40" fill="rgb(24,14,60)"/><rect x="135.40" y="369.40" width="8.50" height="2.40" fill="rgb(135,132,22)"/><rect x="135.40" y="371.75" width="8.50" height="2.40" fill="rgb(135,132,22)"/><rect x="135.40" y="374.10" width="8.50" height="2.40" fill="rgb(86,84,13)"/><rect x="135.40" y="376.45" width="8.50" height="2.40" fill="rgb(86,84,13)"/><rect x="135.40" y="378.80" width="8.50" height="2.40" fill="rgb(86,84,13)"/><rect x="135.40" y="381.15" width="8.50" height="2.40" fill="rgb(86,84,13)"/><rect x="135.40" y="383.50" width="8.50" height="2.40" fill="rgb(135,132,22)"/><rect x="135.40" y="385.85" width="8.50" height="2.40" fill="rgb(135,132,22)"/><rect x="135.40" y="388.20" width="8.50" height="2.40" fill="rgb(135,132,22)"/><rect x="135.40" y="390.55" width="8.50" height="2.40" fill="rgb(86,84,13)"/><rect x="135.40" y="392.90" width="8.50" height="2.40" fill="rgb(86,84,13)"/><rect x="135.40" y="395.25" width="8.50" height="2.40" fill="rgb(135,132,22)"/><rect x="135.40" y="397.60" width="8.50" height="2.40" fill="rgb(10,8,12)"/><rect x="135.40" y="399.95" width="8.50" height="2.40" fill="rgb(48,46,9)"/><rect x="135.40" y="402.30" width="8.50" height="2.40" fill="rgb(48,46,9)"/><rect x="135.40" y="404.65" width="8.50" height="2.40" fill="rgb(48,46,9)"/><rect x="135.40" y="407.00" width="8.50" height="2.40" fill="rgb(86,84,13)"/><rect x="135.40" y="409.35" width="8.50" height="2.40" fill="rgb(135,132,22)"/><rect x="135.40" y="411.70" width="8.50" height="2.40" fill="rgb(135,132,22)"/><rect x="135.40" y="414.05" width="8.50" height="2.40" fill="rgb(86,84,13)"/><rect x="135.40" y="416.40" width="8.50" height="2.40" fill="rgb(10,8,12)"/><rect x="135.40" y="418.75" width="8.50" height="2.40" fill="rgb(10,8,12)"/><rect x="135.40" y="421.10" width="8.50" height="2.40" fill="rgb(48,46,9)"/><rect x="135.40" y="423.45" width="8.50" height="2.40" fill="rgb(10,8,12)"/><rect x="135.40" y="425.80" width="8.50" height="2.40" fill="rgb(10,8,12)"/><rect x="135.40" y="428.15" width="8.50" height="2.40" fill="rgb(10,8,12)"/><rect x="135.40" y="430.50" width="8.50" height="2.40" fill="rgb(48,46,9)"/><rect x="135.40" y="432.85" width="8.50" height="2.40" fill="rgb(48,46,9)"/><rect x="135.40" y="435.20" width="8.50" height="2.40" fill="rgb(86,84,13)"/><rect x="135.40" y="437.55" width="8.50" height="2.40" fill="rgb(86,84,13)"/><rect x="135.40" y="439.90" width="8.50" height="2.40" fill="rgb(135,132,22)"/><rect x="135.40" y="442.25" width="8.50" height="2.40" fill="rgb(135,132,22)"/><rect x="135.40" y="444.60" width="8.50" height="2.40" fill="rgb(135,132,22)"/><rect x="135.40" y="446.95" width="8.50" height="2.40" fill="rgb(86,84,13)"/><rect x="135.40" y="449.30" width="8.50" height="2.40" fill="rgb(48,46,9)"/><rect x="135.40" y="451.65" width="8.50" height="2.40" fill="rgb(48,46,9)"/><rect x="135.40" y="454.00" width="8.50" height="2.40" fill="rgb(135,132,22)"/><rect x="135.40" y="456.35" width="8.50" height="2.40" fill="rgb(135,132,22)"/><rect x="135.40" y="458.70" width="8.50" height="2.40" fill="rgb(86,84,13)"/><rect x="135.40" y="461.05" width="8.50" height="2.40" fill="rgb(135,132,22)"/><rect x="135.40" y="463.40" width="8.50" height="2.40" fill="rgb(48,46,9)"/><rect x="135.40" y="465.75" width="8.50" height="1.10" fill="rgb(48,46,9)"/><rect x="143.85" y="217.00" width="8.50" height="2.40" fill="rgb(24,14,60)"/><rect x="143.85" y="219.35" width="8.50" height="2.40" fill="rgb(24,14,60)"/><rect x="143.85" y="221.70" width="8.50" height="2.40" fill="rgb(10,8,12)"/><rect x="143.85" y="224.05" width="8.50" height="2.40" fill="rgb(10,8,12)"/><rect x="143.85" y="226.40" width="8.50" height="2.40" fill="rgb(35,23,128)"/><rect x="143.85" y="228.75" width="8.50" height="2.40" fill="rgb(35,23,128)"/><rect x="143.85" y="231.10" width="8.50" height="2.40" fill="rgb(24,14,60)"/><rect x="143.85" y="233.45" width="8.50" height="2.40" fill="rgb(24,14,60)"/><rect x="143.85" y="235.80" width="8.50" height="2.40" fill="rgb(24,14,60)"/><rect x="143.85" y="238.15" width="8.50" height="2.40" fill="rgb(24,14,60)"/><rect x="143.85" y="240.50" width="8.50" height="2.40" fill="rgb(24,14,60)"/><rect x="143.85" y="242.85" width="8.50" height="2.40" fill="rgb(24,14,60)"/><rect x="143.85" y="245.20" width="8.50" height="2.40" fill="rgb(10,8,12)"/><rect x="143.85" y="247.55" width="8.50" height="2.40" fill="rgb(10,8,12)"/><rect x="143.85" y="249.90" width="8.50" height="2.40" fill="rgb(35,23,128)"/><rect x="143.85" y="252.25" width="8.50" height="2.40" fill="rgb(24,14,60)"/><rect x="143.85" y="254.60" width="8.50" height="2.40" fill="rgb(24,14,60)"/><rect x="143.85" y="256.95" width="8.50" height="2.40" fill="rgb(24,14,60)"/><rect x="143.85" y="259.30" width="8.50" height="2.40" fill="rgb(24,14,60)"/><rect x="143.85" y="261.65" width="8.50" height="2.40" fill="rgb(24,14,60)"/><rect x="143.85" y="264.00" width="8.50" height="2.40" fill="rgb(24,14,60)"/><rect x="143.85" y="266.35" width="8.50" height="2.40" fill="rgb(24,14,60)"/><rect x="143.85" y="268.70" width="8.50" height="2.40" fill="rgb(35,23,128)"/><rect x="143.85" y="271.05" width="8.50" height="2.40" fill="rgb(35,23,128)"/><rect x="143.85" y="273.40" width="8.50" height="2.40" fill="rgb(24,14,60)"/><rect x="143.85" y="275.75" width="8.50" height="2.40" fill="rgb(35,23,128)"/><rect x="143.85" y="278.10" width="8.50" height="2.40" fill="rgb(24,14,60)"/><rect x="143.85" y="280.45" width="8.50" height="2.40" fill="rgb(24,14,60)"/><rect x="143.85" y="282.80" width="8.50" height="2.40" fill="rgb(10,8,12)"/><rect x="143.85" y="285.15" width="8.50" height="2.40" fill="rgb(10,8,12)"/><rect x="143.85" y="287.50" width="8.50" height="2.40" fill="rgb(35,23,128)"/><rect x="143.85" y="289.85" width="8.50" height="2.40" fill="rgb(35,23,128)"/><rect x="143.85" y="292.20" width="8.50" height="2.40" fill="rgb(35,23,128)"/><rect x="143.85" y="294.55" width="8.50" height="2.40" fill="rgb(35,23,128)"/><rect x="143.85" y="296.90" width="8.50" height="2.40" fill="rgb(35,23,128)"/><rect x="143.85" y="299.25" width="8.50" height="2.40" fill="rgb(35,23,128)"/><rect x="143.85" y="301.60" width="8.50" height="2.40" fill="rgb(24,14,60)"/><rect x="143.85" y="303.95" width="8.50" height="2.40" fill="rgb(35,23,128)"/><rect x="143.85" y="306.30" width="8.50" height="2.40" fill="rgb(24,14,60)"/><rect x="143.85" y="308.65" width="8.50" height="2.40" fill="rgb(10,8,12)"/><rect x="143.85" y="311.00" width="8.50" height="2.40" fill="rgb(48,46,9)"/><rect x="143.85" y="313.35" width="8.50" height="2.40" fill="rgb(48,46,9)"/><rect x="143.85" y="315.70" width="8.50" height="2.40" fill="rgb(10,8,12)"/><rect x="143.85" y="318.05" width="8.50" height="2.40" fill="rgb(24,14,60)"/><rect x="143.85" y="320.40" width="8.50" height="2.40" fill="rgb(10,8,12)"/><rect x="143.85" y="322.75" width="8.50" height="2.40" fill="rgb(10,8,12)"/><rect x="143.85" y="325.10" width="8.50" height="2.40" fill="rgb(35,23,128)"/><rect x="143.85" y="327.45" width="8.50" height="2.40" fill="rgb(24,14,60)"/><rect x="143.85" y="329.80" width="8.50" height="2.40" fill="rgb(24,14,60)"/><rect x="143.85" y="332.15" width="8.50" height="2.40" fill="rgb(24,14,60)"/><rect x="143.85" y="334.50" width="8.50" height="2.40" fill="rgb(48,46,9)"/><rect x="143.85" y="336.85" width="8.50" height="2.40" fill="rgb(48,46,9)"/><rect x="143.85" y="339.20" width="8.50" height="2.40" fill="rgb(35,23,128)"/><rect x="143.85" y="341.55" width="8.50" height="2.40" fill="rgb(24,14,60)"/><rect x="143.85" y="343.90" width="8.50" height="2.40" fill="rgb(24,14,60)"/><rect x="143.85" y="346.25" width="8.50" height="2.40" fill="rgb(35,23,128)"/><rect x="143.85" y="348.60" width="8.50" height="2.40" fill="rgb(24,14,60)"/><rect x="143.85" y="350.95" width="8.50" height="2.40" fill="rgb(24,14,60)"/><rect x="143.85" y="353.30" width="8.50" height="2.40" fill="rgb(24,14,60)"/><rect x="143.85" y="355.65" width="8.50" height="2.40" fill="rgb(35,23,128)"/><rect x="143.85" y="360.00" width="8.50" height="2.40" fill="rgb(135,132,22)"/><rect x="143.85" y="362.35" width="8.50" height="2.40" fill="rgb(86,84,13)"/><rect x="143.85" y="364.70" width="8.50" height="2.40" fill="rgb(10,8,12)"/><rect x="143.85" y="367.05" width="8.50" height="2.40" fill="rgb(48,46,9)"/><rect x="143.85" y="369.40" width="8.50" height="2.40" fill="rgb(135,132,22)"/><rect x="143.85" y="371.75" width="8.50" height="2.40" fill="rgb(135,132,22)"/><rect x="143.85" y="374.10" width="8.50" height="2.40" fill="rgb(135,132,22)"/><rect x="143.85" y="376.45" width="8.50" height="2.40" fill="rgb(135,132,22)"/><rect x="143.85" y="378.80" width="8.50" height="2.40" fill="rgb(86,84,13)"/><rect x="143.85" y="381.15" width="8.50" height="2.40" fill="rgb(86,84,13)"/><rect x="143.85" y="383.50" width="8.50" height="2.40" fill="rgb(48,46,9)"/><rect x="143.85" y="385.85" width="8.50" height="2.40" fill="rgb(48,46,9)"/><rect x="143.85" y="388.20" width="8.50" height="2.40" fill="rgb(86,84,13)"/><rect x="143.85" y="390.55" width="8.50" height="2.40" fill="rgb(135,132,22)"/><rect x="143.85" y="392.90" width="8.50" height="2.40" fill="rgb(135,132,22)"/><rect x="143.85" y="395.25" width="8.50" height="2.40" fill="rgb(135,132,22)"/><rect x="143.85" y="397.60" width="8.50" height="2.40" fill="rgb(10,8,12)"/><rect x="143.85" y="399.95" width="8.50" height="2.40" fill="rgb(86,84,13)"/><rect x="143.85" y="402.30" width="8.50" height="2.40" fill="rgb(10,8,12)"/><rect x="143.85" y="404.65" width="8.50" height="2.40" fill="rgb(10,8,12)"/><rect x="143.85" y="407.00" width="8.50" height="2.40" fill="rgb(86,84,13)"/><rect x="143.85" y="409.35" width="8.50" height="2.40" fill="rgb(86,84,13)"/><rect x="143.85" y="411.70" width="8.50" height="2.40" fill="rgb(86,84,13)"/><rect x="143.85" y="414.05" width="8.50" height="2.40" fill="rgb(48,46,9)"/><rect x="143.85" y="416.40" width="8.50" height="2.40" fill="rgb(10,8,12)"/><rect x="143.85" y="418.75" width="8.50" height="2.40" fill="rgb(24,14,60)"/><rect x="143.85" y="421.10" width="8.50" height="2.40" fill="rgb(86,84,13)"/><rect x="143.85" y="423.45" width="8.50" height="2.40" fill="rgb(86,84,13)"/><rect x="143.85" y="425.80" width="8.50" height="2.40" fill="rgb(205,205,22)"/><rect x="143.85" y="428.15" width="8.50" height="2.40" fill="rgb(135,132,22)"/><rect x="143.85" y="430.50" width="8.50" height="2.40" fill="rgb(86,84,13)"/><rect x="143.85" y="432.85" width="8.50" height="2.40" fill="rgb(86,84,13)"/><rect x="143.85" y="435.20" width="8.50" height="2.40" fill="rgb(48,46,9)"/><rect x="143.85" y="437.55" width="8.50" height="2.40" fill="rgb(48,46,9)"/><rect x="143.85" y="439.90" width="8.50" height="2.40" fill="rgb(86,84,13)"/><rect x="143.85" y="442.25" width="8.50" height="2.40" fill="rgb(86,84,13)"/><rect x="143.85" y="444.60" width="8.50" height="2.40" fill="rgb(48,46,9)"/><rect x="143.85" y="446.95" width="8.50" height="2.40" fill="rgb(10,8,12)"/><rect x="143.85" y="449.30" width="8.50" height="2.40" fill="rgb(10,8,12)"/><rect x="143.85" y="451.65" width="8.50" height="2.40" fill="rgb(48,46,9)"/><rect x="143.85" y="454.00" width="8.50" height="2.40" fill="rgb(24,14,60)"/><rect x="143.85" y="456.35" width="8.50" height="2.40" fill="rgb(10,8,12)"/><rect x="143.85" y="458.70" width="8.50" height="2.40" fill="rgb(10,8,12)"/><rect x="143.85" y="461.05" width="8.50" height="2.40" fill="rgb(10,8,12)"/><rect x="143.85" y="463.40" width="8.50" height="2.40" fill="rgb(48,46,9)"/><rect x="143.85" y="465.75" width="8.50" height="1.10" fill="rgb(86,84,13)"/><rect x="152.30" y="217.00" width="8.50" height="2.40" fill="rgb(24,14,60)"/><rect x="152.30" y="219.35" width="8.50" height="2.40" fill="rgb(35,23,128)"/><rect x="152.30" y="221.70" width="8.50" height="2.40" fill="rgb(35,23,128)"/><rect x="152.30" y="224.05" width="8.50" height="2.40" fill="rgb(35,23,128)"/><rect x="152.30" y="226.40" width="8.50" height="2.40" fill="rgb(24,14,60)"/><rect x="152.30" y="228.75" width="8.50" height="2.40" fill="rgb(35,23,128)"/><rect x="152.30" y="231.10" width="8.50" height="2.40" fill="rgb(35,23,128)"/><rect x="152.30" y="233.45" width="8.50" height="2.40" fill="rgb(24,14,60)"/><rect x="152.30" y="235.80" width="8.50" height="2.40" fill="rgb(35,23,128)"/><rect x="152.30" y="238.15" width="8.50" height="2.40" fill="rgb(35,23,128)"/><rect x="152.30" y="240.50" width="8.50" height="2.40" fill="rgb(35,23,128)"/><rect x="152.30" y="242.85" width="8.50" height="2.40" fill="rgb(42,30,192)"/><rect x="152.30" y="245.20" width="8.50" height="2.40" fill="rgb(42,30,192)"/><rect x="152.30" y="247.55" width="8.50" height="2.40" fill="rgb(42,30,192)"/><rect x="152.30" y="249.90" width="8.50" height="2.40" fill="rgb(35,23,128)"/><rect x="152.30" y="252.25" width="8.50" height="2.40" fill="rgb(24,14,60)"/><rect x="152.30" y="254.60" width="8.50" height="2.40" fill="rgb(42,30,192)"/><rect x="152.30" y="256.95" width="8.50" height="2.40" fill="rgb(42,30,192)"/><rect x="152.30" y="259.30" width="8.50" height="2.40" fill="rgb(42,30,192)"/><rect x="152.30" y="261.65" width="8.50" height="2.40" fill="rgb(42,30,192)"/><rect x="152.30" y="264.00" width="8.50" height="2.40" fill="rgb(35,23,128)"/><rect x="152.30" y="266.35" width="8.50" height="2.40" fill="rgb(42,30,192)"/><rect x="152.30" y="268.70" width="8.50" height="2.40" fill="rgb(42,30,192)"/><rect x="152.30" y="271.05" width="8.50" height="2.40" fill="rgb(42,30,192)"/><rect x="152.30" y="273.40" width="8.50" height="2.40" fill="rgb(35,23,128)"/><rect x="152.30" y="275.75" width="8.50" height="2.40" fill="rgb(42,30,192)"/><rect x="152.30" y="278.10" width="8.50" height="2.40" fill="rgb(35,23,128)"/><rect x="152.30" y="280.45" width="8.50" height="2.40" fill="rgb(24,14,60)"/><rect x="152.30" y="282.80" width="8.50" height="2.40" fill="rgb(42,30,192)"/><rect x="152.30" y="285.15" width="8.50" height="2.40" fill="rgb(42,30,192)"/><rect x="152.30" y="287.50" width="8.50" height="2.40" fill="rgb(42,30,192)"/><rect x="152.30" y="289.85" width="8.50" height="2.40" fill="rgb(42,30,192)"/><rect x="152.30" y="292.20" width="8.50" height="2.40" fill="rgb(35,23,128)"/><rect x="152.30" y="294.55" width="8.50" height="2.40" fill="rgb(35,23,128)"/><rect x="152.30" y="296.90" width="8.50" height="2.40" fill="rgb(35,23,128)"/><rect x="152.30" y="299.25" width="8.50" height="2.40" fill="rgb(35,23,128)"/><rect x="152.30" y="301.60" width="8.50" height="2.40" fill="rgb(42,30,192)"/><rect x="152.30" y="303.95" width="8.50" height="2.40" fill="rgb(35,23,128)"/><rect x="152.30" y="306.30" width="8.50" height="2.40" fill="rgb(42,30,192)"/><rect x="152.30" y="308.65" width="8.50" height="2.40" fill="rgb(42,30,192)"/><rect x="152.30" y="311.00" width="8.50" height="2.40" fill="rgb(42,30,192)"/><rect x="152.30" y="313.35" width="8.50" height="2.40" fill="rgb(42,30,192)"/><rect x="152.30" y="315.70" width="8.50" height="2.40" fill="rgb(42,30,192)"/><rect x="152.30" y="318.05" width="8.50" height="2.40" fill="rgb(42,30,192)"/><rect x="152.30" y="320.40" width="8.50" height="2.40" fill="rgb(42,30,192)"/><rect x="152.30" y="322.75" width="8.50" height="2.40" fill="rgb(42,30,192)"/><rect x="152.30" y="325.10" width="8.50" height="2.40" fill="rgb(35,23,128)"/><rect x="152.30" y="327.45" width="8.50" height="2.40" fill="rgb(35,23,128)"/><rect x="152.30" y="329.80" width="8.50" height="2.40" fill="rgb(42,30,192)"/><rect x="152.30" y="332.15" width="8.50" height="2.40" fill="rgb(42,30,192)"/><rect x="152.30" y="334.50" width="8.50" height="2.40" fill="rgb(42,30,192)"/><rect x="152.30" y="336.85" width="8.50" height="2.40" fill="rgb(42,30,192)"/><rect x="152.30" y="339.20" width="8.50" height="2.40" fill="rgb(42,30,192)"/><rect x="152.30" y="341.55" width="8.50" height="2.40" fill="rgb(42,30,192)"/><rect x="152.30" y="343.90" width="8.50" height="2.40" fill="rgb(35,23,128)"/><rect x="152.30" y="346.25" width="8.50" height="2.40" fill="rgb(42,30,192)"/><rect x="152.30" y="348.60" width="8.50" height="2.40" fill="rgb(35,23,128)"/><rect x="152.30" y="350.95" width="8.50" height="2.40" fill="rgb(35,23,128)"/><rect x="152.30" y="353.30" width="8.50" height="2.40" fill="rgb(35,23,128)"/><rect x="152.30" y="355.65" width="8.50" height="2.40" fill="rgb(35,23,128)"/><rect x="152.30" y="360.00" width="8.50" height="2.40" fill="rgb(135,132,22)"/><rect x="152.30" y="362.35" width="8.50" height="2.40" fill="rgb(135,132,22)"/><rect x="152.30" y="364.70" width="8.50" height="2.40" fill="rgb(48,46,9)"/><rect x="152.30" y="367.05" width="8.50" height="2.40" fill="rgb(48,46,9)"/><rect x="152.30" y="369.40" width="8.50" height="2.40" fill="rgb(86,84,13)"/><rect x="152.30" y="371.75" width="8.50" height="2.40" fill="rgb(135,132,22)"/><rect x="152.30" y="374.10" width="8.50" height="2.40" fill="rgb(205,205,22)"/><rect x="152.30" y="376.45" width="8.50" height="2.40" fill="rgb(205,205,22)"/><rect x="152.30" y="378.80" width="8.50" height="2.40" fill="rgb(205,205,22)"/><rect x="152.30" y="381.15" width="8.50" height="2.40" fill="rgb(135,132,22)"/><rect x="152.30" y="383.50" width="8.50" height="2.40" fill="rgb(135,132,22)"/><rect x="152.30" y="385.85" width="8.50" height="2.40" fill="rgb(135,132,22)"/><rect x="152.30" y="388.20" width="8.50" height="2.40" fill="rgb(135,132,22)"/><rect x="152.30" y="390.55" width="8.50" height="2.40" fill="rgb(135,132,22)"/><rect x="152.30" y="392.90" width="8.50" height="2.40" fill="rgb(205,205,22)"/><rect x="152.30" y="395.25" width="8.50" height="2.40" fill="rgb(205,205,22)"/><rect x="152.30" y="397.60" width="8.50" height="2.40" fill="rgb(205,205,22)"/><rect x="152.30" y="399.95" width="8.50" height="2.40" fill="rgb(205,205,22)"/><rect x="152.30" y="402.30" width="8.50" height="2.40" fill="rgb(135,132,22)"/><rect x="152.30" y="404.65" width="8.50" height="2.40" fill="rgb(135,132,22)"/><rect x="152.30" y="407.00" width="8.50" height="2.40" fill="rgb(86,84,13)"/><rect x="152.30" y="409.35" width="8.50" height="2.40" fill="rgb(135,132,22)"/><rect x="152.30" y="411.70" width="8.50" height="2.40" fill="rgb(205,205,22)"/><rect x="152.30" y="414.05" width="8.50" height="2.40" fill="rgb(205,205,22)"/><rect x="152.30" y="416.40" width="8.50" height="2.40" fill="rgb(205,205,22)"/><rect x="152.30" y="418.75" width="8.50" height="2.40" fill="rgb(205,205,22)"/><rect x="152.30" y="421.10" width="8.50" height="2.40" fill="rgb(135,132,22)"/><rect x="152.30" y="423.45" width="8.50" height="2.40" fill="rgb(135,132,22)"/><rect x="152.30" y="425.80" width="8.50" height="2.40" fill="rgb(86,84,13)"/><rect x="152.30" y="428.15" width="8.50" height="2.40" fill="rgb(48,46,9)"/><rect x="152.30" y="430.50" width="8.50" height="2.40" fill="rgb(135,132,22)"/><rect x="152.30" y="432.85" width="8.50" height="2.40" fill="rgb(86,84,13)"/><rect x="152.30" y="435.20" width="8.50" height="2.40" fill="rgb(86,84,13)"/><rect x="152.30" y="437.55" width="8.50" height="2.40" fill="rgb(86,84,13)"/><rect x="152.30" y="439.90" width="8.50" height="2.40" fill="rgb(135,132,22)"/><rect x="152.30" y="442.25" width="8.50" height="2.40" fill="rgb(205,205,22)"/><rect x="152.30" y="444.60" width="8.50" height="2.40" fill="rgb(135,132,22)"/><rect x="152.30" y="446.95" width="8.50" height="2.40" fill="rgb(135,132,22)"/><rect x="152.30" y="449.30" width="8.50" height="2.40" fill="rgb(205,205,22)"/><rect x="152.30" y="451.65" width="8.50" height="2.40" fill="rgb(205,205,22)"/><rect x="152.30" y="454.00" width="8.50" height="2.40" fill="rgb(205,205,22)"/><rect x="152.30" y="456.35" width="8.50" height="2.40" fill="rgb(205,205,22)"/><rect x="152.30" y="458.70" width="8.50" height="2.40" fill="rgb(205,205,22)"/><rect x="152.30" y="461.05" width="8.50" height="2.40" fill="rgb(205,205,22)"/><rect x="152.30" y="463.40" width="8.50" height="2.40" fill="rgb(135,132,22)"/><rect x="152.30" y="465.75" width="8.50" height="1.10" fill="rgb(135,132,22)"/><rect x="160.75" y="217.00" width="8.50" height="2.40" fill="rgb(24,14,60)"/><rect x="160.75" y="219.35" width="8.50" height="2.40" fill="rgb(35,23,128)"/><rect x="160.75" y="221.70" width="8.50" height="2.40" fill="rgb(42,30,192)"/><rect x="160.75" y="224.05" width="8.50" height="2.40" fill="rgb(42,30,192)"/><rect x="160.75" y="226.40" width="8.50" height="2.40" fill="rgb(42,30,192)"/><rect x="160.75" y="228.75" width="8.50" height="2.40" fill="rgb(42,30,192)"/><rect x="160.75" y="231.10" width="8.50" height="2.40" fill="rgb(35,23,128)"/><rect x="160.75" y="233.45" width="8.50" height="2.40" fill="rgb(42,30,192)"/><rect x="160.75" y="235.80" width="8.50" height="2.40" fill="rgb(35,23,128)"/><rect x="160.75" y="238.15" width="8.50" height="2.40" fill="rgb(42,30,192)"/><rect x="160.75" y="240.50" width="8.50" height="2.40" fill="rgb(24,14,60)"/><rect x="160.75" y="242.85" width="8.50" height="2.40" fill="rgb(35,23,128)"/><rect x="160.75" y="245.20" width="8.50" height="2.40" fill="rgb(35,23,128)"/><rect x="160.75" y="247.55" width="8.50" height="2.40" fill="rgb(35,23,128)"/><rect x="160.75" y="249.90" width="8.50" height="2.40" fill="rgb(35,23,128)"/><rect x="160.75" y="252.25" width="8.50" height="2.40" fill="rgb(24,14,60)"/><rect x="160.75" y="254.60" width="8.50" height="2.40" fill="rgb(10,8,12)"/><rect x="160.75" y="256.95" width="8.50" height="2.40" fill="rgb(24,14,60)"/><rect x="160.75" y="259.30" width="8.50" height="2.40" fill="rgb(24,14,60)"/><rect x="160.75" y="261.65" width="8.50" height="2.40" fill="rgb(35,23,128)"/><rect x="160.75" y="264.00" width="8.50" height="2.40" fill="rgb(42,30,192)"/><rect x="160.75" y="266.35" width="8.50" height="2.40" fill="rgb(42,30,192)"/><rect x="160.75" y="268.70" width="8.50" height="2.40" fill="rgb(42,30,192)"/><rect x="160.75" y="271.05" width="8.50" height="2.40" fill="rgb(42,30,192)"/><rect x="160.75" y="273.40" width="8.50" height="2.40" fill="rgb(42,30,192)"/><rect x="160.75" y="275.75" width="8.50" height="2.40" fill="rgb(42,30,192)"/><rect x="160.75" y="278.10" width="8.50" height="2.40" fill="rgb(35,23,128)"/><rect x="160.75" y="280.45" width="8.50" height="2.40" fill="rgb(35,23,128)"/><rect x="160.75" y="282.80" width="8.50" height="2.40" fill="rgb(42,30,192)"/><rect x="160.75" y="285.15" width="8.50" height="2.40" fill="rgb(42,30,192)"/><rect x="160.75" y="287.50" width="8.50" height="2.40" fill="rgb(35,23,128)"/><rect x="160.75" y="289.85" width="8.50" height="2.40" fill="rgb(35,23,128)"/><rect x="160.75" y="292.20" width="8.50" height="2.40" fill="rgb(24,14,60)"/><rect x="160.75" y="294.55" width="8.50" height="2.40" fill="rgb(35,23,128)"/><rect x="160.75" y="296.90" width="8.50" height="2.40" fill="rgb(35,23,128)"/><rect x="160.75" y="299.25" width="8.50" height="2.40" fill="rgb(24,14,60)"/><rect x="160.75" y="301.60" width="8.50" height="2.40" fill="rgb(35,23,128)"/><rect x="160.75" y="303.95" width="8.50" height="2.40" fill="rgb(35,23,128)"/><rect x="160.75" y="306.30" width="8.50" height="2.40" fill="rgb(24,14,60)"/><rect x="160.75" y="308.65" width="8.50" height="2.40" fill="rgb(35,23,128)"/><rect x="160.75" y="311.00" width="8.50" height="2.40" fill="rgb(24,14,60)"/><rect x="160.75" y="313.35" width="8.50" height="2.40" fill="rgb(35,23,128)"/><rect x="160.75" y="315.70" width="8.50" height="2.40" fill="rgb(24,14,60)"/><rect x="160.75" y="318.05" width="8.50" height="2.40" fill="rgb(24,14,60)"/><rect x="160.75" y="320.40" width="8.50" height="2.40" fill="rgb(10,8,12)"/><rect x="160.75" y="322.75" width="8.50" height="2.40" fill="rgb(24,14,60)"/><rect x="160.75" y="325.10" width="8.50" height="2.40" fill="rgb(35,23,128)"/><rect x="160.75" y="327.45" width="8.50" height="2.40" fill="rgb(35,23,128)"/><rect x="160.75" y="329.80" width="8.50" height="2.40" fill="rgb(24,14,60)"/><rect x="160.75" y="332.15" width="8.50" height="2.40" fill="rgb(35,23,128)"/><rect x="160.75" y="334.50" width="8.50" height="2.40" fill="rgb(35,23,128)"/><rect x="160.75" y="336.85" width="8.50" height="2.40" fill="rgb(35,23,128)"/><rect x="160.75" y="339.20" width="8.50" height="2.40" fill="rgb(10,8,12)"/><rect x="160.75" y="341.55" width="8.50" height="2.40" fill="rgb(10,8,12)"/><rect x="160.75" y="343.90" width="8.50" height="2.40" fill="rgb(35,23,128)"/><rect x="160.75" y="346.25" width="8.50" height="2.40" fill="rgb(35,23,128)"/><rect x="160.75" y="348.60" width="8.50" height="2.40" fill="rgb(42,30,192)"/><rect x="160.75" y="350.95" width="8.50" height="2.40" fill="rgb(42,30,192)"/><rect x="160.75" y="353.30" width="8.50" height="2.40" fill="rgb(42,30,192)"/><rect x="160.75" y="355.65" width="8.50" height="2.40" fill="rgb(42,30,192)"/><rect x="160.75" y="360.00" width="8.50" height="2.40" fill="rgb(86,84,13)"/><rect x="160.75" y="362.35" width="8.50" height="2.40" fill="rgb(86,84,13)"/><rect x="160.75" y="364.70" width="8.50" height="2.40" fill="rgb(205,205,22)"/><rect x="160.75" y="367.05" width="8.50" height="2.40" fill="rgb(205,205,22)"/><rect x="160.75" y="369.40" width="8.50" height="2.40" fill="rgb(135,132,22)"/><rect x="160.75" y="371.75" width="8.50" height="2.40" fill="rgb(135,132,22)"/><rect x="160.75" y="374.10" width="8.50" height="2.40" fill="rgb(135,132,22)"/><rect x="160.75" y="376.45" width="8.50" height="2.40" fill="rgb(135,132,22)"/><rect x="160.75" y="378.80" width="8.50" height="2.40" fill="rgb(205,205,22)"/><rect x="160.75" y="381.15" width="8.50" height="2.40" fill="rgb(205,205,22)"/><rect x="160.75" y="383.50" width="8.50" height="2.40" fill="rgb(205,205,22)"/><rect x="160.75" y="385.85" width="8.50" height="2.40" fill="rgb(205,205,22)"/><rect x="160.75" y="388.20" width="8.50" height="2.40" fill="rgb(86,84,13)"/><rect x="160.75" y="390.55" width="8.50" height="2.40" fill="rgb(86,84,13)"/><rect x="160.75" y="392.90" width="8.50" height="2.40" fill="rgb(48,46,9)"/><rect x="160.75" y="395.25" width="8.50" height="2.40" fill="rgb(48,46,9)"/><rect x="160.75" y="397.60" width="8.50" height="2.40" fill="rgb(135,132,22)"/><rect x="160.75" y="399.95" width="8.50" height="2.40" fill="rgb(135,132,22)"/><rect x="160.75" y="402.30" width="8.50" height="2.40" fill="rgb(135,132,22)"/><rect x="160.75" y="404.65" width="8.50" height="2.40" fill="rgb(135,132,22)"/><rect x="160.75" y="407.00" width="8.50" height="2.40" fill="rgb(135,132,22)"/><rect x="160.75" y="409.35" width="8.50" height="2.40" fill="rgb(86,84,13)"/><rect x="160.75" y="411.70" width="8.50" height="2.40" fill="rgb(48,46,9)"/><rect x="160.75" y="414.05" width="8.50" height="2.40" fill="rgb(86,84,13)"/><rect x="160.75" y="416.40" width="8.50" height="2.40" fill="rgb(135,132,22)"/><rect x="160.75" y="418.75" width="8.50" height="2.40" fill="rgb(135,132,22)"/><rect x="160.75" y="421.10" width="8.50" height="2.40" fill="rgb(86,84,13)"/><rect x="160.75" y="423.45" width="8.50" height="2.40" fill="rgb(48,46,9)"/><rect x="160.75" y="425.80" width="8.50" height="2.40" fill="rgb(135,132,22)"/><rect x="160.75" y="428.15" width="8.50" height="2.40" fill="rgb(135,132,22)"/><rect x="160.75" y="430.50" width="8.50" height="2.40" fill="rgb(48,46,9)"/><rect x="160.75" y="432.85" width="8.50" height="2.40" fill="rgb(86,84,13)"/><rect x="160.75" y="435.20" width="8.50" height="2.40" fill="rgb(86,84,13)"/><rect x="160.75" y="437.55" width="8.50" height="2.40" fill="rgb(86,84,13)"/><rect x="160.75" y="439.90" width="8.50" height="2.40" fill="rgb(48,46,9)"/><rect x="160.75" y="442.25" width="8.50" height="2.40" fill="rgb(10,8,12)"/><rect x="160.75" y="444.60" width="8.50" height="2.40" fill="rgb(135,132,22)"/><rect x="160.75" y="446.95" width="8.50" height="2.40" fill="rgb(135,132,22)"/><rect x="160.75" y="449.30" width="8.50" height="2.40" fill="rgb(135,132,22)"/><rect x="160.75" y="451.65" width="8.50" height="2.40" fill="rgb(135,132,22)"/><rect x="160.75" y="454.00" width="8.50" height="2.40" fill="rgb(135,132,22)"/><rect x="160.75" y="456.35" width="8.50" height="2.40" fill="rgb(135,132,22)"/><rect x="160.75" y="458.70" width="8.50" height="2.40" fill="rgb(135,132,22)"/><rect x="160.75" y="461.05" width="8.50" height="2.40" fill="rgb(135,132,22)"/><rect x="160.75" y="463.40" width="8.50" height="2.40" fill="rgb(135,132,22)"/><rect x="160.75" y="465.75" width="8.50" height="1.10" fill="rgb(135,132,22)"/></g></g><path d="M19.0 480.3 L170.8 469.9 L170.8 481.7 L19.0 481.7 Z" fill="#000"/><path d="M21.33 467v1.4M29.77 467v1.4M38.23 467v1.4M46.67 467v1.4M55.12 467v1.4M63.57 467v1.4M72.03 467v1.4M80.47 467v1.4M88.92 467v1.4M97.38 467v1.4M105.82 467v1.4M114.28 467v1.4M122.72 467v1.4M131.17 467v1.4M139.62 467v1.4M148.07 467v1.4M156.52 467v1.4M164.97 467v1.4" stroke="#aaa" stroke-width="0.8"/><text x="28.70" y="495.70" font-size="11.5" text-anchor="start" font-weight="normal" fill="#000" >Ratio MFI (IL-10<tspan font-size="8" dy="-4">+</tspan><tspan dy="4">:IL-10</tspan><tspan font-size="8" dy="-4">−</tspan><tspan dy="4">)</tspan></text><text transform="translate(10.60,328.20) rotate(-90)" font-size="10.4" text-anchor="start" fill="#000">Downregulated genes</text><text transform="translate(10.60,455.60) rotate(-90)" font-size="10.4" text-anchor="start" fill="#000">Upregulated genes</text><defs><linearGradient id="lg" x1="0" y1="0" x2="0" y2="1"><stop offset="0" stop-color="#f2f200"/><stop offset="0.12" stop-color="#e0e000"/><stop offset="0.3" stop-color="#7a7a10"/><stop offset="0.5" stop-color="#000"/><stop offset="0.68" stop-color="#151050"/><stop offset="0.95" stop-color="#1818e8"/><stop offset="1" stop-color="#1818f0"/></linearGradient></defs><rect x="178" y="328" width="10.2" height="31.6" fill="url(#lg)"/><text x="175.20" y="321.20" font-size="5.7" text-anchor="start" font-weight="normal" fill="#333" >Value</text><text x="189.30" y="330.40" font-size="6.0" text-anchor="start" font-weight="normal" fill="#222" >3</text><text x="189.30" y="336.40" font-size="6.0" text-anchor="start" font-weight="normal" fill="#222" >2</text><text x="189.30" y="341.60" font-size="6.0" text-anchor="start" font-weight="normal" fill="#222" >1</text><text x="189.30" y="345.60" font-size="6.0" text-anchor="start" font-weight="normal" fill="#222" >0</text><text x="189.30" y="351.00" font-size="6.0" text-anchor="start" font-weight="normal" fill="#222" >−1</text><text x="189.30" y="356.80" font-size="6.0" text-anchor="start" font-weight="normal" fill="#222" >−2</text><text x="189.30" y="361.70" font-size="6.0" text-anchor="start" font-weight="normal" fill="#222" >−3</text><line x1="514.03" y1="45.60" x2="514.03" y2="151.60" stroke="#cfcfcf" stroke-width="0.6" stroke-dasharray="1,1.2"/><line x1="529.07" y1="45.60" x2="529.07" y2="151.60" stroke="#cfcfcf" stroke-width="0.6" stroke-dasharray="1,1.2"/><line x1="544.11" y1="45.60" x2="544.11" y2="151.60" stroke="#cfcfcf" stroke-width="0.6" stroke-dasharray="1,1.2"/><line x1="559.14" y1="45.60" x2="559.14" y2="151.60" stroke="#cfcfcf" stroke-width="0.6" stroke-dasharray="1,1.2"/><line x1="574.17" y1="45.60" x2="574.17" y2="151.60" stroke="#cfcfcf" stroke-width="0.6" stroke-dasharray="1,1.2"/><line x1="589.21" y1="45.60" x2="589.21" y2="151.60" stroke="#cfcfcf" stroke-width="0.6" stroke-dasharray="1,1.2"/><line x1="604.25" y1="45.60" x2="604.25" y2="151.60" stroke="#cfcfcf" stroke-width="0.6" stroke-dasharray="1,1.2"/><line x1="619.28" y1="45.60" x2="619.28" y2="151.60" stroke="#cfcfcf" stroke-width="0.6" stroke-dasharray="1,1.2"/><line x1="634.32" y1="45.60" x2="634.32" y2="151.60" stroke="#cfcfcf" stroke-width="0.6" stroke-dasharray="1,1.2"/><line x1="649.35" y1="45.60" x2="649.35" y2="151.60" stroke="#cfcfcf" stroke-width="0.6" stroke-dasharray="1,1.2"/><line x1="664.38" y1="45.60" x2="664.38" y2="151.60" stroke="#cfcfcf" stroke-width="0.6" stroke-dasharray="1,1.2"/><rect x="499.00" y="50.80" width="150.60" height="7.20" fill="#fff" stroke="#e2e2e2" stroke-width="0.9"/><rect x="499.00" y="50.90" width="34.50" height="7.00" fill="#22f022"/><text x="652.00" y="57.00" font-size="7.4" text-anchor="start" font-weight="normal" fill="#222" >26</text><text x="493.50" y="59.10" font-size="11.5" text-anchor="end" font-weight="normal" fill="#111" >SP cholesterol biosynthesis</text><rect x="499.00" y="65.45" width="150.60" height="7.20" fill="#fff" stroke="#e2e2e2" stroke-width="0.9"/><rect x="499.00" y="65.55" width="40.80" height="7.00" fill="#22f022"/><text x="652.00" y="71.65" font-size="7.4" text-anchor="start" font-weight="normal" fill="#222" >11</text><text x="493.50" y="73.75" font-size="11.5" text-anchor="end" font-weight="normal" fill="#111" >Mevalonate pathway I</text><rect x="499.00" y="80.10" width="150.60" height="7.20" fill="#fff" stroke="#e2e2e2" stroke-width="0.9"/><rect x="499.00" y="80.20" width="34.50" height="7.00" fill="#22f022"/><text x="652.00" y="86.30" font-size="7.4" text-anchor="start" font-weight="normal" fill="#222" >13</text><text x="493.50" y="88.40" font-size="11.5" text-anchor="end" font-weight="normal" fill="#111" >Cholesterol biosynthesis I</text><rect x="499.00" y="94.75" width="150.60" height="7.20" fill="#fff" stroke="#e2e2e2" stroke-width="0.9"/><rect x="499.00" y="94.85" width="34.50" height="7.00" fill="#22f022"/><text x="652.00" y="100.95" font-size="7.4" text-anchor="start" font-weight="normal" fill="#222" >13</text><text x="493.50" y="103.05" font-size="11.5" text-anchor="end" font-weight="normal" fill="#111" >Cholesterol biosynthesis II (via 24,25-dihydrolanosterol)</text><rect x="499.00" y="109.40" width="150.60" height="7.20" fill="#fff" stroke="#e2e2e2" stroke-width="0.9"/><rect x="499.00" y="109.50" width="34.50" height="7.00" fill="#22f022"/><text x="652.00" y="115.60" font-size="7.4" text-anchor="start" font-weight="normal" fill="#222" >13</text><text x="493.50" y="117.70" font-size="11.5" text-anchor="end" font-weight="normal" fill="#111" >Cholesterol biosynthesis III (via desmosterol)</text><rect x="499.00" y="124.05" width="150.60" height="7.20" fill="#fff" stroke="#e2e2e2" stroke-width="0.9"/><rect x="499.00" y="124.15" width="29.80" height="7.00" fill="#22f022"/><text x="652.00" y="130.25" font-size="7.4" text-anchor="start" font-weight="normal" fill="#222" >15</text><text x="493.50" y="132.35" font-size="11.5" text-anchor="end" font-weight="normal" fill="#111" >SP geranyldiphosphate biosynthesis (via mevalonate)</text><rect x="499.00" y="138.70" width="150.60" height="7.20" fill="#fff" stroke="#e2e2e2" stroke-width="0.9"/><rect x="499.00" y="138.80" width="4.70" height="7.00" fill="#22f022"/><text x="652.00" y="144.90" font-size="7.4" text-anchor="start" font-weight="normal" fill="#222" >115</text><text x="493.50" y="147.00" font-size="11.5" text-anchor="end" font-weight="normal" fill="#111" >LXR/RXR activation</text><rect x="499.00" y="45.60" width="180.60" height="106.00" fill="none" stroke="#4a4a4a" stroke-width="1.3"/><line x1="499.00" y1="45.60" x2="499.00" y2="44.10" stroke="#444" stroke-width="1.0"/><text transform="translate(502.90,39.50) rotate(-90)" font-size="11" text-anchor="start" fill="#000">0</text><line x1="514.03" y1="45.60" x2="514.03" y2="44.10" stroke="#444" stroke-width="1.0"/><text transform="translate(517.93,39.50) rotate(-90)" font-size="11" text-anchor="start" fill="#000">10</text><line x1="529.07" y1="45.60" x2="529.07" y2="44.10" stroke="#444" stroke-width="1.0"/><text transform="translate(532.97,39.50) rotate(-90)" font-size="11" text-anchor="start" fill="#000">20</text><line x1="544.11" y1="45.60" x2="544.11" y2="44.10" stroke="#444" stroke-width="1.0"/><text transform="translate(548.00,39.50) rotate(-90)" font-size="11" text-anchor="start" fill="#000">30</text><line x1="559.14" y1="45.60" x2="559.14" y2="44.10" stroke="#444" stroke-width="1.0"/><text transform="translate(563.04,39.50) rotate(-90)" font-size="11" text-anchor="start" fill="#000">40</text><line x1="574.17" y1="45.60" x2="574.17" y2="44.10" stroke="#444" stroke-width="1.0"/><text transform="translate(578.07,39.50) rotate(-90)" font-size="11" text-anchor="start" fill="#000">50</text><line x1="589.21" y1="45.60" x2="589.21" y2="44.10" stroke="#444" stroke-width="1.0"/><text transform="translate(593.11,39.50) rotate(-90)" font-size="11" text-anchor="start" fill="#000">60</text><line x1="604.25" y1="45.60" x2="604.25" y2="44.10" stroke="#444" stroke-width="1.0"/><text transform="translate(608.14,39.50) rotate(-90)" font-size="11" text-anchor="start" fill="#000">70</text><line x1="619.28" y1="45.60" x2="619.28" y2="44.10" stroke="#444" stroke-width="1.0"/><text transform="translate(623.18,39.50) rotate(-90)" font-size="11" text-anchor="start" fill="#000">80</text><line x1="634.32" y1="45.60" x2="634.32" y2="44.10" stroke="#444" stroke-width="1.0"/><text transform="translate(638.22,39.50) rotate(-90)" font-size="11" text-anchor="start" fill="#000">90</text><line x1="649.35" y1="45.60" x2="649.35" y2="44.10" stroke="#444" stroke-width="1.0"/><text transform="translate(653.25,39.50) rotate(-90)" font-size="11" text-anchor="start" fill="#000">100</text><line x1="664.38" y1="45.60" x2="664.38" y2="44.10" stroke="#444" stroke-width="1.0"/><text transform="translate(668.28,39.50) rotate(-90)" font-size="11" text-anchor="start" fill="#000">110</text><line x1="679.42" y1="45.60" x2="679.42" y2="44.10" stroke="#444" stroke-width="1.0"/><text transform="translate(683.32,39.50) rotate(-90)" font-size="11" text-anchor="start" fill="#000">120</text><line x1="499.00" y1="151.60" x2="499.00" y2="153.10" stroke="#444" stroke-width="1.0"/><text transform="translate(502.90,161.00) rotate(-90)" font-size="11" text-anchor="end" fill="#000">0.0</text><line x1="512.75" y1="151.60" x2="512.75" y2="153.10" stroke="#444" stroke-width="1.0"/><text transform="translate(516.65,161.00) rotate(-90)" font-size="11" text-anchor="end" fill="#000">0.5</text><line x1="526.50" y1="151.60" x2="526.50" y2="153.10" stroke="#444" stroke-width="1.0"/><text transform="translate(530.40,161.00) rotate(-90)" font-size="11" text-anchor="end" fill="#000">1.0</text><line x1="540.25" y1="151.60" x2="540.25" y2="153.10" stroke="#444" stroke-width="1.0"/><text transform="translate(544.15,161.00) rotate(-90)" font-size="11" text-anchor="end" fill="#000">1.5</text><line x1="554.00" y1="151.60" x2="554.00" y2="153.10" stroke="#444" stroke-width="1.0"/><text transform="translate(557.90,161.00) rotate(-90)" font-size="11" text-anchor="end" fill="#000">2.0</text><line x1="567.75" y1="151.60" x2="567.75" y2="153.10" stroke="#444" stroke-width="1.0"/><text transform="translate(571.65,161.00) rotate(-90)" font-size="11" text-anchor="end" fill="#000">2.5</text><line x1="581.50" y1="151.60" x2="581.50" y2="153.10" stroke="#444" stroke-width="1.0"/><text transform="translate(585.40,161.00) rotate(-90)" font-size="11" text-anchor="end" fill="#000">3.0</text><line x1="595.25" y1="151.60" x2="595.25" y2="153.10" stroke="#444" stroke-width="1.0"/><text transform="translate(599.15,161.00) rotate(-90)" font-size="11" text-anchor="end" fill="#000">3.5</text><line x1="609.00" y1="151.60" x2="609.00" y2="153.10" stroke="#444" stroke-width="1.0"/><text transform="translate(612.90,161.00) rotate(-90)" font-size="11" text-anchor="end" fill="#000">4.0</text><line x1="622.75" y1="151.60" x2="622.75" y2="153.10" stroke="#444" stroke-width="1.0"/><text transform="translate(626.65,161.00) rotate(-90)" font-size="11" text-anchor="end" fill="#000">4.5</text><line x1="636.50" y1="151.60" x2="636.50" y2="153.10" stroke="#444" stroke-width="1.0"/><text transform="translate(640.40,161.00) rotate(-90)" font-size="11" text-anchor="end" fill="#000">5.0</text><line x1="650.25" y1="151.60" x2="650.25" y2="153.10" stroke="#444" stroke-width="1.0"/><text transform="translate(654.15,161.00) rotate(-90)" font-size="11" text-anchor="end" fill="#000">5.5</text><line x1="664.00" y1="151.60" x2="664.00" y2="153.10" stroke="#444" stroke-width="1.0"/><text transform="translate(667.90,161.00) rotate(-90)" font-size="11" text-anchor="end" fill="#000">6.0</text><line x1="677.75" y1="151.60" x2="677.75" y2="153.10" stroke="#444" stroke-width="1.0"/><text transform="translate(681.65,161.00) rotate(-90)" font-size="11" text-anchor="end" fill="#000">6.5</text><path d="M677.10 54.60 L583.10 69.40 L583.10 84.00 L583.10 98.40 L583.10 113.20 L579.80 127.90 L535.30 142.50" fill="none" stroke="#f8a43a" stroke-width="1.0"/><rect x="675.30" y="52.80" width="3.6" height="3.6" fill="#f7941d"/><rect x="581.30" y="67.60" width="3.6" height="3.6" fill="#f7941d"/><rect x="581.30" y="82.20" width="3.6" height="3.6" fill="#f7941d"/><rect x="581.30" y="96.60" width="3.6" height="3.6" fill="#f7941d"/><rect x="581.30" y="111.40" width="3.6" height="3.6" fill="#f7941d"/><rect x="578.00" y="126.10" width="3.6" height="3.6" fill="#f7941d"/><rect x="533.50" y="140.70" width="3.6" height="3.6" fill="#f7941d"/><text x="588.90" y="14.60" font-size="11.4" text-anchor="middle" font-weight="normal" fill="#000" >Percentage</text><text x="587.60" y="194.20" font-size="11.3" text-anchor="middle" font-weight="normal" fill="#000" >–log (<tspan font-style="italic">p</tspan> value)</text><line x1="519.37" y1="270.30" x2="519.37" y2="370.50" stroke="#cfcfcf" stroke-width="0.6" stroke-dasharray="1,1.2"/><line x1="534.13" y1="270.30" x2="534.13" y2="370.50" stroke="#cfcfcf" stroke-width="0.6" stroke-dasharray="1,1.2"/><line x1="548.90" y1="270.30" x2="548.90" y2="370.50" stroke="#cfcfcf" stroke-width="0.6" stroke-dasharray="1,1.2"/><line x1="563.67" y1="270.30" x2="563.67" y2="370.50" stroke="#cfcfcf" stroke-width="0.6" stroke-dasharray="1,1.2"/><line x1="578.44" y1="270.30" x2="578.44" y2="370.50" stroke="#cfcfcf" stroke-width="0.6" stroke-dasharray="1,1.2"/><line x1="593.20" y1="270.30" x2="593.20" y2="370.50" stroke="#cfcfcf" stroke-width="0.6" stroke-dasharray="1,1.2"/><line x1="607.97" y1="270.30" x2="607.97" y2="370.50" stroke="#cfcfcf" stroke-width="0.6" stroke-dasharray="1,1.2"/><line x1="622.74" y1="270.30" x2="622.74" y2="370.50" stroke="#cfcfcf" stroke-width="0.6" stroke-dasharray="1,1.2"/><line x1="637.50" y1="270.30" x2="637.50" y2="370.50" stroke="#cfcfcf" stroke-width="0.6" stroke-dasharray="1,1.2"/><line x1="652.27" y1="270.30" x2="652.27" y2="370.50" stroke="#cfcfcf" stroke-width="0.6" stroke-dasharray="1,1.2"/><line x1="667.04" y1="270.30" x2="667.04" y2="370.50" stroke="#cfcfcf" stroke-width="0.6" stroke-dasharray="1,1.2"/><rect x="504.60" y="274.60" width="147.60" height="10.00" fill="#fff" stroke="#e2e2e2" stroke-width="0.9"/><rect x="504.60" y="274.90" width="76.30" height="9.40" fill="#22f022"/><text x="654.50" y="282.20" font-size="7.4" text-anchor="start" font-weight="normal" fill="#222" >27</text><text x="499.00" y="282.80" font-size="11.5" text-anchor="end" font-weight="normal" fill="#111" >SP cholesterol biosynthesis</text><rect x="504.60" y="290.80" width="147.60" height="10.00" fill="#fff" stroke="#e2e2e2" stroke-width="0.9"/><rect x="504.60" y="291.10" width="90.80" height="9.40" fill="#22f022"/><text x="654.50" y="298.40" font-size="7.4" text-anchor="start" font-weight="normal" fill="#222" >13</text><text x="499.00" y="299.00" font-size="11.5" text-anchor="end" font-weight="normal" fill="#111" >Cholesterol biosynthesis I</text><rect x="504.60" y="307.00" width="147.60" height="10.00" fill="#fff" stroke="#e2e2e2" stroke-width="0.9"/><rect x="504.60" y="307.30" width="90.80" height="9.40" fill="#22f022"/><text x="654.50" y="314.60" font-size="7.4" text-anchor="start" font-weight="normal" fill="#222" >13</text><text x="499.00" y="315.20" font-size="11.5" text-anchor="end" font-weight="normal" fill="#111" >Cholesterol biosynthesis II (via 24,25-dihydrolanosterol)</text><rect x="504.60" y="323.20" width="147.60" height="10.00" fill="#fff" stroke="#e2e2e2" stroke-width="0.9"/><rect x="504.60" y="323.50" width="90.80" height="9.40" fill="#22f022"/><text x="654.50" y="330.80" font-size="7.4" text-anchor="start" font-weight="normal" fill="#222" >13</text><text x="499.00" y="331.40" font-size="11.5" text-anchor="end" font-weight="normal" fill="#111" >Cholesterol biosynthesis III (via desmosterol)</text><rect x="504.60" y="339.40" width="147.60" height="10.00" fill="#fff" stroke="#e2e2e2" stroke-width="0.9"/><rect x="504.60" y="339.70" width="55.60" height="9.40" fill="#22f022"/><text x="654.50" y="347.00" font-size="7.4" text-anchor="start" font-weight="normal" fill="#222" >16</text><text x="499.00" y="347.60" font-size="11.5" text-anchor="end" font-weight="normal" fill="#111" >SP geranyldiphosphate biosynthesis (via mevalonate)</text><rect x="504.60" y="355.60" width="147.60" height="10.00" fill="#fff" stroke="#e2e2e2" stroke-width="0.9"/><rect x="504.60" y="355.90" width="61.50" height="9.40" fill="#22f022"/><text x="654.50" y="363.20" font-size="7.4" text-anchor="start" font-weight="normal" fill="#222" >12</text><text x="499.00" y="363.80" font-size="11.5" text-anchor="end" font-weight="normal" fill="#111" >Mevalonate pathway I</text><rect x="504.60" y="270.30" width="177.50" height="100.20" fill="none" stroke="#111" stroke-width="1.3"/><line x1="504.60" y1="270.30" x2="504.60" y2="267.50" stroke="#111" stroke-width="1.2"/><text transform="translate(508.00,262.80) rotate(-90)" font-size="11" text-anchor="start" fill="#000">0</text><line x1="519.37" y1="270.30" x2="519.37" y2="267.50" stroke="#111" stroke-width="1.2"/><text transform="translate(522.77,262.80) rotate(-90)" font-size="11" text-anchor="start" fill="#000">10</text><line x1="534.13" y1="270.30" x2="534.13" y2="267.50" stroke="#111" stroke-width="1.2"/><text transform="translate(537.53,262.80) rotate(-90)" font-size="11" text-anchor="start" fill="#000">20</text><line x1="548.90" y1="270.30" x2="548.90" y2="267.50" stroke="#111" stroke-width="1.2"/><text transform="translate(552.30,262.80) rotate(-90)" font-size="11" text-anchor="start" fill="#000">30</text><line x1="563.67" y1="270.30" x2="563.67" y2="267.50" stroke="#111" stroke-width="1.2"/><text transform="translate(567.07,262.80) rotate(-90)" font-size="11" text-anchor="start" fill="#000">40</text><line x1="578.44" y1="270.30" x2="578.44" y2="267.50" stroke="#111" stroke-width="1.2"/><text transform="translate(581.84,262.80) rotate(-90)" font-size="11" text-anchor="start" fill="#000">50</text><line x1="593.20" y1="270.30" x2="593.20" y2="267.50" stroke="#111" stroke-width="1.2"/><text transform="translate(596.60,262.80) rotate(-90)" font-size="11" text-anchor="start" fill="#000">60</text><line x1="607.97" y1="270.30" x2="607.97" y2="267.50" stroke="#111" stroke-width="1.2"/><text transform="translate(611.37,262.80) rotate(-90)" font-size="11" text-anchor="start" fill="#000">70</text><line x1="622.74" y1="270.30" x2="622.74" y2="267.50" stroke="#111" stroke-width="1.2"/><text transform="translate(626.14,262.80) rotate(-90)" font-size="11" text-anchor="start" fill="#000">80</text><line x1="637.50" y1="270.30" x2="637.50" y2="267.50" stroke="#111" stroke-width="1.2"/><text transform="translate(640.90,262.80) rotate(-90)" font-size="11" text-anchor="start" fill="#000">90</text><line x1="652.27" y1="270.30" x2="652.27" y2="267.50" stroke="#111" stroke-width="1.2"/><text transform="translate(655.67,262.80) rotate(-90)" font-size="11" text-anchor="start" fill="#000">100</text><line x1="667.04" y1="270.30" x2="667.04" y2="267.50" stroke="#111" stroke-width="1.2"/><text transform="translate(670.44,262.80) rotate(-90)" font-size="11" text-anchor="start" fill="#000">110</text><line x1="681.80" y1="270.30" x2="681.80" y2="267.50" stroke="#111" stroke-width="1.2"/><text transform="translate(685.20,262.80) rotate(-90)" font-size="11" text-anchor="start" fill="#000">120</text><line x1="504.60" y1="370.50" x2="504.60" y2="373.30" stroke="#111" stroke-width="1.2"/><text transform="translate(508.00,379.70) rotate(-90)" font-size="11" text-anchor="end" fill="#000">0</text><line x1="520.01" y1="370.50" x2="520.01" y2="373.30" stroke="#111" stroke-width="1.2"/><text transform="translate(523.41,379.70) rotate(-90)" font-size="11" text-anchor="end" fill="#000">1</text><line x1="535.42" y1="370.50" x2="535.42" y2="373.30" stroke="#111" stroke-width="1.2"/><text transform="translate(538.82,379.70) rotate(-90)" font-size="11" text-anchor="end" fill="#000">2</text><line x1="550.83" y1="370.50" x2="550.83" y2="373.30" stroke="#111" stroke-width="1.2"/><text transform="translate(554.23,379.70) rotate(-90)" font-size="11" text-anchor="end" fill="#000">3</text><line x1="566.24" y1="370.50" x2="566.24" y2="373.30" stroke="#111" stroke-width="1.2"/><text transform="translate(569.64,379.70) rotate(-90)" font-size="11" text-anchor="end" fill="#000">4</text><line x1="581.65" y1="370.50" x2="581.65" y2="373.30" stroke="#111" stroke-width="1.2"/><text transform="translate(585.05,379.70) rotate(-90)" font-size="11" text-anchor="end" fill="#000">5</text><line x1="597.06" y1="370.50" x2="597.06" y2="373.30" stroke="#111" stroke-width="1.2"/><text transform="translate(600.46,379.70) rotate(-90)" font-size="11" text-anchor="end" fill="#000">6</text><line x1="612.47" y1="370.50" x2="612.47" y2="373.30" stroke="#111" stroke-width="1.2"/><text transform="translate(615.87,379.70) rotate(-90)" font-size="11" text-anchor="end" fill="#000">7</text><line x1="627.88" y1="370.50" x2="627.88" y2="373.30" stroke="#111" stroke-width="1.2"/><text transform="translate(631.28,379.70) rotate(-90)" font-size="11" text-anchor="end" fill="#000">8</text><line x1="643.29" y1="370.50" x2="643.29" y2="373.30" stroke="#111" stroke-width="1.2"/><text transform="translate(646.69,379.70) rotate(-90)" font-size="11" text-anchor="end" fill="#000">9</text><line x1="658.70" y1="370.50" x2="658.70" y2="373.30" stroke="#111" stroke-width="1.2"/><text transform="translate(662.10,379.70) rotate(-90)" font-size="11" text-anchor="end" fill="#000">10</text><line x1="674.11" y1="370.50" x2="674.11" y2="373.30" stroke="#111" stroke-width="1.2"/><text transform="translate(677.51,379.70) rotate(-90)" font-size="11" text-anchor="end" fill="#000">11</text><path d="M679.70 279.80 L612.60 296.30 L612.60 312.40 L612.60 328.10 L555.90 344.80 L549.10 360.70" fill="none" stroke="#ecbc66" stroke-width="0.9"/><rect x="677.90" y="277.50" width="3.6" height="4.6" fill="#f7941d"/><rect x="610.80" y="294.00" width="3.6" height="4.6" fill="#f7941d"/><rect x="610.80" y="310.10" width="3.6" height="4.6" fill="#f7941d"/><rect x="610.80" y="325.80" width="3.6" height="4.6" fill="#f7941d"/><rect x="554.10" y="342.50" width="3.6" height="4.6" fill="#f7941d"/><rect x="547.30" y="358.40" width="3.6" height="4.6" fill="#f7941d"/><text x="588.90" y="239.10" font-size="11.4" text-anchor="middle" font-weight="normal" fill="#000" >Percentage</text><text x="593.20" y="406.30" font-size="11.3" text-anchor="middle" font-weight="normal" fill="#000" >–log (<tspan font-style="italic">p</tspan> value)</text></svg></body></html>
